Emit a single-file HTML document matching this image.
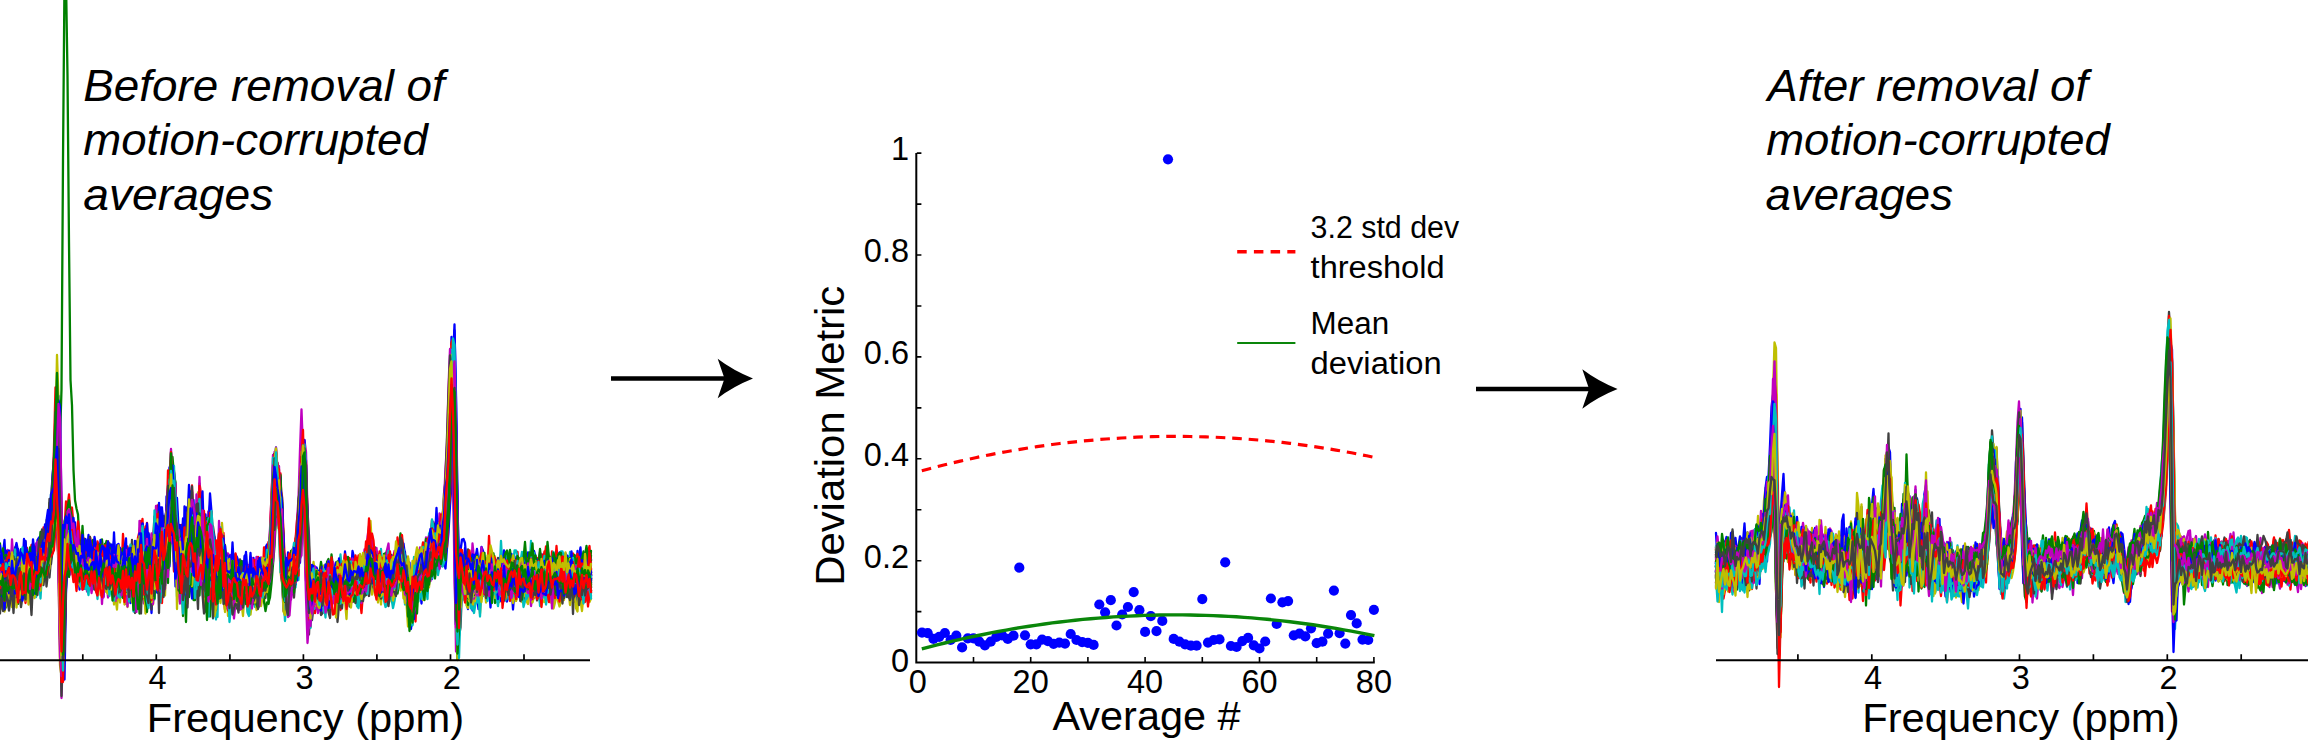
<!DOCTYPE html>
<html lang="en"><head><meta charset="utf-8"><title>Removal of motion-corrupted averages</title>
<style>html,body{margin:0;padding:0;background:#fff}body{width:2308px;height:752px;overflow:hidden}svg{display:block}text{font-family:"Liberation Sans", "DejaVu Sans", sans-serif;fill:#000}.it{font-style:italic;font-size:44px}.tk{font-size:32.5px}.lb{font-size:40px}.lg{font-size:31px}.sp path{fill:none;stroke-width:4.6;stroke-linejoin:round;stroke-linecap:round}</style></head><body>
<svg width="2308" height="752" viewBox="0 0 2308 752">
<rect width="2308" height="752" fill="#fff"/>
<g class="sp" transform="scale(.5)">
<path stroke="#0000ff" d="M0 1113l3 18 3 10 3 8 3-10 3 5 3-15 3 31 3-19 3-5 3 15 3 2 3-14 3-2 3 11 3-5 3 9 3-22 3 14 3 28 3-24 3-19 3 4 3 20 3-31 3 2 3-4 3-19 3 31 3-22 3 8 3-31 3-14 3-4 3-20 3 7 3-48 3 4 3-91 3-12 3 78 3 134 3 97 3 9 3-133 3-13 3-38 3 6 3-17 3 31 3-18 3 55 3-24 3 31 3-5 3 43 3 6 3-47 3 45 3-10 3 0 3 11 3-18 3 27 3-1 3-36 3 28 3-28 3 5 3-15 3 18 3 44 3-18 3-2 3-27 3 18 3 14 3-17 3 14 3-15 3 9 3-19 3 17 3-14 3 21 3-13 3 21 3-18 3 11 3 7 3 5 3-6 3-21 3 75 3-117 3 92 3-76 3 17 3-19 3 23 3 15 3-1 3-28 3-48 3 50 3 62 3-60 3-15 3-84 3 135 3-15 3-36 3-6 3 28 3-113 3 26 3-50 3-12 3 130 3-1 3-47 3 74 3 33 3-10 3-41 3 73 3-37 3 10 3-36 3-81 3 66 3 25 3-29 3 25 3-6 3-68 3 32 3 67 3-48 3-33 3 5 3-20 3 76 3-8 3 63 3-81 3 35 3-49 3 40 3-49 3 80 3-14 3-14 3 10 3 12 3 30 3-58 3 11 3-8 3 1 3 28 3-11 3-38 3 59 3-19 3 17 3-38 3 25 3 21 3-7 3 14 3 13 3 7 3-34 3 6 3-24 3 16 3-18 3-29 3 45 3-9 3-51 3-51 3-1 3-62 3-37 3 40 3-6 3 71 3 46 3 43 3 60 3 4 3-54 3-14 3 19 3-39 3 8 3 3 3-14 3-16 3-45 3-57 3-34 3 63 3 44 3 91 3 47 3-37 3 29 3-43 3 29 3 13 3-5 3-51 3 13 3 26 3-24 3-15 3 41 3-10 3-19 3 6 3 13 3-32 3 19 3-6 3-26 3 31 3-36 3 37 3 7 3-8 3-10 3 3 3 3 3 28 3-5 3-11 3-17 3-14 3 60 3-40 3 3 3-9 3-12 3 1 3-16 3-44 3 22 3 35 3 5 3 12 3 15 3-31 3 24 3 8 3-10 3-35 3 17 3 4 3 1 3-14 3 1 3 30 3-22 3-5 3-25 3 3 3 42 3-40 3 25 3 38 3-32 3 35 3 16 3-6 3-22 3-5 3 11 3-18 3-16 3-1 3-8 3 6 3 28 3-50 3 18 3 4 3-23 3 11 3-27 3 22 3-46 3 34 3 2 3-5 3 11 3-41 3-31 3-54 3-41 3-122 3-72 3 92 3 163 3 156 3 17 3-29 3-19 3 18 3 29 3 15 3-58 3 30 3 31 3-26 3-10 3 6 3 27 3-55 3 14 3 11 3-15 3 12 3 2 3-17 3 45 3-46 3 9 3-4 3-1 3-7 3-1 3 8 3 20 3-15 3 17 3 8 3-21 3 3 3-15 3 49 3-40 3 2 3 7 3-21 3 35 3-18 3 11 3-5 3 11 3-13 3-17 3 10 3-3 3 16 3-36 3 30 3-10 3-8 3 11 3-13 3 10 3-24 3 16 3 0 3 17 3-22 3-9 3 8 3 18 3-5 3-6 3 1 3 18 3-49 3 29 3-2 3 6 3-2 3-27 3 42 3-8 3 8 3-6 3-28 3 32 3-4 3 20 3-23 3-8 3 10 3 1 3-15"/>
<path stroke="#008000" d="M0 1132l3 27 3-13 3-10 3 8 3-6 3 10 3-11 3 39 3-51 3 15 3 27 3-62 3 25 3-31 3 51 3-25 3-5 3 5 3 28 3-34 3 14 3-7 3-23 3 14 3-10 3-4 3 5 3-4 3-3 3 32 3-1 3-64 3-21 3-3 3-2 3-39 3 13 3-34 3-69 3 85 3 70 3 111 3-17 3-83 3-12 3-24 3-1 3 7 3 5 3 13 3 17 3 5 3 13 3 36 3-10 3-24 3 29 3-2 3-2 3-43 3 18 3-24 3 55 3-34 3 8 3-21 3 42 3-51 3 32 3-17 3-12 3 21 3-16 3 32 3-18 3 37 3-1 3-32 3 17 3 16 3-39 3 16 3 21 3-8 3 35 3 5 3 3 3-17 3 10 3-28 3-1 3 12 3-13 3-3 3 48 3-76 3 83 3-91 3 36 3-8 3 36 3-40 3 6 3-31 3-3 3 8 3 58 3-75 3 16 3 14 3 10 3 6 3-55 3-30 3-27 3 31 3 40 3-27 3 32 3 15 3-22 3-8 3-12 3 44 3 28 3 9 3-61 3 37 3-50 3 37 3 41 3-40 3-7 3-83 3 148 3 1 3-28 3-11 3 21 3-34 3-5 3-34 3 56 3 37 3-15 3-19 3 2 3-1 3-15 3 48 3 44 3-56 3 17 3 0 3-62 3 66 3-33 3 5 3 6 3 32 3-44 3 8 3 3 3-1 3 30 3-55 3 30 3 17 3-28 3 32 3-12 3 0 3-18 3 9 3 17 3-15 3 0 3-11 3-2 3-43 3 25 3-47 3-26 3-43 3-23 3 46 3-1 3 21 3 83 3 17 3 43 3-38 3 3 3 17 3-29 3-33 3 1 3 11 3-31 3-47 3 25 3-127 3-9 3 55 3 58 3 88 3 18 3 10 3-10 3-11 3 5 3 28 3-39 3-23 3 18 3-3 3 18 3-33 3-6 3 42 3-51 3 26 3 11 3-21 3 35 3-5 3-16 3 2 3-18 3 14 3 12 3 18 3-8 3-23 3 4 3-10 3 34 3-22 3 54 3-55 3 0 3-14 3-10 3 32 3-58 3 24 3-41 3-3 3 52 3 11 3-31 3 9 3 1 3 0 3 19 3-24 3 17 3-24 3-2 3 43 3-32 3 22 3-7 3 5 3 9 3-27 3 23 3-21 3-6 3 2 3 33 3 5 3 14 3 17 3-10 3-3 3-7 3-31 3-5 3-5 3-3 3 30 3-21 3 3 3-44 3 35 3-30 3-32 3 31 3-7 3 22 3-40 3 34 3-13 3 8 3-32 3 13 3-16 3-36 3-70 3-53 3-62 3-24 3 129 3 134 3 183 3-54 3-34 3-39 3-10 3 51 3 3 3-3 3-18 3-11 3 14 3 3 3-15 3 19 3-31 3 32 3-29 3 8 3-4 3 29 3-32 3 9 3-7 3 16 3-20 3 14 3 20 3-22 3 22 3-2 3-29 3 26 3-4 3-8 3 6 3-3 3-30 3 31 3-23 3 2 3-15 3 34 3-16 3 15 3-4 3-7 3-30 3 35 3 0 3 8 3 4 3-25 3 3 3 34 3-2 3-7 3-14 3-19 3 37 3-14 3-9 3 30 3-24 3 1 3 3 3 11 3-50 3 27 3-9 3 32 3-21 3 11 3-4 3-24 3 4 3 21 3 4 3 15 3-37 3 40 3-27 3-12 3-2 3-11 3 9 3 18 3-16 3 30 3-11"/>
<path stroke="#ff0000" d="M0 1126l3 11 3-4 3 23 3-43 3 34 3-13 3 11 3-11 3 24 3-22 3-5 3 32 3-43 3 36 3-5 3-1 3-34 3 29 3-2 3-17 3 3 3-20 3 29 3 2 3-1 3-2 3-30 3 1 3 8 3-11 3 29 3-66 3-5 3 31 3-49 3-29 3-50 3-1 3-40 3-1 3 99 3 180 3 94 3-129 3-74 3-13 3 28 3-34 3 37 3-2 3-17 3 21 3 17 3 4 3-10 3-2 3 8 3 14 3-21 3-6 3 36 3-31 3 22 3-5 3-21 3 37 3-20 3-33 3 4 3 34 3 6 3-41 3 21 3 1 3 33 3-29 3 32 3-18 3-35 3 7 3-7 3 26 3-6 3 16 3-54 3 57 3 22 3-23 3-42 3 41 3-23 3 43 3-26 3 7 3-19 3-38 3-20 3-26 3 56 3 59 3 3 3 15 3-48 3 22 3-32 3 22 3-86 3 63 3-34 3 26 3-93 3 100 3-102 3-78 3 13 3-7 3 82 3 2 3 64 3-42 3 114 3-69 3 44 3-2 3-42 3 25 3-29 3-74 3 76 3 13 3-23 3 68 3-66 3 67 3-33 3 20 3 53 3-66 3 65 3-96 3-11 3 76 3-13 3 10 3 37 3-24 3-33 3-23 3-49 3 61 3 22 3-16 3 5 3 26 3-9 3 17 3-7 3 36 3-8 3-45 3 28 3 9 3-33 3-23 3 19 3 9 3 6 3-33 3 0 3 25 3 8 3-8 3-7 3 10 3 2 3 1 3 11 3-24 3-15 3 20 3-20 3-55 3-12 3-84 3-13 3 43 3-32 3 12 3 76 3 60 3 22 3 44 3-13 3-27 3-18 3 4 3-17 3-14 3 25 3-35 3-36 3-74 3-30 3-39 3 117 3 60 3 80 3 12 3-24 3 29 3-26 3 14 3 22 3-35 3 37 3-29 3 15 3 0 3-29 3 18 3 8 3-19 3 21 3-33 3 33 3-21 3 17 3-19 3 26 3-12 3-14 3 34 3-15 3-10 3 13 3 0 3-16 3-1 3 37 3-11 3 27 3-42 3-14 3 16 3 0 3-40 3 0 3-50 3 24 3 67 3-31 3 4 3 1 3 12 3 22 3-25 3 11 3-35 3 19 3-12 3 36 3-18 3 0 3 5 3-11 3 10 3-38 3 17 3-1 3 6 3 22 3 14 3-17 3 21 3 45 3-30 3 29 3-63 3-17 3 2 3 18 3-29 3-21 3 3 3 20 3-27 3-34 3-5 3-10 3 18 3-13 3 17 3 6 3 18 3-17 3-22 3 2 3 4 3-74 3-27 3-93 3-64 3-75 3 112 3 154 3 219 3-25 3-62 3 6 3-14 3 2 3-4 3 5 3 30 3-45 3 8 3 16 3-24 3 18 3 5 3 12 3 19 3-41 3-13 3 5 3 0 3-19 3 51 3-35 3-20 3 30 3-29 3 34 3 4 3 19 3-40 3-4 3 2 3 2 3-7 3 13 3 23 3-26 3-4 3-33 3 46 3-9 3 26 3 2 3-11 3-34 3 19 3 1 3 10 3-12 3-12 3 4 3 11 3-6 3-2 3-2 3 5 3 8 3 17 3-20 3 3 3 0 3 7 3 13 3-32 3 20 3-10 3 6 3 12 3-26 3 33 3-20 3 7 3-5 3 13 3-29 3-8 3 9 3 15 3 15 3-47 3 57 3-10 3-22 3-1 3 21 3-23 3 25 3-29"/>
<path stroke="#00bfbf" d="M0 1124l3 30 3-38 3 42 3-7 3-18 3 23 3 1 3-50 3 38 3-1 3-10 3-19 3 23 3 21 3-39 3 10 3 7 3-9 3-13 3 13 3-11 3-3 3 9 3-11 3 12 3-10 3-12 3 17 3 12 3-32 3 21 3-34 3-20 3 9 3-8 3-25 3-18 3-54 3 4 3 69 3 151 3 30 3-93 3-61 3-4 3-50 3 2 3 23 3 14 3 33 3 15 3-16 3 1 3 32 3-4 3-19 3 22 3-25 3 11 3 65 3-56 3 36 3-19 3 9 3-53 3 39 3 0 3 19 3-36 3 28 3 20 3-42 3 15 3 13 3 3 3 4 3-23 3 29 3-27 3-4 3 29 3-3 3-7 3 34 3-35 3-32 3 18 3 32 3 1 3-75 3 55 3-26 3-16 3-27 3 27 3-26 3 34 3-37 3 87 3-25 3-6 3 4 3-26 3 25 3-30 3 11 3 0 3 70 3-35 3 0 3-19 3-68 3 32 3-50 3-1 3 13 3 15 3 105 3-72 3-19 3 49 3-2 3 51 3-78 3 34 3-20 3-14 3-25 3 0 3 33 3 38 3-2 3-109 3-2 3 32 3 12 3-6 3 24 3 35 3-3 3 19 3-55 3 22 3-23 3 87 3-23 3-34 3 36 3-62 3 36 3 17 3 14 3 33 3-37 3 42 3 0 3-29 3 16 3-19 3 39 3-36 3 16 3-18 3 2 3-23 3 3 3 45 3 1 3-33 3 17 3-25 3 17 3-17 3 15 3 8 3-15 3 9 3-7 3 3 3-33 3-4 3-15 3-50 3-85 3-11 3 70 3-34 3 97 3 34 3 45 3 37 3-53 3-1 3-14 3-5 3 28 3-1 3-44 3-6 3-58 3-7 3-107 3 19 3 131 3 26 3 79 3 23 3-22 3 6 3-5 3-14 3-24 3 28 3-21 3 19 3-9 3-34 3 8 3 6 3 12 3 28 3-60 3 19 3 2 3 22 3-22 3-4 3-23 3 28 3 8 3-21 3 17 3-6 3-10 3 10 3 5 3 6 3-14 3-33 3 44 3-21 3-5 3-33 3 59 3-51 3 2 3-32 3 14 3 21 3-7 3 10 3 6 3 19 3-61 3 52 3 14 3-16 3 6 3-2 3-21 3 26 3-4 3-15 3 21 3-34 3 28 3-34 3 20 3-24 3 34 3 4 3 17 3 0 3-2 3 24 3-14 3-37 3 25 3-21 3 28 3-20 3-29 3-11 3 21 3-10 3-19 3 23 3-15 3-20 3 29 3-27 3 20 3-7 3-4 3-17 3 2 3-43 3-25 3-22 3-91 3-54 3-89 3 48 3 107 3 208 3 61 3 12 3-17 3 5 3-4 3 9 3-6 3 7 3 3 3-5 3-2 3 7 3-7 3-1 3-33 3 18 3-19 3 5 3 30 3-30 3 17 3 0 3 17 3-47 3 28 3-3 3-14 3-32 3 22 3 39 3 3 3 10 3-33 3 2 3-4 3 29 3-9 3-17 3 6 3 10 3 1 3-31 3 23 3 1 3 1 3-16 3 16 3-6 3-18 3 26 3 3 3-6 3 5 3-29 3 57 3-30 3-33 3 21 3 39 3-20 3-18 3 27 3-24 3 29 3-36 3 16 3 4 3-6 3 10 3-9 3-15 3 26 3-17 3 5 3-13 3 10 3-4 3-23 3 26 3 2 3 5 3-8 3 15 3-5 3-26 3 25 3 20 3-27 3 13"/>
<path stroke="#bf00bf" d="M0 1165l3-30 3 25 3 30 3-63 3 19 3 20 3-7 3-19 3 18 3-11 3-17 3 20 3-11 3 3 3 4 3 17 3-40 3 32 3-19 3 30 3-27 3-9 3 19 3-5 3-44 3 8 3 26 3-37 3 11 3-25 3 13 3-36 3-19 3-12 3-18 3-68 3 19 3-44 3 72 3 154 3 138 3-70 3-109 3-51 3 29 3-13 3-3 3 4 3-2 3 11 3 23 3 43 3-38 3 4 3 9 3-6 3 24 3-33 3 15 3 27 3-22 3-12 3 14 3 4 3-21 3 17 3 4 3-7 3 7 3 8 3-3 3-18 3 1 3 10 3 27 3-23 3-12 3-1 3 38 3-32 3 1 3 4 3-20 3 98 3-49 3 6 3-60 3 40 3-35 3 38 3-14 3 7 3-54 3 31 3-19 3-6 3 44 3 48 3-2 3-26 3-87 3 66 3-53 3-36 3 59 3-13 3 38 3-42 3-12 3 48 3-65 3-16 3-90 3-56 3 52 3 88 3 49 3-34 3 31 3 22 3 28 3 15 3-41 3-15 3-67 3 0 3 3 3-37 3 171 3-50 3-68 3 2 3 12 3 24 3-14 3 72 3-68 3 75 3-11 3 4 3 5 3 51 3-50 3-17 3 26 3 11 3-38 3-21 3 55 3-15 3-42 3 55 3 14 3 10 3-47 3 35 3-9 3-39 3 42 3-18 3 2 3 20 3 7 3-55 3 10 3 22 3-42 3 45 3-2 3 16 3-21 3-5 3 12 3 1 3 8 3-1 3-11 3-36 3 5 3-26 3-68 3-71 3-55 3 20 3 41 3-5 3 28 3 72 3 71 3 12 3 1 3-14 3-3 3 17 3-5 3-32 3 7 3-25 3-65 3-21 3-60 3-60 3 63 3 110 3 114 3 11 3-7 3 0 3 10 3-20 3 16 3 1 3-18 3 18 3-22 3-6 3 23 3-5 3 0 3 5 3-13 3 13 3-1 3 11 3-22 3-5 3-7 3 19 3 6 3 15 3-25 3-12 3 3 3 8 3-24 3 29 3 14 3-11 3-16 3 5 3-38 3 35 3-13 3 10 3-9 3-46 3 8 3 57 3-24 3 3 3-13 3 27 3 10 3-3 3-16 3 28 3-22 3 6 3 7 3 10 3-18 3-20 3 3 3-16 3 32 3-36 3 25 3-11 3 23 3-23 3 43 3 3 3 68 3-55 3 32 3-24 3-29 3-31 3 31 3-30 3 24 3-39 3 9 3-15 3-3 3 6 3-4 3-25 3-8 3-7 3 9 3 9 3-7 3 0 3-15 3-36 3-39 3-48 3-71 3-115 3-66 3 5 3 185 3 249 3 50 3-67 3-4 3 21 3 3 3 53 3-48 3-8 3 35 3 25 3-35 3-16 3 20 3-28 3 6 3 11 3-12 3-6 3 13 3 22 3 6 3 5 3-6 3-39 3 8 3 26 3-32 3 32 3-22 3 0 3 13 3-6 3 8 3-6 3-16 3 30 3-20 3 26 3-40 3 39 3 0 3-13 3-2 3 1 3-9 3 27 3-42 3 33 3-4 3 5 3-2 3-25 3 17 3-11 3-31 3 19 3 8 3 31 3-33 3-5 3 13 3 20 3-20 3 8 3-30 3 11 3 2 3 15 3-2 3-23 3 2 3-8 3 15 3 4 3-11 3 21 3-8 3 6 3-20 3 30 3-11 3-8 3-8 3 9 3-4 3 6 3 10 3-19 3-17 3 17"/>
<path stroke="#bfbf00" d="M0 1210l3-45 3 20 3-57 3 20 3 29 3-15 3-4 3 24 3-35 3 14 3 14 3-14 3-9 3-15 3-10 3 43 3-22 3 28 3-40 3 26 3-34 3-3 3 26 3-40 3 3 3-13 3 30 3 9 3-34 3-12 3 20 3-27 3 22 3-43 3-25 3-57 3-1 3-65 3 35 3 76 3 159 3 101 3-157 3 8 3 2 3-55 3 29 3 21 3-15 3-3 3 33 3-22 3 21 3-45 3 29 3-11 3 18 3-1 3 30 3-13 3-25 3-32 3 72 3-55 3-8 3 61 3-12 3 18 3-37 3 20 3 10 3-3 3-6 3 21 3-45 3 29 3-5 3-10 3 18 3-19 3 37 3-19 3-31 3 15 3-35 3 36 3 29 3-12 3-24 3 13 3 16 3-69 3 72 3-65 3 11 3-26 3 49 3 15 3-31 3 51 3-5 3-1 3-11 3-74 3-12 3 3 3 60 3 10 3-9 3-53 3-41 3 46 3-50 3-32 3-27 3 78 3 32 3 22 3-8 3-8 3 41 3 9 3 31 3-4 3-71 3-16 3-51 3 67 3-35 3 11 3 1 3 25 3-100 3 28 3 82 3 53 3-4 3-23 3-2 3-32 3 74 3 33 3-131 3 76 3 23 3 15 3-76 3 37 3 15 3 41 3-8 3-9 3 26 3-79 3 28 3 2 3-13 3 41 3-31 3-9 3 37 3 28 3-47 3 9 3 4 3-11 3 20 3-7 3-9 3 5 3-9 3-31 3 31 3 11 3-43 3 22 3 0 3-11 3-40 3 10 3-57 3-57 3-59 3-10 3 75 3-22 3-32 3 117 3 33 3 37 3 20 3-37 3 7 3-26 3 43 3-27 3-22 3 26 3-55 3-17 3-67 3-101 3 51 3 52 3 134 3 26 3 21 3-5 3-31 3 21 3 8 3-12 3-9 3 16 3-5 3-15 3 17 3 4 3-18 3-8 3 22 3 7 3-17 3 6 3-12 3 19 3-24 3-6 3-17 3 8 3 39 3-40 3 33 3-4 3-27 3 44 3-14 3-3 3-5 3 26 3-36 3-11 3 32 3-24 3-12 3-27 3 13 3 1 3 12 3 34 3 25 3-43 3-6 3 13 3-1 3 3 3 12 3-22 3-11 3 0 3 8 3 24 3-4 3 13 3-24 3-32 3 17 3 35 3-38 3 11 3 2 3 25 3 0 3 12 3 16 3 0 3-21 3 4 3-16 3-5 3-15 3 12 3-26 3 7 3 4 3-34 3-15 3 22 3-26 3-8 3-3 3 18 3 13 3 10 3-49 3 10 3-32 3-44 3-85 3-36 3-76 3-70 3 73 3 246 3 195 3-52 3-24 3-33 3-12 3 2 3 25 3 18 3-41 3 30 3 10 3-33 3 4 3 10 3-13 3 33 3-27 3 9 3 5 3 0 3 11 3-57 3 26 3 10 3-7 3 23 3-50 3 3 3 22 3 20 3-38 3 31 3-30 3-2 3-14 3 40 3-22 3-5 3 54 3 0 3-59 3 30 3 7 3-18 3 17 3-11 3 1 3-29 3 0 3 30 3-6 3 10 3-22 3 0 3 17 3-13 3 11 3-7 3-4 3 16 3-1 3-6 3-19 3-7 3 29 3-6 3 6 3-7 3 18 3-2 3-13 3-24 3 19 3 8 3 0 3 38 3-22 3-32 3 18 3 15 3 2 3-17 3 1 3-3 3 1 3 22 3-3 3-15 3 24 3-22"/>
<path stroke="#404040" d="M0 1159l3-6 3 2 3 15 3-9 3 3 3-27 3 1 3-40 3 45 3-6 3-29 3 38 3-2 3-33 3 30 3-3 3-16 3-3 3 19 3-12 3 40 3-8 3-27 3 24 3-8 3-32 3 20 3-33 3 18 3-42 3 30 3 22 3-13 3-50 3 0 3-40 3-11 3-47 3 6 3 3 3 62 3 189 3 54 3-131 3-31 3 5 3-8 3 18 3-17 3 4 3 42 3-31 3-11 3 36 3-59 3 36 3-21 3 39 3-10 3-15 3 4 3 12 3 21 3-53 3 25 3-26 3 14 3 13 3-9 3 2 3 27 3-44 3 13 3 5 3-9 3 23 3 7 3-9 3-21 3 50 3-47 3 9 3-5 3 15 3 33 3-47 3 6 3-58 3 73 3-35 3 36 3-24 3-33 3 9 3 13 3-53 3 54 3-20 3 44 3-30 3 38 3-10 3 34 3-21 3-35 3 1 3-17 3 6 3 31 3-51 3 62 3-12 3-58 3-37 3-36 3-4 3 93 3-61 3 19 3 66 3 29 3-12 3 8 3-34 3 18 3 21 3-32 3-11 3 23 3 1 3-5 3-4 3 16 3 29 3-49 3 66 3-38 3 25 3-6 3-64 3 57 3 14 3-39 3 50 3-9 3-11 3-15 3-29 3 35 3 46 3-44 3 1 3 48 3-20 3-18 3 13 3 17 3-3 3-62 3 62 3-11 3-16 3 12 3-39 3 34 3-26 3 37 3 15 3-35 3-6 3 10 3 7 3-25 3 12 3 18 3-30 3 18 3-1 3-44 3-18 3 12 3-19 3-69 3-96 3 41 3 34 3 16 3-32 3 87 3 73 3 7 3-3 3 12 3-26 3-11 3 24 3-29 3 5 3-33 3-5 3-47 3-79 3-22 3 11 3 63 3 49 3 95 3 1 3-8 3 13 3-4 3-7 3 9 3-36 3 47 3 12 3-30 3 30 3-37 3 15 3 27 3-33 3-22 3 36 3-7 3-2 3-20 3 28 3-3 3 10 3-9 3-10 3 14 3-32 3 0 3 2 3-12 3 16 3-22 3 24 3 4 3 13 3-36 3 28 3-22 3 6 3-17 3-47 3 34 3-11 3 37 3-10 3 34 3 3 3-41 3 14 3 21 3-1 3-8 3-22 3-22 3 30 3 13 3-15 3-23 3 21 3-6 3-9 3 4 3-24 3 53 3-9 3-8 3 20 3 4 3 52 3-25 3-42 3-1 3 12 3-43 3 22 3-10 3 4 3 8 3-34 3-29 3 27 3-17 3-11 3 24 3-13 3-15 3 32 3-19 3-37 3 18 3-22 3-48 3-67 3-77 3-58 3-77 3 169 3 247 3 124 3-79 3-18 3-12 3 5 3 20 3-15 3 23 3-22 3-3 3-16 3 36 3-23 3 11 3-33 3 20 3-4 3-9 3-3 3-20 3 25 3-29 3 19 3 1 3 9 3 10 3-35 3 27 3-35 3 31 3 12 3 20 3 8 3-12 3 1 3-31 3 31 3-29 3 61 3-52 3 9 3 16 3-15 3-7 3 16 3-1 3-26 3 15 3 6 3 11 3-6 3-19 3 13 3 0 3 0 3 16 3-31 3 29 3-11 3-15 3 31 3-31 3 12 3-6 3 28 3-8 3-40 3 19 3 33 3-27 3 10 3-19 3 13 3 8 3 4 3 0 3-11 3-10 3 4 3 27 3-33 3-5 3 36 3-8 3-11 3 24 3-32 3 9 3 16"/>
<path stroke="#0000ff" d="M0 1145l3 6 3 12 3-8 3-5 3 2 3 22 3 6 3-35 3 32 3-16 3 13 3-25 3-6 3 28 3-33 3 15 3 12 3-29 3-14 3 3 3 16 3-5 3-3 3-19 3 29 3-8 3-14 3-19 3 26 3-19 3-24 3 20 3 4 3-55 3-18 3-32 3 11 3-63 3-10 3 75 3 130 3 159 3-80 3-54 3-82 3 45 3-52 3 52 3-15 3-9 3 26 3-23 3 65 3-13 3-75 3 63 3-27 3 16 3 1 3 9 3 18 3-30 3-25 3 27 3 0 3-4 3 33 3-11 3 32 3-72 3 20 3 19 3-16 3-13 3 18 3-10 3 41 3-15 3-5 3 16 3 17 3-25 3-22 3 40 3-56 3 39 3 9 3 0 3-16 3-22 3-2 3 5 3-44 3 47 3-43 3 68 3-64 3 68 3-35 3 16 3 70 3-90 3 11 3 37 3-14 3-62 3 21 3-1 3 30 3-71 3-74 3 115 3-149 3 38 3-50 3 74 3 14 3 36 3 24 3-24 3 36 3 1 3 17 3-9 3-9 3-27 3-9 3-50 3 46 3 35 3-95 3 163 3-130 3 30 3 27 3 14 3-51 3 60 3-68 3 21 3-43 3 22 3 46 3-4 3 49 3-28 3 26 3-62 3 4 3 38 3 12 3-16 3 43 3-26 3-18 3 3 3 0 3 18 3-9 3 3 3 33 3-34 3-19 3 21 3 12 3-20 3 37 3-11 3-54 3 40 3 12 3-7 3-1 3 1 3-2 3 3 3 25 3-44 3 21 3-17 3-33 3-53 3-55 3-37 3 9 3 59 3-6 3 45 3 70 3 25 3 27 3-37 3-8 3-30 3 41 3-37 3-8 3 13 3-35 3-61 3-47 3-40 3-7 3 59 3 97 3 63 3 31 3-35 3 2 3 4 3 21 3-9 3-24 3 14 3-26 3 27 3-4 3-25 3 12 3 17 3-17 3-9 3 6 3 17 3 0 3-26 3 10 3 5 3-4 3-45 3 28 3 18 3 5 3-8 3-44 3 13 3 30 3-23 3 2 3 5 3 0 3-1 3 3 3-14 3 1 3 4 3-50 3 37 3-13 3 26 3-16 3 8 3 20 3-15 3 17 3-5 3 1 3-4 3 27 3-13 3-30 3 37 3-17 3 2 3-34 3 14 3-2 3 43 3-18 3-28 3 32 3 14 3-11 3 27 3 24 3-36 3-28 3 13 3-3 3-17 3 16 3-13 3-11 3-14 3 10 3-29 3-5 3-6 3-7 3 20 3-5 3 5 3-2 3 40 3-43 3-24 3-17 3-38 3-40 3-42 3-114 3-51 3 38 3 168 3 236 3-37 3-23 3-10 3 5 3-1 3 2 3 20 3 5 3 23 3-53 3 22 3-2 3-10 3 8 3-10 3-4 3 17 3 3 3-28 3 28 3-8 3-5 3 0 3 46 3-51 3 17 3-6 3-5 3 9 3-12 3 17 3-10 3 5 3-5 3 11 3-20 3-19 3 23 3-8 3-1 3 12 3-13 3-10 3 22 3 35 3-38 3-32 3 25 3-15 3 11 3-1 3-7 3 41 3-31 3-4 3 13 3-2 3-21 3 18 3-5 3 5 3-11 3-11 3 27 3-11 3 8 3-8 3-3 3-2 3-8 3 13 3-8 3-7 3 13 3-10 3 26 3-4 3-9 3 3 3 4 3-22 3-17 3 50 3-37 3 18 3-9 3-15 3 9 3 8"/>
<path stroke="#008000" d="M0 1139l3 10 3-4 3-2 3-7 3-12 3 7 3 25 3-24 3-4 3-9 3 10 3 36 3-27 3-13 3 2 3 25 3-11 3-38 3 40 3-9 3 11 3-22 3-1 3-18 3 19 3 0 3-3 3-28 3 9 3 26 3 1 3-52 3 4 3-21 3-26 3-44 3-16 3-2 3 5 3 60 3 114 3 141 3-122 3-68 3-42 3 3 3 0 3 8 3-21 3 33 3 8 3 64 3-45 3 15 3-28 3-3 3 6 3 20 3 15 3-17 3-34 3 41 3-3 3-22 3 19 3 29 3-53 3 27 3 10 3 13 3-37 3-16 3 21 3 22 3-15 3 19 3-1 3-11 3 13 3-29 3 40 3-26 3 34 3 12 3-65 3 41 3-13 3-9 3-9 3-4 3 25 3-26 3-28 3 56 3-72 3 4 3 29 3 26 3-57 3 31 3 15 3 2 3-26 3 40 3-11 3-18 3-12 3 32 3-30 3 37 3-101 3 14 3-32 3 53 3-148 3 37 3 13 3 138 3 26 3 5 3-54 3 75 3-14 3 26 3-112 3 54 3 1 3-23 3 31 3 62 3-73 3 19 3 9 3 20 3-14 3 4 3-30 3-77 3 35 3 5 3 20 3 11 3 18 3 25 3-48 3-29 3 81 3-89 3 30 3 7 3 80 3-35 3 7 3 4 3 9 3 15 3-23 3 20 3-11 3-26 3-10 3 28 3-3 3-8 3 35 3-14 3-7 3-3 3-15 3-5 3 31 3 5 3 32 3-41 3 7 3-8 3 20 3-24 3-32 3-3 3-2 3-48 3-37 3-121 3 52 3 28 3-8 3 13 3 94 3 55 3 6 3 2 3 14 3-29 3 10 3-6 3 3 3-41 3-3 3-38 3-40 3-116 3-4 3 42 3 125 3 60 3 63 3 11 3-24 3-8 3 20 3-27 3 7 3 17 3 15 3-32 3-10 3 20 3-25 3 7 3 2 3-2 3 0 3-4 3-27 3 19 3 3 3-25 3 35 3-7 3-17 3 6 3 37 3-31 3 9 3-19 3 0 3 4 3 34 3-17 3-21 3 9 3-29 3 0 3 14 3-21 3-20 3 3 3 20 3-33 3 60 3-15 3 17 3 9 3-31 3 22 3-51 3 42 3-29 3 33 3 0 3-7 3-26 3 34 3-12 3-17 3 2 3-6 3 17 3 19 3-5 3 23 3-11 3 47 3-2 3-20 3-48 3 15 3 3 3 11 3-43 3 47 3-45 3-1 3 13 3-16 3-21 3-3 3-17 3 36 3-8 3 3 3-1 3-11 3-45 3-10 3-13 3-30 3-61 3-111 3-104 3-48 3 36 3 192 3 218 3 70 3-64 3-2 3 21 3-21 3 24 3 14 3-9 3-8 3 25 3 4 3-16 3-1 3-25 3 25 3-20 3 20 3-12 3 10 3 0 3-25 3 25 3-10 3-5 3 8 3 11 3-19 3 21 3-10 3-17 3 18 3 38 3-25 3-9 3 3 3 3 3-40 3 16 3 19 3 9 3-21 3 32 3-19 3 1 3-15 3-7 3 13 3-23 3 12 3 21 3 0 3-26 3 23 3-10 3-11 3 5 3 22 3-32 3 5 3 15 3-20 3 12 3-29 3 50 3-18 3-23 3 4 3-10 3 16 3-7 3-14 3-5 3 10 3 9 3-18 3 24 3 0 3 0 3-1 3 6 3-1 3-13 3 14 3-12 3 6 3-13 3 33 3-16 3-30"/>
<path stroke="#ff0000" d="M0 1161l3-23 3 13 3 11 3 21 3-3 3-7 3-9 3 11 3-24 3 8 3 22 3-38 3 32 3-6 3-8 3 7 3 38 3-33 3-21 3-10 3 21 3-16 3-5 3 25 3-34 3-15 3 8 3 5 3 6 3 8 3-16 3-38 3-7 3-19 3-20 3-20 3-26 3-16 3-5 3 62 3 165 3 27 3-121 3-54 3-4 3 16 3-9 3-12 3 51 3 22 3-18 3 20 3 8 3 7 3 19 3-9 3-10 3 11 3-6 3 7 3 25 3-54 3 6 3 20 3 13 3-45 3 38 3 16 3-32 3-27 3 41 3-20 3 38 3-16 3 13 3-48 3 37 3-19 3 31 3-58 3 33 3 45 3-32 3-1 3 15 3-49 3 44 3-64 3 72 3-19 3-32 3 3 3 16 3 7 3-48 3 103 3-68 3 32 3-12 3-50 3 21 3 69 3-85 3 34 3 4 3-8 3 11 3 56 3-73 3 10 3-61 3 11 3-1 3-149 3 4 3 12 3 77 3 86 3-19 3 41 3 12 3-67 3 65 3-50 3 35 3-66 3-30 3-17 3 51 3 54 3-19 3 37 3-33 3-21 3 28 3 39 3-38 3 38 3-51 3 67 3-96 3 43 3 77 3-55 3 5 3 26 3-73 3 48 3-4 3 7 3 31 3 10 3-12 3 8 3-23 3 7 3-1 3-34 3 50 3-15 3 0 3-6 3 26 3-6 3-20 3 20 3-61 3 19 3 35 3-11 3 25 3-3 3-14 3-3 3 4 3 2 3-42 3 19 3-23 3 0 3-30 3-35 3-94 3-45 3 22 3-2 3 46 3 72 3 81 3 5 3 33 3-27 3 1 3 1 3-13 3-8 3-2 3-67 3 38 3-88 3-41 3-52 3 2 3 89 3 58 3 122 3 50 3-59 3 5 3 26 3-21 3 15 3-20 3-5 3 1 3 0 3 11 3 5 3-50 3 21 3 16 3 6 3-41 3 40 3-20 3-9 3 45 3-32 3-23 3 2 3-1 3-6 3 38 3-40 3 29 3 6 3-16 3 4 3-9 3-15 3 13 3-18 3 34 3-17 3-27 3-2 3-35 3-15 3 78 3-45 3 5 3 59 3-14 3 1 3-5 3 27 3-26 3 5 3-20 3-4 3-17 3 23 3-10 3 1 3-34 3-19 3 28 3-45 3 27 3 39 3 27 3 23 3 7 3-12 3 13 3 0 3-22 3-28 3 16 3-6 3-51 3 63 3-47 3 18 3-24 3-4 3-4 3-12 3-10 3-44 3 47 3 18 3-39 3-2 3 26 3-48 3-10 3-62 3-33 3-87 3-73 3-78 3 67 3 214 3 270 3-44 3-54 3 0 3-14 3 1 3 42 3-28 3 5 3 16 3-2 3-13 3-15 3 27 3 8 3-18 3-9 3 9 3-4 3 1 3-6 3-23 3 30 3-5 3 13 3-16 3-6 3 7 3 13 3 5 3-6 3 11 3 6 3 6 3-44 3 41 3-2 3-41 3 13 3 28 3-10 3-18 3 10 3-3 3 0 3 3 3-19 3 8 3 15 3-14 3 3 3-1 3-6 3 17 3-13 3 5 3 2 3-14 3-3 3 15 3-8 3 7 3 3 3-4 3 10 3 3 3-6 3 16 3-10 3-16 3 35 3-44 3-4 3 15 3 1 3 19 3-21 3 8 3-2 3-4 3-7 3 38 3-35 3 17 3-8 3 7 3-52 3 36 3-29 3 54"/>
<path stroke="#00bfbf" d="M0 1123l3 6 3 39 3-40 3 27 3 5 3 9 3-2 3 24 3-27 3 12 3-47 3 7 3 1 3 22 3 4 3-23 3 17 3 16 3-33 3-15 3 3 3-1 3 6 3 0 3-16 3 0 3 33 3-26 3 12 3 13 3-70 3 11 3-37 3-3 3-52 3-51 3 17 3-36 3 76 3 156 3 120 3-112 3-50 3-47 3-33 3 24 3 23 3-23 3 28 3 34 3-22 3 24 3-6 3 31 3-25 3-11 3 12 3 9 3 8 3 13 3-39 3 25 3-25 3 28 3 37 3-56 3 15 3 21 3 0 3 11 3-15 3 22 3-6 3 12 3-49 3 65 3-69 3 24 3-19 3 11 3-5 3 18 3 10 3-7 3 22 3-10 3-14 3 7 3-29 3 51 3-59 3 13 3 34 3-74 3 33 3-25 3 45 3-22 3 31 3-13 3 2 3 7 3-46 3 18 3 18 3-39 3 47 3-2 3-1 3-41 3-82 3 45 3-115 3 9 3 84 3-1 3 19 3 115 3-78 3-53 3 71 3 9 3 10 3-2 3-13 3-42 3-38 3 26 3-18 3 87 3-39 3-26 3-10 3 28 3 73 3-100 3 67 3 54 3-81 3 34 3-62 3-12 3 71 3 28 3-27 3-35 3 9 3-6 3 46 3-14 3 30 3-25 3 44 3-19 3-29 3-19 3 40 3-10 3 15 3-8 3 1 3 3 3 28 3-19 3-5 3 5 3 14 3 14 3-55 3 19 3-10 3-2 3 43 3-45 3-2 3 20 3-1 3-2 3-63 3-1 3-21 3-108 3-37 3 51 3 29 3-55 3 99 3 64 3 50 3 59 3-43 3-24 3-27 3 38 3-49 3 19 3 12 3-56 3-4 3-51 3-56 3-48 3 50 3 121 3 62 3 31 3 5 3-32 3-4 3-20 3 24 3 5 3-9 3-11 3-4 3 11 3-14 3 13 3-5 3 3 3-17 3-23 3 30 3-12 3 15 3-15 3 8 3-27 3 40 3-2 3-35 3 38 3-1 3-3 3-13 3 7 3-1 3 0 3-1 3-22 3 32 3-6 3-7 3-30 3-5 3-3 3-15 3 7 3 22 3 17 3 8 3 16 3-9 3-9 3-15 3 27 3-17 3 19 3 3 3-6 3 3 3-3 3-13 3-33 3 1 3-6 3 4 3-12 3 57 3-24 3 31 3-25 3 40 3-6 3 25 3-58 3 11 3 15 3-33 3 5 3 4 3 14 3-20 3-17 3 7 3-44 3 22 3-10 3 2 3 5 3 2 3-18 3 14 3-23 3-1 3-6 3-67 3-34 3-92 3-107 3-44 3 25 3 167 3 217 3 65 3-32 3-21 3 9 3 23 3-17 3-28 3 19 3 11 3 9 3-1 3-17 3-16 3 12 3 1 3-2 3 25 3 3 3-43 3 23 3 5 3-8 3-4 3 2 3 8 3-13 3-8 3-15 3 15 3 9 3-1 3-1 3 11 3 15 3-23 3 7 3 8 3-4 3 6 3-29 3 6 3 24 3-18 3 5 3-1 3-12 3-11 3 45 3-41 3 23 3 19 3-32 3 3 3 20 3-20 3-6 3-6 3 16 3 11 3 15 3-39 3 18 3-3 3-3 3 40 3-52 3 10 3 15 3-27 3 13 3-16 3 38 3-4 3-25 3 19 3-15 3 28 3-42 3 36 3-43 3-2 3 32 3-4 3-4 3-2 3-12 3-2 3 12 3-23 3 30"/>
<path stroke="#bf00bf" d="M0 1176l3-34 3 4 3 0 3 8 3-2 3 10 3-15 3-68 3 46 3 27 3-25 3 12 3-27 3 32 3 8 3 18 3-11 3-38 3 5 3 0 3-6 3 0 3 5 3-38 3 30 3 0 3 14 3-30 3-23 3 7 3-14 3-14 3 8 3-11 3-69 3-14 3-14 3-4 3 86 3 170 3 62 3-113 3-71 3-24 3-23 3 26 3 10 3-7 3 19 3 27 3-17 3 27 3 16 3 18 3-49 3 3 3-11 3 6 3 25 3 29 3-34 3-11 3 2 3 9 3 22 3-27 3-5 3 24 3 6 3 8 3-11 3-6 3-7 3 31 3-29 3 4 3 40 3-27 3-28 3 62 3-23 3 0 3 8 3-63 3 23 3-4 3 3 3 10 3 22 3 24 3-58 3-14 3-13 3 74 3-80 3 113 3-49 3-1 3-64 3 75 3-21 3-38 3-5 3-48 3 14 3 2 3 27 3 31 3-25 3-29 3-2 3-42 3-44 3-31 3 50 3-1 3 110 3-77 3 50 3 32 3-53 3 14 3 20 3 58 3-76 3-52 3-15 3 55 3 32 3-16 3-19 3-83 3 67 3 2 3 90 3-19 3-24 3 8 3 8 3-3 3 10 3-2 3-28 3 37 3 23 3-49 3 39 3-29 3-16 3 1 3 86 3-53 3 47 3 33 3-68 3-5 3-27 3 17 3 41 3-18 3 21 3-6 3 25 3-12 3-13 3-25 3 9 3-10 3 12 3-7 3 9 3 19 3 24 3-46 3-8 3 6 3 0 3 8 3-66 3 4 3-101 3-37 3-9 3 17 3-17 3 28 3 77 3 55 3 49 3 38 3-60 3-17 3 46 3-40 3-20 3 4 3-21 3-49 3-44 3-97 3-81 3 83 3 105 3 59 3 96 3-26 3 2 3 21 3 16 3-42 3 40 3-21 3 1 3-9 3 23 3 7 3-33 3-7 3-12 3 15 3 24 3 3 3-17 3 15 3-28 3 1 3 2 3-11 3 16 3 5 3-27 3 36 3-14 3-12 3-13 3 22 3 7 3 6 3-25 3-7 3 6 3 21 3-48 3 36 3-61 3-22 3 25 3 16 3 3 3 59 3-59 3 36 3-24 3 27 3-7 3 22 3-21 3-29 3-13 3 49 3-22 3 2 3-14 3 0 3-13 3 8 3-11 3 11 3 9 3 16 3 19 3 12 3-7 3 23 3-14 3-5 3-13 3-18 3-1 3 27 3-29 3 1 3-4 3-38 3 24 3-27 3 3 3-28 3-3 3 32 3-12 3 7 3-44 3 28 3-16 3-26 3-60 3-55 3-69 3-62 3-36 3 88 3 228 3 139 3-41 3-25 3 23 3-17 3 26 3-35 3 28 3-5 3-1 3 16 3-68 3 30 3-8 3 26 3 22 3-5 3 6 3-28 3-15 3 14 3 14 3-17 3 11 3 8 3-7 3-17 3 9 3-9 3 18 3-9 3 3 3 6 3-11 3 11 3 19 3-38 3 15 3-16 3 11 3 8 3 2 3-20 3 20 3-10 3 11 3-8 3-8 3 5 3 6 3 11 3-14 3-14 3-1 3 39 3-36 3 18 3-1 3 6 3 2 3-3 3-28 3 0 3 24 3 14 3-17 3-19 3 41 3-23 3 16 3 10 3-8 3-5 3-23 3 16 3 18 3-28 3-16 3 27 3 22 3-17 3-1 3 2 3-7 3 4 3-8 3 9 3 12 3-18 3 23 3-23"/>
<path stroke="#bfbf00" d="M0 1172l3-21 3 21 3 3 3-8 3 25 3-11 3 13 3 20 3-77 3 31 3-24 3 7 3 25 3 14 3-39 3 17 3-3 3-33 3 23 3 15 3 15 3-29 3 13 3-2 3-20 3 15 3-15 3-11 3 6 3 7 3-25 3-18 3-12 3-3 3-16 3-7 3-63 3-52 3-7 3 112 3 128 3 111 3-88 3-65 3-16 3-20 3 31 3-62 3 22 3 24 3 35 3 7 3 4 3 6 3-36 3 7 3 24 3-24 3 28 3-30 3-6 3 22 3-18 3-5 3 2 3 19 3-9 3 0 3 6 3 11 3 7 3-21 3 35 3-26 3 27 3-26 3 33 3 24 3-52 3 38 3-31 3 2 3 33 3-64 3 69 3-38 3-5 3 9 3-1 3 2 3-8 3-19 3 34 3-1 3 8 3-33 3-9 3 25 3-31 3 11 3 19 3 32 3-30 3-60 3-29 3 58 3 4 3-34 3 34 3 4 3-74 3-11 3-52 3-39 3 20 3 5 3 29 3 65 3 54 3-29 3-2 3 29 3 18 3-79 3 34 3-36 3-32 3-9 3 31 3-30 3 56 3-12 3-25 3 31 3 64 3-18 3-38 3-5 3 29 3-11 3 8 3 48 3-13 3 21 3-47 3-3 3 55 3-142 3 47 3 69 3-5 3 42 3-20 3-10 3-8 3-14 3 42 3-39 3 6 3 1 3 10 3 11 3-11 3-11 3 2 3 39 3-7 3-26 3 28 3-19 3 4 3-21 3-6 3 8 3-23 3 33 3-29 3-2 3 1 3 1 3-21 3-54 3-110 3 1 3 49 3 5 3-1 3 71 3 39 3 23 3 29 3-14 3-34 3 14 3 1 3-10 3 1 3-12 3-19 3-55 3 0 3-92 3-34 3 94 3 74 3 64 3 17 3 11 3-36 3 7 3 5 3 8 3 28 3-37 3 16 3 12 3 34 3-43 3 5 3-8 3 2 3 4 3 22 3-45 3 40 3-48 3-27 3 40 3 10 3-19 3 23 3-5 3 6 3-23 3-9 3 5 3 16 3-19 3 6 3 16 3 6 3-19 3 11 3-32 3 9 3-36 3 22 3 36 3-37 3 5 3 10 3 26 3-3 3 6 3-18 3 19 3-8 3 8 3 1 3-20 3 22 3-41 3 15 3-1 3-26 3-8 3-8 3 32 3-13 3 8 3 33 3 14 3-18 3 34 3-17 3 18 3-23 3-13 3-5 3 10 3 9 3-14 3-17 3 31 3-51 3 10 3-45 3 29 3-29 3 13 3-6 3 15 3-26 3 27 3-26 3 8 3-22 3-20 3-59 3-85 3-27 3-65 3 93 3 182 3 141 3 2 3-60 3 19 3 11 3-38 3 50 3 5 3-41 3 38 3 0 3-18 3-3 3 11 3-39 3 63 3-43 3 5 3-1 3-2 3-2 3-6 3-6 3 0 3 10 3-6 3 28 3-2 3-38 3 25 3-16 3 15 3-26 3 25 3 1 3-3 3-18 3 32 3-5 3 8 3-8 3-19 3 1 3 28 3-36 3 15 3-9 3 2 3 11 3-6 3-16 3-9 3 21 3 3 3-27 3 0 3-1 3 25 3 20 3 4 3-27 3-22 3 11 3-7 3 12 3 6 3-11 3 17 3 17 3-22 3-14 3 10 3 11 3-33 3 5 3 25 3-19 3 11 3-14 3 4 3 0 3-13 3 34 3-6 3-8 3 15 3-8 3-6 3-20 3-5"/>
<path stroke="#404040" d="M0 1173l3-30 3 35 3-39 3 24 3-2 3-11 3-14 3 18 3-12 3 0 3-20 3 25 3 5 3-1 3-17 3-14 3-13 3 27 3-9 3 28 3-35 3 27 3-26 3 30 3-12 3-2 3-27 3 16 3-25 3 9 3 4 3 7 3-15 3-17 3-66 3 7 3-14 3-10 3-37 3 50 3 104 3 183 3-53 3-134 3-19 3-11 3-46 3 7 3 30 3 37 3-45 3 24 3 24 3-15 3 42 3-15 3 27 3-19 3 28 3-2 3-42 3 19 3-1 3 16 3-10 3 19 3-19 3-3 3 8 3-1 3 11 3-11 3-37 3 22 3 25 3-3 3 12 3-41 3 55 3-19 3 3 3 0 3-15 3 29 3-21 3 4 3 18 3-32 3 13 3-13 3-14 3 10 3-9 3 51 3-36 3-33 3 55 3-34 3-9 3-23 3 111 3-85 3-28 3 15 3-20 3-7 3 88 3-109 3 54 3 21 3-30 3 2 3-52 3 12 3-107 3 100 3-27 3 67 3 50 3-12 3 39 3-37 3-5 3 5 3 7 3 24 3-71 3-39 3-10 3 52 3-37 3 61 3-8 3 3 3-24 3-1 3 28 3-42 3 39 3-26 3-59 3 125 3 2 3 16 3 2 3-36 3-13 3-11 3-63 3 112 3 1 3 5 3-26 3-26 3 41 3-41 3 34 3-4 3 51 3-32 3-35 3 50 3-24 3-11 3 21 3-5 3-20 3 11 3 31 3-39 3 13 3 26 3-52 3 7 3 8 3 17 3-21 3 1 3-26 3 26 3-29 3-57 3-35 3-79 3 6 3 35 3 6 3 63 3 48 3 28 3 60 3-16 3-7 3 2 3-15 3 20 3-41 3 4 3-51 3 7 3-39 3-58 3-76 3 37 3 105 3 94 3 35 3 28 3-26 3-11 3-14 3 11 3-4 3 24 3-1 3-34 3 40 3-21 3 20 3 12 3-38 3-7 3-21 3-19 3 34 3-11 3 15 3 28 3-35 3-13 3-8 3 12 3-8 3 41 3-34 3 11 3-14 3-1 3 9 3 16 3-23 3 13 3 7 3-21 3-9 3-27 3-9 3 12 3 19 3 10 3 8 3 9 3 6 3 8 3-39 3-13 3 36 3-5 3-31 3 28 3 0 3-7 3 20 3-7 3 2 3-16 3-20 3 8 3-23 3 49 3 5 3-16 3 35 3 16 3-13 3 14 3-12 3-31 3 6 3-30 3 6 3 6 3 8 3-8 3-35 3-6 3-1 3-18 3-18 3 11 3-12 3 38 3-19 3-2 3-2 3 10 3-56 3-39 3-27 3-80 3-95 3-44 3-73 3 162 3 210 3 177 3-83 3-20 3 40 3-46 3 21 3 12 3-4 3-5 3 15 3-16 3 10 3 16 3-11 3-20 3-10 3 25 3 8 3-7 3-10 3-15 3 26 3-23 3 19 3 6 3-20 3 14 3 7 3-21 3-2 3 11 3 14 3-8 3 2 3-15 3-11 3 33 3 2 3 3 3 4 3-11 3-14 3 4 3 0 3 37 3-30 3 22 3-14 3-1 3-22 3 39 3-29 3 34 3-9 3-16 3 9 3-8 3-5 3 17 3-10 3-8 3 25 3-13 3-12 3 21 3-28 3 15 3 4 3-19 3 35 3-32 3 1 3 26 3-55 3 35 3-6 3 4 3-5 3-17 3 34 3-1 3 14 3-37 3 3 3-10 3 18 3 28 3-26 3 8"/>
<path stroke="#0000ff" d="M0 1162l3-22 3 14 3 5 3-2 3-51 3 21 3 4 3 25 3-16 3-3 3-17 3 42 3-41 3-22 3 74 3-50 3 8 3-1 3 29 3-30 3 25 3-39 3 4 3 24 3-63 3-5 3 14 3 35 3-34 3-22 3 42 3-50 3-23 3-13 3-45 3-63 3-28 3-102 3 6 3 222 3 206 3-26 3-109 3-13 3-3 3 5 3 5 3-40 3 18 3 81 3-36 3 19 3-12 3-15 3 15 3 8 3 37 3-25 3 23 3-14 3-9 3 11 3-40 3 25 3 4 3 2 3-34 3 32 3 18 3-20 3 30 3-4 3-17 3-16 3 35 3-31 3 19 3-26 3-1 3 32 3 34 3-41 3-23 3-7 3 17 3 53 3 25 3-55 3-25 3-33 3 25 3-10 3-36 3 25 3 57 3-45 3-36 3 94 3-5 3-54 3-13 3 41 3-19 3-44 3 25 3 15 3 12 3-40 3-2 3 38 3-61 3-5 3-120 3 2 3-4 3 81 3 88 3-75 3 77 3 45 3 22 3-7 3-151 3 82 3-54 3-28 3-2 3 4 3 82 3-3 3-58 3 28 3-2 3 6 3 29 3-17 3 52 3-59 3-41 3 12 3 97 3-62 3 66 3-43 3 31 3-46 3 26 3 18 3 18 3 8 3-12 3 12 3-12 3-35 3 35 3 18 3-7 3 34 3-32 3-2 3-4 3-29 3 26 3 27 3-12 3 10 3-20 3 26 3-5 3-6 3 16 3-20 3 14 3 5 3-63 3 57 3-36 3 40 3-62 3-12 3 0 3-71 3-74 3-24 3 52 3 6 3 29 3 80 3 21 3 62 3-37 3 5 3 11 3 13 3-47 3-8 3 10 3-27 3 1 3-96 3-56 3-15 3 7 3 103 3 94 3 53 3-12 3 5 3-19 3 3 3 21 3-9 3 11 3-29 3 15 3 11 3-33 3 15 3 16 3 3 3-21 3 14 3-25 3 14 3-8 3-4 3 5 3-16 3 7 3-2 3 50 3-21 3-10 3-24 3 35 3-40 3 5 3-2 3 10 3-11 3-7 3 27 3-30 3 28 3-40 3-48 3 29 3 26 3 3 3 17 3 25 3-46 3 21 3-23 3 17 3 7 3 1 3 3 3-1 3 0 3 25 3-24 3-11 3 4 3-51 3 30 3 18 3-7 3 1 3 26 3-12 3 40 3 26 3 30 3-31 3-22 3-22 3-6 3-9 3 5 3 34 3-38 3-24 3-7 3-6 3 5 3 11 3-48 3-7 3 44 3-19 3-6 3-8 3-21 3 5 3-23 3-21 3-61 3-71 3-92 3-81 3 12 3 194 3 248 3 83 3-60 3-47 3-10 3 16 3-21 3 5 3 13 3-12 3 12 3-8 3-16 3 12 3-8 3-2 3-5 3 25 3-15 3 0 3-17 3-8 3 7 3 19 3-32 3 1 3 39 3-32 3 9 3 17 3 13 3-21 3-10 3-24 3 1 3-9 3 34 3-25 3 35 3-20 3-1 3-9 3 21 3 12 3-42 3 0 3 22 3 7 3 3 3-28 3 17 3 8 3-22 3 28 3-7 3 5 3-13 3-20 3-4 3 41 3-18 3-1 3 15 3-16 3 22 3-10 3 4 3 4 3-34 3 17 3-11 3-4 3 55 3-36 3-3 3 16 3 8 3-49 3 10 3 38 3-45 3 42 3-10 3 18 3-48 3 14 3 30 3-16 3 7 3-11 3 13"/>
<path stroke="#008000" d="M0 1148l3-9 3 8 3 22 3 0 3-13 3-21 3-1 3-13 3 2 3 11 3 12 3-18 3 28 3 3 3-46 3 41 3-39 3 35 3-24 3 35 3-3 3-24 3-7 3 25 3-31 3 5 3-14 3 11 3-23 3 43 3-39 3-20 3 10 3-32 3 19 3-79 3-11 3-8 3 77 3 121 3 115 3-107 3-104 3-9 3-11 3 7 3 32 3 5 3-9 3-17 3 49 3-34 3-4 3 16 3 17 3 29 3-30 3 2 3 35 3 4 3-24 3 29 3-44 3-27 3 7 3 26 3-15 3-10 3 1 3-22 3 42 3-12 3-12 3 30 3-21 3 26 3-31 3 18 3-24 3 34 3 17 3-24 3 2 3-12 3 19 3 33 3-9 3-20 3 47 3-80 3 36 3-9 3-18 3 69 3-83 3-13 3 52 3-40 3-36 3 72 3-13 3 25 3-45 3-7 3-70 3 86 3 37 3-3 3-54 3 5 3-57 3 38 3-17 3-36 3 26 3 68 3-16 3 21 3-16 3 5 3 21 3 93 3-86 3-27 3-27 3-2 3 43 3 6 3 11 3-91 3 65 3-14 3-52 3 86 3 31 3 12 3-1 3-33 3-35 3-16 3 4 3-15 3 46 3 13 3-3 3-53 3 27 3 17 3 23 3-49 3 25 3 6 3-16 3 71 3-55 3 52 3-14 3-22 3-13 3 47 3-25 3-10 3-3 3 5 3 51 3-25 3-9 3-30 3-18 3 39 3-9 3 15 3-13 3 4 3 9 3-10 3 6 3 11 3-50 3-4 3-64 3-27 3-37 3 2 3-34 3-2 3 82 3 95 3 33 3-5 3-48 3 38 3-10 3-14 3 1 3-14 3 30 3-28 3-32 3-61 3-86 3 21 3 21 3 139 3 56 3 52 3-53 3 18 3-43 3 38 3-31 3 28 3-14 3 12 3-30 3 22 3-17 3-23 3 22 3 15 3 17 3-28 3-22 3 30 3-7 3-9 3 8 3-1 3-15 3-10 3 22 3-2 3-6 3 10 3 3 3-16 3 7 3-8 3-7 3 9 3 2 3-31 3 27 3-11 3-14 3 16 3 1 3-27 3 34 3-5 3 46 3-26 3-10 3-6 3-13 3 25 3 3 3 1 3 8 3-14 3-4 3 6 3-11 3-34 3-10 3 29 3 21 3-7 3-12 3-11 3 57 3-12 3 44 3 0 3-29 3-32 3 9 3-11 3-8 3 4 3 16 3-6 3-6 3-37 3 18 3-13 3-33 3 44 3-20 3-3 3 9 3-6 3-22 3 4 3 5 3-44 3 3 3-65 3-34 3-62 3-31 3 41 3 133 3 198 3 82 3-119 3-7 3-26 3-16 3-8 3 22 3 8 3-20 3 3 3 7 3-2 3 5 3 9 3-1 3 1 3-11 3-6 3-15 3-8 3 3 3 54 3-45 3-19 3 22 3 55 3-39 3-6 3 17 3-19 3-11 3 24 3-3 3-43 3 34 3-21 3 7 3 38 3-27 3-6 3 3 3 22 3-21 3-24 3 25 3 20 3-26 3 8 3 13 3-35 3 19 3-12 3 43 3-32 3 15 3-5 3-8 3 7 3 1 3-25 3 6 3 18 3 13 3-14 3-9 3 11 3-2 3-8 3 22 3-32 3 3 3 31 3-16 3 8 3-7 3-6 3-25 3-7 3 6 3 23 3 16 3-16 3-4 3-7 3-2 3 14 3 2 3-5 3 0 3 7"/>
<path stroke="#ff0000" d="M0 1133l3 8 3 19 3-13 3 4 3 7 3-14 3-32 3 11 3 20 3-41 3 8 3-3 3 30 3-5 3 9 3 32 3 2 3-79 3 61 3-51 3 26 3 0 3-24 3 9 3-15 3 38 3-34 3-10 3 11 3 3 3-20 3 16 3-43 3-7 3-5 3-10 3-46 3-41 3 14 3 126 3 158 3 11 3-156 3-49 3-44 3 42 3-16 3 50 3-30 3 17 3 14 3 3 3-1 3 26 3-4 3 3 3 19 3-20 3 2 3 1 3 18 3 2 3 9 3-42 3 27 3-6 3 18 3-29 3 11 3-17 3-19 3 30 3 4 3-4 3 8 3-6 3 11 3-41 3 68 3-37 3-16 3 10 3 15 3 40 3-2 3 10 3-37 3-25 3 35 3-47 3-13 3 39 3-19 3 18 3-95 3 91 3-1 3 15 3-55 3 26 3-38 3 40 3 1 3-23 3-83 3 58 3-47 3 104 3 11 3-27 3-10 3-50 3-44 3-59 3 22 3-28 3 44 3 90 3 57 3-55 3-27 3 46 3 6 3 52 3-73 3 11 3-60 3 58 3 16 3-35 3 38 3 42 3-117 3 2 3 69 3-3 3 37 3-32 3-59 3 92 3-41 3 27 3 32 3-65 3 46 3-22 3-46 3 44 3-8 3 40 3 0 3 17 3-37 3 21 3-9 3-13 3 0 3 17 3 14 3 25 3-50 3 56 3-25 3 17 3 15 3-28 3-9 3 19 3-42 3-15 3 10 3 24 3-13 3-16 3 12 3 18 3-31 3 3 3-14 3 5 3-33 3-49 3-72 3-64 3 39 3 30 3-22 3 80 3 47 3 100 3 19 3-39 3-21 3-6 3 2 3-30 3 6 3-8 3-10 3-25 3-49 3-86 3 24 3 60 3 128 3 59 3-15 3-45 3 25 3 1 3 28 3 5 3-21 3 4 3-35 3 67 3-9 3-70 3 51 3-25 3-18 3 50 3-40 3 21 3-5 3-23 3 2 3 31 3-2 3-7 3-30 3 15 3-3 3-8 3 14 3 0 3-7 3 13 3-10 3-8 3 15 3-28 3-22 3 14 3 8 3-20 3-10 3-7 3 33 3-21 3 29 3-6 3 28 3 14 3-8 3-5 3 2 3-10 3 15 3-20 3-8 3 17 3-2 3-33 3 3 3-15 3 36 3-27 3 23 3 17 3-32 3-8 3 79 3 10 3 8 3 3 3-13 3-42 3-16 3-2 3 23 3-11 3-9 3-1 3 17 3-71 3 12 3 10 3 3 3-21 3 16 3-22 3 22 3-40 3-13 3 12 3-43 3-22 3-42 3-131 3-63 3-59 3 39 3 198 3 215 3 36 3-47 3-19 3 9 3-15 3-15 3 17 3 26 3-20 3 13 3-13 3 47 3-30 3 0 3-4 3 1 3-15 3 1 3 17 3-7 3-72 3 55 3 22 3-7 3-5 3-10 3 26 3 10 3-15 3-21 3 31 3-31 3-2 3 24 3-15 3-2 3-6 3 23 3-22 3 20 3-23 3-8 3 56 3-40 3 10 3 2 3-27 3 2 3-5 3 8 3 17 3 2 3-25 3 11 3-18 3 0 3 22 3-14 3-24 3 7 3 15 3 37 3-49 3 20 3 14 3-45 3 42 3-11 3 15 3-18 3 15 3 0 3-21 3 15 3-9 3 21 3-15 3 0 3 12 3-17 3 1 3 1 3-7 3 4 3-11 3 23 3 10 3-36 3 0"/>
<path stroke="#00bfbf" d="M0 1197l3-28 3 9 3-25 3 5 3 2 3-30 3 46 3-19 3 32 3-11 3-18 3-9 3 2 3-2 3 27 3 10 3-41 3 12 3-1 3-2 3 30 3-51 3 24 3 35 3-14 3-25 3 42 3-51 3-17 3 31 3-48 3-7 3-45 3-2 3-14 3-52 3-29 3-87 3 34 3 150 3 241 3-8 3-156 3-62 3-7 3-13 3 6 3 64 3-56 3 36 3 5 3 19 3 0 3-16 3 30 3-14 3 46 3-19 3-26 3 16 3-25 3 41 3-34 3 4 3 21 3 1 3-34 3 20 3-11 3 14 3-37 3 10 3 22 3 21 3-16 3 36 3-69 3 24 3-17 3-1 3 39 3 22 3-77 3 29 3 42 3-69 3-13 3 58 3-17 3 10 3-28 3-21 3 11 3-44 3 8 3 31 3 31 3-30 3-4 3 30 3 5 3-55 3 16 3-27 3 22 3 2 3 41 3-18 3-41 3-28 3 66 3-83 3-34 3-86 3 82 3 14 3 50 3 48 3 24 3-56 3 42 3 28 3-5 3 38 3-69 3-37 3-23 3-19 3 65 3 93 3-64 3-42 3-52 3 71 3 70 3-13 3 11 3-26 3-29 3 23 3 16 3 3 3 22 3-26 3 37 3-42 3-83 3 104 3 27 3 12 3-36 3 12 3 12 3-8 3 12 3 14 3-21 3 1 3-23 3 22 3-23 3 29 3-8 3 2 3-12 3 34 3-8 3 17 3-40 3 40 3-9 3-27 3-17 3 1 3 21 3 13 3-28 3-8 3 11 3-9 3-67 3-70 3-97 3-11 3 61 3 13 3 45 3 88 3 59 3 39 3-24 3-21 3-1 3-4 3-1 3-30 3 11 3-31 3 2 3-48 3-108 3-48 3 74 3 80 3 69 3 53 3 30 3-49 3 21 3 17 3 1 3-6 3-34 3 30 3-11 3 13 3 28 3-73 3 38 3-7 3-25 3 11 3 27 3-19 3 8 3-44 3 33 3 14 3-43 3 46 3-30 3-9 3 11 3-13 3 15 3 25 3-36 3 30 3-28 3-31 3 41 3-17 3-22 3 1 3 20 3-48 3 7 3 38 3 4 3-9 3 7 3 29 3-23 3 5 3 17 3-30 3 0 3 27 3-17 3 10 3 9 3 8 3-23 3-22 3-6 3 20 3-30 3 19 3 14 3 45 3-24 3-3 3 36 3 26 3-1 3-40 3-35 3 9 3 26 3-29 3-44 3 35 3-9 3-27 3 25 3-36 3 2 3-19 3-8 3 29 3-34 3 10 3-14 3 11 3-22 3 2 3-68 3-81 3-34 3-107 3-48 3-4 3 143 3 254 3 107 3-30 3-69 3 2 3-19 3 29 3-17 3 0 3 34 3 10 3-36 3-3 3-3 3 44 3-50 3 17 3-17 3 17 3-20 3 36 3-33 3 29 3-9 3 0 3-20 3 16 3 25 3-30 3-7 3-8 3 9 3 10 3 21 3-21 3-15 3 26 3-19 3 6 3-14 3 4 3-11 3 17 3-19 3 9 3 19 3 27 3-31 3-2 3 13 3-7 3-7 3 14 3-3 3-6 3 5 3 18 3-14 3 1 3 1 3-35 3 32 3-6 3 12 3-25 3 2 3 4 3 18 3 2 3-25 3 26 3-12 3-8 3 14 3 28 3-50 3 16 3 35 3-33 3-23 3 37 3-9 3-18 3 11 3 9 3 15 3-10 3 13 3-18 3 28 3-34"/>
<path stroke="#bf00bf" d="M0 1156l3 10 3-29 3 3 3 13 3 20 3-10 3-21 3-4 3 13 3-25 3-30 3 37 3 8 3 22 3-40 3-3 3 18 3 2 3-1 3 8 3-47 3 17 3 16 3-3 3-16 3 5 3-3 3 2 3 15 3-38 3 17 3-29 3-16 3 45 3-60 3 1 3-29 3-33 3 38 3 152 3 96 3-84 3-119 3 21 3-15 3-35 3 30 3-6 3 29 3-42 3 34 3 28 3-30 3 27 3 30 3 2 3 4 3-44 3 22 3 4 3-29 3 8 3 26 3-32 3 41 3 12 3-56 3 29 3-21 3 32 3-29 3-17 3 8 3 33 3-7 3-37 3 24 3 14 3-27 3 59 3-25 3-21 3 5 3 41 3-33 3 16 3 32 3-17 3-39 3 24 3-5 3-3 3-16 3 15 3-43 3 26 3-7 3 34 3 28 3-59 3 29 3-35 3 25 3-49 3-29 3 39 3 35 3-50 3 8 3 20 3-25 3 30 3-41 3-89 3 51 3 38 3-28 3 16 3 35 3 62 3-34 3-3 3 24 3-52 3-5 3-79 3 2 3-6 3 99 3-23 3-23 3-49 3 32 3 38 3 82 3-70 3-16 3-31 3 74 3-76 3 46 3 5 3 21 3 28 3 24 3 22 3-100 3 57 3 26 3-15 3-45 3-5 3 16 3 13 3 33 3-2 3-11 3 2 3-34 3-4 3 75 3-43 3 2 3 29 3-33 3 21 3-16 3 27 3-44 3 40 3-8 3 7 3-33 3 8 3-5 3-1 3 37 3-41 3-34 3-7 3-11 3-51 3-69 3-13 3 48 3 12 3 33 3 47 3 52 3 55 3-24 3-45 3 27 3-33 3 9 3-12 3-13 3-9 3 1 3-59 3-75 3-52 3 26 3 58 3 85 3 31 3 25 3 20 3-17 3 7 3 27 3-23 3 3 3-21 3 7 3-2 3-4 3 25 3-22 3 9 3 30 3-59 3 20 3-15 3 26 3 32 3-11 3-24 3-11 3 1 3-12 3 31 3 11 3-26 3 36 3-35 3 5 3 2 3-20 3 15 3-8 3 0 3 9 3-14 3-18 3-7 3-43 3 55 3 37 3-18 3-12 3 11 3-28 3 15 3 0 3 11 3-2 3-2 3 2 3-2 3 2 3 10 3-24 3 6 3-15 3-12 3 2 3 2 3 34 3-7 3 26 3 33 3-10 3 34 3 2 3-59 3-9 3-18 3 21 3-58 3 44 3-16 3 12 3-8 3-1 3-5 3-13 3-3 3 23 3-27 3 8 3-19 3 20 3-9 3-5 3-63 3-1 3-43 3-91 3-110 3-52 3 13 3 170 3 190 3 90 3-81 3 10 3-15 3 1 3 3 3 36 3 6 3-3 3-27 3 22 3 15 3-14 3 5 3 5 3-33 3 6 3-1 3-3 3 19 3-3 3-22 3 30 3-19 3 30 3-35 3 8 3 11 3 15 3 17 3-20 3 8 3-8 3 11 3-26 3 18 3-13 3 24 3-37 3 6 3-19 3 46 3-33 3-1 3 16 3-6 3-8 3 22 3-8 3-11 3 28 3-46 3 33 3-2 3 15 3-30 3 25 3-13 3 13 3 3 3 13 3-2 3 1 3-11 3-3 3 12 3-8 3 11 3 3 3-30 3 15 3-8 3-22 3 11 3 17 3-25 3 8 3-28 3 32 3 7 3 0 3-5 3 11 3-13 3 13 3-3 3-9 3 12 3-14 3 1"/>
<path stroke="#bfbf00" d="M0 1153l3 43 3-51 3 11 3-7 3 17 3-12 3-3 3 7 3 21 3-2 3-8 3 0 3-1 3-15 3 40 3-3 3-43 3-29 3 34 3 4 3 10 3-22 3 7 3-7 3 8 3 12 3 17 3-68 3-23 3-23 3 17 3-24 3 30 3-60 3-11 3-11 3-43 3 81 3 86 3 198 3 22 3-176 3-49 3-53 3 7 3 17 3-4 3 30 3-23 3 11 3 34 3 3 3 7 3-34 3 37 3-34 3 33 3 21 3-31 3 3 3-12 3 18 3-7 3-22 3 0 3 13 3 49 3-44 3 1 3 7 3-33 3 22 3 30 3-7 3-15 3 26 3-3 3-29 3 42 3-39 3 22 3-13 3-9 3 10 3-6 3 21 3-60 3 90 3-20 3-47 3 75 3-78 3-13 3 54 3-44 3 50 3 47 3-16 3-37 3 3 3-39 3 60 3-35 3-67 3 13 3 44 3-25 3-13 3 25 3-58 3 33 3-102 3 14 3 22 3-37 3 83 3 40 3 6 3-22 3 39 3 7 3 1 3-3 3 0 3-4 3-58 3 22 3-53 3 32 3-26 3 39 3-57 3 48 3 57 3-51 3 4 3 56 3-35 3-52 3-36 3 111 3 6 3-33 3 68 3-43 3-1 3 49 3-35 3-12 3 50 3-32 3 55 3-44 3 0 3-38 3 45 3 10 3-15 3 20 3 10 3-25 3 7 3 1 3-13 3 32 3 2 3-47 3 20 3 0 3-14 3 37 3-18 3-4 3-25 3-30 3 63 3-43 3-2 3 7 3-66 3-87 3-36 3 14 3 35 3-22 3 49 3 89 3 22 3 37 3-48 3 3 3-3 3 11 3 6 3-7 3-31 3-21 3-24 3-39 3-90 3-37 3 74 3 48 3 91 3 43 3-11 3 3 3 19 3 0 3-10 3-34 3 37 3 24 3-5 3-33 3 9 3-20 3 23 3-25 3 4 3 6 3 19 3-2 3 16 3-35 3 24 3 4 3-20 3 5 3 19 3-22 3-4 3 9 3-13 3 8 3-7 3 19 3-37 3 16 3 14 3-6 3 3 3-29 3-21 3-4 3 8 3 33 3 26 3-14 3 1 3-6 3 35 3-31 3 35 3-48 3 14 3-9 3 7 3 28 3-22 3 24 3-30 3 0 3-2 3 14 3-35 3 31 3-23 3 39 3-5 3 15 3 46 3-1 3-25 3-7 3-39 3 0 3 19 3-42 3 22 3-18 3 38 3-56 3 24 3-1 3 8 3-31 3-15 3 12 3-55 3 40 3-9 3 19 3-35 3-10 3-27 3-16 3-99 3-55 3-110 3-62 3 104 3 213 3 172 3-16 3-23 3 6 3-34 3 42 3-4 3-7 3 25 3-21 3 18 3-7 3-21 3 39 3-40 3 15 3-4 3-28 3 11 3 8 3 35 3-13 3-17 3-16 3 11 3 2 3-6 3 6 3-18 3 50 3-17 3-17 3-4 3 2 3-2 3 25 3-30 3 38 3-44 3 7 3-6 3 19 3-6 3-18 3 11 3-28 3 55 3-25 3-13 3 19 3-8 3 18 3-23 3-15 3-7 3 32 3 4 3-25 3 1 3 22 3-3 3-12 3-2 3 7 3 12 3-15 3 4 3 7 3 8 3 32 3-34 3-39 3 34 3-6 3-21 3 1 3 21 3-2 3 20 3-31 3 13 3-14 3 6 3-7 3-19 3 15 3 23 3-1 3-1 3 12 3 9"/>
<path stroke="#404040" d="M0 1127l3 59 3-28 3-15 3-8 3 20 3-29 3 33 3-34 3 19 3-49 3 71 3-11 3 7 3-17 3-37 3 47 3-72 3 37 3-3 3 49 3-28 3-32 3 9 3 28 3-11 3 7 3-30 3 17 3-7 3-36 3 4 3-15 3 7 3-51 3-44 3-14 3-64 3-80 3 135 3 214 3 100 3-114 3-33 3-52 3 55 3-48 3 23 3-4 3-3 3 43 3-33 3 39 3-14 3-44 3 39 3 45 3-50 3 35 3-9 3-24 3 30 3-9 3-7 3 17 3-14 3 8 3-12 3-4 3 27 3 2 3-35 3 3 3 26 3-7 3-1 3 6 3-10 3 17 3 7 3-14 3 15 3-12 3-5 3 26 3-11 3 12 3 17 3-28 3-62 3 31 3-18 3-14 3 64 3 2 3-90 3 38 3-49 3 58 3 15 3-11 3 66 3-86 3 42 3-48 3 19 3-31 3 52 3-63 3 37 3-8 3-103 3 32 3-41 3-35 3 70 3 36 3 2 3 43 3-5 3 30 3 2 3 43 3-7 3-65 3 38 3-78 3 0 3-5 3 32 3 22 3-30 3 14 3-16 3 39 3 12 3-19 3 86 3-52 3-14 3 11 3-6 3-40 3 70 3-48 3 2 3 5 3-13 3 0 3 70 3-87 3 67 3 12 3-11 3 22 3-1 3-12 3-6 3 37 3-71 3 5 3 23 3-12 3 14 3-17 3 30 3-12 3 3 3-27 3 55 3-39 3 12 3-30 3 59 3-55 3 29 3-57 3 69 3-67 3 11 3-1 3-52 3-95 3-44 3 7 3 57 3-5 3 19 3 108 3 36 3-1 3 6 3-9 3 1 3-10 3-41 3 41 3-42 3 9 3-126 3-18 3-59 3-14 3 76 3 112 3 87 3 87 3-75 3-32 3 13 3 1 3 21 3-17 3-16 3 16 3 20 3-9 3-10 3 27 3-42 3-11 3 23 3-7 3-3 3 8 3-30 3 42 3-19 3-3 3 2 3 15 3 2 3-27 3 3 3-1 3 21 3 2 3-39 3 32 3 21 3-31 3 29 3-40 3-36 3 26 3-27 3-30 3 36 3 29 3 16 3 8 3-15 3 25 3-45 3 22 3-23 3 39 3-6 3-13 3-14 3 6 3-5 3-10 3-4 3 0 3-16 3 7 3 17 3 20 3 10 3-31 3 20 3 28 3 4 3 26 3-40 3-2 3-3 3-2 3 13 3-7 3-24 3-2 3-11 3 12 3-1 3-17 3-18 3 13 3-16 3 13 3-17 3 4 3 18 3-12 3-30 3-7 3-49 3-56 3-71 3-72 3-112 3 31 3 233 3 246 3-37 3-46 3-16 3-6 3 65 3-37 3-2 3 22 3-34 3-3 3 2 3 23 3 1 3 1 3-16 3-2 3-13 3 8 3-6 3 26 3 14 3-7 3-39 3 22 3 22 3-21 3 18 3-19 3 16 3-15 3-6 3 5 3 1 3-1 3-7 3-37 3 40 3 30 3-4 3-7 3 4 3-33 3 12 3 15 3-36 3-3 3 34 3 2 3-5 3-5 3-19 3 18 3 9 3 1 3-11 3 10 3 10 3-30 3-13 3 31 3-23 3 0 3 48 3-22 3 18 3-24 3 12 3-4 3-24 3 34 3 2 3-13 3 3 3 19 3-16 3-6 3 27 3-17 3 30 3-54 3 17 3-16 3 6 3 29 3-43 3 24 3 14 3-5 3-6 3 6"/>
<path stroke="#0000ff" d="M0 1146l3 12 3-5 3-5 3 12 3-40 3 7 3 37 3-10 3-21 3 8 3-11 3 12 3-32 3 23 3-8 3 18 3 4 3-24 3-2 3-6 3 4 3-14 3 38 3 10 3 1 3-47 3 0 3 5 3 11 3-40 3 26 3-31 3-39 3 24 3-29 3-37 3-23 3-23 3 73 3 102 3 115 3-40 3-69 3-61 3-10 3 2 3-16 3 20 3 22 3-33 3 32 3-13 3 42 3-10 3-7 3-14 3 24 3 4 3 20 3-47 3 27 3-8 3 22 3-5 3 6 3 21 3-70 3 64 3-1 3 21 3-46 3-2 3 38 3-56 3 31 3-26 3 43 3-24 3 3 3-25 3 28 3-7 3 13 3 8 3 8 3-16 3 33 3-13 3-18 3-45 3 25 3 31 3-7 3-49 3-1 3 4 3-7 3 66 3-23 3 17 3-15 3-15 3-30 3 0 3 2 3 25 3 21 3-48 3-8 3-45 3-13 3-30 3-47 3 8 3 89 3-57 3 94 3-56 3 48 3 78 3-52 3 28 3-9 3-9 3 40 3-67 3 14 3 25 3-9 3 13 3-15 3-95 3 9 3 51 3 24 3 98 3-70 3-13 3 16 3-47 3 20 3 35 3-40 3 84 3-40 3 31 3-41 3 15 3-24 3 25 3 24 3-23 3 22 3 26 3-55 3 38 3-29 3-3 3 6 3 15 3-13 3 8 3 16 3-28 3-4 3-9 3 44 3-24 3 14 3-34 3 3 3 32 3 6 3-33 3 25 3-7 3-27 3-4 3-2 3-25 3-78 3-37 3-78 3 44 3 36 3-6 3 76 3 67 3 33 3 42 3-38 3 1 3-6 3-28 3 16 3-43 3 42 3-32 3-25 3-86 3-47 3-38 3 72 3 83 3 73 3 43 3-20 3-14 3 16 3-35 3 45 3 2 3-35 3 34 3-49 3 12 3 6 3 39 3-51 3-1 3 19 3 9 3-26 3-15 3 64 3-10 3-17 3-27 3 13 3 27 3 3 3-30 3 6 3-11 3 12 3-24 3 2 3 43 3-32 3-4 3-5 3 26 3-44 3-6 3-13 3 7 3-12 3 43 3 14 3-4 3-7 3 29 3-6 3-39 3-7 3 34 3 2 3-15 3 4 3 12 3-33 3 17 3-21 3-1 3 5 3-10 3-14 3 32 3 6 3-13 3 33 3 11 3 33 3-17 3-20 3 2 3 17 3-11 3-14 3-32 3 30 3-42 3 31 3-18 3-24 3 0 3-25 3-5 3 1 3 32 3-28 3 19 3-42 3-3 3 5 3-24 3-49 3-58 3-71 3-79 3-100 3 79 3 180 3 254 3 65 3-108 3-9 3-31 3 31 3-8 3-2 3 8 3 3 3 35 3-7 3-43 3 35 3-35 3 11 3 4 3 19 3-15 3-11 3 7 3-8 3 19 3 12 3-21 3 16 3-12 3 0 3 16 3-30 3 36 3-18 3-31 3 46 3 26 3-31 3 7 3-27 3 18 3 0 3 35 3-20 3-22 3 23 3-33 3 40 3 8 3-34 3-7 3 28 3-27 3 47 3-23 3-24 3 30 3-18 3-19 3 46 3-36 3 9 3 7 3 14 3-14 3 37 3-10 3-27 3 5 3 20 3-18 3 3 3 5 3 1 3-23 3 17 3-1 3 8 3-28 3 9 3 16 3 1 3-19 3 50 3-24 3-29 3 17 3-7 3 25 3-9 3-30 3 23 3-19"/>
<path stroke="#008000" d="M0 1174l3-30 3 68 3-51 3 35 3-49 3 10 3 13 3 7 3-12 3 3 3 3 3 0 3 22 3-11 3 8 3-8 3-26 3-12 3 11 3-3 3-9 3-34 3 15 3 7 3-7 3 19 3-7 3-34 3 5 3 33 3-17 3-23 3-39 3-25 3-60 3-12 3-84 3-91 3 24 3 64 3-98 3-458 3-361 3 0 3 191 3 335 3 274 3 51 3 129 3 60 3 17 3 12 3 54 3-4 3 3 3 37 3 30 3-34 3 11 3 7 3 6 3-5 3-48 3 44 3 22 3-9 3-1 3 16 3 1 3 9 3-42 3 8 3 2 3 3 3 4 3 8 3 25 3-7 3-20 3 14 3-7 3 27 3-36 3-11 3 44 3-23 3-11 3-39 3 62 3-1 3 21 3 16 3-39 3-42 3-13 3-9 3 56 3 12 3-46 3 40 3-4 3-18 3 1 3-5 3-64 3 79 3-25 3 11 3-27 3-19 3 14 3-102 3-41 3-30 3 91 3 11 3 79 3 18 3-12 3-41 3 6 3 45 3 27 3-53 3-56 3 28 3 24 3-26 3 64 3-32 3-3 3 9 3-102 3 38 3 41 3 57 3-29 3-1 3 25 3-20 3-40 3 71 3-3 3-3 3 43 3-13 3-33 3-2 3-51 3 52 3 30 3-12 3 27 3-56 3 38 3 7 3-21 3 8 3-2 3 18 3 7 3 2 3 7 3-2 3-9 3-28 3 42 3-11 3-7 3-21 3 14 3 7 3 8 3-3 3-30 3 7 3 0 3-36 3 81 3-90 3-49 3-85 3-76 3 27 3 34 3 43 3 78 3 67 3 52 3-12 3 6 3-20 3-25 3-6 3-29 3 8 3-18 3-2 3-56 3-53 3-82 3-5 3 72 3 91 3 80 3 48 3 11 3-36 3-4 3-14 3 14 3-5 3 9 3 21 3-17 3-6 3 14 3-20 3 20 3-33 3 27 3-16 3 29 3-26 3-6 3-15 3 40 3-17 3-9 3-10 3 34 3-27 3-3 3 12 3-43 3 28 3 0 3 7 3 12 3-2 3 4 3-32 3 18 3-30 3-9 3-26 3 2 3 16 3 33 3-2 3-3 3 1 3-15 3 17 3 5 3-24 3 13 3 29 3-14 3-7 3 21 3-13 3-29 3 21 3-41 3 44 3-28 3 24 3 1 3 9 3 9 3 64 3-9 3 1 3-7 3-48 3 8 3-25 3-7 3 36 3-13 3 13 3-46 3 19 3-35 3 24 3-32 3-32 3 23 3 1 3-12 3 39 3-20 3-29 3-5 3-28 3-47 3-32 3-74 3-121 3-21 3 87 3 222 3 142 3-42 3-24 3 28 3-29 3 44 3-18 3 12 3 34 3-49 3 26 3-18 3-6 3 20 3-22 3 20 3-27 3-20 3 21 3-5 3 4 3 23 3-30 3 14 3 6 3-6 3-18 3 12 3 17 3 5 3-23 3 25 3-13 3-25 3 13 3 13 3 7 3-13 3-18 3 37 3-26 3-16 3 3 3-12 3 9 3 29 3-5 3-46 3 27 3 3 3-11 3 2 3 14 3-9 3-4 3-15 3 31 3 13 3-19 3 21 3-5 3-32 3 24 3-5 3-2 3 0 3 12 3 5 3 2 3-25 3 10 3-35 3 31 3-2 3 28 3-7 3-11 3 15 3-5 3 11 3-36 3-1 3-28 3 36 3-20 3 28 3-16 3 23 3-20 3 6 3 21"/>
<path stroke="#ff0000" d="M0 1124l3 57 3-54 3 8 3-19 3 33 3-36 3 33 3 10 3-22 3 34 3-47 3 35 3 0 3-8 3-43 3 55 3-18 3 0 3 1 3-35 3-18 3 46 3-8 3-31 3-2 3 34 3-9 3 10 3-75 3 9 3-13 3 2 3-41 3 12 3-21 3-72 3-60 3-61 3 88 3 166 3 203 3-135 3-73 3-56 3 11 3-25 3 39 3-13 3 38 3 7 3 29 3-46 3 24 3 42 3 13 3-45 3 5 3 29 3 10 3-47 3 17 3 14 3 18 3-4 3-36 3 12 3 5 3 24 3-6 3-3 3 6 3-38 3 26 3-5 3 1 3 0 3-3 3 11 3 5 3 20 3 2 3-72 3 48 3 26 3-20 3-11 3 4 3 13 3 33 3-45 3-4 3-37 3-12 3-21 3 85 3-55 3-19 3 40 3 6 3 38 3-41 3 24 3 21 3-32 3-31 3 2 3-2 3 1 3-15 3-1 3-19 3-67 3 14 3-87 3 77 3 76 3 14 3 40 3 35 3-45 3 19 3-11 3-25 3 51 3-45 3-13 3-78 3-28 3 71 3-18 3 55 3 23 3-135 3 21 3 78 3 41 3 1 3 17 3-101 3 58 3 24 3 20 3-21 3 8 3 1 3-25 3-7 3 22 3 18 3 30 3-8 3 13 3 13 3 4 3-8 3-28 3 30 3 12 3-45 3 22 3 43 3-69 3 28 3 14 3-12 3-9 3 20 3 4 3-22 3 5 3 9 3-6 3 0 3-27 3 47 3-46 3 5 3-26 3-16 3-13 3-19 3-45 3-77 3 8 3 23 3-14 3 54 3 74 3 50 3 60 3-33 3-13 3-3 3 17 3-29 3-6 3-56 3 18 3-10 3-56 3-114 3-7 3 87 3 59 3 72 3 85 3-66 3 57 3-63 3 29 3-5 3-8 3 15 3-20 3 27 3 6 3-32 3 10 3 34 3-60 3 53 3-50 3 27 3-7 3 16 3-29 3 16 3 11 3-26 3 22 3-10 3-1 3 26 3 5 3-16 3-25 3 7 3 0 3-9 3 4 3-11 3 17 3 6 3-48 3 21 3-24 3 22 3-29 3 11 3-11 3 40 3-18 3-1 3 6 3 30 3-29 3 12 3-16 3 27 3 13 3-25 3-11 3-10 3 27 3-48 3-3 3 30 3 6 3 2 3 6 3 2 3 12 3 23 3-13 3 15 3-14 3-28 3-18 3 25 3-6 3-16 3 10 3-22 3-1 3-2 3-30 3-3 3-9 3 15 3-10 3-13 3-13 3 33 3-30 3-18 3-17 3-37 3-42 3-59 3-64 3-126 3-7 3 212 3 208 3 131 3-40 3-32 3-32 3-3 3 76 3-29 3-5 3 10 3 0 3-36 3 14 3 11 3 1 3-5 3-10 3 28 3-46 3 37 3-16 3 12 3-17 3 3 3 17 3 5 3 0 3 2 3-29 3 19 3-13 3 3 3 4 3 19 3-48 3 17 3 23 3 8 3-10 3-3 3-1 3 14 3-17 3 9 3-5 3-8 3-7 3 4 3 14 3-6 3-17 3 23 3-3 3 9 3 25 3-27 3-7 3 12 3-23 3-23 3 38 3-10 3 8 3-3 3 5 3-31 3 36 3 4 3-11 3 27 3-23 3 13 3-24 3 13 3-16 3 21 3-16 3 1 3-9 3 14 3-6 3-5 3-4 3 24 3-3 3 5 3-17 3 11 3-8 3 14 3 1"/>
<path stroke="#00bfbf" d="M0 1152l3-8 3-8 3 27 3-19 3-30 3-4 3 4 3 15 3 13 3 1 3-4 3 9 3 0 3 6 3-10 3-44 3 46 3-2 3-12 3 46 3-40 3-26 3 25 3 23 3-51 3-2 3 21 3-3 3-49 3 20 3-22 3-12 3-25 3-49 3-2 3-25 3-34 3-22 3 91 3 188 3 95 3-89 3-114 3-19 3-12 3-7 3 58 3-20 3 3 3 57 3-16 3 9 3-14 3-8 3 13 3 42 3-20 3-9 3-2 3-8 3 40 3-15 3-13 3 4 3 0 3-12 3 21 3 24 3 2 3-50 3 10 3 13 3 40 3-10 3-20 3-47 3 64 3-45 3 30 3-15 3-1 3 26 3-27 3 22 3 17 3-43 3 14 3 46 3-15 3-36 3 5 3-47 3 70 3-18 3-25 3 39 3-30 3-5 3-11 3 31 3-10 3 7 3 46 3-50 3 22 3-21 3-21 3 2 3 34 3-37 3 28 3-65 3-26 3-54 3 51 3 79 3-10 3-9 3 67 3-51 3-3 3 75 3-9 3-39 3-59 3-1 3-60 3 114 3-75 3 32 3 24 3-65 3-1 3-47 3 135 3-13 3 42 3-44 3-23 3 55 3-40 3 101 3-65 3 67 3-66 3 24 3-60 3 51 3 7 3-58 3 28 3 34 3 4 3 4 3-39 3 43 3-13 3 14 3-28 3-4 3 31 3 0 3-50 3 18 3 1 3-21 3 3 3 13 3 0 3-9 3 21 3-18 3-7 3 8 3-9 3-19 3 16 3-19 3-14 3-30 3-6 3-82 3-79 3 35 3 6 3 42 3 109 3 18 3 46 3 0 3-40 3 22 3-23 3 5 3 13 3-10 3-25 3-14 3-34 3-94 3-31 3-41 3 95 3 76 3 119 3 0 3-23 3 23 3 16 3-18 3-6 3 26 3-39 3 18 3-14 3-9 3 28 3-17 3-17 3 9 3 7 3-23 3 18 3 25 3-35 3 7 3-19 3 4 3 9 3 34 3-10 3-23 3 13 3-6 3-44 3 27 3 2 3-10 3 18 3-15 3 25 3-25 3 15 3-13 3-32 3 15 3 6 3 8 3 20 3 6 3 10 3-42 3 17 3 6 3 9 3-15 3-5 3 5 3 4 3 4 3 20 3-13 3-41 3-4 3-34 3 17 3 21 3 8 3 9 3 26 3 11 3-7 3 28 3 22 3-53 3-19 3-4 3-14 3 22 3-2 3 23 3-48 3-2 3-10 3 0 3-37 3 41 3 21 3-28 3 10 3-43 3 20 3-21 3 1 3-26 3-42 3-31 3-58 3-64 3-107 3-58 3 63 3 140 3 215 3 80 3-43 3-17 3 29 3-39 3 25 3 19 3-20 3-16 3 20 3-5 3-14 3 26 3 11 3-17 3-18 3 5 3 25 3-23 3-7 3-4 3 38 3-23 3-10 3 5 3 8 3-32 3 28 3 15 3-13 3-10 3 31 3-22 3-17 3-7 3 25 3 16 3-11 3-14 3 27 3-11 3-35 3 30 3 17 3-23 3-1 3 3 3 16 3-5 3 7 3-9 3-15 3 24 3-3 3 2 3 0 3-7 3 11 3 0 3 10 3-7 3-9 3-16 3 5 3 1 3 22 3-23 3 2 3-9 3 16 3-16 3 8 3 10 3-8 3-19 3 18 3 6 3-6 3 19 3-7 3-19 3 11 3-9 3-2 3 0 3 0 3 6 3 8 3-47 3 33"/>
<path stroke="#bf00bf" d="M0 1133l3 27 3-1 3-30 3 60 3-89 3 27 3 15 3-16 3-2 3 16 3 11 3-9 3-14 3 30 3-53 3 54 3-7 3 0 3-28 3-4 3-3 3 23 3-2 3 20 3-52 3 12 3-16 3 10 3-16 3-6 3 10 3-18 3 5 3-24 3-8 3-14 3-51 3 11 3-46 3 60 3 171 3 168 3-81 3-137 3-25 3-31 3 29 3-15 3 22 3-5 3 30 3 5 3-22 3-10 3 8 3 15 3-26 3 25 3-10 3 26 3 7 3 6 3-24 3 2 3 2 3-23 3 28 3 58 3-53 3-3 3-23 3 24 3-29 3 18 3 2 3 11 3 13 3-18 3 5 3 20 3-30 3 33 3-47 3 62 3-52 3 45 3-49 3 30 3-9 3-53 3 44 3 40 3 9 3-31 3-44 3 43 3-18 3-17 3 4 3 66 3-74 3 81 3-73 3-8 3-32 3-28 3 75 3-77 3 90 3-105 3 107 3-48 3-42 3-46 3-34 3 16 3-36 3 141 3 6 3-35 3 73 3-74 3 48 3-7 3 28 3 14 3-129 3 27 3 27 3 28 3-53 3-6 3 34 3-60 3 48 3 30 3-22 3-1 3-19 3 16 3-23 3 48 3 66 3-26 3 30 3-52 3-5 3 9 3-42 3 16 3 79 3 13 3-84 3 92 3-52 3 6 3-33 3 45 3 0 3-6 3 22 3 18 3-6 3-24 3 3 3-8 3 28 3-27 3 2 3 3 3-15 3-14 3 20 3-15 3 4 3 12 3-34 3-3 3-13 3 24 3-36 3-39 3-80 3-80 3 41 3 38 3-2 3 55 3 49 3 66 3 28 3 20 3-39 3 15 3-49 3 14 3-5 3-26 3-6 3-18 3-41 3-76 3-87 3 23 3 118 3 86 3 103 3 14 3-41 3-40 3 35 3 18 3 6 3-29 3 4 3-25 3 7 3 39 3 7 3-17 3 27 3-13 3-5 3-15 3 11 3-3 3 15 3-15 3-19 3 15 3-25 3 3 3 28 3-16 3 1 3 12 3-22 3 26 3-24 3 7 3-10 3-21 3 11 3 4 3-8 3-26 3-9 3-23 3 16 3 38 3-4 3 33 3-14 3-19 3 18 3-9 3 8 3-17 3-22 3 66 3-5 3-25 3 3 3-6 3-29 3 11 3-16 3 28 3-23 3 26 3 10 3-6 3 46 3-2 3 7 3 17 3-26 3-29 3-25 3-7 3 16 3-17 3 6 3-1 3-13 3 23 3 10 3-72 3 30 3-34 3-18 3 39 3-31 3 50 3-27 3-37 3-21 3 5 3-66 3-63 3-77 3-90 3-44 3 144 3 224 3 91 3-65 3 13 3 12 3 27 3 7 3 5 3-18 3 4 3 4 3-5 3-9 3 25 3-28 3 9 3 23 3-29 3 3 3 8 3-28 3 23 3-1 3 15 3-3 3-20 3 22 3 2 3-20 3-4 3-5 3 13 3 18 3-19 3 27 3-38 3 26 3-5 3 11 3-25 3 3 3-1 3-3 3 32 3 4 3 4 3-2 3 3 3-42 3 36 3-32 3 18 3-5 3-32 3 5 3-24 3 32 3 44 3-48 3 9 3-3 3 9 3-22 3 14 3 20 3 0 3 4 3-22 3 18 3-31 3 31 3 8 3-9 3-9 3-3 3-5 3 43 3-5 3-21 3-36 3 7 3 6 3-11 3 26 3 7 3 1 3-20 3-1 3-1 3-16"/>
<path stroke="#bfbf00" d="M0 1139l3 30 3-22 3 3 3 1 3-7 3 11 3 27 3-23 3 10 3-39 3 46 3-10 3 5 3 3 3-39 3 17 3-10 3 20 3-9 3 12 3-15 3-40 3 28 3-12 3 19 3-25 3 14 3 4 3-15 3 24 3-34 3-14 3 4 3-58 3-25 3 7 3-65 3-53 3 84 3 196 3 55 3-104 3-36 3-5 3-13 3 14 3-45 3 83 3-4 3-15 3-11 3 48 3-36 3-19 3 55 3-5 3-42 3 71 3-53 3 21 3-28 3 41 3-7 3-5 3 5 3-4 3 19 3-35 3 24 3-1 3-10 3-34 3 41 3 5 3 9 3-19 3 31 3-39 3 37 3-9 3 21 3-25 3-8 3 21 3-2 3 10 3-7 3-6 3 37 3-36 3 5 3-67 3-20 3 47 3 7 3 52 3-104 3 45 3 21 3 27 3-27 3-9 3-24 3-13 3-24 3-32 3 64 3-28 3 7 3-8 3-84 3 35 3-65 3-19 3 21 3 5 3 106 3 46 3-19 3 39 3-52 3 61 3-73 3 43 3-61 3-36 3-22 3-29 3 89 3 7 3 32 3-132 3 53 3 33 3 2 3 39 3 29 3-55 3 14 3-28 3 73 3-4 3 9 3 43 3-24 3-40 3 48 3-22 3 36 3-44 3 9 3 0 3 31 3-18 3-23 3 53 3-47 3 1 3 23 3-23 3 27 3-29 3-8 3-3 3-7 3 20 3 0 3-10 3-17 3 35 3-16 3 45 3-39 3 8 3-7 3-39 3-18 3 57 3-46 3-29 3-40 3-73 3-46 3 48 3 24 3 9 3 67 3 64 3 22 3 22 3-29 3-28 3 15 3-6 3 11 3-11 3-25 3-12 3-58 3-35 3-92 3 28 3 62 3 109 3 31 3 39 3-19 3 13 3-43 3 27 3 18 3-18 3 26 3-20 3 17 3-43 3 63 3-50 3 26 3-21 3-1 3-12 3 12 3-14 3 6 3-8 3 2 3-1 3 21 3-6 3 20 3-40 3 12 3 13 3-28 3 23 3 3 3-7 3-21 3 13 3-4 3 1 3-4 3-4 3-37 3-24 3-22 3 55 3 65 3-23 3-9 3-18 3 12 3-10 3 24 3-27 3 11 3 15 3-4 3 0 3 0 3-15 3 5 3-11 3 4 3-4 3 1 3 13 3 9 3 22 3-8 3 24 3 12 3 4 3-30 3 13 3-29 3-4 3-39 3 21 3-7 3-18 3 7 3 20 3-26 3 5 3-17 3-30 3 1 3 28 3 6 3-44 3 21 3-5 3 7 3-47 3-8 3-94 3-76 3-82 3-68 3 63 3 172 3 199 3 57 3-40 3-32 3 8 3 15 3-5 3 12 3 9 3-1 3-5 3-15 3-11 3 21 3 1 3-3 3 1 3-14 3 18 3-9 3-7 3 29 3-15 3 6 3-8 3-11 3-16 3 48 3-17 3-23 3 34 3-26 3-9 3 11 3 12 3-22 3-19 3 27 3 34 3-15 3-8 3 20 3-9 3 3 3-23 3 23 3-16 3-3 3 16 3 0 3-7 3 8 3 18 3-23 3-17 3 19 3 1 3-23 3-10 3 66 3-17 3-4 3-6 3 8 3-7 3-10 3-18 3 51 3-14 3 6 3-21 3 1 3 10 3 13 3-21 3-5 3 17 3-17 3 7 3 1 3-8 3 15 3 6 3-22 3-2 3 1 3-7 3 16 3-25 3 36 3-22"/>
<path stroke="#404040" d="M0 1140l3 7 3 0 3-6 3 8 3-28 3 22 3-10 3 10 3-13 3 20 3 21 3-55 3-10 3 23 3 21 3-16 3-22 3 8 3-5 3-2 3 23 3 9 3-24 3 6 3-9 3-1 3-12 3 50 3-23 3-33 3 10 3 32 3-48 3 35 3-26 3-59 3 22 3-52 3 11 3 16 3 75 3 149 3 2 3-102 3-51 3 14 3-35 3 17 3-26 3 17 3-1 3 41 3-27 3 15 3 7 3 0 3-4 3-7 3-6 3-30 3 71 3-36 3 5 3 0 3-33 3 54 3 28 3-89 3 39 3 2 3-8 3 15 3-4 3-3 3-14 3-9 3-7 3 58 3-44 3 2 3 28 3-29 3-13 3 50 3 18 3-60 3 12 3 2 3-3 3 29 3-28 3-5 3 27 3-50 3 37 3-55 3 32 3-13 3 108 3-35 3-48 3-41 3-45 3 58 3 1 3-20 3 57 3-23 3-30 3 25 3-48 3 16 3-3 3-57 3-74 3 104 3 43 3 8 3 48 3-34 3 27 3-13 3-35 3 27 3 59 3-79 3 70 3-71 3 7 3-10 3 50 3-25 3-69 3 8 3-15 3 98 3 49 3-34 3-56 3-62 3 77 3-54 3 21 3 115 3-2 3-41 3 47 3-49 3 14 3-35 3 51 3-26 3 11 3 7 3-10 3-35 3 48 3-31 3 7 3-26 3 33 3 25 3-16 3-23 3 3 3 22 3 6 3 8 3 17 3-26 3-17 3-22 3 30 3-9 3-29 3 35 3 8 3-64 3 54 3-48 3-3 3-22 3-49 3-69 3-12 3 35 3 33 3-19 3 110 3 34 3 5 3-11 3-2 3 5 3-42 3 28 3-15 3 25 3-28 3-29 3-5 3-54 3-64 3 86 3 87 3 38 3 50 3 0 3-48 3 8 3 24 3-33 3 4 3 2 3 6 3-3 3-21 3-8 3-11 3-2 3 48 3-19 3-4 3-18 3 8 3-8 3 18 3-12 3 0 3 13 3 7 3-34 3 23 3 14 3-4 3-2 3-15 3 3 3 4 3-11 3 2 3 14 3 15 3-20 3-19 3-5 3 9 3-18 3 27 3-47 3 53 3 14 3-26 3 12 3 12 3 8 3-30 3-19 3 21 3-28 3 19 3 9 3-2 3-31 3 35 3-57 3 17 3 11 3 12 3 24 3-20 3 35 3-26 3 30 3 22 3-13 3-14 3-34 3 11 3 9 3-38 3 13 3-12 3 41 3-45 3-22 3 14 3 2 3-23 3 23 3-14 3-21 3 15 3 17 3-15 3-28 3 18 3-46 3-44 3-66 3-37 3-86 3-5 3 69 3 234 3 135 3-48 3-22 3-25 3-5 3 12 3-13 3 18 3 0 3-19 3 20 3 2 3 2 3-8 3-28 3 48 3-6 3-1 3-16 3 13 3 0 3-19 3 6 3-4 3 4 3 2 3 5 3 35 3-45 3 11 3 1 3-7 3 5 3 5 3-15 3-13 3 29 3-8 3 1 3 2 3-1 3-16 3 19 3 19 3-22 3-17 3-7 3 32 3-6 3-11 3 18 3 4 3-17 3 10 3-13 3-8 3 35 3-50 3 28 3 12 3-25 3 35 3-1 3-4 3-5 3 20 3-19 3 10 3-15 3 16 3-9 3-18 3 10 3 29 3-17 3-22 3 77 3-67 3 7 3 3 3 6 3-4 3-8 3 13 3-1 3-37 3 39 3 0 3 6"/>
<path stroke="#0000ff" d="M0 1150l3-17 3-25 3-28 3 65 3-41 3-3 3 52 3-27 3 12 3-38 3-14 3 17 3 33 3-7 3-5 3-4 3-12 3 15 3 4 3-13 3 32 3-59 3 25 3 40 3-48 3 4 3-5 3 23 3 0 3 13 3-17 3-34 3 17 3-7 3 2 3-41 3-14 3-21 3-41 3 52 3 108 3 75 3-72 3-66 3-6 3-54 3 81 3-5 3-31 3 32 3-1 3 21 3 6 3 17 3-50 3-1 3-11 3 34 3 3 3-17 3 3 3 57 3-22 3-32 3 9 3 25 3-1 3-23 3-20 3 32 3-8 3-17 3 12 3-24 3 54 3-78 3 65 3 3 3-7 3-30 3 28 3 40 3-68 3-19 3 86 3-66 3 49 3-30 3 17 3-7 3-14 3 7 3-36 3 107 3-143 3 43 3 39 3-82 3 50 3 29 3-31 3 13 3-29 3 15 3-43 3-45 3 112 3-29 3 23 3-48 3 1 3-6 3-41 3-44 3-38 3 9 3 93 3 35 3 46 3 10 3-18 3 21 3 10 3-75 3 3 3 43 3-97 3 22 3-38 3 68 3 22 3-11 3 39 3-105 3 114 3-23 3-75 3 109 3-85 3-66 3 37 3 79 3 44 3 14 3-52 3 23 3-27 3-3 3 21 3 22 3-36 3 52 3-40 3 32 3-13 3-3 3 59 3-50 3 20 3 6 3-22 3-10 3 1 3 28 3-15 3 4 3 11 3-27 3 41 3-20 3-30 3 42 3-8 3-31 3 10 3-4 3-9 3 3 3-5 3-29 3-10 3-20 3-81 3-85 3 51 3 2 3-5 3 83 3 68 3 14 3 43 3-57 3 14 3-7 3-11 3 20 3-30 3 7 3 8 3-40 3-40 3-96 3-50 3 93 3 56 3 94 3 50 3-43 3 25 3-18 3-2 3 8 3-1 3 24 3-13 3 1 3-25 3 5 3 2 3-4 3 30 3-12 3 6 3-3 3 20 3-18 3 10 3 11 3-34 3-5 3-22 3 43 3 8 3 7 3-23 3-16 3 5 3 1 3 14 3-3 3 3 3-9 3-19 3 11 3-9 3-10 3-19 3-2 3 47 3-28 3 25 3 18 3-35 3 28 3 10 3 1 3-39 3 34 3 5 3-34 3 58 3-40 3-13 3 9 3-14 3 3 3-11 3 14 3-22 3 64 3-12 3-1 3 33 3-11 3 0 3 31 3-7 3-58 3 10 3-24 3 10 3 13 3-24 3-18 3 13 3-19 3-38 3-3 3 13 3-25 3 18 3 5 3 1 3 15 3-37 3 3 3-12 3-30 3-56 3-45 3-132 3-65 3-76 3 157 3 218 3 99 3-22 3-22 3-1 3 8 3 35 3-12 3-4 3 37 3-11 3-21 3 7 3-19 3 30 3-4 3-30 3 8 3 12 3 33 3 6 3-26 3-22 3 27 3 0 3-6 3-5 3 17 3-20 3 7 3 20 3-43 3 25 3-16 3 21 3 2 3-18 3 33 3-36 3 26 3-15 3 15 3-2 3-12 3-11 3-2 3 15 3 3 3-10 3-9 3 17 3-26 3 11 3 16 3 2 3-13 3 18 3-9 3 0 3-2 3-10 3 13 3-6 3 30 3-31 3 14 3 33 3-30 3 0 3-9 3 4 3 4 3-30 3 8 3-2 3 26 3-20 3 18 3-9 3 23 3-49 3 40 3-15 3 12 3 8 3-16 3 2 3 21 3-2 3-1"/>
<path stroke="#008000" d="M0 1195l3-37 3 21 3 25 3 11 3-11 3-19 3-12 3-11 3 10 3-5 3 29 3 12 3-36 3-6 3 15 3 4 3-18 3-17 3 26 3 0 3 1 3 1 3-25 3 21 3-30 3-8 3-10 3 10 3 27 3-43 3 18 3 3 3-12 3-44 3 11 3-49 3-20 3-10 3-18 3 48 3 93 3 92 3 27 3-112 3-32 3-11 3-30 3 51 3-7 3 1 3-1 3 18 3 3 3-13 3 45 3-13 3-41 3 46 3 11 3-8 3 13 3-33 3-3 3 20 3 15 3-32 3 4 3-10 3 15 3-9 3 38 3-35 3 16 3-4 3-12 3 11 3 34 3-65 3-13 3 44 3-3 3-34 3 61 3-1 3-15 3-21 3 1 3 32 3-11 3-28 3-20 3-4 3 110 3-82 3-55 3 27 3 14 3-24 3 25 3 25 3 18 3-20 3 16 3-12 3-34 3 62 3-80 3 58 3-39 3-10 3 12 3 13 3-16 3-63 3-30 3 91 3-12 3-37 3 47 3 28 3 45 3 5 3-19 3 64 3-91 3 41 3-21 3-43 3 70 3 0 3-25 3-10 3 26 3-70 3 19 3 33 3-2 3-4 3-35 3 101 3-74 3 61 3 3 3-24 3 1 3-14 3-28 3 34 3-51 3 36 3-5 3 25 3 6 3 18 3-66 3 58 3-20 3-2 3-1 3 8 3 9 3-13 3 6 3-1 3-3 3 0 3 2 3 12 3-6 3-11 3 16 3 7 3-6 3-33 3-5 3 30 3 20 3-17 3 1 3-11 3-28 3-38 3-37 3-57 3-16 3 39 3-30 3 89 3 17 3 47 3 36 3-30 3-17 3-1 3 17 3-40 3 5 3-3 3-7 3-46 3-23 3-15 3-41 3-28 3 82 3 69 3 24 3 10 3 16 3-1 3 27 3-18 3-13 3 9 3-22 3 30 3 8 3-23 3 34 3-34 3 8 3 8 3-16 3-29 3 47 3-20 3 10 3-14 3 6 3-21 3 16 3-6 3 32 3-41 3-19 3 43 3-22 3 6 3-2 3-7 3 16 3-8 3 20 3-29 3-13 3 5 3 4 3-12 3-8 3-5 3 34 3 17 3-13 3-12 3-13 3 13 3-7 3 14 3-4 3 14 3-14 3 43 3-53 3-1 3 34 3-23 3-8 3-5 3-5 3 27 3 6 3 8 3 25 3-41 3 51 3-8 3-38 3 22 3-42 3-18 3 42 3-26 3 19 3-7 3-46 3 2 3 12 3-3 3-54 3 27 3-26 3 38 3-31 3 41 3-24 3-36 3 12 3-52 3-40 3-67 3-104 3-51 3 8 3 124 3 171 3 150 3-63 3 11 3-4 3-21 3 38 3-12 3-9 3 20 3-6 3 19 3-15 3-13 3 15 3-15 3-10 3 6 3-6 3 18 3-11 3 11 3-20 3 15 3-21 3-1 3 13 3 31 3-33 3 16 3 11 3-16 3-7 3-1 3 2 3-15 3 8 3 31 3-15 3 14 3-4 3-10 3-8 3 10 3 3 3 0 3 8 3-13 3-11 3 17 3 21 3-29 3 8 3-17 3 14 3 2 3-2 3-14 3 10 3-9 3 27 3-25 3 31 3 9 3-33 3 6 3-27 3 37 3-20 3 9 3-3 3-17 3 13 3 14 3-9 3-17 3 5 3 6 3-16 3 46 3-22 3 1 3 4 3 3 3-7 3 2 3-14 3 18 3-35 3 1"/>
<path stroke="#ff0000" d="M0 1159l3-5 3 34 3-24 3 22 3-31 3 12 3 17 3-49 3 27 3-14 3-4 3-12 3 22 3 0 3 15 3-13 3 10 3-44 3 33 3 20 3-48 3-4 3 20 3-4 3-3 3-19 3 27 3-13 3-21 3 5 3-20 3 6 3-35 3-14 3-15 3-53 3-80 3-74 3 123 3 131 3 139 3-59 3-53 3-13 3-42 3 4 3 11 3 25 3 9 3 21 3 28 3-30 3 8 3-8 3 6 3-13 3 44 3-15 3-2 3-1 3-14 3-30 3 30 3 37 3-47 3 26 3 3 3-4 3 26 3-34 3 6 3 24 3-28 3 15 3 0 3-19 3 35 3 23 3-74 3 36 3 28 3-32 3 15 3 16 3-36 3-20 3 57 3-38 3-9 3 1 3-16 3 35 3-36 3-43 3 38 3 5 3 68 3 18 3-83 3-32 3 16 3 29 3 20 3-97 3 83 3-42 3 22 3 51 3-39 3-25 3-1 3-58 3-36 3-92 3 117 3 6 3 9 3 4 3 46 3 43 3-45 3-13 3 19 3 19 3-59 3-51 3 11 3 47 3 12 3 27 3-52 3 57 3-92 3 34 3 13 3 144 3-141 3 15 3 34 3-30 3 70 3-42 3-4 3 9 3 23 3-64 3 57 3 44 3-10 3 42 3-45 3 46 3-66 3 26 3-30 3 20 3 1 3 10 3-35 3 42 3-35 3 40 3-6 3-38 3 16 3-16 3 24 3-10 3 16 3-10 3 6 3-24 3-3 3 48 3-45 3 6 3 3 3-10 3-21 3-27 3 14 3-47 3-119 3 43 3 19 3 8 3 17 3 110 3 15 3 21 3 3 3-13 3-10 3-1 3 0 3-31 3 27 3-1 3-52 3-58 3-29 3-46 3 36 3 113 3 33 3 71 3 1 3-45 3 32 3-13 3 3 3-40 3 46 3-42 3-7 3 28 3-12 3-13 3 20 3 19 3-33 3 12 3-24 3 19 3 15 3-34 3 14 3 24 3-55 3 31 3 4 3-34 3 29 3-4 3-3 3-20 3 16 3 20 3-60 3 21 3 22 3-18 3-7 3 23 3-9 3 3 3-47 3 27 3 17 3-11 3 6 3-22 3 28 3 8 3 4 3-15 3-20 3 12 3 13 3-21 3 10 3 1 3 50 3-73 3-16 3-18 3-16 3 52 3 0 3 39 3-26 3 64 3-55 3 32 3 12 3-32 3-11 3-9 3 0 3 17 3-18 3-12 3-29 3 48 3-7 3-18 3-2 3-27 3 22 3 38 3-35 3-9 3-9 3 35 3-21 3-66 3-14 3-19 3-78 3-106 3-84 3 48 3 220 3 236 3 33 3-100 3-23 3-37 3-3 3 31 3-3 3-11 3 0 3 10 3 15 3 13 3-20 3-1 3-8 3 1 3 19 3 19 3-19 3-32 3 55 3-38 3-2 3 12 3 8 3-22 3 2 3-1 3 14 3 3 3-18 3-10 3 41 3-21 3 11 3-47 3 51 3-35 3 21 3-35 3 28 3 4 3-10 3 31 3-37 3 9 3 18 3-24 3-15 3 22 3 12 3 15 3-40 3 31 3 6 3-32 3 15 3-35 3-16 3 73 3-18 3-15 3-9 3 4 3 24 3-43 3 26 3-3 3 2 3 4 3 16 3-30 3-8 3 49 3-40 3 16 3 3 3 17 3-19 3-2 3 8 3-13 3 1 3 1 3 15 3-31 3-10 3 4 3 10 3 9"/>
<path stroke="#00bfbf" d="M0 1162l3-10 3-1 3 5 3-14 3 8 3 5 3-25 3 4 3 29 3-32 3 27 3-11 3-4 3 19 3-21 3-1 3-9 3-1 3 22 3 11 3 13 3-58 3-1 3 22 3 6 3-56 3 23 3 0 3-11 3-4 3-18 3 29 3-83 3 18 3-22 3-19 3 3 3-86 3 36 3 94 3 214 3 14 3-146 3-31 3 23 3-36 3 18 3-8 3 9 3-1 3 9 3-13 3 45 3-29 3 35 3-3 3-35 3-1 3 63 3-53 3 18 3-38 3 26 3 1 3-11 3 18 3-20 3 4 3 41 3-16 3-12 3-9 3-19 3 49 3-17 3-11 3 13 3 0 3 7 3-11 3-16 3 35 3 15 3-66 3 25 3-1 3-16 3 24 3 66 3-84 3 22 3-14 3-15 3 4 3 17 3 34 3-58 3 11 3-8 3 3 3 4 3 22 3-23 3 3 3-7 3-1 3 55 3-105 3 94 3-7 3-20 3-43 3-107 3-1 3 88 3-8 3 49 3-39 3 13 3 10 3 77 3-35 3-31 3 5 3-11 3-50 3-8 3 1 3 111 3-54 3 4 3-10 3-2 3 49 3-72 3 72 3 3 3-17 3-100 3 36 3 28 3 39 3 75 3-57 3 90 3-168 3 83 3-27 3-32 3 56 3-27 3 33 3 15 3 9 3-41 3 50 3-40 3 36 3-13 3 14 3 11 3-22 3-3 3 5 3-41 3 20 3 34 3-3 3-38 3 0 3 11 3 13 3-1 3-14 3-21 3-17 3 27 3 12 3-69 3 26 3-55 3-42 3-91 3-29 3 101 3-25 3 49 3 78 3 43 3 79 3-62 3-6 3-3 3-4 3-8 3 8 3-15 3-11 3-17 3-46 3-68 3-69 3 57 3 48 3 99 3 34 3 3 3-11 3 29 3 1 3-7 3-1 3-1 3 19 3-32 3-18 3 44 3-29 3 29 3-25 3-3 3-20 3 42 3-26 3 0 3-10 3-32 3 59 3-24 3 12 3 13 3-35 3 23 3-28 3 26 3-10 3 7 3 16 3-2 3-20 3 21 3-41 3 0 3 2 3 10 3-55 3 20 3 5 3 38 3 18 3-18 3 13 3 28 3-44 3 5 3 5 3-21 3 1 3-31 3 49 3-14 3 32 3-51 3 8 3-44 3 18 3 5 3-15 3 44 3-7 3-1 3 4 3 18 3-8 3 16 3-9 3-9 3 10 3-16 3-1 3 2 3-47 3 11 3 14 3-1 3-42 3-7 3-5 3 7 3 10 3-16 3 26 3-7 3 20 3-25 3-7 3-56 3-19 3-31 3-119 3-61 3-50 3 100 3 193 3 183 3-41 3-43 3 1 3 10 3 6 3-27 3 29 3 12 3 0 3-38 3 11 3-3 3 19 3-27 3 25 3-24 3 12 3-1 3 15 3 3 3-12 3-4 3-6 3 16 3-17 3 31 3-6 3 8 3-71 3 55 3 1 3-24 3-11 3 34 3-12 3 34 3-26 3-32 3 0 3 12 3 40 3-30 3-19 3 17 3 26 3-24 3 21 3 1 3-63 3 44 3-20 3 22 3-8 3 11 3 8 3-12 3 7 3-22 3 22 3-9 3-3 3 15 3-15 3-18 3 25 3 1 3 1 3-16 3-12 3 0 3 12 3 7 3 5 3 12 3-35 3 30 3-7 3 8 3-21 3 21 3-1 3 7 3-27 3 16 3-11 3 10 3 23 3-19 3-7"/>
<path stroke="#bf00bf" d="M0 1132l3 20 3 7 3 7 3-37 3-20 3 38 3 9 3-45 3-1 3 35 3-8 3 39 3-22 3-3 3-8 3 9 3 15 3-1 3-21 3-29 3 39 3 5 3-42 3 26 3 20 3-40 3 16 3-44 3 10 3 3 3-20 3 7 3-3 3-22 3-39 3-31 3-32 3 36 3 82 3 142 3 49 3-103 3-88 3 49 3-22 3-2 3-20 3 42 3 13 3-20 3 17 3-21 3 43 3-13 3 26 3-1 3-50 3 55 3-70 3 49 3-34 3 44 3-50 3 43 3 14 3-7 3-16 3 15 3-36 3 15 3 6 3 39 3-56 3-12 3 37 3 6 3 32 3-27 3-10 3-7 3-4 3 18 3-10 3-32 3 83 3-84 3 6 3 21 3-22 3-21 3 21 3 30 3-122 3 43 3 51 3-36 3 16 3-19 3 61 3-23 3 6 3-63 3 15 3-81 3 45 3 103 3 21 3-117 3 5 3 18 3-49 3-53 3-12 3 26 3-20 3 67 3 34 3-26 3 111 3-69 3 3 3 30 3 22 3-31 3 52 3-139 3 72 3-12 3 29 3-15 3-20 3-29 3 35 3-24 3 36 3-58 3 30 3 16 3-70 3 63 3-47 3 143 3-27 3-2 3 25 3-136 3 69 3 48 3 38 3-27 3-46 3-9 3 46 3 5 3-23 3-1 3 16 3 19 3-21 3 0 3 4 3 34 3-58 3 6 3 20 3-18 3 65 3-50 3-1 3-29 3 11 3 21 3-37 3 14 3 10 3-30 3 0 3 5 3-26 3-39 3-63 3-85 3 11 3 51 3 44 3-34 3 69 3 65 3 45 3 13 3-31 3-18 3-13 3 12 3 22 3-31 3-18 3 9 3-62 3-46 3-53 3 29 3 72 3 112 3 54 3 18 3-33 3-15 3 3 3 16 3-32 3 31 3-29 3 29 3-11 3-9 3-1 3-39 3 18 3 20 3-16 3 9 3-31 3 39 3 1 3-2 3-26 3 3 3 34 3-43 3 3 3 39 3-32 3 1 3 47 3-27 3-18 3 45 3-21 3 6 3 11 3-52 3-16 3 29 3 9 3-47 3-7 3 2 3 12 3 34 3-27 3-3 3 16 3 45 3-41 3-6 3 16 3-3 3 0 3-15 3 5 3 16 3-12 3-45 3 62 3-33 3-18 3 17 3 9 3-6 3 1 3 27 3 43 3-26 3 8 3-41 3 1 3 12 3-2 3-5 3-32 3 40 3-28 3-20 3 27 3-28 3-3 3-9 3-26 3-7 3 32 3 4 3-10 3 3 3-36 3-9 3-71 3-46 3-82 3-103 3-3 3 107 3 235 3 209 3-85 3-47 3-2 3-8 3 2 3 9 3 9 3 11 3-8 3 15 3-6 3 4 3-26 3 19 3 8 3-38 3-5 3 33 3-5 3-22 3 32 3-34 3 15 3 1 3 9 3-8 3-16 3 46 3-53 3 7 3 45 3-27 3-20 3 12 3 0 3-3 3 15 3-26 3 2 3 3 3 14 3 15 3-26 3 20 3-9 3 14 3-29 3 25 3-12 3 39 3-22 3-15 3-3 3 3 3 2 3-9 3 6 3-13 3 23 3-22 3 9 3 10 3-2 3 9 3-17 3 6 3-9 3-10 3 20 3 18 3-27 3 8 3-28 3 25 3-2 3-28 3 35 3-1 3-13 3 4 3 2 3-16 3 4 3 26 3-4 3-7 3-9 3 9 3 13 3-28"/>
<path stroke="#bfbf00" d="M0 1183l3 34 3-42 3-10 3 2 3 31 3-29 3-25 3 30 3-5 3 4 3 42 3-48 3-33 3 49 3-4 3-26 3-10 3 20 3 5 3-28 3 3 3-7 3-14 3 19 3-27 3 7 3 28 3 1 3-69 3-5 3-36 3 25 3-17 3-10 3-31 3-62 3-85 3-150 3 92 3 189 3 211 3-34 3-65 3-33 3-40 3 20 3 21 3 26 3-15 3 45 3-33 3 16 3 24 3 10 3-9 3-22 3 20 3 17 3-6 3-23 3 55 3-29 3 10 3-21 3-15 3 9 3 12 3 14 3 1 3-2 3 5 3-8 3 1 3 6 3-8 3 0 3 23 3-39 3 30 3-18 3 25 3-18 3 18 3-22 3-46 3 63 3-26 3 34 3-14 3 57 3-69 3-37 3 14 3 21 3-23 3-10 3 31 3-2 3 1 3 45 3-30 3-5 3-30 3-21 3 10 3 74 3 4 3-88 3 85 3-87 3 38 3-132 3 40 3-54 3 12 3-13 3 105 3 2 3 43 3-39 3-4 3 101 3-90 3 36 3-23 3-34 3 9 3 22 3 14 3 16 3-39 3-60 3-23 3 63 3 25 3 33 3-5 3 9 3-4 3 23 3-1 3-29 3 40 3 33 3-66 3-9 3 5 3-3 3 37 3 45 3-64 3 24 3-28 3 38 3 5 3-38 3 15 3 19 3 5 3-6 3 3 3-5 3 11 3-15 3 14 3 11 3 16 3-24 3-14 3-10 3 3 3-7 3-25 3 25 3-20 3 18 3-23 3 32 3-27 3-20 3-46 3-63 3-69 3-55 3 41 3 21 3 111 3 14 3 69 3 18 3-35 3 8 3 9 3-27 3 15 3-3 3 8 3-20 3-48 3-68 3-53 3-49 3 93 3 89 3 71 3 87 3-30 3 2 3-24 3-4 3-10 3-33 3 31 3 3 3-4 3 1 3-3 3-6 3-45 3 38 3 15 3-25 3 36 3 9 3-23 3 17 3-41 3-8 3 17 3-4 3 22 3-29 3 31 3-20 3-9 3 12 3-1 3-10 3 8 3 1 3 9 3-6 3-22 3-22 3 22 3-30 3 0 3 28 3 27 3-10 3-18 3 28 3 6 3-30 3 31 3-17 3-5 3 5 3-3 3 22 3-15 3 3 3 4 3-36 3 5 3-17 3-20 3 52 3-23 3 26 3 28 3-9 3 36 3 3 3-24 3-1 3-12 3-37 3 24 3-22 3 16 3-20 3 25 3-39 3-15 3 5 3-7 3-10 3-5 3-16 3 22 3-24 3 5 3 13 3-14 3-14 3-71 3-48 3-111 3-49 3-86 3 36 3 178 3 284 3 115 3-63 3-36 3-74 3 31 3-16 3 4 3-8 3 45 3-10 3 3 3-4 3-21 3 11 3 0 3 20 3-4 3-18 3-12 3 2 3 9 3 6 3-8 3 16 3-33 3 37 3-36 3 42 3-37 3 12 3-5 3-2 3-5 3 6 3 19 3-19 3 5 3 30 3-29 3 19 3-32 3 14 3 10 3 1 3 4 3-12 3 21 3 6 3-20 3 3 3 14 3-12 3-2 3-4 3-4 3 2 3 25 3-9 3 3 3-27 3 1 3 16 3 11 3-18 3 30 3-12 3-20 3 17 3 11 3-9 3-30 3 26 3-31 3 7 3 5 3 29 3-27 3 17 3-25 3 41 3 7 3-60 3 37 3 22 3-33 3 12 3-23 3-5 3 31 3-7"/>
<path stroke="#404040" d="M0 1165l3 7 3-13 3-14 3 26 3-18 3-8 3 2 3 2 3 18 3-40 3 67 3-73 3 38 3 11 3-12 3 4 3-30 3 18 3 9 3-10 3-6 3-13 3 28 3-54 3 4 3 26 3-15 3-8 3-1 3 18 3-12 3-12 3 35 3-96 3 44 3-30 3-27 3-24 3-27 3 18 3 76 3 176 3-16 3-92 3-90 3 33 3-11 3 35 3 16 3 7 3-5 3-15 3 45 3-29 3-5 3-2 3 12 3 18 3 6 3-10 3-27 3 28 3-24 3 13 3 24 3-47 3 7 3 24 3-2 3 31 3-5 3-16 3 8 3-3 3 0 3 5 3-31 3 51 3-25 3 13 3 5 3-70 3 62 3-29 3 7 3 18 3 22 3-7 3-15 3 63 3-143 3 128 3-115 3 16 3 51 3-83 3 110 3-36 3-26 3 11 3-29 3 26 3-34 3 4 3-49 3 61 3-51 3 66 3-101 3 87 3-68 3 41 3-56 3-91 3 9 3-7 3 69 3 9 3 62 3 117 3-43 3-62 3 69 3-82 3 7 3 36 3-8 3-54 3-35 3 92 3-62 3 30 3-18 3-81 3 174 3-64 3 28 3-27 3-33 3 55 3-40 3 66 3-40 3 108 3-89 3 1 3-57 3 43 3 5 3 41 3-16 3 0 3 55 3-73 3 5 3 42 3-8 3 14 3 15 3-45 3 10 3-17 3 5 3 5 3 4 3 8 3-7 3 10 3-15 3 11 3 27 3-6 3-40 3 49 3-1 3-27 3-17 3 7 3 4 3-15 3-5 3-60 3-73 3-44 3-40 3 40 3-5 3 90 3 42 3 51 3 75 3-3 3-32 3-49 3 11 3 14 3-36 3-10 3-13 3-14 3-27 3-115 3 16 3 8 3 81 3 104 3 27 3 26 3-45 3 25 3 15 3 5 3-9 3 32 3-4 3-22 3-5 3 13 3-23 3 8 3-8 3-2 3-18 3 19 3-5 3 9 3 22 3-46 3 21 3-7 3 20 3-19 3 30 3-13 3-9 3-13 3-21 3 21 3-32 3 33 3-16 3 23 3-12 3 16 3-6 3 8 3-25 3-27 3-11 3 50 3 2 3-42 3 38 3 20 3-21 3-4 3-10 3 9 3 20 3-15 3-28 3 11 3 13 3-7 3-26 3 25 3-27 3 12 3 18 3 7 3 1 3-2 3-16 3 48 3 43 3-60 3-7 3-5 3-37 3 21 3-14 3-3 3 18 3-16 3 0 3-45 3-29 3 15 3 13 3-22 3 5 3-14 3 26 3-10 3-11 3-15 3-36 3-8 3-35 3-86 3-86 3-56 3-5 3 135 3 247 3 144 3-17 3-76 3-34 3 24 3-26 3 38 3 2 3 0 3-13 3 20 3-25 3-13 3 23 3-31 3 37 3-10 3 14 3-22 3 5 3-8 3-37 3 28 3 26 3-22 3 17 3-5 3-3 3 6 3 5 3-2 3-9 3-24 3 16 3 17 3-3 3-10 3-4 3 23 3-12 3 22 3-14 3-10 3-13 3 30 3-23 3 9 3 10 3-17 3 27 3-11 3 8 3-21 3 4 3-26 3 41 3 0 3 0 3-3 3-5 3 5 3-15 3 1 3-12 3 18 3 2 3-13 3 10 3-11 3 20 3 4 3 1 3-11 3 9 3-6 3 0 3 11 3-15 3-8 3-13 3 58 3-16 3-4 3 3 3-26 3 17 3-41 3 18 3 13"/>
<path stroke="#0000ff" d="M0 1131l3 5 3-30 3 14 3-18 3 39 3 20 3-1 3-28 3 21 3-31 3 6 3 27 3-27 3-1 3-3 3 29 3-10 3-31 3-3 3-4 3 30 3-10 3 9 3-4 3 20 3-23 3-2 3-36 3 3 3-43 3 17 3-18 3-31 3-11 3-56 3-29 3-33 3 20 3 81 3 160 3 21 3-90 3-22 3-2 3 9 3 5 3-5 3 3 3 17 3-10 3 18 3 22 3-7 3-3 3-8 3 28 3-28 3 58 3-49 3 6 3 22 3-18 3-42 3 18 3 65 3-8 3-48 3 35 3-33 3 30 3-30 3 41 3-4 3-3 3-8 3-7 3-18 3 14 3 41 3-53 3 16 3-14 3 40 3-33 3-9 3 21 3-31 3 74 3-11 3-7 3-23 3 15 3-20 3-11 3-45 3 56 3-17 3-23 3 62 3-44 3 15 3-41 3-4 3-30 3 6 3 69 3-12 3-47 3 86 3-8 3-143 3 39 3 23 3 11 3-24 3 21 3 110 3-66 3 28 3 33 3-56 3 68 3-55 3 6 3 49 3-74 3 44 3 47 3-83 3-24 3-16 3 46 3 13 3-30 3-33 3 16 3 63 3 2 3-42 3 14 3 21 3-12 3 61 3 5 3-71 3 47 3-36 3-8 3 8 3 17 3 42 3 0 3-27 3 5 3 0 3-36 3 33 3-7 3-23 3 56 3-8 3-36 3 19 3-23 3 17 3-28 3 58 3-31 3-17 3 24 3-3 3 4 3 2 3 9 3-5 3-12 3 11 3-22 3-43 3-19 3-31 3-67 3 10 3 18 3 2 3-30 3 77 3 88 3 26 3-16 3-45 3 29 3-11 3 1 3-6 3 17 3-37 3-33 3-47 3-23 3-76 3 15 3 95 3 84 3 79 3-16 3-11 3-21 3 32 3-32 3-4 3 30 3-13 3-18 3 29 3 2 3-12 3 21 3-12 3-28 3 40 3-24 3 1 3-11 3 4 3-54 3 66 3-1 3 10 3-22 3-3 3 9 3-15 3 15 3-8 3-17 3 34 3-37 3 13 3-3 3 8 3-16 3-1 3-26 3-3 3 21 3-6 3 2 3 13 3 18 3-11 3-6 3-17 3 24 3 4 3 0 3 15 3-10 3-10 3-2 3 11 3-20 3-12 3-14 3-15 3 42 3-5 3-24 3 0 3 20 3 37 3-34 3 38 3-19 3 14 3-11 3-35 3-6 3 26 3 9 3 17 3-63 3 27 3-31 3 30 3-58 3 30 3-12 3 14 3 23 3-60 3 28 3-14 3-13 3-8 3-44 3-28 3-60 3-48 3-92 3 15 3 93 3 160 3 187 3-40 3-40 3-30 3-4 3 32 3 19 3-13 3 3 3-9 3-23 3-7 3 14 3-23 3 7 3 5 3 1 3 28 3-4 3-28 3 35 3-24 3 6 3 2 3 4 3-31 3 30 3-9 3-5 3 8 3 48 3-42 3-41 3 27 3-3 3-3 3 15 3-17 3 11 3 7 3-8 3 4 3-9 3 11 3 0 3-10 3 6 3 24 3-30 3 2 3 5 3 10 3-17 3-17 3 32 3-6 3-12 3 39 3-19 3-19 3 39 3-32 3 32 3-9 3 7 3-13 3-10 3 12 3-37 3 27 3-15 3 12 3-3 3-27 3 47 3-32 3 33 3-8 3 8 3-24 3-2 3 39 3-17 3 7 3 3 3-2 3 18 3-27 3 36 3-9 3-27"/>
<path stroke="#008000" d="M0 1087l3 44 3-34 3 42 3-29 3 22 3-23 3 36 3-33 3 16 3-10 3 21 3-18 3 6 3 14 3-28 3-15 3 30 3-25 3 3 3-3 3 6 3-21 3 11 3 25 3-28 3 6 3-38 3 0 3 9 3-7 3 32 3-10 3-82 3-2 3-2 3-31 3-36 3-21 3 45 3 73 3 165 3-18 3-137 3-9 3-17 3-15 3 21 3 15 3 20 3 32 3-3 3 15 3 9 3 1 3-59 3 51 3 10 3-8 3-4 3 26 3 15 3-34 3 8 3 10 3 1 3-19 3 31 3-13 3 32 3-29 3-7 3-6 3 62 3-33 3-23 3 2 3 6 3 44 3-25 3-28 3 4 3-4 3-4 3 18 3 15 3-10 3-29 3 20 3-11 3 21 3 7 3 24 3-60 3 20 3 13 3-28 3 6 3 44 3-12 3 1 3 2 3-30 3-5 3 37 3-61 3 87 3-88 3 9 3 39 3 7 3-56 3-71 3-14 3-32 3 76 3 14 3 0 3 8 3 19 3-20 3 8 3-36 3 47 3-19 3 36 3-106 3 17 3-40 3 130 3-11 3-62 3-22 3 4 3-20 3 53 3 40 3 65 3-125 3 61 3-9 3 15 3 29 3-19 3 21 3-27 3 8 3 27 3-18 3 11 3-28 3 25 3 50 3-36 3 38 3 12 3-32 3-21 3 40 3-17 3 21 3-4 3 16 3-34 3-16 3 27 3-15 3 11 3-44 3 31 3-16 3 9 3 12 3-38 3 25 3-26 3 2 3 28 3-51 3 26 3-54 3-20 3-100 3-24 3 30 3 22 3-16 3 65 3 65 3 50 3 31 3-9 3-41 3 34 3-16 3-37 3 31 3-48 3 25 3-79 3-18 3-92 3 25 3 11 3 91 3 84 3 38 3-7 3 3 3 3 3-3 3 13 3 10 3-37 3 18 3-12 3-6 3 29 3 4 3-14 3-6 3-19 3 35 3-32 3 18 3-40 3 14 3 21 3-7 3 12 3-31 3-2 3 21 3-4 3-4 3 20 3-32 3 21 3-9 3 31 3-3 3-6 3-45 3-1 3 7 3-16 3 32 3-22 3 25 3-16 3 26 3-19 3 42 3-6 3-34 3 43 3-37 3 39 3-25 3-10 3 23 3-25 3 30 3-37 3-4 3-12 3-35 3 57 3-20 3 13 3-4 3 6 3 65 3-33 3 23 3-7 3-13 3 10 3-42 3-21 3 54 3-22 3-4 3-3 3-16 3-34 3 41 3-15 3-10 3 4 3 28 3-28 3-13 3 19 3-19 3-23 3-6 3-50 3-45 3-34 3-86 3-111 3 58 3 103 3 208 3 39 3 24 3-20 3-3 3-5 3 10 3 9 3-5 3 18 3-15 3-12 3-18 3 4 3-14 3 18 3 22 3-24 3 8 3-24 3 42 3-16 3 8 3-12 3 9 3-7 3 14 3-17 3 19 3-40 3 5 3 5 3 41 3-32 3-7 3 12 3 30 3-9 3-36 3 19 3 4 3 4 3-8 3 7 3-24 3 0 3 14 3-8 3-6 3 10 3-21 3 38 3-37 3 31 3-38 3 9 3 32 3-26 3-23 3 20 3 9 3-6 3-5 3 4 3-6 3-11 3 26 3-8 3-5 3 8 3-12 3 6 3 1 3 1 3 10 3 0 3-13 3 3 3 4 3-10 3 8 3 12 3-27 3 9 3-19 3 39 3-24 3 11 3-16 3 8 3 12"/>
<path stroke="#ff0000" d="M0 1120l3 36 3-3 3-37 3 31 3-8 3 47 3-20 3-7 3 33 3-36 3-12 3 31 3-35 3 25 3-25 3 45 3-18 3 0 3-4 3-18 3 15 3 7 3-6 3-2 3 0 3-27 3 38 3-10 3-42 3 26 3 5 3-55 3 15 3-8 3-3 3-18 3-61 3-19 3 61 3 204 3 107 3-118 3-112 3-9 3-23 3-42 3 53 3-19 3 20 3 20 3-23 3 9 3 30 3-51 3 19 3-11 3 33 3-28 3 46 3-41 3 16 3-2 3-6 3 6 3 18 3-15 3-6 3-14 3-7 3-24 3 29 3 16 3 10 3-45 3 33 3-1 3 0 3-3 3-2 3 6 3-4 3 10 3 9 3-6 3-5 3 10 3 35 3-66 3-17 3 6 3 25 3-19 3-6 3-36 3 62 3-7 3 17 3-11 3 18 3 30 3-52 3-33 3 28 3 13 3-34 3 6 3-13 3 8 3-15 3 20 3-42 3-124 3 8 3 29 3 42 3 16 3 36 3 37 3 34 3-41 3 41 3-6 3-55 3 60 3-125 3 49 3-12 3 65 3 16 3-15 3-39 3-81 3 90 3-51 3 76 3-5 3 50 3-46 3 3 3-36 3 97 3-24 3-18 3-32 3 84 3-111 3 7 3 23 3 50 3-14 3 59 3-46 3-39 3 67 3-40 3-30 3 38 3-27 3 31 3-2 3-1 3 22 3-17 3 1 3-7 3-4 3 28 3-27 3 16 3 24 3-62 3 10 3 37 3-41 3 21 3-8 3-11 3-5 3-15 3 5 3-50 3-63 3-77 3 5 3 77 3-4 3 16 3 86 3 32 3 39 3-16 3-14 3-8 3-3 3-1 3 13 3-36 3-23 3-36 3-33 3-69 3-35 3 84 3 73 3 112 3 52 3-19 3-57 3 8 3-20 3 18 3-14 3 6 3 15 3-22 3 11 3-15 3 3 3 30 3-47 3 28 3 7 3-30 3 17 3-13 3 16 3-1 3-12 3 10 3-50 3 25 3-18 3-1 3 13 3 21 3-17 3-22 3 15 3-8 3 32 3-15 3-26 3 24 3-31 3-20 3-16 3 23 3 15 3 13 3 10 3-10 3 0 3 17 3-3 3 9 3-19 3 28 3-14 3 7 3-4 3-12 3 27 3-42 3 8 3 2 3-30 3 47 3 24 3-43 3-7 3 63 3-23 3 48 3-6 3-24 3-28 3 21 3-19 3-23 3 10 3-16 3 20 3-5 3-10 3-39 3 30 3-32 3-6 3 10 3-15 3 19 3 24 3-18 3 7 3-65 3 2 3-32 3-84 3-53 3-64 3-89 3 93 3 171 3 239 3 76 3-80 3-45 3-33 3 19 3 29 3-21 3 5 3-3 3 19 3-24 3-7 3-20 3 4 3 30 3-5 3-9 3-13 3 12 3 10 3 23 3-15 3-8 3-11 3-17 3 30 3 10 3-29 3-21 3 0 3 14 3 12 3-6 3-11 3-5 3 3 3 13 3-15 3 21 3 6 3-7 3-13 3-10 3 16 3 4 3 18 3-36 3-10 3 23 3 0 3 10 3 7 3-34 3 7 3-6 3 25 3-26 3 27 3-17 3-16 3 18 3 28 3-7 3-19 3-5 3 3 3 11 3-12 3 11 3 2 3-29 3 23 3-8 3 6 3-18 3 16 3-25 3-6 3 17 3 2 3-18 3 39 3-33 3 22 3 7 3-2 3-12 3-25 3-12 3 47"/>
<path stroke="#00bfbf" d="M0 1169l3 12 3-12 3-11 3-12 3 18 3-13 3-1 3-2 3 8 3-1 3 16 3-7 3-47 3 50 3-40 3 13 3 21 3-28 3 30 3-21 3-23 3 37 3-3 3-23 3 25 3 4 3-63 3 38 3-46 3 45 3-44 3 1 3 18 3-28 3-34 3-55 3 0 3-54 3 7 3 39 3 97 3 153 3 21 3-115 3-71 3-4 3 29 3-1 3 38 3-28 3-2 3 7 3 5 3 55 3-16 3-7 3 3 3 3 3 8 3-10 3 32 3-16 3 9 3 8 3-6 3-2 3-52 3 51 3-17 3 0 3 10 3 9 3-9 3 16 3-5 3 6 3 9 3-30 3 25 3-27 3-1 3 30 3 0 3-6 3-1 3-22 3 28 3 6 3-30 3 15 3-6 3 25 3 9 3-81 3 34 3-8 3 10 3 7 3 6 3 7 3 10 3-50 3 20 3-59 3 34 3-57 3 42 3 65 3-74 3 5 3 6 3-44 3-6 3-36 3-33 3-72 3 99 3 28 3 96 3 0 3 30 3-49 3 13 3-33 3 2 3 15 3-24 3-73 3 2 3 74 3-21 3 21 3-29 3-50 3 62 3 5 3 36 3 32 3 65 3-123 3-14 3 25 3 34 3-35 3 44 3-1 3 8 3-62 3 20 3-3 3 13 3 20 3-2 3-1 3 23 3 1 3-35 3 31 3 13 3-25 3-6 3 19 3 7 3 12 3-23 3-10 3-22 3 44 3-20 3 8 3 10 3-12 3 3 3-24 3 26 3-32 3 27 3-5 3-25 3-28 3 17 3-45 3-91 3-38 3 19 3 8 3 16 3 37 3 78 3 64 3 28 3-27 3-38 3-2 3 2 3 6 3-20 3 6 3 27 3-90 3-39 3-87 3-55 3 49 3 135 3 115 3 68 3-47 3 9 3-2 3-2 3-21 3 14 3-25 3 22 3 21 3-42 3 13 3-33 3 22 3 10 3-25 3 23 3 9 3-6 3-2 3-14 3 7 3-9 3-9 3 29 3 5 3-2 3-23 3-16 3-23 3 46 3 27 3 4 3-30 3-3 3 12 3-27 3 14 3 6 3-52 3-8 3-8 3 16 3 12 3 41 3-12 3-1 3 10 3-3 3 18 3 13 3-4 3-38 3 26 3-2 3 20 3-14 3-18 3-6 3-28 3 7 3 12 3-14 3 32 3-19 3 23 3 14 3 38 3 8 3-36 3-31 3 2 3 4 3-12 3 20 3-32 3 5 3 5 3 22 3-73 3 14 3-10 3 4 3-12 3 0 3 29 3-17 3-17 3 17 3-8 3-14 3-75 3-42 3-73 3-83 3-77 3 38 3 153 3 275 3 89 3-93 3-34 3 4 3 10 3-14 3 2 3-4 3 30 3-4 3 13 3-19 3-2 3-18 3 46 3-62 3 5 3-6 3 21 3 11 3-31 3 1 3 3 3 14 3-20 3 25 3 18 3-27 3 7 3-5 3 9 3-7 3-27 3 36 3-13 3 10 3-18 3 16 3-5 3-9 3-19 3 20 3-1 3 35 3-12 3-10 3 1 3-14 3 4 3-19 3 25 3-21 3 4 3-10 3 44 3-19 3-10 3 9 3 18 3-41 3 25 3-11 3-17 3 15 3 11 3-35 3 35 3-14 3-11 3 21 3-2 3-3 3-15 3 3 3 2 3-13 3 15 3 5 3 18 3-30 3 2 3 13 3 8 3-43 3 16 3 1 3-7 3 21 3 24"/>
<path stroke="#bf00bf" d="M0 1176l3 2 3-19 3-40 3 30 3 6 3-11 3-2 3 6 3 19 3-27 3 21 3 3 3-28 3 3 3-18 3 25 3-16 3-16 3 38 3-12 3 0 3-1 3 19 3-32 3 34 3-40 3-17 3-4 3-8 3 35 3-19 3-42 3-5 3-15 3-28 3-29 3-22 3-12 3 12 3 67 3 224 3 67 3-151 3-55 3-44 3 25 3-25 3 10 3-5 3 16 3-18 3 23 3-6 3 35 3 11 3 6 3-9 3-32 3-6 3 71 3 5 3-60 3-10 3 35 3-23 3 15 3 10 3-15 3 20 3 2 3-28 3 18 3 44 3-42 3 27 3-30 3 16 3-48 3 31 3-27 3 35 3-14 3 11 3 22 3-11 3 24 3-62 3 18 3 7 3-5 3 34 3 4 3-18 3-11 3-25 3-9 3-17 3-1 3 37 3 47 3-40 3 20 3-60 3 70 3-57 3 9 3 28 3-23 3-19 3 54 3-117 3 7 3-71 3-35 3 28 3 48 3 16 3 120 3 26 3 27 3-39 3-66 3 28 3 40 3-7 3-97 3-23 3 61 3-22 3 8 3 40 3-42 3-28 3 50 3 5 3 9 3 2 3-83 3 61 3-8 3 12 3 86 3-37 3 32 3-26 3 16 3-55 3-55 3 48 3 13 3 60 3 27 3-34 3-10 3 17 3 47 3-32 3-45 3 38 3-17 3 37 3-65 3 27 3-8 3 20 3-45 3 45 3-6 3 15 3-16 3 6 3-31 3 11 3 5 3-33 3 36 3-11 3-10 3-12 3-1 3-40 3-34 3-68 3-40 3-1 3 45 3-2 3 36 3 41 3 86 3 38 3-26 3 7 3-46 3 6 3-29 3 9 3 0 3-30 3-26 3-52 3-32 3-63 3 32 3 111 3 124 3 61 3-43 3-33 3 29 3 12 3-24 3-23 3 20 3 31 3-42 3 12 3-19 3 10 3 13 3-13 3-9 3-24 3 28 3 15 3-48 3 37 3-1 3 2 3-27 3 5 3-4 3-22 3 15 3-7 3 46 3-42 3 23 3-7 3 3 3-19 3 7 3-27 3 4 3-1 3-12 3-15 3-21 3 35 3 6 3 21 3 9 3-27 3 19 3-7 3-7 3 0 3 17 3-16 3 15 3-20 3-9 3 33 3-3 3-48 3-14 3-3 3 19 3-4 3 48 3-9 3 12 3 31 3 38 3-37 3-21 3-6 3 17 3-35 3 10 3 13 3-22 3 13 3-24 3 3 3-11 3-41 3 26 3-18 3 4 3 11 3 14 3-25 3-10 3-4 3-25 3-6 3-37 3-52 3-68 3-113 3-65 3 20 3 188 3 261 3-9 3-38 3 26 3-1 3-26 3 7 3 6 3 33 3-12 3-5 3-13 3 18 3-16 3 5 3 20 3-77 3 55 3-4 3-1 3 31 3-25 3 11 3-15 3 29 3-4 3-37 3 35 3-35 3 12 3 9 3 11 3-8 3-16 3 26 3-25 3 8 3-25 3 19 3 8 3 22 3-2 3-29 3 5 3 12 3 11 3-18 3-15 3 28 3-20 3 7 3-23 3 14 3-2 3 22 3-29 3-3 3 55 3-31 3-9 3 19 3-29 3 53 3-39 3-4 3 15 3-3 3 11 3-4 3-12 3-2 3-13 3 15 3-7 3 40 3-31 3 0 3 5 3-9 3-1 3 4 3 4 3-15 3-4 3 19 3-4 3-9 3-1 3 4 3 2"/>
<path stroke="#bfbf00" d="M0 1148l3 11 3 9 3-11 3 23 3-26 3 7 3-9 3 11 3 30 3-33 3-30 3 11 3 22 3-40 3 46 3-26 3 20 3 1 3-22 3 2 3 0 3 23 3-40 3 15 3-28 3 17 3 29 3-5 3-15 3-28 3-17 3 13 3-82 3 43 3-25 3-23 3-50 3-13 3 29 3 176 3 176 3-74 3-117 3-48 3 26 3-44 3 26 3 9 3 31 3-45 3 8 3-5 3 35 3 9 3-1 3-11 3-17 3 39 3-25 3-2 3-2 3 6 3 2 3-4 3 53 3-44 3-8 3 22 3-38 3 24 3 39 3-32 3-8 3 3 3 5 3 9 3 15 3 0 3-16 3-10 3 16 3 6 3 14 3 3 3-65 3 40 3-23 3 64 3-18 3-12 3-54 3-24 3 25 3-32 3 72 3-50 3 43 3 5 3-47 3 29 3 26 3-68 3-20 3 45 3 15 3-11 3-20 3 23 3 26 3-64 3-9 3 29 3-110 3 8 3-7 3 99 3-33 3 84 3-3 3 33 3-54 3 33 3-53 3-16 3 113 3-119 3-42 3 41 3-27 3 75 3-96 3 7 3-23 3 65 3 33 3 26 3 64 3-93 3 22 3 43 3-51 3 47 3 53 3-16 3-58 3-20 3 1 3 53 3-54 3 18 3 17 3 18 3-37 3-14 3 87 3-65 3 35 3 13 3-24 3 12 3-2 3-36 3 42 3-13 3-21 3 24 3 16 3-21 3 1 3 17 3-15 3 16 3-15 3 21 3-18 3-5 3-8 3-35 3-7 3-3 3-38 3-61 3-72 3-1 3 49 3 12 3 66 3 68 3 24 3 44 3-44 3 26 3-40 3 17 3-5 3-49 3-19 3 26 3-36 3-33 3-124 3-27 3 61 3 96 3 98 3 1 3 8 3 19 3-45 3 52 3 4 3-69 3 10 3 49 3-36 3 34 3-25 3-5 3 19 3-14 3-3 3 15 3-20 3 0 3 6 3 1 3 2 3-17 3-31 3 51 3-34 3 0 3 44 3-11 3-35 3 17 3-32 3 57 3-35 3 4 3 7 3-26 3 9 3-26 3-3 3-19 3 9 3 31 3 22 3 19 3-3 3-5 3-2 3 17 3-18 3 12 3-41 3 24 3 27 3-35 3 6 3 2 3 32 3-35 3-8 3 14 3-10 3 9 3-6 3 48 3-27 3-11 3 16 3 34 3-32 3-6 3-9 3 42 3-79 3 33 3-11 3 22 3-31 3-1 3-12 3-7 3-15 3-16 3 7 3 6 3 2 3-18 3 13 3-20 3-16 3-11 3-28 3-51 3-73 3-76 3-47 3 45 3 173 3 175 3 120 3-97 3 15 3-45 3 7 3-3 3 9 3 14 3 6 3-11 3-38 3 33 3-10 3-6 3-4 3-16 3 6 3 27 3-24 3 21 3 2 3-7 3-21 3 6 3-2 3 23 3 3 3-57 3 24 3 14 3-17 3 6 3 42 3-40 3 3 3 12 3-6 3-3 3-4 3 10 3-11 3-4 3 0 3-11 3-2 3 36 3-46 3 28 3-14 3 3 3 34 3-24 3-4 3-1 3 7 3-26 3 40 3-28 3-6 3 7 3-19 3 12 3-6 3-8 3 27 3 26 3-14 3-37 3 47 3-22 3-3 3 4 3-2 3 24 3-32 3-18 3 49 3-25 3-1 3 4 3-9 3-6 3 26 3 3 3-5 3 11 3-14 3-5 3-4 3 19"/>
<path stroke="#404040" d="M0 1118l3-4 3 57 3-26 3-17 3 4 3 2 3 4 3 13 3-35 3 8 3 7 3 13 3-34 3 28 3-15 3 21 3-27 3-6 3 12 3 9 3 20 3-64 3 43 3-32 3 48 3-27 3-3 3-22 3 7 3-43 3 2 3-19 3 5 3-30 3-35 3-10 3-15 3 41 3 110 3 171 3-73 3-80 3-60 3 1 3 6 3 7 3 31 3-62 3 21 3 41 3-15 3 45 3-22 3-9 3 16 3 8 3-19 3 22 3-8 3-12 3 4 3 9 3-19 3 37 3-25 3-33 3 21 3 43 3-22 3 15 3-28 3 6 3 22 3-16 3 2 3 22 3-7 3 4 3-12 3-2 3 25 3-26 3 3 3 44 3-41 3 46 3-23 3-41 3 60 3-71 3 43 3-44 3-13 3 45 3-28 3 5 3 42 3-10 3-28 3 29 3-58 3 26 3-20 3 24 3-77 3-26 3 87 3 7 3-81 3 46 3-21 3-47 3-9 3 41 3 40 3-39 3 76 3-14 3 6 3 7 3-6 3 39 3-62 3 3 3 17 3-11 3 3 3-54 3 82 3 18 3-91 3 3 3-36 3 84 3-40 3 107 3-13 3-77 3 20 3 19 3-18 3 16 3-37 3 63 3-27 3-25 3 59 3-22 3 31 3-78 3 36 3 58 3-25 3-2 3 16 3-48 3 32 3 22 3 29 3 8 3-49 3-10 3 12 3 4 3-11 3 20 3-38 3 36 3 22 3-8 3-14 3 15 3-17 3-17 3 22 3 1 3-24 3-8 3 1 3-28 3-82 3-39 3-96 3 53 3-7 3 82 3 63 3 57 3 31 3 4 3-49 3 21 3-35 3-12 3-5 3 17 3-38 3-4 3-38 3-55 3-79 3 45 3 24 3 128 3 55 3 59 3-39 3 10 3-7 3 10 3-19 3 30 3-20 3-18 3 30 3-33 3-3 3 22 3 1 3-10 3-16 3 18 3-19 3 15 3 67 3-35 3-42 3 13 3 9 3-42 3 30 3 1 3 4 3 6 3 1 3 1 3 7 3-13 3-32 3 32 3-30 3 2 3 22 3-46 3 15 3-42 3 38 3-10 3 42 3-37 3-27 3 57 3-9 3-6 3 8 3 7 3 5 3-6 3-1 3-5 3-31 3 39 3-16 3-31 3 9 3-42 3 43 3 0 3 40 3-1 3-17 3 48 3 9 3-46 3-3 3-9 3-15 3 4 3 16 3-37 3 28 3-20 3-4 3-8 3-5 3 9 3-10 3-21 3 15 3 10 3-21 3 19 3-39 3 23 3-58 3-52 3-25 3-32 3-86 3-87 3-49 3 117 3 192 3 171 3-56 3-18 3 0 3 14 3-5 3-8 3 5 3-21 3 41 3 14 3-20 3 13 3 25 3-26 3-9 3-6 3 7 3 20 3-12 3-17 3 0 3 35 3-30 3 17 3 2 3-9 3 0 3 7 3-11 3 12 3 6 3 4 3 2 3 0 3-12 3 0 3 30 3-50 3 30 3-6 3-19 3 16 3-32 3 45 3-15 3 5 3-7 3 9 3-10 3-2 3 25 3 12 3 1 3-40 3 5 3 1 3-2 3-5 3 25 3-25 3 7 3 14 3-9 3 3 3 13 3-19 3-17 3 22 3 1 3-10 3 7 3-17 3-2 3 10 3 47 3-45 3-25 3 22 3-10 3 15 3 9 3-9 3-8 3 32 3-35 3 29 3-37 3 20 3-8 3 3"/>
<path stroke="#0000ff" d="M0 1091l3 30 3 20 3-26 3 29 3-22 3 5 3-18 3 49 3-5 3-33 3 13 3-12 3-7 3 36 3-50 3 26 3-6 3-20 3 30 3-10 3 20 3-61 3 27 3-9 3 45 3-15 3 5 3-14 3-31 3 3 3-5 3-10 3 33 3-50 3-17 3-26 3 19 3-71 3 48 3 172 3 34 3-19 3-86 3-45 3 24 3 24 3-37 3 8 3 28 3 26 3-22 3-37 3 43 3 9 3-24 3 32 3-15 3-18 3-38 3 31 3-6 3 47 3-61 3 39 3 17 3 4 3-21 3-18 3 14 3 2 3 23 3-56 3 28 3 19 3-4 3 3 3-20 3 11 3-19 3 40 3-8 3 44 3-26 3-9 3-40 3 64 3-69 3 24 3 34 3 55 3-100 3-6 3 1 3-2 3 30 3-18 3-29 3-20 3 14 3 61 3-7 3 6 3 26 3-95 3 35 3-16 3-47 3 41 3-18 3 4 3 1 3-49 3-66 3-2 3 79 3 62 3-67 3 40 3 42 3-12 3-5 3-58 3 91 3-113 3 23 3-68 3 84 3 13 3-26 3 34 3 12 3-73 3 36 3-26 3 80 3-36 3 30 3-23 3-34 3-30 3 54 3 0 3 10 3 49 3 14 3-23 3-9 3 33 3-43 3 90 3-40 3 7 3-41 3 45 3-9 3 3 3-42 3 5 3 9 3 45 3-6 3-24 3-4 3-30 3 56 3 6 3-30 3-1 3 7 3-12 3 6 3-18 3 32 3 4 3-31 3 23 3-51 3-6 3 33 3-35 3-17 3-88 3-47 3 30 3 24 3 13 3 24 3 74 3 60 3-10 3 4 3-13 3-23 3-9 3 3 3 13 3-2 3-33 3-37 3 3 3-91 3 4 3 11 3 93 3 101 3-11 3-14 3 3 3-20 3 41 3-26 3 3 3 9 3 2 3-16 3 25 3-25 3 10 3-32 3 19 3 14 3 3 3 0 3-10 3-17 3 20 3 7 3 7 3 1 3-27 3-7 3 50 3-58 3 42 3-13 3 11 3-25 3 13 3-19 3-14 3 22 3 19 3-23 3 5 3-34 3-18 3 4 3 4 3 0 3 12 3 21 3 3 3 26 3-10 3-20 3-12 3-4 3 50 3-39 3 25 3-10 3-2 3-10 3 28 3-40 3-13 3 3 3 2 3-15 3 18 3 16 3 9 3-12 3 48 3-4 3-20 3-17 3 1 3-20 3 26 3-23 3 11 3 8 3-20 3 23 3-52 3 39 3-29 3 20 3-39 3 41 3-26 3 5 3-10 3-23 3-5 3-59 3-40 3-93 3-58 3-54 3 61 3 156 3 179 3 38 3-38 3-36 3 41 3 7 3-26 3 37 3-27 3-5 3 23 3-41 3 15 3-14 3-21 3 49 3-10 3-19 3-1 3 26 3-1 3-9 3 2 3-27 3 26 3-4 3-8 3 41 3-45 3 37 3-2 3-15 3-6 3-12 3 16 3-32 3 44 3-6 3-13 3 8 3 16 3-31 3-4 3 16 3-5 3-7 3 13 3-4 3 4 3 4 3-3 3 40 3-52 3 9 3-20 3 6 3 12 3-1 3 14 3-28 3-1 3 11 3-4 3 2 3-13 3 13 3 25 3-30 3-3 3-17 3 16 3 2 3 13 3-4 3-2 3-11 3 24 3-40 3 38 3 8 3-21 3-3 3 5 3-18 3 21 3-8 3-5 3 33 3-24 3 2 3 1"/>
<path stroke="#008000" d="M0 1114l3-7 3 5 3 14 3-4 3 7 3-8 3 9 3 5 3-17 3 49 3-59 3 23 3 4 3-24 3 32 3-12 3 8 3-17 3 16 3-43 3 27 3 4 3-18 3 33 3-42 3 18 3-18 3 1 3-2 3-22 3 47 3-25 3-19 3-22 3-30 3 27 3-76 3-24 3 19 3 96 3 116 3 162 3-136 3-80 3-39 3 49 3-33 3 0 3 20 3-19 3-6 3 37 3-59 3 52 3 30 3-35 3-4 3 15 3 1 3-31 3 33 3-20 3-7 3 55 3-46 3 12 3-45 3 55 3-22 3-11 3-4 3 51 3-64 3 21 3-5 3 24 3 3 3-37 3 33 3-16 3 25 3-47 3 49 3-31 3 8 3 20 3 31 3-43 3 32 3-11 3-1 3-41 3 16 3-42 3-4 3 58 3 35 3-51 3-20 3 59 3-85 3-6 3 127 3-79 3-43 3 28 3-30 3 44 3-33 3 19 3 18 3-64 3-68 3-36 3 22 3 20 3 81 3 11 3 25 3 4 3 23 3-62 3 33 3-36 3 81 3-75 3-19 3-16 3 7 3-5 3 50 3 28 3-101 3 29 3 46 3 48 3-32 3 13 3 14 3-55 3 24 3 26 3 17 3 25 3-42 3-8 3 45 3 8 3 8 3-27 3-20 3 22 3 0 3-15 3-12 3 12 3 25 3-12 3-7 3-10 3 23 3 2 3-18 3 11 3 6 3-12 3-6 3 8 3 10 3-17 3 7 3-6 3 11 3-30 3 52 3-36 3-24 3 26 3-15 3-18 3-31 3-17 3-107 3-31 3 17 3 5 3-6 3 95 3 75 3 5 3 12 3 13 3-18 3-30 3 39 3-10 3-11 3-21 3-24 3-20 3-45 3-56 3-57 3 102 3 71 3 50 3 33 3 3 3-3 3 16 3-11 3-3 3 6 3 22 3-8 3-22 3 21 3-16 3 8 3-25 3 24 3-8 3 3 3-3 3-34 3 39 3-1 3-33 3 21 3 10 3 4 3-49 3 50 3-1 3-5 3 33 3-35 3 24 3-47 3 22 3 32 3-20 3-13 3-31 3 23 3-18 3 2 3-11 3 11 3 23 3 5 3-2 3-19 3 18 3 11 3 1 3-8 3-23 3 24 3 1 3-8 3-15 3 3 3 26 3-44 3-38 3 41 3 25 3-16 3 49 3-54 3 19 3 46 3 10 3-4 3-38 3-11 3 23 3-17 3-17 3 13 3 11 3-17 3 4 3-38 3 10 3 29 3-23 3-8 3-28 3 31 3-26 3 4 3 1 3-22 3-4 3-47 3-37 3-72 3-37 3-132 3 38 3 100 3 185 3 231 3-46 3-82 3-18 3 10 3-7 3 1 3 32 3-11 3-9 3-18 3 18 3-6 3 4 3-8 3 3 3 7 3 7 3-40 3 44 3 2 3-49 3 24 3-15 3 25 3-41 3 35 3-23 3 24 3-10 3-5 3-6 3 7 3 11 3 7 3-17 3-11 3-15 3-8 3 28 3 25 3-30 3-1 3-6 3 27 3-18 3-4 3 16 3 15 3-46 3 26 3-3 3 22 3-39 3 1 3 27 3-6 3 6 3-16 3-12 3 17 3-4 3-6 3-2 3-4 3 25 3-5 3-27 3 15 3-6 3-5 3 10 3-4 3 6 3-25 3-4 3 36 3-10 3-32 3 23 3 8 3-17 3 9 3 2 3-20 3-3 3-20 3 25 3 5 3-1"/>
<path stroke="#ff0000" d="M0 1157l3 8 3 12 3-6 3 9 3-65 3 54 3 23 3-37 3 42 3-21 3-13 3-6 3-1 3-15 3 57 3-29 3-58 3 17 3 45 3-13 3-12 3-4 3 3 3-6 3 10 3-22 3 10 3-5 3-10 3-35 3 13 3-36 3-32 3 2 3-30 3-113 3-118 3 20 3 205 3 142 3 96 3-147 3-5 3-35 3 34 3-28 3 30 3 2 3 1 3 31 3-19 3 3 3 23 3 23 3-9 3 1 3-5 3-9 3 24 3-44 3 51 3-38 3-26 3 53 3-24 3 15 3-30 3 30 3 20 3-18 3 11 3-30 3-15 3 30 3 15 3-24 3 3 3 22 3-20 3 23 3-7 3-3 3 11 3-8 3-44 3 88 3-72 3 14 3 22 3-56 3 37 3-39 3 22 3 1 3 75 3-32 3-47 3-37 3 34 3 51 3-46 3 6 3-57 3 46 3-88 3 71 3 66 3-74 3 60 3-57 3-32 3-69 3 14 3 29 3-26 3 133 3-26 3 29 3-66 3 71 3-11 3-43 3 33 3-19 3-29 3-19 3-16 3 44 3 57 3-86 3 11 3-34 3 43 3 49 3 2 3-12 3 73 3-70 3 1 3 73 3-48 3-13 3 29 3 4 3-4 3-85 3 45 3 7 3 45 3-57 3 74 3-37 3 23 3 5 3 10 3-51 3-36 3 42 3-9 3 43 3 3 3-34 3 15 3 4 3-16 3 30 3-17 3 8 3-40 3 19 3-13 3-6 3 34 3-5 3 1 3-73 3 72 3-36 3-20 3-40 3-82 3-55 3 5 3 73 3-28 3 44 3 86 3 46 3 26 3 10 3-70 3 15 3-32 3 16 3-2 3-30 3-14 3-37 3-23 3-44 3-31 3 59 3 46 3 112 3 30 3-1 3-19 3 52 3-47 3 13 3-23 3 30 3-12 3-23 3 31 3-12 3-19 3 21 3-2 3-10 3 4 3-1 3-15 3-10 3 18 3 8 3 4 3-29 3 18 3-19 3 40 3-7 3-15 3-6 3 17 3-9 3 8 3-12 3-23 3 28 3-18 3 4 3 12 3-29 3 15 3-32 3 42 3-7 3-4 3 2 3 27 3-15 3 24 3-9 3 1 3-35 3 16 3 29 3-44 3-1 3 10 3-2 3-17 3 9 3 11 3-11 3-7 3 35 3-23 3 24 3 2 3 9 3 33 3-55 3 13 3-6 3 5 3 7 3-18 3-1 3-37 3 30 3-8 3-23 3 9 3-11 3-39 3-18 3 26 3 29 3 1 3-46 3 31 3 4 3-21 3-15 3-92 3-32 3-143 3-35 3 10 3 128 3 196 3 107 3-23 3-50 3 19 3 14 3-5 3 34 3-18 3-7 3-10 3 10 3-7 3 0 3-14 3 5 3 1 3 8 3-6 3-19 3 16 3 16 3-14 3-6 3 5 3 0 3-6 3 17 3 5 3-17 3-3 3 19 3-12 3-24 3 7 3 16 3-1 3 36 3-28 3 5 3-11 3 30 3-24 3-9 3 11 3-23 3 2 3 26 3-20 3 1 3 20 3-2 3 18 3-30 3-13 3 43 3-5 3-21 3 42 3-63 3 20 3 12 3 3 3 18 3-33 3-2 3 9 3 18 3-30 3 19 3 18 3-26 3 4 3 7 3-18 3-2 3 14 3-23 3 4 3 30 3 0 3-14 3-2 3 6 3 11 3 5 3-22 3 27 3-29 3 38 3-29 3-23"/>
<path stroke="#00bfbf" d="M0 1144l3 10 3-4 3 4 3-3 3-11 3-13 3 26 3-27 3 30 3-9 3 5 3-15 3 16 3-1 3-24 3 5 3 19 3-2 3 14 3-16 3-9 3 1 3 46 3-18 3-48 3 41 3-46 3 6 3 34 3-52 3-28 3 1 3-46 3 19 3-81 3-20 3-78 3-79 3 49 3 162 3 229 3 27 3-148 3-37 3-5 3 14 3-17 3 37 3 11 3 24 3 3 3 3 3 9 3 10 3-14 3-6 3 3 3-24 3 22 3 4 3 7 3 24 3-2 3-20 3 42 3-68 3 36 3-2 3-14 3 5 3 5 3 5 3-24 3 33 3-24 3-29 3 66 3-13 3-32 3 23 3 21 3-10 3-28 3 15 3-15 3 41 3-37 3 13 3-47 3 54 3 11 3-23 3-53 3-18 3 68 3-53 3 11 3 43 3 16 3-12 3-14 3 3 3 29 3-69 3 33 3-30 3 91 3-101 3 27 3-38 3 28 3-59 3-110 3 4 3 19 3 71 3 16 3 17 3 6 3 79 3-21 3-40 3 13 3 30 3-10 3-101 3-4 3 6 3 77 3 42 3-78 3 27 3-36 3-14 3 67 3 22 3 48 3-21 3-17 3-29 3 49 3-11 3-10 3-9 3 22 3 9 3-40 3 23 3-6 3 36 3-36 3 15 3 77 3-32 3-46 3 19 3-16 3 20 3-8 3-3 3 0 3 31 3-30 3-1 3 47 3 7 3-33 3-48 3 27 3 2 3 13 3-34 3 26 3-39 3 13 3 7 3-19 3 21 3-18 3-20 3-45 3-75 3-69 3 18 3 17 3 47 3-13 3 89 3 28 3 61 3 23 3-58 3 3 3-5 3-18 3-10 3 11 3-50 3 11 3-63 3-53 3-46 3 4 3 70 3 114 3 61 3-9 3 10 3-1 3 8 3 10 3-14 3 32 3-25 3-29 3 0 3-4 3 40 3 1 3-7 3 0 3-19 3 5 3-12 3-2 3 5 3-24 3 22 3-21 3 10 3 18 3-35 3 6 3 25 3-21 3 27 3 2 3-17 3 22 3-29 3-8 3-6 3 13 3-21 3 7 3-27 3-11 3 47 3 20 3-24 3 7 3 6 3 26 3-35 3 0 3 14 3-6 3-9 3 0 3 16 3-38 3 33 3-2 3-30 3 18 3-28 3-10 3 6 3 52 3 7 3 17 3-5 3-5 3 9 3-3 3-47 3-16 3 35 3 16 3-21 3-7 3-14 3-25 3 28 3 2 3 21 3-26 3-13 3-19 3 9 3-10 3-12 3 0 3 12 3 19 3-29 3-46 3-45 3-44 3-76 3-62 3-37 3 73 3 190 3 176 3-44 3-43 3 2 3 48 3-24 3-25 3 20 3 13 3 24 3-47 3 6 3 13 3 17 3 5 3-41 3-9 3 13 3 0 3 30 3 6 3-14 3 0 3 0 3 2 3-10 3-3 3 11 3 15 3-41 3 42 3-53 3 21 3-12 3 17 3-7 3 36 3-19 3 6 3-25 3 16 3-17 3 20 3 21 3-17 3-5 3 32 3-59 3 49 3-16 3-1 3-6 3 8 3 3 3-7 3-23 3 7 3 42 3-32 3-9 3 32 3-8 3-23 3 15 3 0 3-16 3-14 3 41 3-44 3 8 3 8 3 13 3-9 3-6 3 2 3 3 3 3 3-8 3-2 3-5 3-1 3 39 3-29 3-9 3 7 3 15 3 12 3-11 3-2 3-21"/>
<path stroke="#bf00bf" d="M0 1120l3 15 3 8 3-21 3 1 3 18 3 7 3 1 3-1 3-13 3-15 3 41 3-27 3 8 3 13 3-11 3-11 3-20 3 33 3-34 3 11 3 2 3 30 3-26 3 24 3-69 3 33 3-25 3 25 3-19 3-22 3 69 3-52 3-26 3-14 3 7 3-1 3-52 3 3 3 7 3 166 3 213 3-93 3-152 3-25 3-16 3-7 3 29 3-31 3 50 3-13 3-23 3 7 3-20 3 51 3-22 3 8 3-6 3 41 3-49 3 35 3-28 3-16 3-19 3 53 3 17 3-22 3-9 3 2 3 28 3 3 3-42 3 19 3-46 3 19 3 5 3 3 3 19 3-9 3-20 3-13 3 54 3-26 3 2 3-34 3 13 3 35 3-33 3 52 3-39 3-20 3 56 3-6 3-61 3-23 3 10 3 48 3 8 3-22 3-39 3 62 3-74 3 54 3-18 3-33 3 13 3-29 3 88 3-72 3-21 3 110 3-115 3-4 3-35 3-71 3 25 3 150 3-25 3 50 3-75 3 34 3 52 3-37 3-19 3-26 3 23 3-10 3-52 3-43 3 102 3-13 3-21 3 22 3-117 3 104 3 46 3 41 3-58 3-20 3-24 3 36 3 30 3 29 3-22 3-11 3 4 3 40 3-3 3-29 3 16 3 52 3-57 3 13 3 4 3-14 3 20 3-10 3 34 3-4 3 18 3-38 3 18 3-21 3 2 3 2 3-14 3-8 3 11 3 2 3 27 3-12 3-20 3 22 3-10 3-35 3 30 3-1 3 17 3-16 3-32 3-27 3-39 3-44 3-74 3-34 3 42 3-5 3 93 3 80 3 39 3 17 3-26 3 28 3-29 3-20 3 40 3-19 3-14 3-40 3-48 3-28 3-69 3-29 3 28 3 98 3 128 3 71 3-36 3 8 3-24 3-45 3 19 3 42 3-23 3 7 3 1 3 5 3-40 3 16 3 7 3-21 3 28 3 6 3-39 3 24 3 21 3-31 3 23 3-16 3 5 3-36 3 44 3 11 3-33 3 21 3-10 3-4 3-7 3-31 3 32 3-15 3 11 3 14 3-16 3-20 3-24 3-8 3 5 3 7 3 13 3 34 3-4 3-10 3 24 3-7 3-11 3 0 3-11 3-4 3 38 3-40 3 17 3 0 3-8 3 3 3-14 3-20 3 27 3-1 3 14 3 5 3 9 3 16 3 26 3 16 3-12 3-17 3-11 3-40 3 22 3-2 3-10 3-47 3 12 3 23 3 18 3-31 3-1 3-31 3-9 3 25 3 3 3-28 3 28 3-29 3-25 3 5 3-49 3-42 3-77 3-64 3-106 3 0 3 148 3 238 3 165 3-77 3-94 3 46 3 12 3 20 3-34 3 15 3 11 3-22 3-15 3 25 3-17 3-1 3 19 3-39 3 20 3 9 3 33 3-49 3 18 3-12 3-27 3 30 3 26 3-46 3 46 3-32 3 7 3 4 3-20 3 21 3 10 3 1 3-27 3 23 3 4 3-13 3-3 3 6 3-14 3 6 3 5 3-1 3 13 3-7 3 2 3 0 3-8 3-35 3 43 3-4 3 13 3-23 3 7 3-6 3 3 3 0 3 29 3-26 3 15 3-3 3-18 3-2 3 15 3-10 3-16 3 4 3 10 3 15 3-12 3-3 3 6 3-21 3 16 3-4 3 20 3-19 3-15 3 6 3 12 3-22 3 29 3-13 3 19 3-2 3-5 3-17 3 25 3-3"/>
<path stroke="#bfbf00" d="M0 1160l3 2 3-7 3 30 3-29 3 5 3-6 3 40 3-7 3-27 3 32 3-54 3 14 3 3 3 12 3-29 3 14 3-30 3 1 3 18 3-10 3-18 3 4 3 78 3-17 3-62 3 28 3-19 3-15 3-6 3-17 3 15 3-21 3-45 3-7 3-9 3-34 3-38 3 17 3 27 3 139 3 175 3-131 3-77 3-60 3 43 3-63 3 41 3 17 3 3 3 1 3 31 3 4 3 13 3-14 3 27 3-33 3 28 3-7 3 5 3-18 3-3 3 42 3-27 3 30 3-44 3 3 3 19 3-35 3 23 3 27 3-29 3 26 3-26 3 14 3-15 3 5 3 5 3 13 3 0 3 24 3-23 3-24 3 46 3-34 3 49 3-39 3 38 3-10 3-25 3-48 3 19 3 9 3-35 3 36 3-16 3-17 3 68 3-37 3 2 3 16 3 60 3-22 3-75 3-31 3-37 3 86 3 39 3-25 3-4 3 56 3-92 3-105 3-8 3 3 3 36 3-5 3 90 3 38 3-27 3-40 3 20 3-1 3 40 3-50 3-49 3 22 3-39 3 91 3 13 3-40 3 41 3-52 3-14 3 78 3 4 3-31 3 24 3 17 3-32 3-65 3 48 3 82 3-73 3 62 3-18 3 16 3-53 3-20 3 72 3-53 3 53 3 8 3-12 3-12 3 36 3-62 3 25 3 23 3-15 3-15 3 13 3 14 3-31 3 18 3 42 3-14 3-6 3-14 3 3 3 5 3-25 3 5 3 0 3 6 3 1 3-28 3 24 3-21 3-6 3-15 3-58 3-69 3-79 3 32 3 37 3 18 3 43 3 67 3 73 3 8 3-24 3-4 3-13 3-17 3 7 3 7 3-41 3 6 3-41 3-48 3-52 3-25 3 30 3 78 3 101 3 48 3-48 3 13 3 12 3 9 3-6 3 5 3 14 3-27 3 34 3-35 3 0 3 4 3 3 3 1 3-31 3 31 3-1 3-38 3 19 3 4 3 24 3 11 3-2 3-26 3-24 3-2 3 36 3 14 3 2 3-22 3 0 3-12 3-11 3 28 3 10 3-24 3-9 3-41 3 19 3-31 3 30 3 8 3 15 3-18 3 9 3 13 3 1 3 27 3-10 3-32 3-11 3 32 3-2 3 9 3-20 3 42 3-25 3-6 3-44 3 14 3-14 3 23 3-4 3-2 3 59 3-29 3 48 3 4 3-22 3-37 3 32 3-58 3 14 3-21 3 0 3 11 3 6 3-5 3-34 3 16 3-33 3 22 3-18 3 37 3-22 3 1 3-20 3-16 3-18 3-16 3-18 3-52 3-79 3-70 3-133 3 41 3 176 3 169 3 104 3-54 3-9 3 24 3-7 3 12 3-2 3-6 3 10 3 0 3 18 3-25 3-11 3 31 3-11 3 12 3-12 3-6 3-2 3 14 3-19 3 28 3-32 3-9 3-2 3 13 3 14 3 17 3-12 3 8 3-15 3 21 3-28 3 22 3-29 3 17 3-5 3-21 3 33 3 10 3-7 3-6 3 1 3 10 3-19 3 16 3-4 3 16 3-20 3 12 3 4 3 5 3-19 3 20 3-6 3-57 3 53 3-34 3 32 3-2 3-16 3 30 3-30 3-6 3 21 3-24 3 47 3-18 3-16 3 6 3-2 3-9 3 9 3-15 3-13 3 17 3-3 3-6 3 23 3-3 3-12 3 1 3 0 3 7 3-2 3 5 3-5 3-7 3 6 3 0"/>
<path stroke="#404040" d="M0 1149l3-4 3 22 3-22 3 39 3 3 3-22 3 16 3-26 3-18 3 21 3-16 3 38 3-9 3-41 3 49 3 7 3-43 3 13 3 23 3-52 3-17 3 57 3-14 3 16 3-3 3-32 3-35 3 55 3 16 3-31 3-10 3-30 3 56 3-38 3-13 3-33 3-47 3 31 3 67 3 117 3 153 3-111 3-121 3-37 3-41 3-24 3 24 3 13 3-4 3 65 3-32 3 34 3-17 3-20 3 30 3 26 3-36 3 9 3-11 3 5 3 32 3-37 3-6 3 12 3-9 3-2 3 19 3 9 3 7 3-27 3 26 3-25 3 38 3-18 3-19 3 14 3-27 3 21 3 12 3-9 3 26 3-2 3-24 3 5 3-10 3 27 3-2 3 5 3-66 3 57 3 24 3-2 3-28 3-18 3 32 3 2 3-41 3 7 3 64 3-75 3 44 3 12 3-16 3-24 3-45 3 119 3-157 3 11 3 35 3 9 3-42 3 46 3-117 3-45 3 67 3 38 3 43 3 26 3 28 3-39 3 22 3-2 3 32 3-53 3 11 3-76 3-39 3 70 3 26 3 40 3 5 3 53 3-105 3-52 3 127 3 39 3-5 3-99 3 27 3-30 3 14 3 102 3-88 3 51 3-18 3-32 3-19 3-4 3 1 3 45 3 38 3-33 3-12 3 30 3-6 3 1 3-8 3 6 3-13 3-4 3 14 3-21 3-30 3 50 3-23 3 14 3-34 3 27 3-5 3-17 3 12 3 15 3 5 3-4 3-34 3 31 3-36 3-7 3 3 3-10 3-49 3-61 3-49 3 12 3 38 3-25 3 77 3 63 3 36 3 31 3-14 3-7 3-18 3-3 3 4 3-14 3 11 3-33 3-31 3-40 3-15 3-117 3 47 3 87 3 87 3 48 3 10 3-32 3 24 3 20 3-31 3 10 3 12 3-26 3 6 3 7 3-12 3 16 3-12 3-29 3 23 3-25 3 34 3 24 3-66 3 49 3-26 3-1 3 39 3-9 3-24 3-6 3 30 3-8 3-7 3-26 3 29 3-10 3-7 3 0 3-8 3 17 3-15 3-23 3 5 3-12 3-6 3 34 3 2 3-20 3 29 3-3 3 3 3 10 3-31 3-1 3 6 3 32 3 22 3-34 3-10 3 14 3-2 3-23 3 1 3-39 3 21 3 7 3 34 3-31 3 16 3 17 3 26 3 31 3-37 3 0 3-1 3 8 3-29 3-46 3 42 3-42 3 16 3-6 3-37 3 26 3 1 3-34 3 8 3-29 3 40 3 20 3-51 3 19 3-10 3-48 3-9 3-57 3-103 3-83 3-85 3 13 3 146 3 185 3 193 3-49 3-52 3-18 3 1 3 7 3 24 3 1 3 9 3-45 3-4 3 42 3-2 3 3 3-22 3 7 3-2 3 17 3-37 3 44 3-11 3-20 3 12 3 13 3-14 3 21 3 2 3-20 3 28 3-11 3 11 3-11 3-4 3-31 3 15 3-9 3 6 3 3 3 34 3-29 3 22 3 13 3-21 3 4 3 1 3-11 3 4 3-4 3 9 3-24 3 31 3 14 3 2 3-5 3-20 3 5 3 24 3-5 3-32 3 9 3-29 3 29 3 8 3-8 3 22 3-30 3 17 3-18 3 21 3-5 3-7 3 30 3-27 3-15 3 41 3-18 3 2 3-12 3-19 3 34 3-35 3 26 3 5 3 16 3-31 3-5 3 7 3 14 3-8 3 10"/>
<path stroke="#0000ff" d="M0 1155l3-8 3 9 3-11 3 6 3 6 3-40 3 53 3 6 3-23 3-3 3-7 3-5 3 23 3-1 3 15 3-29 3 18 3-19 3 6 3-13 3-22 3 48 3-12 3-27 3-16 3 14 3-28 3 31 3-3 3-48 3-3 3 31 3-1 3-63 3 15 3-5 3-64 3-21 3 25 3 52 3 166 3 126 3-122 3-61 3-58 3 8 3-54 3 34 3 17 3-20 3 17 3 6 3 27 3-41 3 15 3-5 3 24 3-1 3 4 3-12 3 6 3 28 3-17 3 0 3-9 3-4 3 35 3-24 3-26 3 13 3 5 3-35 3 24 3 10 3-9 3-25 3 68 3-61 3-2 3 16 3 10 3 2 3-4 3 13 3 10 3-2 3-9 3 5 3 3 3 9 3-26 3 1 3-49 3 42 3-61 3 66 3-55 3 38 3-26 3 85 3 1 3-21 3-23 3 12 3-48 3-9 3 71 3-118 3 63 3 19 3-57 3-65 3 12 3 5 3-21 3 101 3-26 3 8 3 51 3 58 3-23 3-6 3-56 3-44 3 96 3-58 3-95 3 29 3 49 3 62 3-50 3 71 3-90 3 94 3-46 3 33 3-7 3 5 3-35 3 28 3-54 3 56 3-30 3 64 3 8 3-49 3 27 3-5 3-38 3 32 3 67 3-43 3 1 3 33 3-14 3-17 3-10 3-8 3 31 3-27 3 14 3 16 3-19 3 26 3-35 3-10 3 44 3-6 3-33 3-12 3 13 3 26 3-19 3-15 3 19 3 1 3-24 3 10 3-27 3-13 3-14 3-31 3-100 3-21 3 25 3-11 3 35 3 133 3 9 3 35 3 26 3-20 3 14 3-51 3 27 3-16 3 23 3-28 3-47 3 1 3-73 3-76 3-32 3 16 3 129 3 91 3 30 3-1 3-8 3 1 3-4 3 7 3 23 3-8 3-21 3 4 3-4 3 16 3-37 3 27 3-24 3 41 3-27 3 2 3-15 3 5 3 19 3-4 3-28 3 21 3 16 3-15 3-1 3 1 3 19 3-28 3 6 3 10 3-17 3-12 3 17 3-39 3 13 3 37 3-21 3-42 3-10 3 16 3 15 3 23 3-12 3 7 3 0 3-19 3 28 3-26 3 39 3-16 3 8 3 4 3-13 3-5 3 2 3-2 3-18 3-9 3-14 3-1 3 15 3 48 3-25 3 12 3 17 3 15 3 11 3-9 3-38 3-13 3 13 3 11 3-32 3-18 3 5 3 12 3-5 3-22 3-5 3-24 3 17 3-8 3 4 3 2 3-6 3-23 3 8 3 1 3-27 3-33 3-70 3-62 3-69 3-85 3 6 3 135 3 251 3 75 3-66 3 1 3 10 3-39 3 32 3 33 3-43 3 8 3-17 3 22 3 32 3-31 3-6 3-5 3 13 3-4 3 20 3-9 3-21 3 3 3 4 3 2 3 25 3-20 3 13 3-21 3-3 3 12 3 9 3-43 3 29 3 5 3 2 3-12 3-17 3 30 3-1 3-19 3 27 3-4 3-17 3 13 3-13 3 10 3 5 3-16 3 22 3-2 3-14 3-11 3 15 3-10 3 4 3 2 3 11 3 9 3 1 3 5 3-51 3 22 3 12 3 5 3-14 3 1 3-13 3 6 3 33 3-32 3 21 3 6 3 3 3-16 3-5 3-10 3 12 3 11 3 17 3-24 3 21 3-1 3-13 3-16 3 39 3-13 3-16 3-8 3 27 3-8"/>
<path stroke="#008000" d="M0 1172l3-19 3-6 3 5 3 23 3-42 3 7 3 9 3-8 3 7 3 10 3 7 3-32 3-24 3 43 3-3 3-37 3 13 3 10 3-1 3-4 3 23 3-44 3 22 3-17 3 62 3-57 3 9 3 15 3-20 3-40 3 16 3-32 3 35 3-51 3-4 3-22 3-78 3-56 3 73 3 92 3 222 3-50 3-86 3-56 3-30 3-15 3 2 3 30 3 5 3 11 3 49 3-9 3-12 3-23 3 9 3 1 3 9 3-5 3 36 3-17 3 22 3-37 3-12 3 47 3-29 3-2 3-25 3 41 3-11 3 16 3-3 3 32 3-69 3 27 3-2 3 13 3 18 3-18 3-15 3 21 3-10 3 17 3 10 3-42 3 52 3 12 3-46 3-9 3-23 3 51 3 7 3-45 3 53 3-10 3-49 3 13 3-22 3 8 3 91 3-38 3-30 3 11 3-29 3-34 3 30 3 34 3-52 3-7 3 28 3-14 3 32 3-7 3-77 3-63 3 34 3 34 3 41 3 9 3 29 3 12 3-85 3 104 3-4 3-21 3-1 3-19 3 43 3 15 3-14 3-42 3-7 3-50 3 49 3-21 3 47 3-46 3 40 3-35 3 52 3 8 3-63 3 74 3-24 3-39 3 43 3-12 3-3 3-30 3 23 3 83 3-87 3 62 3-49 3 63 3-46 3 7 3-31 3 32 3-21 3-7 3-8 3 41 3-9 3 8 3 3 3-9 3-8 3-9 3 59 3-44 3 27 3-20 3-18 3-17 3 47 3-39 3 17 3 10 3-19 3-36 3-14 3-7 3-122 3 5 3 62 3-47 3 59 3 37 3 77 3 23 3-12 3-15 3 1 3 12 3-1 3-59 3-6 3-6 3-21 3-30 3-66 3-54 3 63 3 81 3 117 3 1 3 39 3-32 3-4 3-11 3 8 3-2 3 22 3-2 3-5 3 7 3-15 3-6 3-43 3 42 3-12 3 5 3 10 3-3 3 10 3-44 3 18 3-7 3 15 3-3 3 18 3-15 3-3 3-5 3-9 3-7 3 9 3 7 3 9 3-23 3-11 3 13 3 17 3-23 3 12 3-60 3 10 3 19 3 19 3-11 3 18 3-19 3 48 3-30 3-5 3 12 3-15 3 1 3 1 3-27 3 2 3 10 3-8 3 13 3-10 3-29 3-32 3 67 3-5 3 12 3 39 3-4 3 1 3 46 3-50 3-17 3-31 3 7 3-6 3 23 3-40 3-2 3-3 3-26 3 32 3 1 3-33 3-10 3 28 3-48 3 38 3-20 3 2 3-7 3 8 3-30 3-1 3-39 3-60 3-80 3-66 3-57 3 140 3 213 3 150 3-73 3-39 3 37 3-24 3 5 3 14 3-9 3-3 3-31 3 16 3 9 3-13 3-16 3 25 3 20 3-26 3 11 3-36 3 68 3-23 3-15 3 26 3-31 3-24 3 32 3-3 3 2 3 0 3 13 3-10 3-25 3-10 3-5 3 26 3-27 3 43 3-17 3 2 3-3 3-13 3 5 3 29 3-14 3-15 3-33 3 41 3 11 3-31 3 6 3-24 3 51 3-27 3 25 3-7 3-31 3 32 3-5 3 33 3-26 3-48 3 33 3-2 3 26 3-35 3 10 3 25 3-31 3-4 3 0 3 41 3-24 3 8 3-15 3 9 3-2 3 21 3-22 3 5 3 3 3-13 3-1 3 17 3-15 3-15 3 9 3 24 3-20 3 9 3-23"/>
<path stroke="#ff0000" d="M0 1129l3-13 3 57 3-44 3-8 3 45 3-28 3 1 3-2 3 11 3-7 3 5 3 6 3-28 3 12 3-3 3-19 3 46 3-15 3-19 3 21 3-23 3-2 3-12 3-3 3 19 3-25 3-19 3-1 3 21 3 12 3-27 3-5 3-10 3-42 3 2 3-46 3-30 3 8 3 75 3 181 3 144 3-137 3-129 3-7 3-8 3-17 3 54 3-33 3 7 3 43 3-62 3-22 3 62 3 0 3 21 3-6 3-26 3 8 3-10 3 27 3-21 3-11 3 36 3-27 3-15 3 67 3-55 3 29 3-1 3 34 3 2 3-53 3 7 3-19 3 28 3 13 3-2 3 12 3-49 3 54 3-33 3 19 3-15 3 9 3-4 3 11 3-33 3 42 3 44 3-38 3-25 3 9 3-22 3-9 3-15 3 11 3 19 3 34 3-49 3 50 3-43 3 4 3-18 3-29 3 44 3-8 3-22 3 23 3 44 3-35 3-5 3-129 3-40 3 43 3-17 3 68 3 57 3 35 3-14 3 40 3-29 3 10 3-10 3-18 3-23 3-39 3-42 3 61 3 37 3-36 3 38 3-99 3 53 3 30 3 61 3-35 3-9 3-66 3 9 3-7 3 38 3 12 3 7 3-23 3 100 3-114 3-3 3 9 3 41 3 21 3 27 3-23 3 0 3 43 3-28 3 20 3-11 3 35 3-31 3 0 3 22 3-32 3 2 3-9 3 20 3 14 3 2 3 9 3-16 3-26 3 11 3-19 3-12 3 19 3-23 3 23 3 15 3-15 3-20 3-42 3-33 3-73 3-75 3-2 3 27 3 5 3 80 3 76 3 0 3 76 3-9 3-43 3 41 3-9 3-44 3-15 3 24 3-27 3-24 3-77 3-74 3-54 3 126 3 101 3 44 3 50 3-36 3 38 3-16 3-17 3 13 3 13 3-15 3-14 3 28 3-16 3-3 3-12 3 14 3-15 3 8 3-12 3 3 3-3 3 17 3-27 3 16 3 29 3-51 3 20 3 8 3-22 3 1 3 21 3-25 3 6 3-8 3-6 3 15 3 13 3-5 3-15 3-2 3-41 3 8 3-54 3 49 3 35 3 12 3-3 3 16 3-4 3-39 3 22 3 1 3 31 3-4 3-13 3-30 3 14 3-8 3 13 3-2 3-6 3 5 3-9 3 10 3-22 3 19 3 16 3 3 3-11 3 33 3 4 3-17 3-12 3-21 3-6 3-5 3 28 3-26 3-25 3 28 3-19 3-14 3-7 3 8 3-41 3 30 3 4 3 21 3-37 3 4 3-33 3 6 3 4 3-61 3-28 3-101 3-90 3-71 3 32 3 138 3 272 3 38 3-55 3-5 3 41 3-14 3 2 3-16 3 16 3-36 3 52 3-3 3 34 3-34 3 28 3-59 3-1 3-11 3 39 3-18 3-5 3 14 3 3 3-33 3 31 3-25 3 4 3 41 3-17 3 25 3-2 3-8 3 12 3 16 3-51 3 31 3-3 3-19 3-4 3 49 3-50 3 5 3-15 3 49 3-34 3 5 3 15 3 8 3-8 3 18 3-5 3-5 3-29 3 25 3 13 3-40 3 11 3 26 3-19 3 18 3-3 3-33 3 27 3-17 3 15 3 16 3-47 3 19 3 0 3-4 3-3 3 14 3-11 3 11 3-9 3 2 3-13 3 15 3 16 3-16 3 0 3 6 3 10 3 2 3-23 3-27 3 19 3 26 3-9 3 2 3-4"/>
<path stroke="#00bfbf" d="M0 1150l3-9 3-15 3 37 3-23 3 9 3-9 3-23 3 10 3 10 3-38 3 37 3-8 3-4 3-1 3 13 3 41 3-32 3 38 3-59 3 21 3-8 3-26 3 11 3-16 3 30 3-20 3 17 3-14 3-32 3 6 3-1 3-28 3-2 3-51 3-3 3-10 3-61 3 49 3 109 3 133 3-45 3-61 3-11 3 22 3-39 3 36 3 2 3-32 3 47 3-25 3 37 3-7 3-22 3-10 3 15 3-2 3 45 3-55 3 19 3-20 3 11 3-2 3 27 3-29 3 8 3 6 3-10 3 34 3 8 3-47 3 13 3 21 3-25 3 41 3-57 3 13 3-5 3 11 3 26 3-26 3-7 3 36 3-24 3 36 3-41 3 63 3-49 3-10 3 79 3-88 3 13 3-14 3-23 3-16 3 50 3-38 3 29 3-3 3 20 3-51 3-3 3 61 3-139 3 44 3 37 3 10 3 32 3-18 3 28 3-28 3-26 3-3 3-114 3-13 3 91 3 34 3-12 3 70 3-4 3-21 3-32 3 14 3 23 3-23 3-25 3-76 3 77 3 32 3 11 3 67 3-65 3-24 3-6 3 0 3 3 3 18 3-35 3 68 3-28 3 23 3-23 3 4 3 6 3 57 3-55 3-58 3 39 3 15 3-5 3 12 3 1 3-10 3 14 3 43 3-36 3 8 3 21 3-17 3-14 3 7 3-20 3-3 3-2 3 29 3-3 3-5 3-17 3 18 3 4 3 13 3-24 3 3 3-4 3-7 3 28 3 0 3-17 3-16 3-4 3-21 3-74 3-76 3 17 3 51 3-35 3 24 3 63 3 70 3 35 3-15 3-34 3 28 3-42 3 12 3-24 3-25 3 22 3-39 3-29 3-53 3-29 3 82 3 33 3 68 3 78 3-38 3 20 3-34 3 42 3-7 3 4 3-29 3-6 3 16 3-19 3 12 3-11 3 9 3 18 3-32 3 4 3-22 3 16 3-26 3 4 3 27 3 0 3 13 3-13 3-27 3 7 3 19 3-15 3-4 3 11 3-17 3 26 3-28 3 4 3 12 3-22 3-2 3-6 3-21 3 31 3-19 3 11 3-6 3 43 3-7 3-13 3 30 3 1 3-21 3 24 3-23 3-8 3-7 3 25 3-15 3 32 3-36 3 13 3-28 3-8 3 3 3-6 3 32 3 11 3 5 3-21 3 57 3-2 3 3 3-23 3-1 3-22 3-3 3-2 3 5 3 8 3-37 3 24 3-13 3-45 3 42 3-25 3 7 3 1 3-17 3 24 3-32 3 17 3-47 3-17 3-31 3-17 3-69 3-60 3-105 3-36 3 109 3 195 3 149 3-2 3-28 3-12 3 4 3-26 3 31 3-5 3 19 3 3 3-30 3-4 3 32 3-14 3-22 3 22 3-2 3 0 3 3 3-8 3 19 3-15 3-10 3 15 3 9 3 7 3-11 3-13 3-17 3 29 3-30 3 42 3-19 3 10 3-23 3 10 3 5 3-5 3 36 3-10 3-33 3 10 3 20 3-28 3 3 3 8 3 16 3-21 3-11 3 4 3 5 3-6 3-3 3 6 3 14 3-17 3 17 3-6 3-12 3 2 3 4 3 13 3 8 3-5 3-6 3-9 3-3 3-13 3 17 3-18 3 16 3 10 3-11 3-36 3 37 3 4 3-22 3 5 3-17 3 33 3-18 3 7 3 20 3 5 3-29 3 0 3 14 3-9 3-6 3 6 3 12"/>
<path stroke="#bf00bf" d="M0 1174l3 38 3-69 3 54 3 5 3-21 3-9 3-1 3-18 3 49 3-44 3-6 3 15 3 34 3-48 3 32 3-27 3 3 3 8 3-2 3 20 3-36 3 30 3-41 3 41 3-32 3 30 3-28 3 1 3-11 3-16 3-22 3 10 3 0 3-29 3-65 3 22 3-56 3 35 3 109 3 159 3 64 3-148 3-35 3-46 3 11 3-27 3 42 3-42 3 3 3 38 3 22 3-26 3 4 3-21 3 30 3 4 3-38 3 6 3 34 3-14 3 37 3-18 3 3 3-3 3-13 3 5 3-5 3-36 3 76 3-54 3 27 3-5 3-2 3 19 3-19 3-15 3 3 3 47 3-40 3 5 3-27 3 18 3 10 3-12 3 29 3-24 3-13 3-5 3 43 3-31 3 27 3-51 3 67 3-31 3 17 3-2 3 9 3-4 3 2 3-67 3 45 3-22 3-8 3 39 3-1 3-24 3 21 3-31 3-34 3 20 3-19 3-90 3 57 3-15 3 27 3 27 3-69 3 119 3-10 3-18 3 5 3-66 3 80 3-12 3-63 3-11 3-8 3-3 3 90 3-49 3 18 3-5 3-8 3-1 3 26 3-1 3-9 3-55 3-16 3 74 3-30 3 72 3 30 3-60 3-28 3 21 3-56 3 97 3-2 3 17 3 18 3-30 3-46 3 69 3-7 3-26 3 17 3-3 3-19 3-1 3 14 3-11 3 19 3-16 3 29 3-15 3 11 3 13 3-45 3 25 3-12 3 27 3 2 3-38 3 17 3-12 3 15 3-21 3-10 3-40 3-17 3-77 3 19 3 24 3-12 3 0 3 56 3 65 3 63 3-20 3-17 3 31 3-65 3 48 3-19 3-65 3 24 3-30 3-46 3-32 3-26 3 25 3 53 3 112 3 91 3-41 3-13 3-51 3 17 3 10 3-2 3 20 3-9 3-44 3 32 3-42 3 24 3 15 3-4 3 14 3-34 3 19 3-15 3 25 3-8 3-6 3-5 3-3 3 10 3-22 3 33 3-10 3-12 3-10 3 3 3-1 3-16 3 18 3-5 3 12 3 21 3-50 3 8 3 19 3-42 3-20 3 8 3 13 3 12 3 12 3-15 3 14 3-1 3 10 3-1 3-20 3-13 3 12 3 5 3-5 3 9 3-18 3 15 3-31 3-20 3 20 3 16 3 22 3-41 3 33 3 4 3 2 3 12 3-4 3 5 3 8 3-13 3-5 3-5 3-2 3-29 3-2 3 18 3-20 3 34 3-71 3 5 3-3 3-9 3 44 3-25 3 0 3 9 3-21 3-18 3 1 3-20 3-68 3-46 3-41 3-89 3 62 3 166 3 187 3-12 3-14 3-23 3-20 3 35 3-23 3 5 3-1 3-7 3 14 3-31 3-1 3 12 3 18 3-13 3-6 3 15 3 7 3-30 3 23 3-21 3 3 3 8 3 7 3-18 3 28 3-17 3 30 3-49 3 6 3 11 3 5 3 1 3-22 3 10 3 26 3 17 3-28 3-31 3 45 3 11 3-14 3-13 3-3 3 9 3 2 3-3 3 2 3 2 3-24 3 21 3 0 3-20 3 29 3-24 3 21 3 19 3-36 3 9 3 6 3-7 3 0 3-4 3 1 3 3 3 6 3-2 3-19 3 16 3-2 3-30 3 32 3-22 3 23 3 13 3-42 3 34 3 1 3-16 3-6 3 17 3 7 3-20 3 30 3-38 3 41 3-15 3 3 3-21 3-4"/>
<path stroke="#bfbf00" d="M0 1188l3-10 3 8 3 37 3-15 3-30 3-20 3-3 3-6 3-7 3 24 3 1 3-35 3 10 3-13 3 16 3 28 3 28 3-44 3 52 3-23 3-17 3 8 3-54 3 54 3-28 3 21 3-12 3-22 3 15 3-12 3-11 3 19 3-11 3-43 3 10 3-19 3-67 3-1 3 71 3 111 3 118 3-118 3-53 3-54 3-13 3-13 3-3 3-5 3 81 3 21 3-39 3 23 3-7 3 29 3-6 3-35 3 5 3-7 3 1 3 3 3 7 3-1 3-26 3 29 3 23 3-3 3-41 3 16 3 26 3-35 3 62 3 5 3-19 3-29 3 13 3 56 3-78 3 35 3-35 3 16 3 3 3 1 3-7 3-17 3 36 3-45 3 14 3 11 3 22 3-45 3 6 3 21 3-74 3 42 3 52 3 27 3-36 3-5 3 24 3-66 3-8 3-7 3 82 3-3 3-60 3 49 3-41 3 58 3-47 3-13 3-47 3-44 3-52 3-45 3 48 3 139 3-65 3 163 3-135 3 63 3-7 3-15 3 26 3 21 3-83 3 57 3-9 3 36 3-38 3-20 3-22 3-19 3 61 3-8 3 8 3-14 3-39 3 76 3-10 3-42 3 35 3 1 3 27 3-52 3 46 3-41 3 3 3-1 3-21 3 50 3-7 3 58 3-85 3 64 3-27 3 17 3-2 3-38 3 16 3 9 3 7 3-1 3-31 3 33 3 6 3-1 3-22 3 36 3-12 3-6 3 15 3-17 3 9 3-20 3 1 3 31 3-26 3-10 3-2 3-53 3-26 3-67 3-82 3-22 3 50 3 26 3 69 3 63 3 57 3 45 3-53 3-15 3 37 3-45 3 16 3-27 3-26 3 2 3-25 3-15 3-86 3-26 3 56 3 49 3 107 3 34 3-21 3 23 3 18 3-24 3-46 3 52 3-26 3-1 3 38 3-8 3-52 3 22 3 30 3-13 3-33 3 33 3 8 3-15 3-50 3 48 3-11 3 16 3-13 3-2 3 16 3-17 3 19 3-23 3 15 3 12 3-41 3 29 3-1 3 0 3 10 3-27 3 19 3-38 3-16 3 11 3 15 3 7 3-5 3 42 3-60 3 15 3 19 3 3 3 23 3-23 3-1 3 15 3-23 3 14 3-14 3-10 3 14 3-12 3-16 3-16 3 39 3-14 3 30 3-18 3-5 3 44 3 19 3 32 3-26 3-47 3 4 3-9 3 6 3 11 3-61 3 43 3-9 3-20 3-5 3 10 3-32 3 19 3-33 3 25 3-32 3-12 3 32 3-4 3-36 3-1 3-48 3-34 3-55 3-121 3-84 3 46 3 140 3 184 3 129 3-51 3-13 3-21 3-5 3-1 3 43 3 0 3-27 3 13 3 8 3-16 3-15 3 19 3 9 3 9 3-15 3-1 3-24 3 23 3-8 3 32 3-40 3 12 3-9 3 8 3-3 3-2 3 21 3-27 3 24 3 10 3-32 3-21 3 17 3 20 3-16 3 20 3-14 3 1 3 9 3-9 3 43 3-18 3-24 3 13 3 19 3-54 3 40 3-5 3 7 3-2 3-17 3 5 3 6 3-10 3-26 3 4 3 37 3-13 3-21 3 20 3-1 3 2 3-22 3 15 3 5 3 6 3-3 3-10 3 5 3-20 3 40 3-2 3-32 3-22 3 28 3-3 3-3 3 19 3 7 3-41 3 45 3-12 3 3 3 9 3-20 3 23 3-43 3 20"/>
<path stroke="#404040" d="M0 1227l3-48 3 43 3-2 3-33 3 12 3 22 3-25 3-16 3 46 3-55 3 9 3 6 3 2 3 26 3-21 3-5 3 11 3-59 3-6 3 49 3 47 3-69 3 5 3 6 3 18 3-62 3 30 3-9 3-3 3-24 3 51 3-28 3-26 3-31 3-20 3-22 3-6 3-53 3 34 3 168 3 133 3-111 3-71 3-65 3 28 3-60 3 54 3-6 3 12 3 9 3 14 3 25 3-15 3-33 3 24 3 4 3 8 3 21 3-15 3-28 3 30 3 13 3 19 3-19 3 2 3-21 3 4 3-32 3 41 3-22 3 11 3 9 3 8 3 12 3-7 3 2 3-40 3 39 3 20 3 5 3-17 3-20 3-3 3-12 3-23 3 53 3 10 3-16 3 3 3 4 3 24 3-51 3-26 3 8 3 16 3-26 3-2 3-22 3 10 3 41 3 49 3-26 3-41 3 7 3-18 3-1 3 59 3-32 3-11 3 17 3-44 3-116 3 67 3-34 3-21 3 23 3 62 3 48 3 51 3-104 3 43 3 22 3-20 3-13 3-5 3-42 3-58 3 119 3-26 3 22 3-32 3 18 3-109 3 64 3 85 3-26 3 43 3-63 3-9 3-7 3 7 3 58 3-15 3 14 3 26 3-32 3-16 3 17 3 66 3-60 3 13 3 30 3 25 3-36 3 18 3-26 3-25 3 24 3 25 3-31 3 33 3-28 3 29 3-15 3-21 3 29 3-7 3 5 3-1 3-12 3 4 3-25 3 1 3-11 3 31 3-17 3 21 3-55 3 9 3 5 3-62 3-59 3-47 3-25 3 53 3-1 3 49 3 60 3 49 3 40 3-10 3-39 3 52 3-46 3-21 3-4 3 20 3-42 3 18 3-48 3-57 3-57 3 18 3 48 3 82 3 84 3-7 3 11 3-34 3 12 3-29 3 60 3-4 3-15 3 0 3-28 3 37 3-12 3-21 3 4 3 6 3-1 3 13 3-10 3 17 3-7 3-29 3 22 3 1 3 15 3-41 3 47 3-19 3-1 3-14 3 17 3 21 3-33 3-3 3 33 3-3 3 2 3-24 3-18 3-32 3 11 3-30 3 23 3 14 3 26 3 1 3 15 3 4 3-14 3 5 3 1 3-26 3 32 3 22 3-27 3-5 3 3 3 1 3 8 3-57 3 13 3-7 3 18 3 19 3-18 3 9 3-13 3 64 3 0 3-7 3-33 3-15 3 27 3-38 3 1 3-6 3 26 3-23 3 7 3-22 3 0 3-16 3-40 3 32 3 27 3-11 3-13 3-8 3 6 3-18 3-17 3-22 3-48 3-66 3-73 3-134 3 19 3 119 3 193 3 97 3-27 3-4 3-7 3 25 3-27 3 47 3 13 3-10 3 1 3-16 3-36 3 23 3-4 3 28 3 6 3-32 3 3 3-12 3 1 3 15 3 4 3-20 3 3 3 29 3-15 3-5 3 26 3 2 3-20 3-20 3 20 3 17 3-25 3 19 3 11 3-22 3-17 3 13 3 35 3-45 3 6 3-15 3-3 3 36 3-22 3 18 3-10 3 2 3-35 3 75 3-21 3-3 3-12 3 17 3-43 3-5 3 27 3-4 3 17 3-24 3-21 3 32 3-6 3 29 3-40 3 5 3-14 3 22 3 21 3-6 3-31 3 17 3 3 3 19 3-31 3 19 3 6 3-18 3 7 3 13 3-27 3 22 3 8 3-11 3-1 3-15 3 30 3-12 3-14"/>
<path stroke="#0000ff" d="M0 1131l3 61 3-25 3 51 3-58 3 9 3 17 3-15 3 20 3-54 3 50 3-9 3-18 3 17 3 4 3 20 3-21 3-11 3-6 3-36 3 22 3 25 3-25 3 38 3-31 3-5 3-11 3 16 3-30 3 29 3-51 3 21 3-60 3 47 3-35 3-25 3-14 3 9 3-14 3-62 3 11 3 169 3 177 3 31 3-172 3-66 3-1 3-52 3 65 3-46 3 9 3 18 3 24 3-35 3 47 3-61 3 40 3-10 3-5 3-13 3 19 3 1 3-26 3 65 3 8 3-7 3-53 3 4 3 22 3-4 3 27 3-23 3-8 3 13 3-16 3-3 3-28 3 28 3 9 3 24 3-38 3 3 3 43 3-53 3 36 3-27 3-19 3 16 3-1 3-1 3 44 3 4 3-59 3-5 3-16 3 62 3-62 3 75 3 7 3-96 3 29 3 42 3-7 3 27 3-8 3-76 3 38 3-13 3-22 3 79 3 17 3-72 3-21 3 5 3-107 3-46 3 65 3 60 3 76 3-24 3-22 3 63 3-91 3 68 3 63 3-71 3-3 3-3 3-110 3 24 3 56 3 53 3-16 3-81 3 3 3-58 3 87 3 37 3 70 3-32 3 15 3-29 3-4 3 30 3 24 3 17 3-15 3 13 3-45 3 4 3-13 3 26 3 1 3-6 3-2 3 11 3 7 3-20 3 16 3 12 3 0 3-44 3 52 3-33 3 20 3 7 3-20 3 10 3-23 3 2 3-7 3 41 3-13 3 5 3-26 3-6 3 8 3 0 3-13 3-13 3 7 3-8 3-42 3-43 3-85 3-5 3 21 3 4 3 26 3 77 3 75 3 28 3-20 3-12 3 0 3-2 3 6 3-5 3 5 3-33 3-3 3-70 3-42 3-82 3 27 3 95 3 117 3 17 3 32 3-41 3 9 3-13 3 6 3 29 3 12 3-39 3 2 3-2 3 9 3 8 3-19 3 8 3 9 3-40 3 37 3-29 3 24 3-23 3 8 3 3 3 0 3 2 3-17 3 14 3-18 3 16 3 11 3-16 3-19 3 8 3 4 3 24 3-1 3-13 3-10 3-1 3-37 3 15 3-15 3 10 3 17 3 13 3 17 3 5 3-1 3-13 3-23 3 34 3 15 3-23 3 10 3-11 3 3 3-5 3-18 3-6 3-27 3 19 3 14 3-15 3 5 3 26 3 10 3 11 3 17 3-12 3 42 3-42 3-1 3-14 3-4 3-37 3 10 3-24 3-1 3 11 3 19 3-33 3 10 3-39 3 26 3-19 3 13 3-7 3-8 3 2 3-64 3 7 3-16 3-46 3-88 3-77 3-119 3-36 3 130 3 212 3 156 3-28 3-13 3 20 3-3 3-9 3 51 3-36 3 18 3-1 3-21 3 31 3 14 3-5 3-40 3 26 3-3 3-11 3 4 3-8 3-2 3 34 3 0 3-18 3-6 3 8 3 37 3-28 3-13 3 7 3 24 3-48 3 20 3 5 3 13 3-7 3 3 3-4 3 1 3-11 3 4 3 4 3 17 3-23 3-3 3-5 3 7 3 6 3-12 3 0 3 4 3-9 3-1 3 16 3-28 3 18 3 7 3 20 3-18 3-13 3 2 3-2 3 18 3 3 3-34 3 0 3 8 3 10 3 11 3-25 3 24 3-6 3 10 3-2 3 11 3-47 3 10 3 14 3-18 3-5 3 14 3-24 3-3 3 18 3 21 3-38 3 20 3-4 3 6"/>
<path stroke="#008000" d="M0 1151l3-4 3 9 3 30 3-31 3 23 3-45 3-1 3 25 3 9 3-28 3 45 3-24 3-19 3 30 3-36 3 0 3 24 3 5 3-2 3-63 3 72 3 20 3-39 3-20 3 6 3 3 3 6 3 0 3-31 3 1 3-12 3-13 3 7 3-26 3-31 3-26 3-46 3-51 3-77 3 92 3 110 3 124 3 15 3-96 3 4 3 6 3-44 3 13 3 2 3 25 3 34 3 8 3 13 3-43 3 34 3-39 3 43 3-8 3 18 3-32 3 25 3 2 3-19 3 24 3-8 3-6 3 8 3-6 3-14 3 50 3-28 3-35 3 34 3-18 3 29 3 8 3 19 3-52 3 10 3 16 3 0 3 37 3-50 3-9 3 0 3 12 3 10 3 22 3-48 3 59 3-65 3 32 3-25 3 74 3-27 3-52 3 12 3 83 3-71 3 51 3-83 3 45 3-47 3-11 3 64 3-33 3-83 3 48 3 28 3 19 3-87 3 102 3-144 3-16 3-35 3 37 3 76 3 65 3-67 3 44 3-25 3 86 3-82 3 44 3-31 3 13 3 39 3-85 3-22 3 56 3 56 3-109 3 47 3-46 3 40 3 56 3 8 3 69 3-101 3 18 3-92 3 72 3 46 3-16 3-18 3 43 3-36 3-21 3-17 3-17 3 41 3 2 3-9 3 10 3 18 3 10 3 4 3-27 3-13 3 5 3 32 3-17 3 3 3-15 3 12 3 26 3-35 3 35 3-8 3-11 3-1 3-11 3 30 3-11 3 7 3-29 3 13 3 9 3-6 3-20 3-21 3-37 3-42 3-42 3-10 3 24 3 15 3 42 3 40 3 75 3-15 3-6 3-27 3 35 3-14 3-34 3-5 3 12 3-49 3-17 3-22 3-94 3-21 3 51 3 85 3 75 3 65 3-50 3 44 3-21 3 12 3-39 3 35 3 18 3-30 3 12 3-28 3-1 3 0 3 3 3 24 3-33 3 0 3 3 3-3 3 20 3-28 3 13 3-23 3 48 3-17 3 12 3 18 3-50 3 36 3 20 3-41 3 34 3-72 3 58 3-17 3-19 3 4 3-8 3 8 3-2 3-46 3 43 3 14 3 0 3-24 3 26 3-9 3 12 3-34 3 28 3 4 3-1 3-7 3 18 3-1 3-2 3-42 3 13 3-18 3 1 3 18 3 13 3 5 3-1 3 33 3 3 3 3 3 1 3 40 3-20 3-14 3-18 3-2 3-22 3 9 3-15 3-16 3 21 3 11 3-3 3-19 3-51 3 35 3-26 3 2 3 9 3-20 3 7 3-10 3-5 3 29 3-54 3-27 3-94 3-39 3-98 3 17 3 95 3 187 3 101 3-46 3-22 3 14 3 1 3 2 3-8 3 22 3 1 3-8 3-4 3 7 3 1 3-9 3 24 3 14 3-47 3 5 3 17 3-29 3 3 3 17 3 43 3-54 3-14 3 0 3 12 3-4 3 16 3-20 3 10 3 31 3-29 3-3 3 10 3 2 3 9 3-22 3-24 3 33 3 0 3-10 3 2 3 6 3 0 3-6 3 31 3-48 3 34 3-15 3 2 3-9 3 2 3-1 3 2 3-11 3 19 3 4 3-4 3-26 3 45 3-57 3 4 3 18 3 2 3 10 3 4 3-11 3 1 3 15 3-3 3 22 3-5 3-3 3-19 3-17 3 35 3-5 3-2 3-26 3 19 3-1 3-3 3 5 3-12 3 0 3 16 3-13 3 10"/>
<path stroke="#ff0000" d="M0 1129l3 29 3-3 3-19 3 33 3-24 3-40 3 26 3-13 3 15 3 18 3 20 3-47 3 19 3-7 3-34 3 33 3 28 3-7 3-30 3-7 3 8 3-11 3-23 3 23 3 29 3-19 3-25 3 14 3-30 3 14 3-8 3-38 3-8 3-10 3-6 3-48 3-92 3-49 3 27 3 174 3 208 3-61 3-138 3 26 3-31 3-19 3 28 3 9 3-5 3 19 3 45 3-11 3 8 3 12 3-23 3-12 3 42 3-20 3 16 3-28 3 10 3 23 3-36 3 44 3-45 3 23 3-12 3-11 3 19 3 2 3 2 3 23 3-27 3-1 3 23 3-13 3-12 3 38 3-26 3 25 3-29 3 5 3 8 3 23 3-33 3 10 3 6 3-8 3 53 3-49 3-2 3 25 3-12 3-57 3 9 3-39 3 72 3-28 3 83 3-73 3 63 3-54 3-35 3 52 3 0 3-6 3 33 3-55 3-15 3 27 3-47 3-12 3-24 3-19 3-57 3-1 3 109 3 61 3-59 3 20 3 16 3-14 3-47 3 55 3-82 3 50 3-55 3 10 3-9 3 66 3-24 3 2 3-96 3 89 3 38 3-77 3 97 3-36 3 0 3-57 3-2 3 49 3 68 3 43 3-69 3 36 3 9 3-30 3 13 3-21 3 6 3 35 3-27 3 19 3-2 3-19 3-27 3 39 3 31 3-34 3-3 3 15 3-24 3 21 3 28 3-46 3 1 3 42 3-57 3 30 3-13 3-23 3 13 3 9 3-12 3 2 3-10 3 11 3-43 3 0 3-13 3-63 3-51 3 10 3-1 3 11 3 46 3 28 3 51 3 50 3-15 3-18 3-12 3 30 3 1 3 25 3-31 3-34 3 19 3-35 3-67 3-65 3-5 3 68 3 54 3 125 3-21 3-21 3 17 3-5 3 23 3 28 3-67 3 14 3 15 3-17 3 0 3-11 3-19 3 64 3-47 3 12 3-14 3 5 3 8 3-19 3 39 3-20 3-7 3-40 3 15 3 16 3 8 3-13 3 29 3-14 3-21 3 0 3-18 3 38 3-35 3 37 3-32 3 6 3-37 3-22 3 56 3-25 3 37 3 16 3-11 3-27 3 44 3-20 3 3 3 27 3-43 3 0 3 0 3-3 3 34 3-36 3-11 3 52 3-84 3 29 3 3 3 4 3 18 3 14 3 4 3 6 3 17 3 21 3 2 3-36 3-17 3 13 3-21 3-15 3 34 3-24 3-23 3 23 3-30 3-1 3-15 3-24 3 0 3 24 3-3 3 27 3-16 3-24 3 17 3-11 3-71 3-19 3-49 3-91 3-89 3 12 3 59 3 162 3 170 3-18 3-38 3 1 3 34 3-5 3-7 3-1 3 23 3-8 3 18 3-10 3-5 3 13 3 1 3-24 3 10 3 3 3-2 3 17 3-26 3-18 3 49 3-51 3 33 3 1 3-21 3 2 3-3 3 3 3 11 3-18 3 14 3-12 3 37 3-12 3-27 3 29 3-9 3-18 3 7 3 6 3 6 3-7 3-3 3 6 3 14 3-19 3 15 3-27 3 12 3 13 3-5 3 17 3-34 3 19 3-20 3 40 3-20 3 16 3-6 3 22 3-18 3-20 3 13 3 1 3 0 3-26 3 20 3-26 3-4 3 31 3 30 3-45 3 25 3-23 3 23 3-30 3 14 3 29 3-35 3-1 3 11 3-13 3 13 3 9 3-20 3 16 3-6 3 8"/>
<path stroke="#00bfbf" d="M0 1135l3 16 3-31 3 15 3 33 3-30 3 41 3-50 3-12 3 22 3 7 3-7 3 12 3-3 3-16 3 50 3-5 3-31 3 11 3-13 3-11 3 18 3-19 3 5 3-14 3-12 3 6 3-3 3 0 3 39 3-42 3-4 3-21 3-5 3-11 3-32 3-58 3-54 3 31 3 124 3 168 3 49 3-145 3-62 3-5 3 16 3-17 3 22 3 22 3 10 3 0 3-6 3 10 3 5 3 25 3-21 3-18 3 3 3 38 3 15 3-37 3 10 3-14 3 17 3-10 3 3 3 1 3 8 3 3 3 8 3-15 3-32 3 21 3 39 3-41 3 32 3 18 3-43 3 29 3 6 3 2 3-34 3-6 3 20 3-29 3 9 3-3 3-4 3-6 3 8 3-8 3 19 3-7 3 5 3 14 3-13 3 30 3-40 3-15 3-22 3 13 3 69 3-75 3-17 3-43 3 44 3 5 3 16 3 20 3 3 3-34 3-57 3 12 3-110 3 37 3-36 3 117 3 9 3 13 3-7 3 24 3 60 3-76 3 86 3-60 3 5 3 37 3-52 3 28 3-56 3 43 3 47 3-155 3-25 3 84 3 80 3-9 3-79 3-4 3-33 3 58 3-7 3-23 3 60 3 46 3-51 3-9 3-2 3-20 3 4 3 38 3-15 3 33 3 26 3-21 3 15 3-10 3 7 3 9 3 22 3-26 3-30 3 73 3-21 3-27 3 18 3-17 3 13 3-2 3-21 3 24 3 3 3-13 3 27 3-51 3 4 3-13 3 2 3-40 3 5 3-34 3-49 3-106 3 9 3 71 3 4 3 62 3 83 3-2 3 73 3 15 3-33 3-38 3 42 3-50 3-15 3 24 3 7 3-66 3-30 3-32 3-89 3-60 3 122 3 121 3-4 3 63 3-30 3-18 3 61 3-32 3 21 3 0 3-17 3 13 3 9 3 24 3-13 3-17 3-6 3 1 3 7 3-9 3 7 3-29 3 29 3-19 3 24 3-2 3-21 3 25 3-14 3 4 3-9 3-59 3 46 3 15 3-7 3-5 3 40 3-20 3-27 3 5 3-16 3-2 3-44 3 8 3-10 3 56 3-17 3 25 3-36 3 39 3-10 3-14 3 0 3 15 3-5 3-22 3 0 3-19 3 17 3-1 3-18 3 1 3 2 3-2 3 15 3 13 3 9 3-13 3 33 3 36 3-14 3 12 3-47 3-47 3 35 3-3 3-37 3 53 3-1 3-67 3 38 3-46 3 31 3-37 3-3 3-38 3 17 3 20 3-2 3-3 3 13 3 6 3-33 3-52 3-31 3-55 3-61 3-100 3-58 3 67 3 215 3 263 3 44 3-86 3-29 3 1 3-24 3 37 3-17 3-17 3 7 3 6 3 27 3-36 3-6 3-6 3-7 3 47 3-29 3 7 3-17 3-16 3 20 3 15 3 4 3-11 3-31 3 17 3 10 3 16 3-35 3 5 3 30 3-1 3-9 3-4 3-2 3 14 3-21 3-17 3 43 3-18 3-34 3 25 3 21 3 14 3-10 3-23 3 20 3 2 3-15 3 31 3-17 3 2 3-17 3-14 3 18 3 8 3-15 3 1 3 18 3-31 3 26 3 8 3-22 3-22 3 45 3-28 3 33 3-13 3 10 3-18 3-1 3 5 3 3 3 2 3-17 3 15 3 28 3 2 3-37 3-3 3-2 3 0 3 18 3 2 3 33 3-52 3 20 3 1 3-2 3 20"/>
<path stroke="#bf00bf" d="M0 1108l3 7 3 37 3-26 3 6 3-1 3 14 3-2 3 19 3-15 3-7 3 0 3 42 3-6 3-20 3-32 3 25 3-10 3-3 3-15 3-4 3-8 3 42 3 14 3-49 3-4 3-8 3 24 3-26 3-9 3 8 3-16 3-54 3 46 3-24 3 13 3-68 3-44 3 56 3 144 3 161 3-28 3-145 3-45 3-24 3 19 3 10 3 0 3-27 3 28 3 39 3-41 3 4 3 41 3-24 3-2 3 6 3 6 3-18 3 3 3-1 3 20 3-18 3 30 3-1 3-42 3 38 3 3 3 1 3-5 3-17 3 7 3-20 3 38 3 15 3-31 3 46 3-24 3 19 3-54 3-14 3 84 3-46 3-7 3 12 3 11 3 15 3 17 3-39 3-19 3 21 3-16 3 7 3 0 3-27 3 23 3 5 3-39 3 35 3-5 3-12 3 24 3-18 3 7 3-56 3 17 3 36 3 46 3-76 3-13 3-20 3-46 3-53 3-7 3 105 3 13 3-56 3 67 3 24 3 55 3-99 3 57 3 36 3-41 3-39 3-65 3 96 3-12 3 35 3-64 3 24 3-115 3 115 3-39 3 105 3-30 3 4 3-57 3-19 3 2 3 29 3 30 3 15 3-14 3-1 3-12 3-20 3 5 3 8 3-33 3 79 3 6 3-15 3 38 3-29 3-4 3 59 3-32 3-29 3 6 3-5 3 10 3 24 3-17 3 19 3 7 3-35 3-2 3-41 3 27 3 17 3-46 3 59 3-21 3-11 3-6 3 23 3-28 3 15 3 0 3-61 3-41 3-112 3 30 3 23 3 13 3 6 3 94 3 41 3 33 3 14 3-18 3-11 3 33 3-20 3-63 3 24 3 13 3-53 3-55 3-53 3-55 3 9 3 63 3 121 3 70 3 19 3-37 3 16 3 23 3-36 3 0 3 26 3 8 3-10 3-39 3 18 3 18 3-2 3-58 3 21 3 1 3 19 3-17 3-21 3-1 3 30 3 1 3-17 3-2 3-14 3 34 3 5 3-6 3-7 3 9 3-13 3 21 3-26 3 1 3-24 3 50 3-42 3-2 3-19 3 32 3-13 3-24 3 3 3 35 3 6 3 3 3-16 3 12 3-14 3-6 3 10 3-8 3 26 3-5 3-12 3 6 3 23 3-22 3 1 3-11 3-31 3 40 3 7 3-5 3 13 3 19 3 24 3 21 3-23 3-28 3-27 3 1 3-7 3-19 3 29 3-16 3-19 3 20 3-31 3-16 3-17 3 13 3-25 3 26 3 11 3-2 3-25 3-14 3-16 3-8 3-37 3-63 3-52 3-112 3-76 3 57 3 163 3 247 3 90 3-65 3-34 3 8 3 19 3-51 3 12 3 32 3 9 3-13 3 6 3-11 3 10 3 8 3-18 3 24 3-17 3-19 3-10 3 25 3 16 3-34 3 40 3-47 3 29 3 7 3-14 3 13 3-22 3 32 3-56 3 48 3 20 3-22 3-18 3 23 3-15 3 23 3-23 3 11 3-7 3-2 3 6 3 20 3-41 3 10 3 6 3 8 3 5 3-5 3 19 3-42 3 17 3-16 3 26 3-43 3 10 3 28 3-9 3 19 3-27 3-1 3 7 3-9 3 57 3-51 3 5 3-1 3 9 3-10 3-4 3 18 3-24 3-8 3 20 3 8 3-22 3 11 3-21 3 32 3-19 3-8 3-1 3 36 3-6 3-14 3 11 3-11 3 4 3-12 3-9"/>
<path stroke="#bfbf00" d="M0 1162l3 14 3 2 3 4 3-22 3 1 3-9 3 22 3-5 3 3 3 2 3 3 3-2 3 21 3-38 3 18 3-15 3-41 3 34 3 15 3-17 3 15 3 0 3-15 3 32 3-23 3-9 3-23 3 40 3-39 3 17 3-16 3-27 3 21 3-66 3-8 3-32 3-26 3-39 3 59 3 143 3 165 3-92 3-85 3-40 3 30 3-39 3 23 3-18 3 21 3-14 3 47 3 2 3-67 3 21 3 2 3 35 3-15 3 14 3-19 3-1 3 27 3-24 3 12 3 5 3-40 3 21 3 24 3-35 3 13 3-2 3-14 3 23 3-35 3 21 3 18 3 11 3-34 3 10 3-36 3 28 3 19 3 13 3-10 3 34 3-36 3 27 3 1 3-63 3 13 3 24 3 12 3-37 3-22 3 2 3-40 3 70 3 2 3-27 3-3 3 70 3-25 3-61 3 15 3 18 3-41 3 28 3-15 3-6 3-14 3 40 3-82 3-10 3-24 3-21 3 0 3 81 3 25 3 35 3 27 3 15 3-8 3 4 3-36 3-33 3-24 3 4 3 38 3-22 3 11 3 13 3 3 3-41 3 0 3 41 3 43 3 18 3-67 3-7 3-2 3-1 3 31 3 31 3 31 3-49 3 22 3-5 3-29 3 54 3 2 3-45 3 20 3 21 3 6 3-13 3 18 3 1 3 6 3 10 3-32 3 6 3 19 3 5 3-27 3 4 3 7 3-2 3-20 3 16 3 11 3-14 3-16 3 42 3-21 3-1 3-2 3-57 3 29 3-1 3-7 3-6 3-98 3-69 3-45 3 61 3 4 3 8 3 61 3 72 3 97 3 7 3-15 3-42 3-17 3 19 3-30 3 25 3-31 3-2 3-36 3-78 3-69 3-62 3 52 3 101 3 124 3 28 3 40 3-56 3 10 3 14 3-12 3 19 3 4 3-24 3-14 3 12 3 15 3-17 3-16 3 16 3 3 3 12 3-11 3 43 3-66 3 30 3-39 3 45 3 0 3-4 3 37 3-66 3 17 3 26 3-38 3-4 3 14 3-12 3-8 3 19 3 12 3-27 3-6 3-18 3 14 3-17 3-26 3 26 3 16 3 15 3-17 3 22 3-19 3 2 3-19 3-31 3 26 3 40 3-28 3 10 3-1 3-1 3 2 3-20 3-9 3-39 3 44 3 18 3 7 3 21 3 0 3-13 3 74 3-8 3-28 3-14 3-16 3-10 3-17 3 4 3-19 3 10 3-9 3-12 3-1 3 1 3-25 3 11 3-39 3 28 3-28 3 20 3-13 3 13 3-43 3 8 3-28 3-105 3-39 3-77 3-98 3 27 3 200 3 203 3 32 3-30 3 2 3-7 3 25 3 25 3-29 3 35 3 4 3-12 3 8 3-19 3-2 3 13 3-33 3 32 3 20 3-42 3-8 3 7 3 5 3 3 3-12 3 3 3-29 3 21 3 8 3-5 3-5 3-1 3-6 3 11 3 10 3-14 3-3 3 22 3-22 3-2 3 16 3 16 3-36 3 17 3-11 3-1 3 3 3-14 3 17 3 1 3-24 3 39 3-16 3-10 3-20 3 36 3 9 3-29 3 6 3 18 3-12 3 19 3-9 3 8 3-15 3-1 3 13 3-29 3 23 3-31 3-15 3 43 3 5 3 4 3 2 3 18 3-30 3 12 3 6 3-32 3 26 3-4 3-15 3 4 3 30 3-38 3 33 3 1 3-6 3-6 3-5 3 7"/>
<path stroke="#404040" d="M0 1161l3-9 3-32 3 19 3 9 3-18 3 17 3 41 3-69 3-6 3 27 3 2 3-19 3 56 3-39 3 28 3-47 3 25 3-37 3 35 3-28 3 12 3 22 3-28 3 0 3 4 3-46 3 11 3-32 3 37 3-20 3-28 3 12 3-62 3 2 3-41 3-47 3-88 3-3 3 164 3 186 3 118 3-125 3-69 3-10 3-27 3-12 3 28 3-22 3 33 3 26 3 16 3-5 3-9 3-31 3 8 3 34 3-6 3-9 3 15 3-50 3 50 3 32 3-19 3 42 3-58 3 41 3-30 3 5 3-15 3-9 3 24 3-25 3 16 3 27 3-6 3 13 3-33 3 20 3 9 3-14 3-8 3-25 3 14 3 20 3 14 3-11 3-14 3-38 3 17 3 5 3 31 3-27 3-7 3-9 3 26 3-28 3 57 3-26 3-23 3-20 3 59 3-72 3 25 3-34 3 82 3-68 3-8 3-9 3 7 3 25 3-31 3-96 3 27 3-19 3 44 3-34 3 106 3 17 3-3 3 3 3 5 3 58 3-55 3-19 3-75 3-21 3 19 3-52 3 116 3 65 3-145 3-2 3 90 3 29 3-22 3 69 3-48 3 33 3-56 3 24 3 17 3 15 3 4 3-44 3 53 3-34 3-3 3 29 3-23 3 17 3 4 3 30 3-14 3-14 3-30 3 58 3-38 3-2 3 19 3-22 3-15 3 15 3 7 3 10 3 10 3-17 3-18 3 9 3 23 3-29 3 16 3-11 3 7 3 1 3-7 3 18 3-26 3-7 3 6 3-38 3-40 3-36 3-109 3 48 3 8 3 1 3 74 3 65 3 60 3 15 3-68 3 39 3-12 3-17 3 9 3-24 3-2 3-44 3-61 3-39 3-32 3 6 3 67 3 117 3 49 3 50 3-28 3 11 3-3 3-25 3-1 3 8 3 4 3-8 3-8 3-7 3 6 3 6 3 28 3-28 3-18 3 2 3 15 3 20 3 5 3-56 3 37 3 7 3-19 3-2 3 2 3-1 3 17 3-10 3 4 3-3 3-4 3 5 3 4 3-3 3-6 3-22 3-4 3-2 3-10 3-30 3 18 3 40 3-28 3 6 3 25 3-40 3 31 3-1 3-18 3-2 3 18 3-21 3 2 3-22 3 10 3 10 3-10 3-7 3 11 3 17 3-1 3-5 3 9 3-8 3 29 3 7 3 35 3-17 3-39 3 7 3 3 3-33 3 27 3-45 3-5 3-3 3 12 3-6 3 13 3 1 3-41 3-31 3 21 3 21 3 2 3-29 3 22 3-8 3-31 3-43 3-55 3-83 3-86 3-77 3 13 3 127 3 187 3 201 3 11 3-66 3-34 3-14 3 29 3-22 3 20 3 11 3-8 3-7 3-28 3 38 3-26 3 35 3-1 3-25 3-25 3 48 3 4 3-8 3-47 3 26 3 6 3 2 3-2 3 15 3-8 3 8 3-16 3-1 3-14 3 39 3-18 3 2 3-13 3 5 3-9 3 17 3-9 3-2 3 15 3-34 3 40 3-26 3 26 3 7 3-28 3 16 3-8 3-8 3 12 3-8 3 21 3-9 3-1 3-14 3 12 3-20 3 37 3-17 3-1 3-13 3 15 3 0 3-36 3 49 3-35 3 27 3-20 3-1 3 24 3-25 3 32 3-25 3 18 3-36 3 16 3 0 3 3 3 9 3-18 3 24 3-14 3 23 3-38 3 7 3 23 3-32 3 13 3 3"/>
<path stroke="#0000ff" d="M0 1126l3-20 3 32 3 8 3-21 3 10 3-15 3 50 3-31 3 0 3-15 3 26 3-52 3 24 3 27 3-15 3-56 3 37 3-2 3-1 3-6 3 1 3 36 3-50 3 69 3-45 3-6 3-2 3-18 3-10 3 5 3-22 3-2 3 10 3-12 3-37 3-49 3 5 3-75 3-103 3 13 3 209 3 188 3-2 3-105 3-72 3 11 3 4 3 11 3-22 3 36 3 15 3-11 3 18 3 39 3-63 3 35 3-13 3-11 3 38 3-39 3 19 3 47 3-18 3 19 3-22 3-8 3-11 3-14 3 2 3 8 3 12 3-12 3-3 3 50 3-59 3 21 3 7 3 11 3-10 3 15 3-29 3 41 3-15 3 6 3-10 3 8 3 14 3 3 3 7 3-77 3 44 3 27 3-11 3-12 3-36 3-30 3 70 3 19 3-30 3 5 3 7 3-53 3 12 3-47 3 8 3 9 3-49 3 0 3 65 3 19 3 29 3-45 3-48 3 35 3-104 3-3 3 80 3-47 3 60 3-6 3 12 3 35 3 24 3-37 3 30 3 0 3-86 3-14 3 3 3 57 3-47 3 74 3-18 3 40 3-6 3 15 3 1 3-20 3 40 3-8 3-68 3-4 3 36 3 11 3 29 3-39 3 66 3-93 3-6 3 51 3 6 3-8 3 37 3-15 3-63 3 53 3 38 3-19 3-23 3 17 3-2 3 11 3-48 3-3 3 64 3-19 3-48 3 55 3-24 3 40 3-14 3-41 3 21 3 17 3-36 3 2 3-7 3 7 3 14 3-4 3-22 3-50 3-13 3-102 3 7 3 30 3 0 3 29 3 77 3 54 3 23 3 9 3-28 3 30 3-54 3 38 3-51 3 22 3-16 3-51 3-57 3-42 3-11 3 22 3 95 3 89 3 53 3-8 3-19 3-5 3 3 3-27 3 5 3 7 3-17 3 18 3 2 3 2 3 38 3-34 3-16 3 28 3-37 3 12 3 0 3 11 3-19 3-24 3 38 3-15 3 1 3-7 3 34 3-43 3 21 3-2 3-13 3 2 3 6 3 10 3-2 3-20 3-18 3 23 3 12 3-51 3-13 3 6 3 6 3 6 3 3 3 26 3-20 3 5 3 4 3-10 3-9 3 13 3 12 3 13 3-14 3 6 3-25 3 26 3-25 3 16 3-38 3-3 3-11 3 24 3 15 3 25 3 1 3 4 3 43 3-18 3-11 3-9 3-24 3-17 3 39 3-28 3 3 3-7 3 4 3-32 3-30 3 7 3 2 3-1 3-61 3 61 3-25 3 0 3 39 3-25 3-12 3-46 3-7 3-47 3-67 3-86 3-20 3 118 3 262 3 81 3-93 3 0 3 1 3 13 3 1 3 14 3-5 3 24 3-14 3-13 3-2 3-7 3-14 3-8 3 28 3-10 3-5 3-8 3 17 3-32 3 49 3-61 3 49 3-36 3 24 3-12 3 15 3-42 3 13 3 25 3 3 3-1 3 6 3 18 3-9 3-22 3 17 3-34 3 28 3-9 3 2 3 19 3-38 3 26 3 17 3-28 3 21 3-49 3 29 3-2 3 5 3-18 3-5 3 22 3 6 3-4 3 9 3-27 3 0 3 30 3-2 3-46 3 42 3-17 3 12 3 27 3-46 3 8 3 18 3-19 3-7 3 25 3 4 3-39 3-6 3 21 3 0 3 1 3 10 3-13 3-3 3 18 3-12 3 23 3-4 3-5 3 2 3-12"/>
<path stroke="#008000" d="M0 1191l3-22 3 24 3-40 3 10 3-7 3 8 3 7 3 4 3-7 3 3 3-21 3-21 3-2 3 28 3-9 3 44 3-25 3 3 3 17 3-37 3 24 3-12 3 0 3 2 3 0 3-46 3 15 3-3 3 0 3-30 3 7 3-10 3-48 3-30 3-33 3-58 3-90 3-90 3 114 3 216 3 100 3-58 3-51 3-16 3-2 3 40 3-36 3 22 3 16 3-15 3 41 3 0 3 13 3 7 3 4 3-13 3 7 3 21 3-18 3 1 3-14 3-2 3-2 3 8 3 32 3-22 3 5 3-11 3-7 3 5 3 14 3 18 3-7 3-7 3 52 3-57 3-6 3 10 3-2 3-24 3 6 3 44 3-10 3 5 3-3 3-15 3 1 3-20 3 35 3 25 3-32 3-28 3 36 3-36 3-2 3 44 3 29 3 12 3-29 3-23 3 25 3-30 3 4 3-54 3 27 3-4 3 48 3-81 3 58 3-31 3-64 3-33 3-36 3-83 3 88 3 82 3-23 3 28 3 48 3 34 3-7 3-37 3-12 3 18 3-53 3 17 3-2 3 7 3-22 3 50 3-26 3-22 3-48 3 98 3-10 3-12 3 35 3-87 3-4 3-10 3 107 3 5 3-2 3-23 3 37 3-17 3-25 3 46 3-3 3 15 3-45 3 50 3-17 3 22 3-53 3 33 3 7 3 4 3-12 3 30 3-27 3-9 3 3 3 45 3-24 3 6 3 8 3-4 3-27 3-6 3 4 3 6 3-17 3 4 3-7 3 21 3-38 3 16 3-40 3-21 3-54 3-76 3-28 3 71 3 11 3 8 3 23 3 99 3 52 3 9 3-18 3-15 3-4 3 15 3-22 3 25 3-47 3 3 3-42 3-36 3-56 3-42 3 42 3 63 3 107 3 16 3-11 3 4 3 14 3-15 3-43 3 52 3-13 3-2 3-4 3 12 3-23 3 25 3 7 3 4 3-43 3 8 3-4 3-3 3 10 3-16 3 2 3 9 3-9 3 16 3-13 3 8 3 10 3 2 3-13 3-8 3 14 3-9 3-23 3 23 3 9 3-32 3 34 3-28 3-3 3-35 3 29 3-9 3 40 3-2 3-13 3-15 3 55 3-21 3-15 3 18 3-20 3-22 3 37 3 7 3 11 3-20 3-14 3-31 3 24 3-31 3 17 3 24 3 4 3-12 3-13 3 71 3 57 3-47 3-16 3-28 3-15 3 8 3 18 3-22 3-25 3 31 3-36 3 26 3-25 3 22 3-32 3-15 3 24 3-31 3-8 3 36 3-5 3-24 3-22 3-2 3-19 3-26 3-75 3-34 3-110 3 12 3 126 3 227 3 88 3-71 3-50 3-5 3 11 3 15 3-20 3-1 3-3 3 58 3-49 3-15 3 40 3-13 3-20 3 22 3-13 3 10 3 1 3-18 3 13 3 4 3 17 3-28 3 23 3-12 3-21 3-4 3 16 3 20 3 5 3 25 3-26 3-12 3 6 3 8 3-16 3-5 3 28 3-2 3-18 3-10 3 22 3 24 3-25 3-1 3-29 3 23 3-8 3 3 3 14 3-59 3 33 3 35 3-33 3 0 3 23 3-25 3 4 3 9 3 2 3 2 3 1 3-26 3 18 3 7 3 23 3-13 3-13 3-9 3 38 3-19 3-32 3 22 3 21 3-24 3-6 3 30 3-26 3-4 3-1 3 16 3-14 3 15 3-14 3 22 3-1 3-18 3 0 3 5"/>
<path stroke="#ff0000" d="M0 1183l3-28 3-3 3 50 3-36 3-5 3 14 3-33 3 37 3-36 3 28 3-18 3 2 3-25 3 33 3-12 3 10 3-11 3 3 3-5 3 26 3-12 3 0 3-13 3-9 3 6 3-4 3 30 3-39 3-10 3 17 3 10 3-21 3-24 3 8 3-6 3-7 3-45 3 4 3-15 3 59 3 116 3 145 3-95 3-118 3-23 3-49 3-12 3-9 3 43 3-1 3 29 3-45 3 41 3-6 3-2 3 40 3-12 3-15 3 13 3 7 3-15 3-11 3-9 3 0 3 18 3 22 3-19 3 29 3-42 3-6 3-5 3 53 3-54 3 8 3 23 3-6 3 19 3 14 3 1 3-22 3-15 3 16 3 3 3 19 3-17 3-11 3 37 3-17 3 18 3-66 3 82 3-22 3-59 3-14 3 45 3 42 3-97 3 75 3-19 3-25 3 77 3-64 3-5 3 34 3 15 3-82 3 16 3-8 3 19 3 36 3-52 3 0 3-58 3-71 3-4 3-2 3 94 3 6 3 73 3-39 3 33 3 21 3 7 3-42 3-12 3-30 3-43 3 55 3-17 3 47 3 6 3-8 3-46 3-35 3 73 3 2 3 5 3-11 3-36 3-15 3 5 3 63 3 25 3 54 3-115 3-25 3 63 3 23 3-47 3 38 3 29 3-2 3-13 3 21 3 18 3-32 3-14 3 25 3 0 3 8 3-31 3 44 3-15 3-8 3 5 3-8 3-14 3 12 3 1 3-38 3 42 3-21 3 45 3-15 3-30 3-31 3 41 3-17 3-29 3 29 3-30 3-59 3-24 3-76 3 48 3 51 3-37 3 78 3-1 3 84 3 17 3-29 3-25 3-17 3-1 3 7 3 31 3-54 3 40 3-86 3-17 3-40 3-76 3 12 3 108 3 68 3 49 3 8 3-11 3 37 3-44 3 9 3-15 3-12 3 38 3-17 3-16 3 8 3-1 3 17 3-55 3 37 3 2 3-10 3-10 3 14 3 4 3-24 3 34 3-21 3 0 3-6 3 17 3-10 3 28 3-41 3 13 3-20 3 32 3-15 3 12 3-23 3 25 3-9 3-16 3-29 3-21 3-11 3 14 3 39 3 13 3-6 3 3 3 8 3-21 3 34 3-5 3-12 3-9 3-22 3 40 3 1 3-12 3-12 3-13 3 1 3-24 3-14 3 40 3 5 3 17 3 35 3-9 3 24 3 42 3-43 3-12 3-31 3 8 3-4 3-6 3 0 3-36 3 35 3-31 3 25 3-9 3-62 3 4 3 9 3-3 3 19 3-16 3-10 3 1 3 23 3-30 3-49 3-25 3-36 3-86 3-106 3-5 3 184 3 216 3 108 3-107 3 0 3 2 3 9 3 18 3-32 3 25 3-19 3 7 3-17 3 33 3-10 3 12 3-32 3 19 3-19 3 43 3-45 3 31 3-20 3-13 3 38 3 1 3-14 3 2 3 1 3-29 3 26 3-21 3 15 3-2 3-18 3 26 3-1 3 2 3-9 3 9 3-29 3 25 3-8 3 4 3 14 3-3 3 5 3-33 3 33 3-14 3 5 3 11 3 5 3 1 3 6 3-28 3 4 3-10 3-14 3 6 3 19 3-29 3 22 3-15 3-4 3 6 3 9 3 3 3 3 3-5 3-14 3 3 3-31 3 13 3 43 3-15 3-3 3 3 3-21 3-2 3 28 3-13 3-33 3 23 3-10 3 2 3 11 3-9 3 10 3-35 3 32"/>
<path stroke="#00bfbf" d="M0 1130l3 3 3 14 3-2 3-18 3 17 3-18 3 8 3 13 3 31 3-43 3 11 3-19 3 33 3-11 3-54 3 37 3 43 3-54 3 0 3 23 3-3 3 9 3-12 3 5 3 10 3 2 3 10 3-44 3 8 3 11 3-20 3 10 3-46 3-16 3 11 3-47 3 11 3-68 3 21 3 9 3 232 3 104 3-184 3-18 3-51 3-26 3 1 3 23 3 15 3 11 3-11 3 33 3 21 3-13 3-16 3 30 3 13 3 2 3-8 3-45 3 4 3 41 3-10 3 23 3-1 3-30 3 14 3 7 3-28 3 31 3-8 3-20 3 24 3 8 3-18 3-4 3 9 3 22 3-15 3-16 3-3 3-11 3 37 3-25 3 20 3-15 3 6 3-18 3 2 3-5 3 17 3 12 3-31 3-1 3-84 3 70 3 6 3 73 3 15 3-61 3-22 3-23 3 42 3-19 3 6 3 15 3-38 3 66 3-125 3 104 3-14 3-51 3-32 3-122 3 30 3-10 3 30 3 53 3 49 3 2 3 42 3 89 3-51 3-23 3 2 3-38 3 1 3-87 3 59 3 18 3 6 3 56 3-24 3-7 3-18 3 27 3-1 3-33 3-18 3 55 3-129 3 43 3 39 3 21 3 5 3 1 3-39 3-14 3 17 3 24 3 61 3-3 3 7 3-26 3-2 3 28 3-12 3-21 3 40 3-13 3-24 3-8 3 16 3 10 3 16 3-11 3-18 3 2 3-6 3 12 3-4 3 4 3-4 3 21 3 11 3-36 3 2 3-1 3-2 3-33 3 2 3-101 3-55 3-66 3 49 3 32 3 9 3 91 3 33 3 83 3-7 3-34 3-7 3 14 3-17 3-11 3-7 3-9 3 13 3-81 3-56 3-39 3-54 3 55 3 111 3 68 3 45 3-28 3-21 3 51 3 9 3-4 3 17 3-42 3 12 3 8 3-27 3 30 3-35 3-6 3 46 3-18 3-13 3 1 3-11 3 38 3 14 3-25 3-23 3 8 3-29 3 35 3-8 3-18 3 46 3-19 3-19 3 2 3 25 3-39 3 14 3-27 3 1 3 14 3 21 3-42 3-9 3 13 3 20 3-17 3 39 3-8 3-17 3 27 3-17 3-32 3 54 3-56 3 44 3-18 3-27 3 0 3 57 3-41 3-11 3-21 3 6 3 19 3-30 3 16 3 8 3 21 3 5 3 34 3-6 3-10 3-15 3 5 3-8 3 11 3-14 3-1 3-12 3-1 3 8 3-11 3-20 3 3 3-24 3-21 3 21 3 17 3-4 3-20 3-6 3 3 3-17 3-45 3-32 3-80 3-88 3-139 3 13 3 179 3 252 3 32 3-17 3 11 3-7 3 19 3-8 3 1 3 1 3 20 3-30 3 2 3 6 3 7 3-10 3 30 3-29 3-13 3 11 3 31 3-25 3 7 3-18 3 12 3-16 3 12 3 35 3-28 3-5 3 27 3-35 3 15 3-13 3 8 3 29 3-28 3-3 3 19 3 0 3-22 3 13 3-1 3-21 3-5 3 20 3 28 3-23 3 8 3-12 3-13 3 12 3-13 3 1 3 31 3-50 3 21 3 29 3-7 3-20 3-10 3 21 3-33 3 21 3 12 3-11 3-13 3 3 3 25 3-23 3 16 3 7 3 1 3-8 3-17 3 17 3-6 3-11 3 27 3-9 3 26 3-22 3-22 3 26 3-9 3-22 3 8 3 8 3-5 3 25 3-16"/>
<path stroke="#bf00bf" d="M0 1143l3 9 3 31 3-25 3 8 3 2 3-13 3-10 3 25 3-10 3 5 3-9 3-13 3-17 3 0 3 1 3 21 3 10 3-39 3 16 3 43 3-34 3-29 3 20 3 4 3 9 3-5 3-20 3-4 3 6 3 2 3-14 3-20 3-15 3-19 3 8 3-37 3-42 3-76 3-104 3 29 3 163 3 237 3-55 3-90 3-69 3-4 3 13 3 24 3-9 3 29 3 21 3-35 3 70 3-25 3 23 3 2 3-11 3 22 3-27 3 13 3-9 3 6 3 6 3 6 3-18 3-6 3 9 3 8 3-3 3 2 3-9 3 19 3-13 3-7 3 25 3-35 3 24 3-22 3 35 3 2 3-19 3 18 3-11 3 27 3-11 3-30 3 48 3-20 3 8 3 16 3 49 3-53 3 19 3-79 3 38 3-21 3 44 3-94 3 87 3-46 3 56 3-64 3-15 3-16 3 5 3 20 3 43 3-91 3 115 3 6 3-79 3 55 3-139 3 1 3 2 3 8 3 51 3-30 3 95 3-27 3 7 3 20 3-10 3 21 3-35 3 14 3-112 3-20 3 12 3 20 3 79 3 51 3-97 3 17 3-61 3 92 3 27 3-53 3 116 3-155 3 4 3 36 3 62 3-4 3 26 3-43 3-25 3 67 3 1 3-22 3 44 3-6 3-61 3 30 3 32 3 5 3-33 3 29 3 8 3 21 3-29 3-8 3 10 3-30 3 11 3-1 3-6 3 51 3-31 3-22 3 1 3 23 3 23 3-51 3-12 3 5 3 16 3-21 3 20 3-8 3-26 3-11 3-45 3-71 3-25 3-1 3 55 3-17 3 126 3 28 3 25 3 36 3-3 3-42 3-24 3 3 3-6 3-20 3-10 3-17 3-4 3-109 3-40 3 50 3 75 3 57 3 67 3 16 3-17 3-15 3-17 3 15 3-30 3 41 3-8 3-15 3 44 3-15 3-56 3 44 3 4 3 4 3-23 3 2 3-1 3-36 3 50 3-3 3-7 3-25 3 26 3-4 3-1 3-2 3-7 3-1 3-3 3-7 3 25 3-17 3 15 3-4 3-5 3 3 3-37 3-12 3-14 3 39 3-8 3-17 3 10 3 18 3 9 3-30 3 41 3-10 3 22 3-29 3-2 3 25 3 5 3-35 3 18 3-10 3-44 3 19 3-11 3 13 3 7 3 41 3-27 3 22 3-6 3 31 3-5 3 19 3-8 3-42 3 11 3-31 3-5 3 2 3 0 3-5 3-17 3-28 3 12 3 8 3-14 3-2 3 2 3-18 3 50 3-50 3 3 3-11 3-26 3-22 3-44 3-52 3-81 3-105 3-27 3 126 3 206 3 120 3-21 3-5 3-23 3 39 3 5 3-7 3 14 3 5 3-31 3 22 3-14 3-3 3 16 3 12 3-10 3-41 3 52 3-38 3 5 3 24 3-16 3-31 3 19 3 2 3-1 3 9 3-14 3-3 3-5 3-11 3 21 3-7 3 25 3-3 3-8 3-14 3-3 3 16 3 0 3-25 3 14 3-15 3 19 3-15 3 13 3-16 3 20 3 19 3-11 3-12 3 27 3-18 3 8 3-13 3 25 3-28 3 11 3 7 3 0 3-40 3 36 3 20 3-29 3-5 3 5 3 7 3 3 3 4 3 9 3-28 3 8 3 20 3-5 3-21 3 33 3 10 3-48 3-7 3 19 3 4 3 6 3-7 3 6 3-10 3 0 3-10 3 16 3 5"/>
<path stroke="#bfbf00" d="M0 1169l3-21 3 0 3 10 3-7 3 12 3-2 3-33 3-23 3 28 3-10 3 22 3-30 3 42 3 5 3-43 3 34 3-28 3 16 3 5 3-30 3 13 3 1 3 8 3-9 3 12 3-3 3 12 3-52 3 25 3-43 3 6 3 7 3-7 3-19 3 25 3-48 3 2 3-27 3 70 3 159 3 62 3-127 3-104 3 46 3-50 3-8 3 14 3 26 3-2 3 36 3-44 3 31 3-36 3 70 3-9 3-13 3 13 3-28 3 31 3-36 3 18 3-8 3 26 3-11 3 17 3-1 3-24 3 42 3-41 3-5 3-10 3-3 3 19 3 40 3-27 3 1 3 7 3 1 3-47 3 50 3-24 3-27 3 15 3-4 3 9 3 3 3-22 3 8 3-30 3 28 3 18 3-59 3 66 3-15 3-26 3 4 3 12 3 3 3-17 3 46 3 44 3-101 3-25 3 39 3-47 3 57 3 18 3-23 3-27 3 33 3-17 3-77 3-18 3-59 3 84 3-1 3 90 3 0 3 2 3-40 3 68 3-49 3 17 3-45 3-2 3-74 3 60 3 16 3 35 3-18 3-39 3-21 3 2 3 103 3-8 3-5 3-36 3-14 3 36 3-23 3 53 3 6 3-24 3 46 3-4 3-37 3-7 3-7 3 27 3 20 3-18 3-21 3 31 3-4 3-26 3 55 3-20 3-9 3 31 3-15 3-13 3-3 3 11 3-13 3 18 3 0 3-14 3 0 3 21 3-21 3 7 3 1 3-20 3 2 3-24 3 11 3 4 3-12 3 7 3-35 3-39 3-63 3-40 3 32 3-4 3-16 3 83 3 86 3 23 3 7 3 5 3-4 3-16 3 26 3-70 3 18 3-13 3 0 3-48 3-68 3-58 3-17 3 70 3 133 3 44 3 16 3-20 3-11 3 33 3 5 3-20 3-13 3 31 3 14 3-41 3 2 3 51 3-45 3 13 3-8 3 6 3-2 3-21 3 0 3-12 3 5 3-11 3 19 3-32 3 40 3-38 3 14 3 13 3-20 3 10 3 36 3-52 3 15 3-4 3-27 3 33 3-35 3 23 3-8 3 21 3-36 3 4 3 24 3-7 3 8 3-11 3 18 3-32 3 11 3 12 3-18 3 26 3-6 3-8 3 15 3-19 3-9 3 10 3-41 3 22 3-2 3 9 3 12 3 11 3 9 3-3 3-28 3 24 3 38 3-53 3 5 3-15 3-17 3 43 3-28 3-15 3 28 3-6 3-30 3 3 3 4 3-33 3 0 3 11 3 21 3-12 3-30 3 14 3 1 3-18 3-51 3-16 3-64 3-86 3-93 3-15 3 114 3 179 3 157 3 9 3-39 3 23 3-8 3-15 3 21 3-10 3-12 3 8 3-24 3 33 3-10 3-13 3-22 3 13 3 14 3-12 3-23 3 44 3 7 3-46 3 12 3-32 3 12 3 15 3 25 3-6 3-16 3 19 3-28 3 12 3-5 3 8 3 4 3 3 3-5 3 2 3-20 3 14 3 29 3-14 3-9 3-13 3-2 3 25 3-11 3 8 3 4 3-5 3-18 3 14 3-2 3-4 3 16 3-2 3 10 3-33 3 16 3 0 3 2 3-13 3 27 3-34 3 34 3-24 3 4 3 23 3-32 3 15 3 0 3-10 3 14 3-35 3 39 3-17 3 24 3-13 3-8 3 21 3-9 3 22 3-18 3 19 3-20 3 28 3-65 3 35 3-9 3 12 3-18"/>
<path stroke="#404040" d="M0 1180l3 7 3-17 3 26 3-53 3 22 3 5 3-28 3 49 3-35 3 16 3-54 3 41 3-23 3 33 3 21 3-43 3 4 3 21 3-22 3-12 3 21 3-1 3-12 3-32 3 62 3-22 3-20 3 5 3 6 3-25 3-4 3 5 3-44 3 28 3-78 3 15 3-7 3-70 3-67 3 103 3 110 3 207 3-17 3-133 3-65 3-1 3 25 3-10 3-17 3 47 3-8 3-7 3 13 3-1 3 5 3 10 3-36 3 22 3 7 3 0 3-14 3 21 3-13 3-21 3 29 3 20 3-30 3 15 3 16 3-3 3 6 3-43 3 43 3-9 3-32 3 56 3-38 3-8 3 6 3 31 3-7 3-2 3-32 3-2 3 19 3 34 3-79 3 65 3-38 3 32 3-8 3-59 3 40 3 80 3-96 3 0 3 56 3 5 3 14 3-60 3 32 3-53 3 25 3 10 3-4 3-37 3 18 3 13 3 44 3-27 3-52 3-18 3-21 3-46 3 33 3-87 3 56 3 23 3 43 3 24 3-6 3 84 3-19 3-45 3 79 3-96 3 14 3-2 3-79 3 97 3-29 3-50 3 41 3-19 3 9 3 45 3 37 3-13 3-86 3-5 3 19 3 86 3-9 3-21 3 2 3 41 3-7 3-69 3 9 3 37 3-17 3 45 3 5 3-4 3 33 3-13 3-8 3 1 3 16 3-56 3 15 3 31 3-25 3 3 3-11 3 5 3 20 3-34 3 23 3-1 3-22 3 45 3-58 3-7 3 29 3-1 3-19 3 5 3-1 3-10 3-10 3-87 3 1 3-79 3 1 3 24 3 31 3 70 3 28 3 32 3 52 3 11 3-66 3-9 3-20 3 41 3-30 3-9 3-5 3-27 3-39 3-64 3-85 3 13 3 109 3 91 3 54 3 3 3-14 3 5 3 7 3 12 3-12 3-38 3 64 3-25 3 8 3-27 3 20 3-34 3 12 3 4 3 1 3-20 3 33 3-31 3 6 3-1 3 12 3-6 3-4 3 22 3-55 3 34 3-11 3 21 3-16 3 4 3-15 3 17 3-12 3 3 3 7 3 10 3-28 3-48 3 32 3-6 3 16 3 4 3 17 3-1 3-15 3 23 3-18 3-9 3-6 3 16 3 8 3 5 3-16 3 26 3-45 3-7 3 33 3-31 3-43 3 7 3 31 3 29 3-11 3 43 3 4 3-6 3 11 3-20 3 5 3-10 3-7 3-4 3-17 3 18 3-1 3-43 3 37 3-15 3-21 3 10 3-19 3 16 3-10 3-2 3-12 3 13 3-2 3-25 3 31 3-68 3-38 3-35 3-95 3-73 3-20 3 94 3 208 3 104 3-26 3-30 3-15 3 38 3 18 3 21 3-41 3 58 3-34 3 7 3-38 3 44 3-45 3 16 3 3 3 4 3-10 3 44 3-18 3-21 3-3 3 1 3 8 3-1 3-11 3 11 3-3 3 7 3 14 3-6 3-6 3 3 3 19 3-33 3 17 3 5 3-57 3 46 3-9 3 7 3 36 3-25 3-16 3 21 3-32 3 1 3 21 3-7 3-5 3 9 3 20 3-8 3-32 3 34 3-26 3 23 3-17 3-3 3 16 3-16 3 29 3-19 3-4 3-13 3 26 3-2 3-22 3 21 3 31 3-42 3 11 3-12 3 14 3 22 3-34 3 34 3-13 3-17 3 22 3-16 3 10 3 4 3-35 3 36 3-13 3-2 3-6 3-9"/>
<path stroke="#0000ff" d="M0 1139l3-1 3 8 3 11 3-14 3 3 3-12 3 29 3-41 3 31 3-4 3-15 3-4 3-12 3-13 3 6 3 16 3-45 3 35 3-2 3-8 3 37 3-53 3 31 3 31 3-20 3-23 3-10 3 14 3-28 3 20 3-65 3-21 3 50 3-81 3-7 3-7 3-43 3-38 3 108 3 164 3-6 3-110 3 7 3-24 3 13 3-17 3 49 3 25 3-13 3 7 3 11 3-2 3 29 3-23 3 3 3-15 3 48 3-19 3 11 3-3 3-10 3-3 3 32 3-54 3 25 3 22 3-37 3 21 3 21 3-57 3 20 3-25 3 51 3-6 3-27 3 16 3-14 3 11 3 2 3 41 3-21 3-21 3-26 3 74 3-14 3 0 3-20 3-30 3 36 3-31 3 29 3-43 3 4 3-36 3 65 3-4 3-27 3-8 3 42 3 3 3 3 3-47 3 3 3 0 3-41 3 56 3 0 3-10 3 36 3-78 3 13 3-44 3-43 3-10 3 70 3 69 3 42 3-16 3-46 3 40 3-27 3 13 3 7 3-18 3 10 3-10 3-93 3 63 3 71 3 0 3-60 3-46 3 13 3 37 3-3 3 30 3 42 3-70 3 41 3-30 3 41 3-36 3 16 3 27 3 1 3 36 3-69 3 59 3-64 3-24 3 49 3 2 3 2 3-5 3 31 3 17 3-42 3 17 3-6 3 3 3 9 3-6 3-13 3-6 3-6 3 2 3 56 3-29 3-29 3 7 3 23 3-26 3-26 3 19 3 10 3 5 3 3 3-17 3 6 3-19 3-66 3-65 3-58 3 18 3 25 3 21 3 49 3 99 3-23 3 32 3-39 3 15 3-10 3 0 3-5 3-20 3 14 3-11 3-51 3-33 3-82 3 6 3 87 3 40 3 99 3-14 3 9 3 27 3-28 3 25 3 8 3-3 3-2 3 1 3-5 3-5 3-20 3 27 3-21 3 3 3 5 3 5 3-42 3 17 3 11 3-4 3 14 3-8 3-10 3-26 3 18 3 14 3 1 3-20 3 8 3-8 3 1 3 3 3-13 3 19 3-16 3 18 3-9 3 7 3-43 3 6 3 9 3 22 3 20 3-40 3 1 3 28 3 2 3 6 3-7 3 6 3-35 3 27 3-25 3 29 3-16 3 4 3-20 3-11 3-8 3-11 3 26 3 9 3-5 3 16 3 24 3 19 3-6 3 27 3-21 3-32 3-1 3-12 3-16 3-13 3-4 3 23 3 15 3-16 3-25 3-21 3-25 3 26 3-4 3 2 3 17 3 5 3-9 3 2 3-44 3-20 3-60 3-17 3-57 3-69 3-60 3 93 3 174 3 169 3-37 3-43 3-19 3 4 3 19 3 18 3-20 3-11 3 7 3 14 3-13 3 47 3-4 3-48 3 41 3-10 3-16 3-13 3 23 3 9 3-3 3 28 3-12 3-22 3 28 3-26 3 32 3-40 3 13 3 17 3-2 3-35 3 36 3-9 3 17 3-15 3 12 3-35 3 27 3 8 3-12 3 33 3-16 3 1 3 5 3-8 3-20 3-22 3 23 3 9 3 11 3-23 3 11 3 1 3 26 3-12 3-11 3 18 3 1 3 2 3-22 3-19 3 16 3 5 3-8 3 7 3-25 3 52 3-14 3 0 3-2 3 11 3-7 3-21 3 2 3-24 3 25 3-5 3 27 3-4 3-29 3 24 3-19 3 7 3-9 3-2 3 10 3-21 3 26 3-13"/>
<path stroke="#008000" d="M0 1162l3 8 3-18 3 49 3-36 3 17 3-5 3-17 3 15 3 2 3-6 3 10 3 1 3-32 3-1 3 6 3 24 3-30 3 32 3-18 3-25 3 26 3-14 3-9 3 47 3-16 3-40 3 21 3-16 3 8 3 10 3-16 3-14 3-13 3-20 3 1 3-24 3-30 3-27 3 15 3 30 3 149 3 103 3-135 3-33 3 4 3 9 3-64 3 29 3 1 3 13 3 37 3-44 3 37 3-32 3 24 3-7 3-7 3 1 3 26 3-7 3-27 3 30 3-12 3-12 3 22 3 4 3-12 3-12 3-15 3 20 3 3 3 23 3-21 3 7 3-21 3 40 3-32 3 28 3-43 3 47 3-44 3 15 3-17 3 9 3 8 3-32 3 14 3 49 3 40 3-88 3 51 3 35 3-20 3-70 3 25 3 14 3-63 3 32 3-40 3 31 3 37 3-9 3-25 3 30 3-31 3 24 3-7 3 21 3-74 3 17 3 16 3 10 3-67 3-22 3-76 3 49 3 56 3-3 3 64 3 49 3-74 3 35 3 1 3-44 3-18 3 28 3-50 3-29 3 45 3 44 3-48 3 18 3-40 3 10 3 18 3 44 3 6 3 59 3-1 3-74 3 16 3 12 3-5 3 35 3 33 3-75 3 63 3-83 3-11 3 70 3-19 3-3 3 6 3 3 3-36 3 76 3-30 3 34 3-36 3-3 3 3 3 31 3-14 3-19 3 19 3-9 3 27 3-44 3 11 3 3 3 12 3 8 3-25 3 7 3 4 3-12 3 11 3-3 3-25 3-17 3-6 3-76 3-47 3-24 3 27 3 15 3 20 3 45 3 44 3 64 3-6 3-34 3 4 3 14 3-21 3 12 3-1 3-14 3-58 3-18 3-30 3-128 3-8 3 97 3 85 3 108 3-9 3 15 3-14 3-21 3-5 3-6 3 21 3-6 3 3 3-20 3 32 3-2 3-17 3 4 3-6 3 4 3 20 3-25 3 14 3 29 3-45 3 33 3 2 3-31 3-2 3 7 3 0 3 1 3-11 3 11 3-2 3 3 3 7 3 8 3-19 3-12 3 10 3-32 3 7 3-15 3-10 3 5 3 29 3 8 3-7 3 23 3-23 3-8 3-1 3 31 3-2 3 3 3 19 3-24 3-9 3 7 3-5 3-7 3-21 3-2 3 10 3-6 3 44 3-6 3 13 3-31 3 61 3 17 3 11 3-29 3-30 3 41 3-57 3 10 3-3 3 4 3 19 3-45 3 27 3-36 3-14 3 20 3-6 3-17 3 2 3-12 3-7 3 16 3-16 3-17 3-12 3-30 3-34 3-103 3-81 3-56 3 5 3 137 3 193 3 105 3-50 3-30 3 1 3-6 3 36 3-4 3-6 3 2 3 16 3-6 3 1 3-21 3-20 3 11 3 9 3 7 3 0 3-22 3 30 3 3 3-20 3 31 3-19 3-29 3 30 3-13 3 8 3-3 3 16 3-14 3 13 3-11 3-17 3 21 3-38 3 1 3 21 3-5 3-11 3 44 3-39 3-4 3 23 3-16 3 19 3 9 3-11 3-4 3-16 3 41 3 2 3-34 3-6 3 6 3-11 3 31 3-22 3 33 3-30 3 13 3 5 3-8 3-4 3-6 3 7 3 10 3-1 3 4 3-4 3 25 3-21 3 20 3-11 3-17 3 1 3-1 3-10 3 16 3-27 3 18 3 12 3-30 3 12 3-9 3 23 3-22 3 8 3 25"/>
<path stroke="#ff0000" d="M0 1136l3 4 3-12 3 25 3-1 3-9 3-7 3 34 3-19 3 0 3 6 3 19 3 29 3-53 3-8 3 44 3-4 3 2 3-78 3 11 3 12 3-7 3 52 3-22 3-10 3 3 3-5 3-44 3 21 3-5 3 7 3-38 3-15 3 14 3-39 3 4 3-28 3-100 3 74 3 69 3 124 3 117 3-100 3-50 3-15 3-50 3 34 3 17 3 0 3 25 3-15 3 33 3-34 3 3 3-14 3 42 3-7 3-20 3-1 3 12 3 9 3-29 3 24 3-24 3 40 3 8 3-35 3 22 3 16 3-17 3-38 3-3 3 35 3-37 3 33 3-16 3 17 3 21 3-22 3-9 3 3 3 16 3-35 3 62 3-65 3 36 3-22 3 24 3-21 3 37 3-50 3 18 3-33 3 38 3-76 3 32 3 6 3 25 3 26 3-26 3-21 3 55 3-53 3-33 3 14 3 45 3-15 3-37 3-44 3 56 3-13 3-49 3-8 3 32 3-34 3 11 3 9 3 32 3-15 3 54 3 15 3 32 3-77 3 11 3 27 3 6 3-58 3-9 3 7 3 30 3-16 3 53 3 0 3-20 3-10 3 28 3-31 3-24 3-39 3 51 3-16 3 7 3 97 3-51 3-40 3 29 3-16 3-67 3 50 3 65 3-47 3 85 3-9 3-34 3 15 3-22 3-5 3 8 3 2 3 27 3 3 3 12 3-50 3 12 3-10 3 53 3-8 3-31 3 19 3-6 3-9 3-26 3 8 3 27 3 5 3-32 3 1 3-20 3 19 3 8 3-56 3 3 3-82 3-74 3 41 3 5 3 37 3 69 3 40 3 12 3 7 3 5 3-6 3-10 3 10 3-3 3-56 3 38 3-10 3-59 3-13 3-56 3-30 3 36 3 80 3 71 3 32 3-21 3 9 3-25 3 41 3-35 3-4 3 37 3 0 3-19 3-35 3 55 3 8 3-47 3 18 3 23 3 25 3-2 3-39 3 16 3-24 3-28 3 32 3 18 3-30 3 46 3-23 3 9 3-12 3-2 3-15 3-13 3 28 3-8 3-12 3 3 3 3 3-9 3-20 3 20 3-1 3-29 3 15 3 4 3 28 3 15 3-58 3 45 3-8 3-34 3 8 3 52 3-5 3-40 3 5 3 9 3-3 3-9 3-3 3-29 3 29 3 2 3 3 3-22 3 16 3 26 3-19 3 46 3 7 3-63 3 21 3-22 3 30 3-17 3-3 3 16 3-24 3-12 3-4 3 14 3-2 3-26 3 12 3-52 3 27 3 4 3-21 3-1 3 23 3-28 3-9 3-76 3-41 3-40 3-91 3-75 3 68 3 131 3 149 3 32 3 19 3-41 3 21 3 29 3 4 3-37 3 40 3 11 3-26 3 3 3-1 3-14 3 34 3-18 3 29 3-13 3-21 3-11 3-2 3 19 3-11 3 5 3 12 3 3 3-26 3 11 3-14 3 25 3-30 3 79 3-29 3-19 3 12 3-16 3-15 3-6 3 11 3-13 3 16 3 34 3-53 3 31 3-10 3-2 3 13 3 4 3-5 3-3 3 29 3-26 3-16 3 5 3-8 3 35 3-26 3-20 3 44 3-5 3-8 3-37 3-10 3 32 3 20 3-15 3-2 3 0 3-2 3 6 3-24 3 25 3-19 3 41 3-17 3-19 3 26 3-14 3 12 3-26 3 3 3 17 3 25 3-19 3-23 3 26 3-14 3-12 3 24 3-16 3 26"/>
</g>
<g stroke="#000" fill="none">
<path stroke-width="2" d="M0.0 660.3H590.0"/>
<path stroke-width="1.7" d="M82.8 660V654.3M156.3 660V654.3M229.9 660V654.3M303.4 660V654.3M376.9 660V654.3M450.5 660V654.3M524.0 660V654.3"/>
</g>
<text class="tk" x="157.5" y="689.4" text-anchor="middle">4</text>
<text class="tk" x="304.6" y="689.4" text-anchor="middle">3</text>
<text class="tk" x="451.7" y="689.4" text-anchor="middle">2</text>
<text class="lb" x="146.7" y="731.7" textLength="317.4" lengthAdjust="spacingAndGlyphs">Frequency (ppm)</text>
<text class="it" x="83.3" y="100.7" textLength="361.5" lengthAdjust="spacingAndGlyphs">Before removal of</text>
<text class="it" x="83.3" y="155.2" textLength="344.5" lengthAdjust="spacingAndGlyphs">motion-corrupted</text>
<text class="it" x="83.3" y="209.7" textLength="190.0" lengthAdjust="spacingAndGlyphs">averages</text>
<g class="sp" transform="scale(.5)">
<path stroke="#0000ff" d="M3432 1143l3-14 3 41 3-26 3 48 3-66 3 6 3 27 3-1 3-8 3 13 3-18 3-12 3 32 3-20 3 16 3-40 3 54 3-20 3-16 3 3 3 13 3-19 3 12 3-19 3 31 3-17 3-29 3-11 3-5 3 36 3-75 3 36 3-50 3 11 3 11 3-62 3-36 3-55 3 70 3 105 3 169 3 3 3-151 3-32 3-21 3 10 3-19 3 23 3 39 3-5 3-14 3 9 3 2 3 16 3-8 3 5 3-13 3 14 3-25 3 33 3-16 3-15 3 50 3-15 3-29 3 26 3 0 3-36 3 5 3 22 3 16 3-22 3 23 3-40 3 47 3 4 3 9 3-27 3-24 3 25 3-23 3 14 3 0 3 0 3 8 3 12 3-29 3-1 3-10 3 19 3-21 3 22 3-48 3 42 3 23 3-53 3 40 3-11 3 6 3-7 3 69 3-61 3-30 3 11 3-17 3 33 3-12 3-12 3 16 3 32 3-90 3-27 3-16 3 2 3 66 3-15 3 22 3 2 3 33 3 55 3-8 3-35 3-68 3 57 3-57 3-10 3-9 3 34 3 50 3-33 3-53 3 49 3-32 3 19 3 24 3-2 3 38 3-109 3 19 3 14 3 16 3 64 3-28 3 38 3-10 3-27 3-16 3 35 3 19 3-1 3-35 3 31 3 48 3-67 3 5 3 36 3 7 3-15 3-22 3 22 3 20 3-46 3-16 3 44 3-13 3 9 3 0 3 12 3-11 3-14 3 10 3 39 3-13 3-15 3-19 3-8 3-17 3-1 3 37 3-43 3-63 3-59 3-6 3 10 3 8 3 16 3 59 3 24 3 75 3-4 3-45 3 16 3 17 3-31 3 14 3-14 3-8 3-27 3-29 3-3 3-56 3-68 3-23 3 85 3 121 3 43 3-7 3-26 3-8 3-1 3-5 3-26 3 48 3 7 3-26 3 17 3-20 3 31 3 1 3-7 3 5 3-7 3-21 3 31 3-4 3-23 3 15 3-6 3-10 3-3 3 10 3 6 3 19 3-27 3-11 3 3 3 33 3-31 3-6 3 4 3 17 3-14 3 4 3-45 3-22 3 16 3 27 3 0 3-13 3 18 3-12 3 35 3-27 3 16 3-10 3-10 3 10 3-25 3 26 3-2 3 22 3-28 3 23 3-38 3 7 3-14 3 16 3 14 3 12 3-1 3-21 3 35 3 8 3-4 3-15 3 7 3 9 3 2 3-46 3 26 3-27 3-10 3 5 3-28 3 6 3 14 3-14 3-8 3 19 3-35 3 12 3-5 3 14 3-7 3-9 3-34 3-14 3-68 3-75 3-68 3-52 3 13 3 167 3 234 3 79 3-57 3-21 3-2 3-27 3 21 3 0 3 21 3-9 3 10 3-32 3 21 3-32 3 24 3-19 3 10 3 8 3-18 3 6 3 7 3-16 3 1 3 21 3-36 3 18 3 29 3-39 3 12 3 13 3-2 3-19 3-4 3 31 3-14 3 11 3-30 3 32 3-4 3-17 3-15 3 12 3-6 3 11 3 6 3-9 3 6 3-9 3 15 3-19 3-1 3-2 3 8 3 20 3-16 3 6 3-8 3-1 3 4 3-17 3 0 3 18 3-5 3 30 3-33 3 12 3-25 3-12 3 40 3-7 3 8 3-1 3-23 3 17 3 2 3-6 3-12 3 4 3 37 3-29 3 8 3-20 3 14 3-4 3 11 3-16 3 31 3-27 3 19 3-2 3-17 3 25"/>
<path stroke="#008000" d="M3432 1143l3 43 3-56 3 8 3 30 3-17 3-7 3-37 3 39 3 15 3-2 3-10 3 1 3-13 3-30 3 32 3 3 3 3 3-30 3 17 3 11 3-54 3 28 3-8 3 20 3-10 3 3 3 10 3-46 3 30 3-16 3-17 3-13 3-4 3-17 3-15 3-35 3-34 3-45 3-137 3 101 3 255 3 112 3-132 3-33 3-26 3 13 3 12 3-14 3 1 3 1 3 27 3-24 3 5 3 4 3-4 3 17 3 15 3 1 3-10 3-17 3 20 3 2 3 19 3 14 3-14 3-7 3-56 3 34 3 48 3-55 3 33 3 6 3-11 3 4 3-11 3-14 3 8 3 43 3-35 3 3 3 17 3-26 3 56 3-12 3-31 3 40 3-41 3 44 3-75 3 79 3-73 3 24 3 38 3-30 3-11 3-23 3 43 3 15 3-72 3 67 3-69 3 84 3-35 3-49 3 10 3 56 3-36 3 40 3-48 3 15 3-16 3-21 3-77 3-18 3 49 3 48 3 41 3-27 3 10 3 18 3 32 3-80 3 33 3 18 3-42 3-2 3 19 3-2 3 19 3-1 3-7 3-43 3 18 3 26 3 34 3-2 3-79 3 2 3 47 3-13 3 26 3-2 3 37 3-62 3 14 3 53 3-34 3-20 3 2 3 26 3-10 3-12 3-2 3 16 3-19 3 14 3 12 3-37 3 16 3 36 3-20 3 3 3-27 3 57 3-26 3-31 3 11 3-26 3 23 3 22 3-29 3-11 3 18 3-20 3 10 3 27 3-40 3 44 3-29 3-18 3-3 3-93 3-52 3-49 3 27 3-11 3 32 3 112 3 40 3-9 3 10 3 14 3-9 3 21 3-3 3-27 3 0 3-18 3-12 3-37 3-1 3-128 3-23 3 36 3 59 3 69 3 20 3 41 3-20 3 28 3 5 3 21 3-37 3-2 3 26 3-13 3-6 3 25 3-17 3-31 3 25 3 34 3-10 3-17 3-18 3 32 3-27 3-16 3 27 3 5 3-2 3-27 3-10 3 1 3 24 3 7 3-14 3-7 3 9 3-5 3 32 3-10 3-10 3-3 3 0 3-26 3-13 3-5 3 35 3-13 3 42 3 7 3-53 3 22 3-6 3 43 3-32 3 6 3 24 3-33 3 10 3 9 3-6 3-19 3-26 3 21 3 6 3-11 3 36 3-6 3 13 3 1 3 30 3 5 3-4 3-6 3-25 3-6 3 4 3-4 3 8 3-15 3-35 3 4 3 7 3 12 3-25 3-21 3 7 3-8 3 18 3-7 3 23 3-8 3-6 3 3 3-29 3-62 3-38 3-82 3-17 3-107 3 39 3 143 3 155 3 68 3-6 3-17 3 0 3-23 3 27 3-8 3 6 3-22 3 14 3 6 3 5 3-8 3-5 3-8 3 8 3-1 3 19 3-1 3-12 3 6 3 20 3-79 3 40 3 8 3-10 3 15 3-28 3 29 3-15 3-17 3 10 3-10 3 31 3-36 3 12 3-2 3 14 3 10 3-2 3-11 3-2 3 7 3 9 3-12 3 3 3 0 3 8 3-1 3-21 3 15 3-20 3 11 3 5 3 13 3-9 3 8 3-27 3 31 3-11 3-1 3 5 3-15 3 4 3-5 3 23 3-10 3 8 3-7 3 5 3 2 3-17 3-6 3 13 3 4 3 20 3-10 3-19 3 2 3 1 3-4 3-11 3 36 3-25 3 8 3 4 3-5 3-8 3-7 3 22"/>
<path stroke="#ff0000" d="M3432 1123l3-1 3 67 3-7 3-23 3-13 3 1 3 8 3-17 3 21 3-8 3-14 3-8 3 3 3 3 3 24 3-4 3-23 3 9 3 33 3-51 3-16 3 8 3 21 3-34 3 41 3-41 3 19 3 4 3 2 3-49 3 26 3-36 3 7 3-7 3-42 3 0 3-52 3-39 3 34 3 107 3 139 3 47 3-105 3-76 3-28 3-16 3 20 3-1 3 14 3 14 3 6 3 21 3-11 3-4 3-30 3 49 3-42 3 22 3-14 3 29 3-3 3-14 3 34 3-34 3 7 3 5 3 22 3-39 3 12 3 32 3-33 3-1 3 28 3-23 3 30 3-29 3-2 3 8 3-6 3 50 3-27 3 21 3-19 3 7 3 8 3-30 3-10 3 6 3 28 3-60 3-3 3 8 3 69 3-74 3 8 3 14 3 2 3 80 3-22 3-89 3 82 3-65 3 31 3 17 3-78 3 60 3 16 3-20 3 25 3-81 3 20 3-65 3-35 3-36 3 61 3 20 3 16 3 75 3-56 3 114 3-133 3 60 3 86 3-116 3-70 3 50 3-87 3 127 3-42 3 23 3 25 3 23 3 7 3-50 3 18 3 31 3-74 3 25 3 14 3-37 3 34 3 57 3-70 3 5 3 51 3 55 3-72 3-20 3 22 3 47 3-4 3-16 3 12 3 50 3-42 3 16 3-53 3 35 3-37 3 20 3-5 3 14 3-6 3-25 3 41 3-25 3 7 3-12 3 27 3-17 3-10 3-19 3 54 3-42 3 18 3 0 3-16 3 5 3-33 3-8 3-68 3-7 3-107 3 15 3 96 3-53 3 59 3 43 3 34 3 43 3-4 3-2 3-36 3 45 3-37 3-30 3 3 3-3 3-25 3-63 3-69 3-32 3 4 3 119 3 82 3 68 3-34 3-12 3 11 3-3 3 20 3 14 3-37 3-22 3 35 3 9 3-38 3 4 3 3 3 23 3-29 3 0 3 0 3 10 3 16 3-26 3 26 3-11 3 2 3 5 3 1 3-34 3 32 3-13 3 12 3-9 3-16 3 10 3 11 3 7 3-2 3 1 3-10 3 26 3-26 3-47 3 19 3 16 3 2 3 3 3 39 3-21 3-6 3 9 3-14 3 2 3 17 3-22 3 0 3 27 3-20 3-10 3-31 3 29 3 2 3-38 3 26 3 4 3 22 3-5 3 6 3 12 3 51 3-6 3-33 3-15 3-16 3-8 3-2 3 18 3 10 3-13 3 20 3-47 3 40 3-28 3-5 3-15 3 17 3-23 3 36 3-22 3-24 3 5 3 9 3-42 3-7 3-48 3-74 3-67 3-90 3-40 3 117 3 206 3 215 3-42 3-40 3-47 3 25 3 2 3-13 3 25 3-18 3-6 3 22 3-7 3-1 3-10 3 19 3 5 3-33 3 17 3-18 3 6 3 0 3 0 3 5 3-41 3 30 3 3 3-15 3 7 3-8 3 2 3 8 3-24 3 33 3-4 3 19 3-7 3-34 3 21 3-26 3 18 3 27 3-39 3 25 3-6 3 18 3-11 3 6 3-21 3-9 3 2 3-8 3 3 3-10 3 3 3-2 3 16 3-4 3 22 3-16 3 4 3-26 3 8 3 5 3 22 3-42 3 3 3 10 3-4 3-17 3 25 3 2 3-5 3 1 3 9 3-11 3-35 3 60 3-14 3-5 3 0 3-3 3-8 3 20 3-11 3-3 3 13 3-17 3 4 3-16 3 27 3-1"/>
<path stroke="#00bfbf" d="M3432 1132l3-13 3-8 3 32 3 16 3-15 3-10 3-11 3 21 3-19 3 15 3-29 3 22 3 17 3-14 3-15 3 17 3-15 3 40 3-14 3-35 3 10 3-25 3 75 3-49 3-39 3 31 3 13 3-40 3 6 3-17 3 11 3-20 3-3 3-54 3 28 3-41 3-21 3-39 3-45 3 68 3 72 3 214 3-19 3-122 3-48 3-18 3 30 3-7 3 19 3-7 3 1 3 4 3 41 3-22 3-8 3 9 3-12 3 31 3-22 3 35 3 11 3-43 3 4 3 1 3 8 3 10 3-18 3 2 3 27 3 12 3-33 3 2 3 31 3-38 3 25 3 8 3 1 3-35 3 39 3 4 3-20 3 25 3-28 3 40 3-83 3 35 3 30 3-27 3 1 3 41 3-41 3 16 3-31 3 16 3-5 3 35 3-57 3 59 3-30 3 11 3 8 3-41 3-24 3-8 3 29 3-42 3 88 3-62 3 43 3-66 3-42 3 3 3-40 3-20 3 50 3 11 3 52 3 30 3 47 3-24 3 50 3-73 3 38 3-39 3 59 3-69 3 4 3 4 3 11 3-35 3 48 3 8 3-50 3-53 3 40 3 38 3-17 3 24 3 10 3-52 3 50 3-39 3 100 3-81 3 6 3 73 3-27 3-37 3-40 3 39 3 39 3-12 3-11 3 1 3 22 3 6 3-40 3 40 3 8 3-20 3 18 3 13 3-32 3 14 3-34 3 38 3-9 3 27 3-42 3-7 3 27 3-26 3-9 3 26 3-4 3-1 3-2 3-8 3-27 3-7 3-13 3-17 3-83 3-93 3-4 3 55 3 25 3 49 3 40 3 32 3 42 3-21 3 4 3 10 3-35 3 1 3 7 3-14 3-12 3-67 3 34 3-103 3-90 3 99 3 81 3 73 3 54 3 10 3-33 3 22 3 13 3-42 3 13 3-1 3-28 3 39 3 7 3-28 3 35 3-4 3-50 3 40 3-22 3 3 3-23 3 12 3 12 3-9 3 35 3-38 3 19 3-11 3-12 3 52 3-32 3-41 3 37 3 9 3-30 3 14 3 16 3-12 3-5 3-4 3-1 3-21 3-11 3 21 3 13 3 5 3-1 3 7 3 3 3-24 3 10 3 20 3 0 3-15 3-6 3 17 3-1 3-20 3 9 3-9 3-20 3-42 3-7 3 43 3 21 3 10 3 8 3-1 3-2 3 25 3 2 3-11 3 2 3-7 3-27 3 9 3-14 3 0 3-3 3 6 3 6 3-29 3 11 3-26 3 30 3-17 3-11 3 19 3 12 3-9 3-31 3 12 3-41 3-15 3-49 3-43 3-91 3-97 3 23 3 136 3 209 3 134 3-112 3-9 3-15 3 12 3 2 3 1 3 3 3-7 3-14 3 8 3 12 3-8 3-6 3 10 3 2 3-6 3 32 3-43 3-10 3 36 3-32 3 9 3-16 3 53 3-32 3-6 3 14 3-16 3 29 3-46 3 50 3-3 3-17 3 2 3 6 3 5 3-7 3 18 3-8 3 4 3-12 3-7 3-6 3 3 3-1 3 22 3-31 3 35 3 3 3-49 3 31 3-7 3 0 3 4 3 7 3-17 3-19 3 23 3 21 3-15 3-10 3 0 3 20 3-10 3 13 3 5 3 2 3-33 3 16 3 12 3-28 3 13 3 12 3-24 3 30 3-31 3 14 3 1 3-3 3-8 3 12 3-7 3-1 3 23 3-17 3-6 3-3 3-7 3 13"/>
<path stroke="#bf00bf" d="M3432 1119l3 0 3-14 3-18 3 40 3-38 3-5 3 9 3 4 3 15 3 19 3-27 3 19 3 20 3-12 3-11 3 19 3-63 3 7 3 34 3 20 3 13 3-33 3-23 3-8 3 27 3-12 3-38 3 20 3-12 3 13 3-30 3-31 3 7 3-5 3-40 3-33 3-34 3-17 3 106 3 124 3 104 3-49 3-72 3-48 3-52 3 32 3 18 3-3 3 36 3-6 3 9 3-11 3 10 3 3 3-9 3 19 3 2 3-60 3 4 3 38 3 8 3 0 3 10 3-27 3 22 3-10 3-21 3 43 3-41 3 5 3 34 3-14 3 34 3-29 3 13 3-11 3 20 3-12 3-23 3 22 3-23 3 32 3-34 3 8 3 58 3-34 3 13 3-13 3-3 3-40 3 12 3 37 3-31 3-30 3 49 3-26 3-16 3 15 3 40 3-27 3-40 3 26 3-22 3 2 3-23 3 21 3-46 3 81 3-18 3-18 3-10 3-57 3 21 3-59 3 127 3 7 3-23 3 49 3-29 3-54 3 56 3-51 3 17 3 54 3-54 3-65 3 15 3 45 3 6 3 6 3-13 3-2 3-12 3-2 3 68 3 28 3-13 3-49 3-86 3 2 3 92 3 47 3-26 3-27 3 21 3-20 3 23 3-46 3 43 3 13 3 34 3 6 3-30 3-6 3 31 3 7 3-8 3-23 3 3 3-11 3 4 3-6 3 32 3-4 3 15 3-16 3 9 3-9 3-25 3 24 3-23 3 8 3-1 3 5 3-8 3-26 3 47 3-54 3 25 3-21 3-57 3-25 3-74 3 20 3 16 3-2 3 40 3 88 3 15 3 31 3-24 3 1 3-4 3 10 3-24 3 28 3-34 3-11 3-43 3-30 3-66 3-46 3 21 3 85 3 58 3 73 3 2 3-1 3-29 3 29 3-45 3 48 3 1 3-25 3-6 3 14 3 2 3-8 3 17 3-17 3-17 3 45 3-34 3-5 3-12 3 17 3 6 3-8 3-1 3 13 3 4 3-5 3-13 3-10 3 23 3-5 3 17 3-30 3 32 3-12 3-26 3-18 3 19 3-12 3-14 3-20 3 30 3-25 3 28 3 51 3-26 3 4 3 8 3-17 3 17 3-16 3-14 3 16 3 34 3-49 3 2 3-2 3-7 3 9 3-3 3-17 3-1 3 20 3 3 3 10 3 11 3 7 3 36 3-1 3-35 3-14 3 17 3-29 3 13 3-16 3 20 3 7 3-15 3-22 3-22 3 8 3-15 3 19 3-11 3-22 3 1 3 13 3 11 3 4 3-16 3-17 3-33 3-38 3-46 3-54 3-66 3-15 3 73 3 193 3 108 3-38 3-28 3-1 3 0 3-21 3 3 3-3 3 23 3-22 3-12 3 11 3 36 3-31 3 3 3-9 3 31 3 22 3-30 3 17 3-12 3-12 3 13 3 11 3-6 3-14 3 2 3 9 3 10 3-6 3-16 3 12 3 12 3 0 3-14 3 10 3-8 3 11 3 27 3-41 3 18 3 4 3-11 3-12 3 2 3-7 3 1 3 13 3 2 3-9 3 27 3-5 3-16 3 20 3 5 3-22 3 3 3 0 3-37 3 38 3-16 3 13 3-24 3 24 3-8 3-8 3 18 3-3 3-4 3-12 3-2 3 23 3-5 3-5 3-16 3 20 3 3 3 4 3 9 3-28 3 32 3-17 3-34 3 7 3 31 3 6 3-27 3 17 3-8 3-12 3 4"/>
<path stroke="#bfbf00" d="M3432 1114l3 7 3 2 3-1 3-6 3 33 3-22 3 20 3-29 3 7 3-30 3 29 3 6 3-17 3 6 3-20 3 3 3-22 3 28 3 6 3 14 3-14 3 11 3-47 3 13 3-24 3 36 3-16 3-55 3 41 3-25 3 17 3-64 3-25 3 15 3-38 3 6 3-26 3-39 3 129 3 161 3 22 3-155 3-32 3-18 3-20 3 16 3 31 3-13 3 62 3-34 3 26 3-1 3 8 3 2 3-15 3 17 3 7 3 1 3-3 3-27 3 21 3-9 3 27 3-41 3 49 3-27 3-7 3 24 3-33 3 52 3-13 3-1 3-22 3-2 3 25 3-13 3 15 3-16 3 28 3-4 3-11 3-31 3 23 3-29 3 31 3-16 3 19 3-18 3 27 3-63 3 44 3 6 3 31 3-73 3 21 3 26 3-36 3 38 3 9 3-70 3 9 3-20 3-10 3 23 3 29 3 30 3 6 3 3 3-47 3-14 3-45 3 26 3 23 3-65 3-17 3 69 3 35 3 35 3-28 3-20 3 37 3-14 3-35 3 31 3 26 3-87 3-42 3 129 3 16 3 13 3-19 3 17 3-68 3-32 3 51 3 9 3-20 3-6 3-53 3 56 3 25 3 67 3-43 3-53 3 31 3 24 3-56 3 77 3-21 3 5 3 11 3 14 3-14 3 44 3-54 3 18 3-51 3 40 3 8 3 1 3 24 3-36 3 49 3-54 3-10 3 24 3-5 3-7 3-3 3 14 3-17 3-31 3 20 3-17 3-5 3 10 3 1 3 4 3-25 3-19 3-18 3-104 3-52 3 26 3 32 3-22 3 109 3 46 3 41 3-1 3-40 3 19 3-6 3-27 3 49 3-40 3 1 3 3 3-44 3-59 3-67 3-67 3 67 3 126 3 59 3 67 3-29 3-9 3 26 3-14 3-6 3-11 3 15 3-6 3-2 3 16 3 3 3-4 3-6 3-18 3 10 3 3 3 27 3-45 3 0 3 14 3 20 3-18 3-11 3 1 3 13 3-23 3 29 3-17 3-17 3-8 3 12 3 31 3-21 3 2 3 25 3-11 3-12 3-22 3-9 3-5 3 17 3 10 3-2 3-27 3 40 3-6 3 1 3 1 3 4 3 28 3-14 3-17 3-19 3-1 3 22 3 16 3-23 3-13 3-10 3-3 3-13 3 44 3-8 3-1 3 28 3 3 3 29 3 20 3-76 3 16 3-20 3 3 3-1 3-1 3-13 3 25 3-11 3-5 3-34 3 27 3-41 3 8 3-23 3 58 3-39 3 25 3 16 3-24 3-14 3-46 3-1 3-41 3-45 3-81 3-67 3 26 3 149 3 234 3-19 3-78 3 29 3-41 3 3 3 28 3 4 3 19 3-19 3-7 3 3 3 6 3-5 3-16 3 3 3 10 3-9 3 11 3 22 3-29 3 20 3-24 3 8 3-6 3 19 3-12 3 16 3 8 3-23 3 6 3-11 3 33 3-14 3 3 3 11 3-2 3 1 3-19 3 25 3-33 3 24 3 5 3 3 3-2 3 17 3-21 3-12 3 15 3-2 3-8 3 18 3-18 3 18 3-25 3 18 3 8 3-13 3-7 3 26 3 11 3-27 3 28 3 1 3-37 3 25 3-10 3-10 3 8 3 11 3-21 3 4 3-11 3 20 3-1 3 13 3-19 3-2 3 2 3 7 3 3 3-7 3-17 3 6 3-8 3 36 3-11 3-40 3 18 3 29 3-11 3 0"/>
<path stroke="#404040" d="M3432 1154l3-28 3-6 3 3 3 36 3-24 3-24 3 55 3 9 3-39 3 9 3 23 3 7 3-37 3 23 3-11 3-21 3 49 3-63 3 31 3 4 3-40 3 71 3-95 3 78 3-29 3-18 3 60 3-68 3 24 3-36 3-33 3 4 3-3 3-45 3-37 3 32 3-60 3-17 3 19 3 62 3 159 3 139 3-108 3-72 3-42 3 21 3-58 3 41 3 10 3 9 3-44 3 33 3 32 3-11 3-20 3 35 3-15 3 10 3-29 3 35 3 8 3 8 3-41 3 33 3-7 3-9 3-4 3-7 3 2 3-8 3 26 3-31 3-18 3 40 3 15 3-4 3 0 3-11 3 10 3-18 3 20 3-3 3-33 3 8 3 45 3-31 3 32 3-55 3-16 3 16 3-18 3 61 3-27 3-31 3-20 3 59 3-21 3 7 3-31 3 43 3-18 3-27 3-57 3 25 3 28 3-41 3 57 3 4 3-69 3 28 3 46 3-70 3-50 3-38 3 13 3 68 3 31 3 9 3 37 3-52 3 15 3-23 3 80 3-44 3 21 3-16 3-82 3 61 3-18 3 60 3-74 3 36 3-84 3 37 3 123 3-19 3-42 3 11 3 6 3-112 3 26 3 32 3-5 3 64 3 49 3 4 3-87 3 6 3 37 3 63 3-69 3-3 3 28 3-18 3 48 3-26 3 23 3 8 3-40 3 9 3-19 3 31 3-9 3 12 3-21 3 14 3 18 3-12 3 3 3-19 3 2 3 3 3 4 3-24 3 21 3-25 3-7 3-7 3 18 3-35 3 28 3-97 3-71 3 18 3 9 3 71 3-78 3 67 3 59 3 50 3-36 3 4 3 26 3-7 3-15 3 8 3-27 3-1 3-31 3-13 3-95 3-45 3-80 3 70 3 104 3 101 3 25 3-8 3 3 3 5 3-28 3 15 3 25 3-22 3 26 3 15 3-23 3-7 3-14 3 29 3 9 3-26 3 2 3 1 3 23 3-29 3 8 3 8 3-16 3 18 3-26 3-9 3-2 3 6 3-1 3 13 3-2 3-2 3 5 3-7 3-21 3 6 3 50 3-51 3-27 3 18 3-27 3 5 3 11 3 34 3-21 3 15 3-14 3 20 3-2 3 29 3-22 3 3 3-21 3 20 3-4 3 5 3-24 3 37 3-26 3 8 3-44 3 25 3 26 3 11 3 7 3-6 3 13 3 30 3-76 3 25 3-3 3-13 3 3 3 1 3 18 3-49 3-14 3 22 3 19 3-48 3-17 3 9 3-12 3 7 3 13 3-30 3 30 3-27 3 12 3-29 3-49 3 21 3-54 3-60 3-100 3-28 3-10 3 147 3 216 3 64 3-55 3-35 3 39 3 2 3-2 3-2 3-12 3 10 3 7 3-27 3 32 3 8 3-32 3 27 3 7 3-12 3-3 3 9 3-8 3-6 3 18 3-33 3 10 3-18 3 20 3 5 3-4 3 4 3-23 3 44 3-11 3-2 3-6 3 6 3 19 3-19 3-9 3 13 3 3 3-4 3-6 3-6 3 8 3 8 3-20 3 34 3-40 3 22 3-7 3 9 3-10 3 32 3-34 3-24 3 26 3 15 3-27 3 3 3-14 3 36 3-15 3 15 3-7 3 0 3-11 3 17 3-2 3 7 3-3 3-28 3 1 3 12 3 6 3-11 3 33 3-29 3-13 3 11 3-12 3 2 3 16 3 0 3-29 3 21 3-26 3 21 3 9 3 3 3 18"/>
<path stroke="#0000ff" d="M3432 1127l3-4 3 5 3 2 3-9 3 22 3-7 3-4 3 10 3-24 3-2 3-1 3 40 3-58 3 34 3-34 3 48 3-38 3 49 3 0 3-40 3 6 3 3 3-8 3 27 3-32 3 14 3-16 3-5 3-11 3 28 3-2 3-30 3-12 3-28 3 25 3-67 3-1 3-35 3-25 3-3 3 86 3 195 3 40 3-156 3-35 3-30 3-48 3 26 3 28 3 28 3-15 3 30 3-19 3-24 3 43 3-13 3 16 3-5 3-3 3-4 3-13 3 1 3 18 3 26 3-51 3-9 3 45 3 17 3-5 3-20 3 3 3-13 3-17 3 25 3-25 3 50 3-21 3 5 3 8 3 7 3-4 3 15 3-6 3-78 3-13 3 89 3-18 3-3 3-17 3 74 3-8 3-38 3-15 3 2 3-13 3-13 3 10 3 16 3-18 3 30 3-22 3 25 3-22 3 40 3-11 3-57 3 44 3-43 3 45 3 10 3-37 3-31 3-27 3-71 3-55 3 9 3 108 3 58 3-22 3 26 3-24 3-1 3 47 3-88 3 87 3-24 3-94 3 9 3 7 3 94 3 2 3-13 3 38 3-79 3 49 3 13 3 32 3 27 3-99 3 61 3 0 3 61 3-99 3 71 3-45 3 21 3-41 3-38 3 63 3 12 3 16 3 28 3-34 3 46 3-80 3 32 3 13 3 12 3-8 3-45 3 75 3-28 3-32 3 35 3-21 3 22 3-5 3-1 3-3 3-8 3 7 3 1 3-28 3-29 3 56 3-29 3 24 3-31 3 1 3-11 3-11 3-52 3-29 3-88 3 14 3 46 3-3 3 15 3 75 3 32 3 41 3 9 3-1 3-4 3-8 3-12 3 11 3-54 3-10 3-7 3-77 3-55 3-34 3-8 3 87 3 112 3 38 3 61 3-15 3-34 3 19 3-3 3 0 3 23 3-42 3 1 3 21 3 5 3-19 3-11 3 5 3 20 3 4 3-44 3 28 3-6 3-12 3-2 3 12 3-23 3 12 3 5 3-3 3-11 3 24 3-28 3 22 3 0 3-4 3-11 3 23 3-19 3 9 3-9 3-9 3-15 3-10 3 5 3 36 3 8 3-24 3 26 3-21 3 30 3-11 3 18 3 2 3-11 3 2 3-22 3 18 3-14 3 3 3 13 3 19 3-35 3-11 3 4 3-4 3 3 3 19 3-3 3 27 3-8 3 50 3-23 3-9 3-22 3-14 3 1 3-13 3 0 3 5 3-8 3-25 3 12 3-45 3 45 3-28 3-1 3-10 3 26 3-47 3 52 3-22 3-18 3-4 3-44 3-19 3-65 3-64 3-79 3-58 3 35 3 150 3 230 3 49 3-39 3-21 3-8 3 25 3 2 3-11 3-3 3 21 3-24 3 8 3 27 3-52 3 23 3-17 3 11 3-15 3 27 3-4 3-18 3 31 3-25 3 22 3-14 3 20 3-10 3-23 3 11 3-32 3 31 3-1 3-4 3 13 3-15 3-2 3 23 3-16 3 8 3-9 3-4 3 18 3-7 3 17 3-26 3 17 3-2 3-7 3-13 3 20 3 6 3 5 3-3 3-42 3 27 3-20 3 26 3-18 3 34 3-15 3-11 3 12 3-22 3 35 3-10 3-20 3 30 3-31 3 5 3 19 3-9 3-11 3 3 3 14 3 0 3-23 3 11 3 10 3-20 3-9 3 28 3 2 3-9 3 21 3-12 3 0 3-7 3 28 3-18 3 11"/>
<path stroke="#008000" d="M3432 1131l3 33 3-18 3-22 3 34 3 18 3-17 3 14 3-25 3-13 3 42 3-35 3 5 3-5 3-11 3 12 3-40 3 65 3-46 3 28 3-19 3 42 3-13 3-22 3 22 3-54 3-13 3 20 3-26 3-10 3 44 3-20 3-17 3-23 3-39 3-6 3-5 3-73 3-14 3-67 3-2 3 201 3 171 3 33 3-119 3-37 3-70 3 46 3-45 3 54 3-2 3-12 3 13 3 19 3 13 3 1 3-1 3 1 3 5 3 17 3-40 3 54 3-39 3-24 3 28 3-9 3 22 3-36 3 44 3-20 3 1 3-19 3 15 3 26 3-22 3 1 3 2 3 3 3 6 3 15 3 3 3-24 3-7 3 32 3-41 3-7 3 1 3-20 3 37 3 30 3 14 3-55 3 16 3-26 3-2 3 2 3 7 3-7 3 6 3 6 3 95 3-88 3-37 3-15 3 13 3-32 3 58 3-13 3 21 3-38 3 24 3-12 3-8 3 4 3-71 3-1 3-27 3 34 3-7 3 66 3 26 3-3 3-5 3-20 3-27 3 77 3 23 3-48 3-76 3 52 3 55 3-12 3-17 3-30 3 67 3 13 3-99 3 119 3-79 3 4 3 30 3-21 3 19 3-17 3-9 3-10 3 16 3 7 3-10 3-30 3 13 3 49 3 20 3-5 3-3 3 6 3-31 3 33 3-16 3-12 3 25 3 4 3 7 3-17 3-42 3 66 3-33 3 18 3 4 3 7 3 3 3-5 3-66 3 65 3-37 3 11 3 4 3 12 3-19 3-11 3-2 3-22 3-30 3-61 3-59 3-11 3 24 3 1 3 7 3 64 3 64 3 30 3 1 3-3 3-36 3 39 3-19 3 5 3-11 3-27 3-40 3-15 3-84 3-38 3-21 3 90 3 75 3 108 3 18 3-20 3-28 3 4 3 10 3 32 3-42 3 14 3 12 3 3 3-11 3-36 3-5 3 8 3 22 3-14 3 7 3-3 3 3 3-27 3 32 3-11 3 22 3-9 3 8 3-16 3 10 3 4 3 16 3-28 3 9 3-13 3 9 3-27 3 18 3 8 3-15 3-7 3-13 3-20 3-13 3 3 3 59 3-6 3 10 3-36 3 11 3 33 3-3 3-4 3-14 3 34 3-35 3-20 3 16 3 3 3-12 3-36 3 2 3 8 3-19 3 44 3-4 3 53 3-14 3 13 3 48 3-6 3-23 3-19 3-12 3-11 3-1 3-35 3 22 3-35 3-15 3 30 3-16 3 24 3-37 3 14 3-33 3 11 3 10 3 14 3-8 3-10 3-8 3-28 3 0 3-31 3-51 3-82 3-94 3-55 3 8 3 151 3 163 3 126 3-58 3 3 3-19 3 3 3 3 3 1 3 4 3 22 3-3 3 6 3-33 3 33 3 3 3 1 3-7 3 6 3 41 3-35 3-10 3 23 3-10 3-10 3-6 3 19 3 7 3-24 3 4 3-10 3 10 3 24 3-24 3-16 3 19 3 4 3-15 3-6 3-8 3 3 3 24 3 3 3-3 3 2 3 2 3-16 3 16 3-1 3-4 3-10 3 5 3-6 3 0 3 9 3 16 3 1 3-24 3 8 3 7 3-5 3-7 3 7 3-13 3 6 3-15 3 18 3-2 3-5 3 12 3-12 3 1 3 16 3-38 3 15 3 2 3-12 3 14 3-6 3-4 3 5 3 2 3 16 3-17 3 12 3-4 3-11 3 15 3-11 3 16 3-16"/>
<path stroke="#ff0000" d="M3432 1109l3-9 3 45 3 12 3-42 3 26 3-9 3-26 3 68 3-52 3 31 3 17 3-12 3-27 3 22 3 5 3-12 3 12 3-39 3 32 3-6 3-1 3 14 3-30 3 50 3-56 3 13 3-8 3 0 3 5 3-7 3-36 3-5 3 0 3 1 3-38 3-23 3-2 3-91 3 7 3 59 3 120 3 95 3 3 3-127 3-40 3-6 3 7 3-15 3 41 3 11 3 9 3 26 3 29 3-46 3-21 3 60 3-35 3-5 3 35 3 7 3-15 3 11 3 24 3-50 3 14 3 15 3 19 3-17 3-23 3 29 3-27 3 27 3-1 3 16 3-26 3-17 3 46 3-35 3 40 3-12 3-62 3 42 3 36 3-27 3 22 3-8 3-36 3 23 3 47 3-44 3 41 3-46 3-53 3-24 3 21 3 3 3 59 3 45 3-74 3 50 3-27 3-22 3-10 3-2 3 0 3 44 3-48 3 12 3 14 3-52 3 11 3-34 3 1 3-33 3-17 3-8 3 96 3 33 3 37 3-73 3-19 3 52 3 78 3-49 3-131 3 32 3-14 3-51 3 16 3 68 3 17 3-52 3-10 3-27 3 57 3 73 3-7 3 17 3-87 3-36 3 60 3 43 3-36 3 34 3-10 3 37 3-71 3-24 3 59 3 20 3 10 3-47 3 49 3 2 3-29 3 15 3-17 3 22 3-19 3 30 3-23 3 21 3-17 3 6 3-1 3 9 3 1 3-34 3 30 3 24 3-38 3 8 3-12 3 7 3 10 3-21 3 41 3-21 3-35 3-21 3-18 3-24 3-71 3-22 3 19 3 40 3-17 3 74 3 13 3 80 3-2 3-37 3 18 3-31 3-2 3 33 3-19 3-10 3-30 3-39 3-67 3-32 3-70 3 89 3 89 3 78 3 29 3 6 3 15 3-38 3-15 3 37 3 7 3-2 3-21 3 10 3 11 3-35 3 44 3-45 3 12 3 8 3 8 3-23 3 13 3 14 3-25 3-12 3 21 3-6 3-12 3 23 3 2 3-7 3-5 3 8 3-25 3 17 3 8 3-31 3 23 3 2 3-9 3-6 3-6 3-18 3 17 3-37 3 59 3-16 3 36 3-19 3 13 3-37 3 12 3-4 3-13 3 22 3 0 3-5 3 4 3-19 3 26 3-41 3 21 3-14 3-8 3-3 3 18 3 25 3-24 3 3 3 37 3 4 3 0 3-20 3-7 3 5 3-17 3-4 3-4 3-7 3-7 3-20 3 23 3-20 3-20 3 10 3-21 3 26 3 1 3 8 3-6 3-11 3 10 3-9 3-54 3 8 3-73 3-64 3-68 3-45 3-16 3 141 3 158 3 131 3-11 3-64 3-25 3 33 3 12 3-31 3 9 3 12 3 3 3 14 3 8 3-38 3-21 3 34 3-15 3 26 3 1 3-14 3 31 3-24 3-5 3-36 3 33 3-8 3 24 3 9 3 1 3-19 3 13 3-9 3 7 3 14 3-24 3 0 3 23 3-26 3 12 3-8 3 2 3 14 3-9 3 14 3-32 3 25 3 1 3-5 3-30 3 27 3-6 3 12 3 8 3-6 3-13 3 8 3-14 3 16 3-12 3 10 3 4 3 0 3-8 3 14 3-13 3-13 3 19 3 10 3-11 3 13 3-10 3 3 3 12 3-11 3-16 3-10 3-7 3 34 3 25 3-36 3-10 3 22 3-14 3-4 3 9 3-1 3 11 3-16 3 1 3-1 3 6"/>
<path stroke="#00bfbf" d="M3432 1095l3 14 3 23 3-25 3 0 3 63 3-45 3 8 3-11 3 15 3-6 3 16 3 8 3-26 3-11 3-10 3 4 3-30 3 29 3-13 3 13 3 1 3 24 3-39 3-2 3 11 3 8 3-35 3 47 3-30 3-20 3-10 3 10 3-37 3 2 3-51 3-33 3-57 3-57 3 81 3 84 3 126 3 62 3-122 3-19 3-19 3-42 3 16 3 55 3-50 3 50 3 3 3-47 3 60 3-40 3 24 3 14 3 1 3-15 3 34 3-17 3 20 3-18 3-7 3 19 3-7 3 20 3-10 3-32 3 45 3-51 3 35 3-24 3 4 3 5 3 7 3-6 3 15 3-16 3 22 3 6 3-8 3-9 3 4 3 16 3-22 3 16 3 0 3-31 3 24 3 42 3-56 3 46 3-82 3 62 3 74 3-123 3-18 3 53 3 19 3-16 3 26 3-49 3-39 3 7 3 10 3 53 3-57 3 62 3-2 3-61 3 6 3-58 3 12 3 5 3-57 3 82 3-22 3 43 3 50 3-8 3-65 3 23 3-18 3 90 3-82 3-53 3 11 3 3 3 40 3-13 3 65 3-35 3-62 3 1 3 74 3 9 3-28 3 20 3-38 3 55 3-20 3 16 3 17 3-13 3 7 3-36 3-30 3 42 3-26 3 86 3-59 3 39 3-18 3 0 3-3 3 17 3-34 3 46 3-5 3-22 3 20 3 8 3-1 3-2 3 11 3-20 3-18 3 16 3 4 3-4 3-1 3-13 3 22 3 1 3-28 3 1 3 3 3-31 3 13 3 10 3-71 3-22 3-46 3-19 3 44 3-44 3 55 3 71 3 35 3 38 3-5 3 23 3-40 3-19 3-14 3 7 3-22 3-4 3-53 3-34 3-73 3-80 3 1 3 143 3 67 3 71 3 41 3 3 3-47 3 37 3-11 3 32 3-10 3 0 3 13 3-29 3 28 3-5 3-24 3-14 3 22 3-3 3-5 3-18 3 9 3 3 3-6 3 30 3-25 3 20 3-35 3 20 3 20 3-15 3-21 3 28 3 8 3-14 3 20 3-26 3-11 3 16 3-15 3-20 3 13 3-20 3-12 3 15 3 17 3 16 3-13 3 30 3-33 3 33 3-17 3-1 3 25 3-21 3 29 3-27 3-7 3 27 3-23 3-15 3 13 3-15 3-16 3 18 3 24 3-21 3 40 3 3 3 4 3 16 3-6 3-48 3 22 3-26 3 7 3-1 3 7 3-4 3-17 3-2 3-22 3 36 3-38 3-11 3 23 3-7 3-9 3-9 3 26 3-8 3-15 3-17 3-27 3-30 3-55 3-47 3-106 3-32 3 41 3 178 3 163 3 0 3-23 3 9 3-20 3 35 3-8 3 0 3 13 3-24 3 26 3-34 3 30 3 22 3-17 3-21 3 39 3-25 3-9 3 7 3-4 3-15 3 10 3-24 3 38 3-19 3 6 3 10 3-23 3-1 3 30 3-13 3 4 3 11 3-19 3-7 3 5 3 24 3-11 3 15 3-13 3-10 3 25 3-42 3 31 3-12 3 17 3 6 3-29 3 0 3-6 3 10 3 18 3-23 3 13 3-18 3 17 3 6 3-4 3-26 3 13 3 9 3-35 3 27 3 12 3 0 3-7 3 16 3-25 3 32 3-10 3-2 3-14 3 1 3 20 3-6 3-1 3 16 3-26 3 7 3 6 3 12 3-28 3 7 3 1 3-11 3 15 3 12 3-2 3 7 3-34"/>
<path stroke="#bf00bf" d="M3432 1145l3-27 3 18 3-9 3-22 3 31 3-18 3-26 3 32 3 17 3-30 3 24 3-3 3-11 3 14 3-20 3 6 3 18 3-39 3 15 3-23 3-4 3 21 3-46 3 17 3-19 3 31 3 28 3 0 3-16 3 3 3-64 3 57 3-47 3-26 3-40 3-19 3-38 3-91 3-27 3 93 3 173 3 28 3-64 3-15 3-16 3-26 3 26 3-20 3 65 3 17 3-31 3 43 3 2 3-19 3-5 3 26 3-20 3-23 3 21 3 11 3-9 3 11 3 37 3-21 3-26 3-1 3-16 3 50 3-24 3-38 3 40 3-12 3-1 3 28 3-16 3-23 3 5 3 26 3 34 3-53 3 8 3-4 3 36 3-6 3 0 3-30 3 11 3-11 3-17 3 50 3 7 3-27 3 40 3 15 3-41 3 31 3-71 3 20 3 9 3 6 3 17 3-52 3 41 3 40 3-56 3 4 3 55 3-42 3-88 3 14 3 27 3-48 3-64 3 26 3 40 3-38 3 51 3 19 3 73 3-34 3 29 3 2 3-38 3-28 3-3 3 18 3-56 3 4 3 65 3-12 3-13 3 2 3 6 3-10 3 4 3 69 3-36 3-33 3 49 3-57 3 71 3-2 3 49 3-7 3-26 3-6 3-34 3 78 3-47 3-19 3 18 3-7 3 46 3 14 3-15 3-33 3 33 3-9 3-22 3 6 3-13 3 16 3 14 3-5 3 8 3 2 3-25 3-4 3 24 3-12 3 2 3 16 3-32 3 38 3-49 3-19 3 29 3 1 3 29 3-74 3 4 3-71 3-48 3-1 3 29 3 42 3 0 3 64 3 42 3 25 3 5 3-60 3 52 3-30 3-4 3-7 3 11 3-25 3-44 3-38 3-42 3-48 3-4 3 67 3 70 3 21 3 48 3-28 3 8 3 49 3-40 3 0 3 15 3-12 3 10 3 0 3-14 3 3 3 7 3-12 3 6 3-5 3 0 3 13 3 13 3-17 3-28 3 40 3-21 3 7 3-11 3 11 3-24 3 18 3 22 3 2 3-13 3-17 3 6 3 3 3 7 3-46 3 9 3 17 3-23 3-8 3-9 3 58 3-3 3-19 3 25 3-24 3 20 3-2 3-13 3 42 3-30 3 7 3 19 3-27 3 14 3-13 3-24 3 30 3-26 3-5 3-30 3 12 3 10 3 8 3 7 3 32 3-15 3 24 3-17 3-7 3-9 3-9 3 0 3-11 3-11 3-4 3 38 3-43 3 1 3-11 3-13 3-2 3 30 3-29 3-4 3 42 3-11 3-4 3-16 3-14 3-13 3-61 3-25 3-79 3-74 3-37 3 76 3 158 3 189 3-8 3-48 3-11 3 4 3-15 3-25 3 20 3 37 3-18 3-14 3-40 3 44 3 11 3-9 3-15 3 16 3-7 3-11 3 11 3-17 3-15 3 11 3 18 3-11 3-1 3 18 3 12 3-18 3-15 3-4 3 11 3-7 3 6 3-7 3 12 3-12 3 5 3-19 3 23 3 11 3 1 3-1 3-17 3-7 3 34 3-4 3 8 3-14 3-10 3 18 3-21 3 12 3-14 3 15 3-11 3-10 3 38 3-29 3 26 3-12 3 20 3-29 3 33 3-28 3 5 3-7 3 25 3 9 3-19 3 14 3-9 3 0 3-2 3-24 3 29 3 13 3-7 3-9 3-21 3 46 3-23 3-12 3 18 3 13 3-23 3 5 3-6 3-4 3 10 3 0"/>
<path stroke="#bfbf00" d="M3432 1154l3-4 3 54 3-89 3 4 3 33 3-45 3 32 3 10 3-13 3 13 3 15 3-24 3 18 3-4 3-51 3 38 3 21 3-13 3-12 3 7 3 50 3-54 3-3 3 7 3 0 3 4 3-45 3 26 3 4 3-52 3 25 3-23 3-19 3 17 3-29 3-41 3-35 3-49 3-143 3 2 3 190 3 215 3 18 3-85 3-26 3-53 3 8 3 25 3 11 3-6 3 15 3 2 3 20 3 4 3-16 3 19 3-24 3 24 3-4 3-1 3-9 3 13 3-2 3 32 3-11 3-17 3-2 3 3 3 9 3-2 3-28 3 25 3 5 3-5 3-13 3 1 3 20 3 18 3-29 3 12 3-20 3 32 3 16 3-21 3 3 3-3 3-12 3 25 3-18 3 17 3-48 3 0 3 61 3-90 3 48 3 40 3-48 3 41 3-55 3-26 3 51 3 23 3-36 3-39 3 56 3-17 3-13 3 0 3-5 3-35 3-5 3 41 3-71 3-79 3 59 3 0 3 85 3 5 3-50 3 24 3 3 3 26 3 31 3 5 3-75 3 0 3-58 3-22 3 62 3-11 3 62 3 31 3-69 3 40 3 13 3-24 3-39 3-9 3 24 3-39 3 20 3 28 3 1 3 0 3 26 3-19 3 39 3-46 3-13 3 5 3 35 3 68 3-25 3-14 3-24 3 24 3-11 3 29 3-36 3 34 3-30 3 43 3-32 3-30 3 14 3 15 3 17 3-11 3-16 3 23 3 0 3-19 3 11 3-19 3-2 3 22 3-15 3 32 3-31 3-2 3-23 3-26 3-43 3-77 3-19 3 52 3 12 3 35 3 41 3 25 3 24 3-19 3 28 3-4 3-22 3 9 3-65 3 39 3 8 3-41 3-23 3-81 3-11 3 6 3 70 3 85 3 72 3-9 3 4 3-20 3-26 3 37 3 13 3-34 3 36 3-29 3 17 3-11 3-21 3 4 3-6 3 15 3-9 3 22 3-38 3 31 3-21 3-11 3 26 3-4 3-22 3 11 3-5 3-10 3 4 3 50 3-41 3-2 3 5 3 3 3-6 3-29 3 24 3-1 3 13 3-19 3-35 3-4 3 25 3 17 3 11 3-39 3 54 3-19 3-2 3-19 3 39 3-17 3-16 3-3 3 16 3-9 3 11 3-7 3-15 3 1 3 2 3 3 3-11 3 14 3 7 3-6 3 7 3 24 3 22 3-4 3-45 3-14 3 11 3 3 3 10 3-4 3-11 3-18 3 9 3-34 3 0 3 15 3-14 3-30 3 17 3-8 3 20 3 1 3-9 3-12 3 8 3-48 3-18 3-72 3-39 3-78 3-70 3 81 3 126 3 189 3 22 3-40 3-12 3 3 3 6 3 21 3 7 3-11 3-7 3 0 3 12 3 12 3-15 3-18 3 22 3-36 3 32 3 10 3-8 3-4 3-7 3 18 3-26 3 3 3 7 3 4 3 1 3 7 3-16 3 36 3-29 3-7 3 13 3-13 3 15 3 22 3-4 3 11 3-10 3-3 3 2 3-6 3-21 3 7 3-8 3 0 3 22 3-5 3-24 3 26 3-18 3 1 3 2 3 5 3-10 3 15 3-15 3 20 3-13 3-11 3 24 3-15 3 14 3 3 3-11 3 12 3 4 3-15 3 7 3-36 3 10 3 22 3 21 3-9 3-1 3-48 3 32 3 7 3-26 3 5 3 13 3-20 3 39 3-33 3 2 3 26 3-5 3-10 3-2"/>
<path stroke="#404040" d="M3432 1099l3 16 3 5 3 6 3-20 3 1 3-12 3 32 3-39 3 44 3 15 3-41 3 1 3 15 3-23 3 8 3-15 3-15 3 22 3 45 3-55 3-5 3 17 3-8 3 39 3-37 3-22 3-22 3 40 3-5 3-42 3 32 3 1 3-29 3 15 3-79 3-6 3-6 3-19 3-19 3 54 3 108 3 149 3-53 3-86 3-31 3-1 3-7 3-37 3 32 3 47 3-22 3 35 3-8 3 3 3-14 3 20 3-8 3-6 3 26 3-12 3 2 3-9 3-9 3 2 3 23 3-35 3 43 3-26 3 28 3 3 3 23 3-13 3-16 3 23 3-1 3-20 3 12 3-23 3-13 3 33 3-15 3 13 3-18 3 29 3-19 3 48 3-49 3 32 3 3 3-6 3-29 3-9 3 59 3-77 3 58 3-73 3-14 3 100 3-14 3-16 3-6 3-37 3 47 3-98 3-1 3 35 3 36 3 8 3-27 3-56 3 11 3-17 3 3 3-98 3-86 3 147 3 37 3-22 3 31 3 31 3 57 3-68 3 1 3 62 3-60 3-36 3 25 3-19 3 38 3-20 3 49 3-53 3-29 3 24 3 22 3-13 3 51 3-27 3-59 3 6 3 23 3-44 3 34 3-30 3 90 3-16 3 23 3-41 3 16 3 21 3 6 3-27 3 59 3-56 3-7 3 26 3 26 3-35 3 27 3-13 3-11 3 17 3 4 3 0 3 7 3-10 3 1 3-19 3 4 3 0 3 19 3-3 3-3 3 45 3-39 3-20 3 29 3-10 3 10 3-45 3-13 3-24 3-97 3-105 3 40 3 29 3-34 3 74 3 57 3 52 3 25 3 9 3-6 3-17 3-1 3-42 3 47 3-26 3 6 3-54 3-12 3-89 3-84 3 9 3 73 3 117 3 91 3-2 3-3 3 2 3-6 3 8 3-22 3-6 3 50 3-19 3 5 3-23 3-7 3-2 3-12 3 6 3 0 3 19 3-10 3 10 3-10 3-1 3 12 3 18 3-38 3 14 3 5 3-15 3 6 3-11 3 28 3-8 3-13 3-8 3-3 3 31 3-30 3-15 3 30 3-45 3 9 3-27 3 33 3 35 3 10 3-17 3 10 3-12 3-3 3 8 3-7 3 16 3-19 3-3 3 28 3 7 3-43 3 14 3-18 3-33 3 14 3 17 3-9 3 5 3 51 3 6 3 10 3 13 3-6 3 3 3-40 3 8 3 8 3-20 3 6 3 7 3-29 3-22 3 11 3-34 3-15 3 26 3-25 3 22 3-16 3-3 3 27 3-26 3-25 3 30 3-18 3-25 3-59 3-31 3-58 3-114 3-41 3 25 3 223 3 184 3 29 3-65 3-1 3 2 3-4 3 21 3 9 3-16 3-4 3 12 3 10 3-28 3 9 3 3 3-6 3 9 3-8 3-6 3 5 3-6 3 2 3-8 3 17 3-6 3-10 3-7 3 26 3 8 3-36 3 46 3-16 3-21 3-13 3 10 3 3 3 15 3 1 3 0 3 8 3-7 3 9 3-21 3 3 3-4 3 14 3 3 3-4 3-5 3 19 3-39 3 28 3 17 3-6 3-8 3-12 3-2 3 11 3 5 3 8 3-6 3-6 3 8 3-9 3 0 3 21 3-9 3-4 3 10 3 13 3-18 3-4 3-14 3 21 3-9 3-2 3-1 3 6 3-7 3 30 3-33 3 30 3-18 3 11 3-10 3 1 3 20 3 1 3 17 3-28"/>
<path stroke="#0000ff" d="M3432 1143l3-36 3 34 3-23 3-6 3 20 3 34 3-44 3-2 3 21 3-46 3 9 3 24 3 3 3 18 3-8 3 7 3-46 3-9 3 49 3-51 3 26 3-19 3 35 3 7 3-30 3-12 3 6 3 25 3-48 3 45 3-21 3 3 3-61 3 58 3-26 3-58 3 5 3-36 3-44 3 29 3 81 3 180 3-77 3-77 3-39 3-26 3 11 3 11 3 57 3-40 3 28 3 7 3 19 3-31 3 15 3 20 3 3 3-1 3-4 3 2 3 27 3-35 3 17 3 21 3-27 3 18 3-29 3 10 3 12 3-1 3-22 3 15 3 2 3 2 3-4 3 5 3-16 3-5 3 32 3-41 3 6 3 31 3-17 3 1 3 22 3-42 3 9 3 40 3-66 3 29 3 16 3-5 3 59 3-54 3-67 3 55 3-32 3 86 3-46 3-19 3-12 3 3 3 19 3-46 3 13 3-2 3-2 3-31 3 16 3-5 3 5 3 20 3-104 3-28 3 8 3 5 3 74 3 7 3 41 3 28 3 33 3-64 3 81 3-23 3 14 3-72 3-46 3-1 3-1 3 25 3-3 3-21 3-16 3-19 3 20 3 112 3-23 3-40 3 22 3 50 3-97 3 22 3 37 3 53 3-11 3-53 3 48 3-54 3 42 3-17 3-12 3 49 3-54 3 32 3 36 3-41 3 14 3 43 3-53 3-5 3 31 3-15 3 2 3 36 3-50 3-1 3 10 3-11 3 31 3-41 3 27 3 20 3-33 3 20 3-8 3-17 3 5 3-9 3-9 3-11 3-25 3-68 3-34 3-73 3 7 3 58 3-1 3-5 3 107 3 57 3 46 3-48 3-15 3 21 3-19 3 27 3-26 3-14 3-21 3-39 3-13 3-69 3-63 3-49 3 103 3 82 3 86 3-4 3-2 3 17 3 10 3 18 3-16 3 47 3-46 3 13 3-13 3 3 3 4 3 1 3 15 3-23 3 13 3 17 3-34 3 6 3-8 3-7 3 5 3 8 3 14 3 16 3-53 3 38 3-32 3 20 3 8 3-27 3-1 3 1 3 52 3-40 3-4 3-8 3-21 3 21 3-14 3-20 3 47 3-14 3-8 3 25 3 13 3-31 3 9 3-12 3 39 3-22 3 14 3-23 3-4 3 24 3 1 3-8 3-17 3-21 3 13 3 2 3 2 3 13 3-13 3 13 3 11 3 14 3-4 3-10 3-9 3 4 3-14 3 2 3-4 3-21 3 13 3-12 3-15 3-7 3 17 3-55 3 33 3 1 3 10 3-3 3-27 3 24 3-26 3-3 3-25 3-19 3-51 3-36 3-84 3-88 3-53 3 14 3 177 3 237 3 13 3-38 3-6 3 26 3-19 3 25 3 18 3-15 3 18 3-40 3 29 3 3 3-30 3 19 3 8 3 12 3-25 3 9 3 5 3-15 3-3 3 10 3 13 3-6 3-13 3 4 3 12 3-22 3 12 3 26 3-6 3-7 3-16 3 20 3-9 3 1 3-7 3 15 3 6 3-16 3 8 3-19 3 12 3 28 3-23 3 4 3 17 3-28 3-25 3 26 3 21 3-1 3-15 3 7 3-7 3-9 3-20 3 19 3-3 3 15 3-4 3 18 3-6 3 22 3-23 3-12 3 18 3-12 3 3 3 3 3 2 3-7 3-6 3 26 3-26 3 0 3-19 3 17 3 16 3 28 3-30 3 16 3 0 3-17 3 1 3-1 3-3 3 13 3 3"/>
<path stroke="#008000" d="M3432 1131l3 25 3-5 3-1 3-34 3 11 3 18 3-17 3 12 3 16 3-8 3 3 3-20 3-32 3 32 3 7 3 23 3-63 3 34 3-39 3 23 3 11 3-2 3-3 3 4 3 36 3-46 3 24 3-28 3 17 3-4 3-3 3-45 3 19 3-4 3-14 3-24 3-59 3 10 3-116 3-4 3 182 3 180 3-16 3-106 3-2 3-64 3 30 3-11 3-7 3-6 3 22 3 15 3 6 3 33 3-54 3 11 3 17 3 1 3 5 3-21 3 11 3-15 3 31 3-23 3 24 3-44 3 18 3-17 3 53 3-53 3 21 3 17 3 8 3-24 3 17 3-22 3 20 3 27 3-8 3-36 3 29 3-31 3 15 3-12 3 26 3-49 3 15 3 6 3 30 3-49 3 47 3-3 3-60 3 64 3-64 3-14 3 26 3 31 3-20 3 23 3-16 3-1 3-55 3 83 3-131 3 63 3 24 3-50 3 54 3 8 3-80 3 22 3-5 3-69 3-1 3 38 3 60 3 41 3 22 3 4 3 43 3-20 3-60 3 7 3-39 3 28 3-82 3 36 3 46 3 30 3 5 3 34 3-106 3 55 3 36 3-43 3-12 3 35 3 55 3-46 3-29 3 63 3-54 3 52 3-1 3-43 3-14 3 19 3-70 3 67 3 37 3-3 3-22 3 36 3-7 3 21 3-43 3 17 3 18 3-17 3-6 3-21 3-6 3 34 3 9 3-5 3-1 3-41 3 29 3 2 3-5 3-7 3 30 3-45 3 13 3-4 3-8 3 18 3-10 3 1 3-36 3-13 3-66 3-55 3-45 3 48 3-6 3 73 3 44 3 62 3 20 3 7 3-27 3-20 3 12 3 5 3-38 3-14 3-16 3-20 3-26 3-64 3-86 3 23 3 84 3 64 3 75 3-11 3-21 3 23 3 5 3-4 3-18 3 30 3-1 3-6 3 8 3 0 3-37 3 32 3 21 3-16 3-43 3 25 3-16 3 12 3-8 3 38 3-6 3-11 3-8 3 25 3-16 3-5 3-29 3 35 3 1 3-11 3 9 3-21 3 17 3-10 3-12 3 17 3-49 3 36 3-18 3-7 3 25 3-12 3 24 3 2 3 12 3-5 3-39 3 28 3-25 3 26 3-16 3 32 3-33 3 17 3-3 3 0 3-31 3 14 3 7 3 8 3-17 3 29 3-10 3 17 3 25 3 4 3-18 3 6 3-19 3-11 3 21 3-17 3-2 3-8 3-1 3-29 3 19 3-21 3 10 3-5 3-17 3 34 3-15 3-12 3 13 3-22 3 21 3-49 3 13 3-42 3-26 3-37 3-73 3-70 3-32 3 71 3 146 3 140 3-22 3-12 3 6 3 33 3-12 3 19 3 17 3-25 3 20 3-10 3-34 3 38 3-13 3 2 3-12 3 8 3-13 3 44 3-18 3-20 3 5 3-4 3 12 3-19 3 37 3-6 3-2 3-18 3 10 3-3 3 12 3 7 3-46 3 10 3 3 3 25 3-10 3 13 3 10 3-25 3-6 3 41 3-12 3-14 3 14 3-35 3 22 3-34 3 49 3-3 3-1 3 1 3-27 3 5 3 6 3 22 3-6 3-15 3 2 3-5 3-13 3 5 3 12 3-12 3 14 3-15 3 18 3-4 3-2 3 5 3-7 3-8 3 26 3-14 3-14 3 2 3 2 3 10 3-11 3-3 3 2 3 7 3-16 3 6 3 17 3-34 3 10 3 18 3 6"/>
<path stroke="#ff0000" d="M3432 1176l3-23 3 19 3-5 3-7 3 37 3-17 3-41 3 13 3 11 3-13 3 35 3-37 3-33 3 27 3 5 3-22 3 13 3-18 3 22 3 13 3-10 3-16 3-25 3 29 3-39 3 31 3 5 3-28 3 3 3 20 3-56 3-3 3-42 3 1 3-20 3-70 3-27 3-97 3-39 3 153 3 217 3 107 3-107 3-78 3-2 3-11 3-27 3 13 3 30 3 18 3-10 3-1 3-13 3 54 3-14 3 7 3 17 3-3 3-32 3 18 3-15 3 32 3-22 3-3 3 4 3 21 3-23 3 11 3-33 3 52 3-25 3-11 3 34 3-21 3-21 3 23 3 5 3-18 3-3 3 27 3-16 3 29 3-9 3-43 3 17 3-4 3 47 3-5 3-3 3-15 3-38 3 20 3-1 3-9 3 19 3-15 3-30 3 83 3-72 3 46 3-6 3-72 3 23 3-50 3 98 3-106 3 95 3-35 3-33 3 27 3-5 3-102 3-14 3-40 3 103 3-26 3 66 3 24 3-34 3 61 3-40 3 22 3 15 3 4 3-40 3-25 3 27 3-70 3 81 3 26 3 85 3-117 3-16 3-11 3 27 3 34 3-21 3-14 3 24 3-41 3 32 3 27 3-31 3 17 3-33 3 41 3-41 3 35 3 52 3-9 3-5 3 9 3-24 3 26 3 13 3-7 3-18 3 5 3 3 3-6 3-1 3 6 3-14 3-5 3-3 3 0 3 13 3-6 3 7 3 1 3-9 3 17 3-30 3 3 3 20 3-29 3 60 3-40 3-19 3-32 3-7 3-49 3-55 3-6 3 48 3 2 3 34 3 33 3 95 3-8 3-21 3 1 3-20 3 38 3-49 3-9 3 8 3-33 3 9 3-72 3-75 3-34 3-14 3 76 3 76 3 87 3 12 3-23 3 4 3 21 3-17 3-18 3 45 3-20 3 22 3-28 3 10 3-29 3 63 3-49 3 9 3-21 3 25 3 20 3-38 3-50 3 45 3-4 3-4 3 27 3-16 3 22 3-30 3 23 3 3 3-25 3 23 3-11 3 3 3-35 3 30 3-32 3 32 3-14 3-8 3-9 3-29 3 46 3 26 3 5 3-5 3-35 3 25 3-19 3 12 3-3 3 20 3-26 3 1 3 8 3-19 3-19 3 42 3-50 3 11 3-17 3 4 3 18 3 15 3 25 3 12 3-6 3 38 3-2 3 10 3-54 3 0 3 10 3-24 3-13 3 7 3-15 3-1 3 2 3-9 3-26 3 12 3-27 3 30 3-32 3 4 3 25 3-13 3 6 3-9 3-50 3 4 3-35 3-69 3-70 3-91 3-50 3 79 3 162 3 222 3 23 3-48 3 10 3-51 3 33 3 1 3 10 3-21 3 12 3 0 3 25 3-29 3 6 3-11 3 25 3-9 3-15 3-3 3 15 3-18 3-11 3 22 3-19 3 22 3-5 3 7 3-1 3-1 3-2 3-8 3 44 3-59 3 33 3-7 3-22 3 13 3 10 3-7 3 0 3-13 3 26 3-34 3 29 3-2 3-5 3 8 3 8 3-2 3-18 3 16 3-2 3-7 3 0 3-7 3 0 3-9 3 2 3-4 3 4 3 1 3 4 3-6 3 4 3 2 3 14 3-25 3-21 3 26 3-15 3 29 3 19 3-38 3 37 3 7 3-4 3-24 3-1 3 8 3-4 3 9 3 10 3-36 3 5 3-3 3 7 3 7 3 0 3-14 3 7 3-12"/>
<path stroke="#00bfbf" d="M3432 1141l3-6 3-16 3 42 3-2 3-56 3 22 3 6 3-2 3 0 3-13 3 7 3 16 3-27 3 14 3 4 3-10 3 9 3-14 3-7 3 23 3-18 3 33 3-55 3 25 3 4 3 3 3 4 3-41 3 13 3 4 3-16 3 26 3-42 3 9 3 12 3-21 3-35 3-33 3-24 3 68 3 140 3 125 3-96 3-113 3-11 3 24 3-51 3 34 3 7 3-15 3 38 3-39 3-18 3 55 3-24 3 22 3 48 3-30 3-41 3 37 3-18 3-20 3 41 3-65 3 25 3 33 3 12 3-26 3 44 3-35 3-13 3 10 3 16 3-21 3-6 3 16 3 0 3-13 3-5 3 7 3 25 3-25 3 30 3-51 3 32 3-24 3 15 3 43 3-26 3-17 3 33 3-20 3-3 3-45 3 13 3-3 3 8 3 32 3 10 3 9 3-61 3 101 3-59 3-73 3 1 3 50 3-2 3 3 3-31 3-3 3-33 3 5 3-78 3-28 3 79 3-36 3 100 3-36 3 71 3-20 3-28 3 103 3-64 3 47 3-78 3-6 3 45 3-130 3 179 3-35 3-59 3 30 3 18 3 10 3-13 3-19 3 39 3 8 3-31 3-25 3-1 3 13 3 16 3 37 3-59 3-6 3 32 3-40 3 28 3 33 3 29 3-14 3 2 3 8 3-4 3-9 3 3 3 14 3-50 3 43 3-9 3 29 3-27 3-25 3 14 3-19 3 12 3 21 3-18 3 2 3 10 3 15 3-30 3 26 3-20 3-43 3 33 3-6 3-19 3-32 3-34 3 0 3-90 3 32 3 29 3-16 3 35 3 57 3 34 3 43 3-2 3-51 3 0 3 29 3-6 3-28 3 21 3-3 3-52 3-16 3-58 3-68 3 14 3 36 3 73 3 79 3 40 3-31 3 0 3 0 3 30 3-12 3-33 3 6 3-7 3 27 3-15 3-15 3 6 3 18 3 14 3-42 3 16 3-26 3-14 3 47 3-19 3-3 3 6 3-26 3 29 3 2 3-20 3 5 3 8 3-3 3-9 3 12 3-7 3-4 3 31 3 0 3-49 3 6 3-13 3-1 3 14 3 6 3 9 3 4 3-8 3 8 3-15 3 29 3 27 3-47 3-13 3 0 3 10 3 11 3 1 3-7 3 9 3-8 3 2 3-11 3-8 3 12 3-4 3 2 3-10 3 30 3 22 3 15 3-6 3-1 3-34 3-14 3 17 3 1 3-40 3 27 3-13 3 17 3-24 3-31 3 30 3-27 3-13 3 2 3 14 3-1 3-5 3-15 3 36 3-37 3-23 3-30 3-41 3-51 3-47 3-102 3 38 3 96 3 236 3 120 3-77 3-30 3-44 3 20 3-25 3 11 3 20 3-4 3 5 3 9 3-21 3 7 3 10 3-1 3-33 3 45 3-26 3 13 3 4 3 21 3-19 3 2 3 15 3-20 3 7 3 1 3 4 3-1 3 9 3-18 3 1 3-24 3 17 3-9 3 24 3 19 3-23 3 13 3 6 3-15 3-1 3 2 3 24 3-28 3 8 3-11 3-4 3 31 3-25 3 0 3-6 3 3 3 14 3-1 3 0 3-9 3 11 3-21 3-2 3 17 3-10 3-3 3-12 3 28 3-26 3 7 3 16 3-5 3-17 3 11 3-5 3 19 3-29 3 25 3-10 3 2 3 18 3-27 3 28 3-14 3-5 3-5 3-19 3 24 3-12 3 35 3-31 3-9 3 22"/>
<path stroke="#bf00bf" d="M3432 1114l3 49 3-12 3-45 3 22 3 23 3-37 3 16 3-35 3 39 3-7 3 3 3 12 3-29 3 21 3 24 3-74 3 75 3-51 3 39 3-38 3 11 3 28 3-26 3 1 3 25 3-42 3 18 3 16 3-22 3-1 3-12 3-29 3 11 3-68 3 28 3-66 3 50 3-64 3 14 3 118 3 126 3-94 3-95 3-3 3 13 3 10 3-25 3 21 3-5 3 24 3 15 3 28 3-44 3 15 3 5 3 23 3-3 3 2 3 10 3-15 3-5 3 9 3-6 3 39 3-49 3 13 3-15 3 12 3-12 3 29 3-30 3-17 3 10 3 19 3-19 3 9 3 30 3 8 3-41 3 5 3 26 3-18 3 28 3-14 3 16 3-62 3 18 3 33 3-27 3-4 3 36 3-63 3 30 3-47 3 0 3 11 3 31 3 42 3 14 3-53 3 20 3-55 3 8 3-19 3-41 3 71 3 5 3-32 3 9 3 114 3-100 3-98 3-29 3 34 3-8 3 80 3-30 3 26 3 76 3 20 3-44 3 28 3-25 3 30 3-95 3 15 3 25 3 48 3-81 3 45 3 35 3-95 3-13 3 72 3 4 3-19 3 26 3-71 3 32 3-4 3 63 3-2 3-29 3 15 3-4 3 31 3-28 3 5 3 8 3-31 3-2 3 65 3-36 3-28 3 48 3-56 3 45 3 5 3 11 3-23 3 23 3-32 3 16 3 6 3-23 3 27 3-31 3 13 3 21 3-34 3 5 3 37 3-18 3-15 3 6 3-15 3-4 3 16 3-2 3-34 3-7 3-81 3-38 3 32 3 0 3 24 3 23 3 83 3 9 3 41 3-24 3-28 3-2 3-28 3 57 3-60 3 10 3 1 3-48 3-22 3-46 3-41 3 7 3 107 3 92 3 57 3-20 3 0 3-45 3-4 3 17 3 9 3 10 3-29 3 43 3-31 3-18 3-6 3-4 3 25 3 11 3-4 3-30 3 20 3-29 3 26 3-19 3-27 3 20 3 14 3 18 3-43 3 22 3 5 3-1 3-4 3-10 3-6 3-3 3 28 3-17 3 16 3 12 3-20 3-21 3-8 3 8 3 14 3-3 3 24 3-20 3 2 3-17 3 25 3-20 3 4 3 5 3 8 3 25 3-33 3 10 3-14 3-24 3 10 3 14 3 13 3 12 3-37 3 12 3 16 3-10 3 4 3 12 3-9 3-27 3 23 3-37 3 23 3-4 3 13 3-17 3 26 3-44 3 15 3-2 3-17 3-2 3-1 3-6 3-20 3 26 3-31 3 26 3-9 3-20 3-20 3-5 3-49 3-82 3-63 3-37 3-32 3 157 3 184 3 105 3-63 3-48 3 16 3 9 3 1 3 2 3 19 3-30 3 16 3-15 3 4 3-5 3 1 3-15 3 8 3 22 3-21 3 8 3-4 3-18 3 19 3 1 3 11 3-16 3-2 3 18 3 0 3-20 3 22 3 9 3-28 3 0 3-2 3-5 3 37 3-15 3-2 3-15 3 39 3-68 3 43 3 12 3-9 3 12 3-3 3 8 3-13 3-18 3 1 3 23 3-7 3-23 3 21 3 6 3 5 3 9 3-1 3-27 3 9 3 18 3 18 3-31 3 12 3-13 3-18 3 27 3-17 3 7 3 4 3-14 3 13 3-5 3 10 3-5 3 3 3-25 3 12 3-11 3 25 3-19 3 15 3-17 3 6 3 18 3-12 3 7 3 11 3-14 3-10 3-9"/>
<path stroke="#bfbf00" d="M3432 1099l3 36 3 7 3-41 3 25 3-26 3-14 3 34 3-12 3 8 3 13 3-2 3-17 3 0 3 9 3 3 3-12 3-2 3 7 3-9 3 14 3-42 3 80 3-56 3-18 3 24 3-33 3 32 3-14 3-1 3-20 3-6 3-12 3-45 3 20 3-9 3-45 3-93 3-97 3-100 3 11 3 222 3 184 3 96 3-123 3-27 3-47 3 12 3 42 3 7 3-24 3-11 3 30 3 25 3-19 3 14 3 9 3-5 3 34 3-25 3-7 3 13 3 0 3-12 3-10 3 19 3-3 3 12 3-13 3 13 3 8 3-17 3 26 3-46 3 64 3-25 3 4 3 9 3-5 3-25 3 13 3 27 3-27 3 1 3-13 3 6 3 12 3 5 3-2 3 3 3 22 3-29 3-9 3-55 3 39 3-39 3 29 3 68 3 6 3-71 3-6 3-4 3 16 3 32 3-22 3-40 3-52 3 57 3 9 3 43 3-74 3 29 3 1 3-63 3-77 3 53 3-56 3 110 3 17 3 44 3-32 3 33 3 22 3-26 3 18 3-70 3 12 3-62 3-10 3 23 3-8 3 78 3 3 3-86 3 37 3 42 3-44 3 76 3-88 3 62 3-53 3-42 3 83 3 18 3 61 3-25 3-51 3-6 3 27 3-31 3 61 3-28 3 8 3 34 3-15 3 19 3-30 3 22 3-9 3-12 3 9 3 14 3-24 3-10 3 21 3 8 3-40 3 51 3-12 3-12 3-19 3 25 3-7 3-1 3-3 3-4 3-2 3-5 3-14 3-19 3 42 3-38 3-32 3-39 3-102 3-8 3 29 3-23 3 103 3 81 3 45 3 45 3-10 3-57 3 6 3-24 3 10 3-2 3 14 3-39 3-29 3-9 3-116 3-71 3 73 3 48 3 88 3 73 3 15 3 1 3-6 3-6 3-4 3-7 3 12 3 8 3 12 3-2 3-18 3-6 3 6 3-21 3 22 3-23 3 4 3-8 3 24 3 6 3-22 3 15 3-6 3-3 3-5 3-4 3-24 3 20 3-9 3 17 3-17 3 14 3 4 3 1 3 0 3-25 3 19 3 10 3-17 3-20 3-22 3 35 3-4 3 5 3-2 3 29 3-18 3 24 3-19 3 22 3-25 3-3 3 9 3-18 3 2 3 33 3-24 3 5 3-19 3 6 3-7 3 13 3 1 3 25 3-6 3 18 3 47 3 3 3-39 3-2 3-45 3-6 3 12 3-15 3 29 3-31 3 7 3-3 3-16 3-4 3-11 3-16 3-15 3 33 3-16 3 6 3 12 3 6 3-13 3-19 3-31 3-50 3-30 3-56 3-98 3-78 3 68 3 145 3 156 3 36 3-36 3 19 3-9 3 35 3 15 3-3 3 4 3-13 3-11 3-8 3 13 3-13 3 18 3 9 3-36 3 29 3 2 3-18 3 31 3-22 3 9 3 20 3-22 3-25 3 26 3 9 3-26 3 36 3-8 3-24 3 1 3-10 3 33 3-1 3 3 3-31 3 5 3 1 3 3 3-1 3 6 3 9 3 29 3-31 3-5 3 3 3-15 3 19 3-20 3 23 3 4 3 3 3-1 3-4 3-11 3-5 3 14 3-16 3 30 3-17 3 20 3-19 3 14 3-11 3-10 3 33 3-14 3 1 3 7 3-12 3 8 3 5 3-23 3 3 3 10 3-22 3 29 3-12 3-5 3 12 3-16 3 24 3 24 3-23 3-22 3-14 3 13 3 11"/>
<path stroke="#404040" d="M3432 1152l3 19 3-28 3-6 3 23 3-9 3 12 3-1 3-17 3 2 3 17 3-17 3 22 3-18 3 18 3-13 3-23 3 34 3-25 3-6 3 23 3-31 3 5 3 12 3-28 3-28 3 76 3-71 3 18 3 42 3-54 3 3 3-11 3 2 3-33 3-45 3 5 3-4 3-74 3 2 3 93 3 147 3 105 3-108 3-91 3-36 3-11 3-27 3 35 3 12 3 9 3 10 3 32 3 5 3-10 3-14 3-3 3 10 3 0 3 8 3 16 3 7 3-32 3 21 3-1 3 21 3-4 3-62 3 11 3 41 3-1 3-17 3 17 3-3 3-19 3 30 3 18 3-13 3-9 3-37 3 57 3-28 3-37 3 83 3-14 3-17 3 6 3 5 3 34 3-55 3-21 3-11 3 33 3 26 3-88 3 0 3 77 3-9 3-1 3-17 3 24 3 7 3-41 3-11 3-14 3 81 3-65 3 59 3-52 3-35 3 51 3-21 3-50 3 11 3-73 3 75 3-9 3 66 3-12 3-1 3-9 3 15 3 54 3-30 3 9 3-36 3-45 3-28 3 29 3-43 3 144 3-41 3-7 3-31 3-3 3 30 3 0 3 10 3 22 3-75 3-29 3 36 3 27 3 32 3 22 3-48 3 34 3-13 3-37 3 29 3 3 3 22 3 9 3-44 3 26 3 24 3-17 3 4 3 10 3 11 3 14 3-15 3-4 3-23 3 29 3 10 3-20 3-11 3 41 3-58 3 10 3 8 3-6 3-5 3-10 3 33 3-54 3 35 3-40 3 47 3-52 3-35 3-36 3-66 3-22 3 45 3 17 3 20 3 27 3 62 3 55 3-7 3 24 3-24 3-16 3-16 3-22 3-12 3 1 3-25 3-73 3-52 3-71 3-26 3 50 3 127 3 71 3 36 3-19 3 28 3-9 3 11 3-12 3-4 3 6 3 16 3-14 3-21 3 27 3 3 3 4 3-13 3-14 3-30 3 42 3-11 3 8 3 17 3-39 3 8 3 6 3 9 3 3 3-10 3 5 3 10 3 5 3 6 3-5 3-24 3 12 3 10 3-31 3 17 3-25 3 1 3-15 3-10 3 16 3 36 3 19 3-26 3 6 3-1 3-16 3 19 3 41 3-18 3-40 3 19 3 20 3-26 3-7 3-7 3 4 3-13 3-8 3 27 3-33 3 33 3 5 3 1 3 5 3 47 3 15 3-10 3-15 3-32 3-6 3-19 3 16 3-11 3-31 3 26 3-22 3 7 3-15 3-14 3-9 3-1 3-12 3 14 3-15 3 18 3-21 3 14 3-53 3 6 3-54 3-84 3-72 3-117 3-65 3 46 3 187 3 276 3 87 3-79 3-32 3 10 3-7 3 14 3 4 3 16 3-11 3-28 3 15 3 13 3 5 3-20 3-21 3 6 3 15 3-3 3-11 3-2 3 7 3-11 3 47 3-17 3-21 3-16 3 30 3-13 3 11 3-27 3 36 3 0 3 3 3-40 3-11 3 31 3 29 3-17 3-25 3 13 3 23 3 1 3-1 3-18 3 10 3 9 3-12 3 5 3-12 3 33 3-23 3 16 3-22 3 20 3-12 3-11 3 17 3 1 3-4 3-3 3-8 3-5 3 32 3-15 3-16 3 28 3-14 3-7 3 16 3-10 3 22 3-30 3 11 3-11 3 5 3-9 3 15 3 5 3-5 3-12 3 25 3-6 3 4 3-21 3 5 3-21 3 28 3 4 3-25 3 7"/>
<path stroke="#0000ff" d="M3432 1145l3-10 3-9 3-8 3 31 3-16 3 6 3 19 3-59 3 27 3 0 3 11 3-1 3-24 3 34 3-29 3 33 3 7 3-27 3-17 3 1 3 15 3-8 3-13 3 21 3-21 3 55 3-58 3-11 3 74 3-66 3-14 3-3 3-4 3 42 3-58 3 3 3-36 3-18 3-6 3 84 3 176 3-48 3-53 3-61 3-26 3-43 3 60 3 1 3-25 3 28 3 7 3-21 3-9 3 8 3-20 3 53 3-28 3-22 3 24 3-13 3 30 3 15 3-11 3-16 3-18 3 7 3 8 3 17 3-28 3 35 3-47 3 35 3-6 3-2 3 25 3 14 3-22 3 0 3 1 3-6 3-10 3 8 3 0 3 31 3-13 3 15 3-14 3 6 3 0 3-64 3 31 3 9 3-66 3 53 3-62 3 52 3 47 3-22 3-17 3 52 3-59 3 50 3-81 3-22 3 48 3-27 3 57 3-40 3-45 3 55 3 0 3-57 3-46 3-13 3 41 3 63 3-56 3 77 3 47 3-82 3 28 3 44 3 25 3-40 3-14 3-62 3 26 3-32 3 58 3 33 3-93 3 6 3-55 3 69 3 21 3 9 3-5 3 5 3-93 3-17 3 104 3 1 3 21 3 8 3 28 3-46 3 30 3-10 3-68 3 116 3-6 3-44 3 13 3 29 3-1 3 2 3-22 3 1 3 25 3-28 3 32 3-46 3 43 3 2 3-20 3-3 3-2 3 33 3-32 3-3 3 21 3-3 3-60 3 41 3 13 3-26 3-13 3 38 3-42 3-17 3-36 3-58 3-37 3 5 3 41 3 9 3 62 3 13 3 44 3 6 3-6 3-12 3 15 3-18 3-13 3 15 3-18 3-37 3 32 3-77 3-55 3-67 3-2 3 76 3 84 3 56 3 4 3-1 3-22 3 27 3-4 3 5 3-4 3 0 3 23 3-11 3-1 3 4 3-24 3-3 3 4 3-19 3 31 3-2 3-13 3-10 3 21 3 6 3 0 3-4 3-7 3 5 3-29 3 24 3-1 3 8 3-17 3 34 3-51 3 11 3-18 3 8 3-14 3-20 3 14 3-24 3 18 3 26 3-5 3-13 3 19 3-6 3 18 3 1 3-18 3 14 3-6 3 12 3-8 3 14 3-9 3-33 3 36 3 1 3-27 3-11 3 15 3 13 3 2 3-19 3 3 3 27 3 29 3 8 3-23 3 7 3-11 3-21 3 14 3 16 3-30 3 30 3-32 3-3 3-15 3 6 3-31 3 16 3-11 3 13 3 11 3 11 3-11 3-5 3-27 3-14 3 28 3-64 3-49 3-35 3-94 3-43 3 25 3 156 3 161 3 0 3 3 3-14 3-2 3 31 3 2 3 9 3 4 3-26 3 38 3 6 3-21 3 6 3-22 3 23 3-6 3-22 3 21 3 2 3-12 3-16 3 13 3 12 3-7 3-24 3 35 3-34 3 55 3-20 3 16 3-34 3 8 3-18 3-1 3-4 3 12 3-2 3 13 3 2 3-3 3-15 3 27 3-31 3 13 3-11 3-3 3 18 3-17 3 9 3 0 3 15 3-33 3 20 3-1 3-10 3 23 3-35 3 12 3-7 3 31 3-34 3 26 3 2 3-14 3-14 3 5 3-6 3-8 3 32 3 1 3-10 3 3 3-15 3 6 3 5 3-10 3 5 3-21 3 13 3 11 3 7 3-7 3-14 3 2 3-4 3 10 3 3 3 8 3 18 3-5"/>
<path stroke="#008000" d="M3432 1094l3 28 3 30 3-33 3-8 3-24 3 32 3-1 3-1 3 35 3-45 3-7 3 1 3 29 3-37 3 13 3 20 3 7 3-44 3 45 3 5 3-11 3-8 3-4 3-20 3 11 3 31 3-43 3 35 3-18 3-26 3-17 3 12 3-18 3-25 3-29 3-37 3-18 3-15 3 88 3 134 3 98 3-79 3-38 3-70 3 13 3-43 3 10 3 22 3 18 3-19 3-7 3 46 3-32 3 32 3-20 3 22 3-26 3 21 3-28 3 23 3-27 3 43 3-14 3-8 3 48 3-32 3-26 3 6 3 11 3 6 3 7 3 13 3-49 3 77 3-54 3 11 3-24 3 45 3-19 3-15 3 10 3 23 3-31 3 40 3-55 3 42 3-53 3 68 3-26 3-74 3 51 3 36 3-35 3 3 3 16 3-1 3-32 3 50 3-10 3-41 3 21 3-18 3-45 3 10 3 23 3 61 3-43 3-5 3-6 3-65 3 48 3-36 3-22 3 41 3 51 3-16 3 27 3-42 3 12 3-11 3 71 3-36 3 1 3-46 3-32 3-31 3-28 3 144 3-10 3-28 3 25 3-69 3 47 3-61 3 79 3-22 3 47 3-12 3-85 3-36 3 98 3-10 3 82 3-74 3 18 3 22 3-21 3-3 3 5 3 5 3 29 3 4 3 10 3-2 3-35 3-28 3 33 3 13 3 0 3-5 3 18 3-28 3 29 3-11 3-18 3 9 3 12 3-7 3 14 3 8 3-6 3-23 3 6 3 21 3-37 3-2 3 18 3-27 3-20 3 40 3-118 3-78 3 8 3 36 3-36 3 20 3 62 3 62 3 49 3-7 3-26 3 36 3 1 3-15 3-1 3-35 3-39 3-10 3-5 3-73 3-70 3-9 3 54 3 114 3 79 3-2 3-4 3 16 3-3 3 11 3 7 3-1 3-7 3-18 3 12 3-27 3-11 3-25 3 39 3 4 3 2 3-16 3-11 3-14 3 36 3-5 3 2 3-6 3 10 3-22 3 22 3-16 3 19 3-1 3-12 3-9 3 19 3-25 3 7 3 4 3-15 3 12 3-4 3-9 3-23 3-1 3 0 3 32 3-3 3 0 3 16 3-41 3 28 3 34 3-28 3 9 3 0 3 11 3-23 3 19 3-4 3-7 3-25 3 25 3-16 3-7 3 3 3 11 3 23 3-41 3 44 3 19 3 15 3-11 3 5 3-35 3-26 3-3 3-24 3 51 3-48 3 27 3-11 3-31 3-5 3-9 3 10 3-10 3 8 3-7 3 12 3-1 3 3 3-9 3-18 3-8 3-25 3-66 3-67 3-70 3-67 3 27 3 184 3 197 3 67 3-67 3-12 3-19 3 11 3 23 3-34 3 9 3 4 3 23 3 10 3-27 3-28 3 19 3 2 3-8 3 21 3-13 3-11 3 31 3-27 3 17 3-6 3 23 3-8 3 5 3-17 3-6 3 23 3 12 3-38 3 20 3 7 3 8 3-35 3 2 3 17 3-16 3 18 3-22 3 39 3-28 3 28 3-32 3-15 3 28 3-14 3 13 3-11 3 2 3 30 3-34 3 20 3-15 3-3 3 33 3-11 3-15 3 1 3 5 3-5 3-3 3 15 3-17 3-1 3 16 3-8 3-13 3-3 3 21 3 11 3-10 3-17 3 21 3-16 3 0 3 2 3-7 3 9 3-11 3 0 3 11 3-22 3 21 3 9 3-5 3-1 3-1 3-15 3-8 3 34"/>
<path stroke="#ff0000" d="M3432 1165l3 5 3-37 3 17 3 2 3 4 3-32 3 43 3-22 3 28 3-40 3 26 3-42 3 32 3-8 3-17 3 29 3-25 3 37 3-28 3 3 3-4 3-6 3 23 3-27 3-22 3 38 3-29 3-7 3-33 3 27 3-18 3-25 3-12 3 19 3-53 3-39 3-52 3 16 3 106 3 114 3 140 3-126 3-62 3-53 3-2 3-8 3-11 3 55 3-15 3 6 3 7 3-1 3 32 3-26 3 4 3 27 3-2 3 6 3-30 3 27 3-26 3 22 3-21 3 8 3 21 3-2 3-31 3 46 3 11 3-33 3-8 3 32 3-21 3 21 3-1 3-10 3-12 3 24 3-9 3-2 3-23 3 31 3 18 3-17 3-19 3 10 3 27 3-56 3 36 3-26 3-34 3 47 3-4 3-63 3 23 3 68 3 17 3-31 3-7 3 44 3-84 3 16 3-24 3 8 3 31 3-29 3 23 3 33 3-120 3 2 3 18 3-27 3 23 3-3 3 57 3 5 3-8 3 3 3 49 3-86 3 98 3-65 3 83 3-86 3-57 3-52 3 44 3 14 3 20 3-10 3 41 3-63 3 33 3 35 3 17 3-46 3 79 3-16 3-23 3 63 3-81 3 63 3 16 3-69 3 52 3 15 3-17 3-11 3 27 3 27 3-41 3 20 3-50 3 9 3 1 3 36 3-39 3 5 3 32 3-21 3 12 3-29 3 48 3-37 3 23 3 17 3-19 3 7 3-23 3-9 3 12 3 9 3-9 3 16 3-5 3-31 3-19 3 2 3-22 3-3 3-59 3-65 3-20 3 58 3-20 3 36 3 64 3 29 3 38 3 18 3-54 3 57 3-53 3 30 3-23 3-15 3-5 3-19 3-20 3-54 3-64 3-19 3 72 3 77 3 94 3-10 3 7 3-18 3-12 3-8 3 11 3 3 3-10 3-2 3-7 3 1 3-7 3 8 3 9 3-2 3 9 3 4 3-8 3-17 3 1 3 12 3 1 3-36 3 31 3 11 3-8 3-21 3 23 3-31 3 11 3 9 3 0 3-13 3 37 3-35 3 4 3-1 3-6 3 16 3-39 3-17 3 63 3-24 3 5 3 5 3 7 3-7 3 33 3-11 3-13 3 34 3-18 3 10 3-24 3 5 3-9 3 6 3-8 3-12 3-12 3 7 3 25 3-17 3 12 3 9 3 12 3 6 3 11 3 21 3-45 3 9 3-16 3-15 3 31 3-15 3-12 3 12 3-25 3-10 3-11 3 31 3-22 3 2 3-1 3 4 3-19 3-16 3 24 3-14 3-13 3 2 3-29 3-58 3-24 3-85 3-68 3 1 3 166 3 256 3-25 3-50 3-16 3-7 3-20 3 24 3 24 3-7 3-35 3 47 3-14 3-14 3 16 3-3 3-38 3 28 3 17 3-19 3-15 3 28 3-6 3-5 3 16 3-22 3-9 3 10 3-4 3-7 3 8 3-25 3 38 3-21 3 10 3 22 3-10 3-13 3 3 3 22 3-37 3 13 3 16 3-9 3-15 3 12 3-13 3 19 3 3 3-18 3 36 3-42 3 22 3-14 3-2 3 13 3-3 3 11 3 23 3-11 3-12 3-1 3-2 3-5 3-4 3 8 3-5 3 3 3-4 3 41 3-30 3-12 3 14 3-11 3 19 3-6 3 14 3-10 3 11 3 3 3-11 3 9 3-4 3 8 3-20 3 2 3-7 3 7 3 1 3 7 3-10 3 9 3 6"/>
<path stroke="#00bfbf" d="M3432 1115l3 10 3 21 3-46 3 32 3 11 3 18 3-36 3 9 3 2 3-2 3-9 3-8 3-13 3 16 3 10 3-51 3 27 3 18 3 14 3-52 3 36 3-16 3 0 3-9 3-15 3 25 3-20 3-17 3 33 3-19 3-8 3-3 3-31 3-26 3 4 3-47 3-50 3-20 3 69 3 41 3 179 3-38 3-54 3-65 3-31 3 40 3-3 3 14 3 48 3-10 3-28 3 55 3-20 3 21 3-29 3 0 3-10 3 25 3 20 3-23 3 20 3-29 3 16 3-4 3-14 3 33 3 9 3-60 3 53 3-22 3-6 3 28 3 10 3-19 3 0 3-15 3-15 3 46 3-30 3 1 3 13 3-26 3 4 3 58 3-34 3-28 3 23 3 5 3 49 3-100 3 35 3-33 3-28 3 49 3-31 3 5 3 12 3 56 3-1 3-45 3-35 3 33 3 5 3-54 3 22 3 15 3 19 3-9 3-3 3-18 3-22 3-82 3-7 3 13 3-10 3 90 3 8 3 3 3 52 3-2 3-18 3-31 3 43 3-60 3 6 3-24 3 26 3 23 3 34 3 9 3-79 3 39 3-73 3 134 3 26 3-118 3 46 3-10 3-47 3 27 3-6 3 32 3 57 3-79 3 66 3-36 3 23 3-38 3 35 3-30 3 4 3 41 3-41 3 38 3-8 3 5 3-28 3 23 3 21 3-26 3-22 3 27 3-15 3 22 3-10 3-12 3-7 3 19 3 0 3 21 3-5 3-9 3 18 3-26 3-9 3-13 3 22 3-35 3 7 3-40 3-39 3-85 3-29 3-20 3 61 3-33 3 107 3 56 3 28 3 85 3-71 3 9 3 11 3-28 3-2 3-8 3-3 3-22 3-24 3-59 3-53 3-65 3 11 3 101 3 65 3 85 3 8 3-33 3 31 3 3 3-28 3 34 3-22 3 15 3-2 3-8 3-40 3 30 3 1 3-5 3 19 3 30 3-65 3 28 3-14 3-8 3 44 3-30 3-3 3 5 3-12 3-11 3 36 3-26 3 25 3-25 3 6 3 26 3-43 3 21 3 7 3-16 3-1 3-5 3 15 3-82 3 53 3 7 3 19 3-4 3 24 3-34 3 9 3-14 3 28 3-14 3 30 3 0 3-22 3 14 3-30 3 25 3-17 3-3 3-3 3-28 3 7 3 38 3 10 3-10 3 20 3-7 3 77 3-51 3-7 3-31 3-2 3 5 3-44 3 36 3-8 3-15 3-4 3 9 3-42 3-10 3-3 3-19 3 17 3-3 3 40 3-2 3-44 3 19 3-19 3-23 3-42 3-48 3-21 3-77 3-106 3-28 3 73 3 160 3 123 3 10 3 0 3 5 3 21 3 21 3-14 3 25 3 4 3-20 3 23 3-10 3 4 3-11 3 28 3-31 3 20 3 6 3 11 3-40 3 36 3-14 3 4 3-22 3 35 3-53 3 62 3-29 3-3 3-4 3-13 3 20 3 14 3-26 3 12 3 13 3-22 3-3 3 6 3-7 3 23 3-25 3 30 3-3 3 0 3 2 3-22 3 17 3-11 3-8 3 21 3 6 3-12 3-3 3 3 3 3 3-14 3 44 3-5 3-33 3 24 3-16 3-14 3-4 3 23 3-10 3-3 3 7 3-6 3 16 3-30 3-13 3 23 3 13 3 2 3 7 3-31 3 5 3 15 3-10 3 7 3 15 3-19 3-6 3 35 3-8 3 2 3-25 3-3 3 30 3-22"/>
<path stroke="#bf00bf" d="M3432 1096l3 37 3-24 3 14 3-37 3 33 3 18 3-1 3-27 3-8 3 13 3 22 3 0 3-10 3 19 3-13 3 19 3-7 3-28 3-5 3 30 3 15 3-45 3 15 3-3 3 35 3-60 3 2 3-16 3 14 3-10 3 5 3 0 3-53 3 46 3-51 3-5 3-70 3 33 3-80 3 61 3 104 3 176 3-44 3-82 3-47 3-47 3-28 3 18 3 2 3 38 3 23 3-3 3-9 3 30 3-7 3 30 3-14 3-23 3 1 3 7 3 28 3-15 3 6 3-48 3 41 3-19 3 4 3-7 3 44 3-46 3 20 3 1 3-3 3 3 3 10 3 9 3 13 3-23 3 12 3 21 3-5 3-10 3 23 3-59 3 28 3-5 3 10 3 40 3-20 3 2 3-35 3-14 3-7 3 36 3-6 3-14 3 3 3-41 3 98 3-51 3 23 3-7 3-63 3 83 3-66 3 42 3-57 3 0 3 55 3-5 3-125 3 54 3-26 3-48 3-23 3 100 3 26 3 9 3-8 3 44 3-35 3 53 3-40 3 64 3-101 3 7 3-135 3 78 3 33 3 38 3 51 3-85 3 5 3 33 3-25 3 20 3 16 3-3 3-42 3 60 3 32 3 37 3-86 3-9 3 68 3-52 3 16 3-23 3 3 3-14 3 55 3 4 3-64 3 74 3-19 3-7 3-5 3-6 3 19 3-9 3 21 3 1 3-19 3 11 3-14 3 3 3-8 3 4 3-2 3-8 3 11 3 24 3-44 3 30 3-7 3-30 3-3 3 18 3 11 3-29 3-15 3-50 3-44 3-30 3-20 3 23 3 0 3 43 3 61 3 47 3 16 3-6 3-18 3-15 3 1 3-22 3 15 3-6 3-34 3-26 3-27 3-69 3-87 3 66 3 72 3 110 3 46 3 43 3-67 3-7 3 4 3-11 3 14 3 25 3-25 3 15 3 15 3-39 3 19 3-17 3 33 3-24 3-2 3 11 3-16 3 9 3-25 3 24 3-10 3 16 3-7 3-8 3 9 3 20 3-2 3-34 3 58 3-41 3 14 3 3 3 4 3-28 3 32 3-17 3-44 3 6 3-4 3-9 3 20 3 9 3 23 3 2 3-24 3 32 3-16 3-4 3 13 3-5 3-24 3-8 3 26 3 5 3-17 3 22 3-36 3 4 3-43 3 25 3 6 3 41 3 2 3 5 3-7 3 33 3-6 3-11 3-38 3 21 3 5 3-27 3 10 3 8 3-15 3-1 3-12 3-14 3 7 3-27 3 6 3-10 3 15 3 22 3-29 3 22 3-34 3 26 3-46 3-16 3-8 3-63 3-75 3-85 3 35 3 121 3 212 3 60 3-63 3-21 3-20 3 0 3 9 3 0 3 10 3 0 3 5 3-14 3 21 3 9 3-10 3-4 3-1 3 7 3-25 3 32 3-4 3 0 3-5 3-15 3 11 3-8 3-4 3 29 3-4 3-5 3-16 3 29 3-20 3 5 3-13 3 26 3-8 3-12 3 5 3 8 3-32 3 30 3-2 3-7 3 3 3-16 3 7 3 9 3-3 3 36 3-22 3-22 3 22 3 12 3-20 3 10 3 19 3-34 3 25 3 25 3-28 3-14 3 21 3-9 3 18 3-31 3 31 3-5 3-15 3-6 3 14 3 15 3-23 3 4 3-1 3-5 3 17 3-13 3-9 3-1 3-11 3 9 3 18 3 22 3-52 3 46 3-25 3-13 3 31 3-33 3 20"/>
<path stroke="#bfbf00" d="M3432 1158l3-30 3-31 3 39 3-10 3-7 3 21 3 3 3 20 3-4 3 6 3-36 3 18 3-10 3-21 3 19 3-23 3 19 3-6 3 40 3-27 3-1 3-4 3-1 3-12 3-13 3 52 3-39 3 11 3-3 3 0 3-24 3-28 3 23 3-56 3-11 3-35 3-28 3-21 3 32 3 138 3 106 3-78 3-55 3-16 3-4 3-16 3-6 3 55 3-25 3 27 3-32 3 53 3-49 3 27 3-22 3 26 3 11 3 2 3-26 3-3 3 32 3-39 3 52 3-22 3 13 3-7 3-13 3 16 3-85 3 48 3 53 3-28 3-59 3 70 3-11 3 38 3-44 3-5 3 28 3-38 3 29 3-30 3 25 3-24 3 40 3-31 3-7 3 10 3 23 3-45 3 39 3-38 3 4 3-101 3 27 3 49 3 38 3 16 3-22 3 14 3-37 3 13 3-62 3 30 3 42 3 53 3-51 3 6 3-26 3-20 3-3 3-114 3 48 3-17 3 48 3 63 3 74 3-88 3 69 3 12 3-44 3-16 3 58 3-76 3 37 3-78 3 27 3 15 3 13 3 66 3-72 3-18 3 35 3 4 3 1 3 20 3-1 3-54 3 22 3 47 3 34 3-59 3 31 3 6 3 46 3-83 3 6 3 16 3 17 3-47 3 46 3 26 3-53 3 21 3 40 3-49 3 33 3 2 3 16 3 12 3-25 3 16 3-2 3 20 3-65 3 26 3-31 3 38 3 7 3-20 3 12 3-36 3 27 3 6 3 12 3-26 3-12 3 16 3 1 3-20 3-29 3-71 3-81 3-12 3 44 3-26 3 115 3 40 3 44 3 17 3-35 3-18 3-2 3 3 3 16 3-36 3 9 3-16 3-8 3-71 3-60 3-26 3 16 3 63 3 81 3 36 3 12 3-22 3 6 3 17 3-13 3-12 3 38 3-34 3 21 3-27 3 19 3 16 3-42 3 3 3 27 3-35 3 10 3-13 3-11 3 8 3-11 3 35 3-13 3 14 3-27 3 12 3-6 3-10 3 5 3 1 3 0 3 7 3 23 3-31 3-8 3-10 3 8 3-6 3-20 3-25 3 2 3 37 3 49 3-46 3-19 3 6 3 8 3 5 3 30 3-34 3 20 3-8 3-3 3 25 3-50 3 50 3-7 3-44 3 15 3-20 3-6 3 41 3 13 3-14 3 23 3-3 3 52 3 11 3-16 3-30 3-16 3 19 3-13 3-3 3-12 3-6 3-5 3 8 3-7 3 22 3-42 3 13 3-1 3-27 3 49 3-3 3-18 3-9 3-16 3 11 3-58 3-34 3-22 3-80 3-64 3-49 3 63 3 154 3 141 3-13 3-11 3 14 3 7 3 37 3-26 3 0 3 18 3 0 3 9 3-36 3 25 3-18 3 7 3 18 3-42 3 15 3 13 3-9 3-31 3 24 3 19 3-18 3-3 3 1 3 15 3-14 3-15 3 26 3 6 3 6 3-35 3 17 3 20 3-28 3 15 3-6 3 7 3-17 3 19 3-14 3 2 3 31 3-6 3-39 3 24 3-26 3 1 3 22 3 2 3-33 3 11 3 18 3 8 3-18 3 10 3-12 3 4 3 9 3-11 3 14 3-11 3 3 3 12 3-29 3 18 3-32 3 24 3 11 3 11 3 4 3-29 3 21 3-11 3-8 3-3 3 38 3-32 3-1 3 5 3-6 3 23 3 6 3-29 3 22 3 9 3-7 3-4 3 2 3-4"/>
<path stroke="#404040" d="M3432 1118l3-1 3 10 3-8 3-34 3 23 3-25 3 47 3 9 3-11 3-4 3-32 3 21 3 23 3-26 3 4 3 27 3-7 3-9 3-25 3 35 3-33 3 29 3-27 3-34 3 33 3 42 3-46 3 23 3-45 3 21 3-34 3-13 3-1 3 15 3-42 3-20 3-38 3-75 3 98 3 74 3 194 3-3 3-91 3-28 3-39 3-8 3 3 3-36 3 61 3-6 3-10 3 15 3 0 3 25 3-25 3 15 3-5 3-12 3 9 3-2 3-10 3 44 3-31 3-15 3 14 3 8 3 7 3-39 3 43 3-27 3 23 3-42 3 3 3 29 3-8 3 45 3-44 3-27 3 48 3-1 3-21 3-8 3 25 3 31 3 14 3-33 3-53 3 10 3 14 3 20 3-46 3 30 3 11 3-107 3 123 3-47 3-53 3 41 3 4 3-17 3-31 3 55 3-34 3-1 3-2 3-39 3 73 3-25 3 9 3-63 3 9 3 20 3-75 3 2 3 61 3 82 3 12 3 51 3-67 3-26 3 28 3 7 3-41 3-6 3-18 3-73 3 103 3-1 3 42 3 2 3-27 3 7 3 24 3-65 3 66 3-43 3 68 3-28 3-39 3 5 3-14 3 35 3 36 3-25 3 8 3 2 3-27 3 17 3-26 3 13 3 13 3-22 3 34 3-20 3 7 3 12 3 8 3-27 3 40 3-28 3 1 3-4 3 1 3 17 3-7 3-10 3 10 3 0 3-20 3 11 3 28 3-35 3 13 3 3 3-10 3-30 3 33 3-21 3-22 3-12 3-26 3-61 3-72 3-25 3 32 3-10 3 98 3 50 3 48 3 3 3 24 3-51 3 21 3-10 3-7 3 4 3-4 3-46 3-6 3-27 3-105 3-54 3-25 3 102 3 98 3 44 3 49 3 16 3-54 3 3 3 16 3 27 3-4 3 4 3 13 3-29 3-11 3 27 3-9 3 2 3-2 3-28 3 40 3-23 3 18 3-15 3-1 3 19 3-27 3 7 3-6 3-2 3 15 3 16 3-33 3 12 3-2 3 26 3-15 3-28 3-1 3 25 3-12 3-7 3 4 3-29 3 4 3 25 3 1 3-13 3 18 3-2 3-2 3 23 3-19 3 2 3 16 3-18 3-23 3 41 3 2 3 6 3-56 3-14 3 20 3 4 3 2 3 37 3 7 3-10 3 9 3 19 3 15 3 13 3-27 3-15 3-10 3 20 3-34 3 2 3-5 3-4 3 13 3-11 3-8 3 4 3-14 3-47 3 13 3 34 3-7 3-23 3 1 3 26 3-2 3 12 3-38 3-42 3-83 3-56 3-48 3-102 3 84 3 146 3 127 3 34 3-26 3 22 3-18 3 46 3-41 3 10 3 5 3 12 3-18 3 5 3 9 3-4 3-6 3-7 3 5 3-9 3 1 3 14 3-9 3-15 3 11 3-1 3-9 3 34 3-23 3 12 3 17 3-35 3 1 3 7 3-8 3 4 3-6 3 31 3-17 3-15 3 42 3-20 3-4 3-5 3-7 3 8 3 28 3-23 3-16 3 27 3-23 3 3 3 2 3-6 3 7 3 20 3-27 3 9 3 8 3-13 3 0 3 18 3 2 3-25 3 11 3-11 3 14 3-27 3 8 3 12 3 3 3-20 3 41 3-25 3-10 3-5 3 33 3-21 3-1 3-6 3 22 3-7 3 3 3-2 3-2 3 0 3-12 3 14 3-6 3-3 3 23 3-28 3 25"/>
<path stroke="#0000ff" d="M3432 1125l3 47 3-29 3-6 3 24 3-39 3 30 3-43 3 6 3 21 3 14 3-63 3 59 3-32 3 6 3-2 3-5 3-22 3 31 3 6 3-24 3-17 3 37 3-22 3 6 3-13 3 21 3-8 3 2 3-13 3-16 3-4 3-37 3 30 3-40 3-53 3 4 3-23 3-32 3 10 3 39 3 157 3 161 3-146 3-51 3-20 3-44 3 29 3-43 3 59 3 24 3-14 3 24 3-15 3-15 3 11 3-17 3 23 3 29 3-29 3 8 3 6 3 14 3-61 3 46 3-6 3-11 3 4 3 12 3 9 3 5 3 2 3 41 3-61 3 14 3 15 3-30 3 5 3-16 3 72 3-35 3 28 3-30 3 0 3 3 3-26 3 63 3-11 3-52 3 8 3 13 3 27 3 6 3 25 3-45 3 7 3-21 3-9 3 35 3-9 3-46 3 6 3 24 3-18 3-5 3 16 3 15 3-31 3-47 3 33 3 56 3-12 3-75 3-38 3-7 3-42 3 15 3 59 3 20 3-3 3 16 3 45 3-56 3 43 3-8 3-65 3 21 3-53 3 3 3 41 3-9 3 37 3-29 3-1 3-9 3 44 3-10 3 14 3-7 3 37 3-13 3-73 3 35 3 39 3-11 3 38 3-15 3-37 3-26 3 37 3 51 3-54 3 43 3 11 3-13 3 50 3-37 3 38 3-22 3-1 3 5 3-10 3 2 3 16 3 4 3-31 3 21 3-17 3 4 3 6 3-15 3 15 3-20 3 22 3-23 3-2 3 11 3-25 3 3 3-7 3-6 3-51 3 6 3-59 3-101 3-6 3 37 3 27 3 43 3 83 3 60 3 1 3-23 3 6 3 10 3-34 3 17 3-15 3-7 3-43 3-36 3-63 3-89 3-55 3 92 3 91 3 121 3 41 3-7 3-15 3-18 3 24 3-4 3-7 3 2 3 34 3-49 3 25 3 7 3-11 3-17 3 14 3 21 3-59 3 33 3 5 3-18 3 20 3-42 3 15 3-3 3-3 3 6 3 10 3-2 3 6 3-16 3-8 3-6 3 47 3-28 3 6 3-23 3-11 3 5 3 10 3-26 3 7 3-5 3 3 3 14 3 14 3-4 3 2 3-18 3 56 3-60 3 31 3 17 3 15 3-26 3-2 3-5 3 0 3-16 3-2 3 4 3-9 3-4 3 35 3-23 3 35 3-25 3 19 3 41 3 29 3 1 3-40 3-28 3-8 3-20 3 6 3 23 3-13 3-22 3 14 3-48 3 49 3-50 3 11 3-19 3 4 3-19 3 3 3 29 3-29 3-21 3-23 3-13 3-64 3-97 3-69 3-93 3 10 3 142 3 220 3 99 3-30 3-13 3 31 3-17 3 29 3 17 3-12 3 12 3-25 3 8 3-22 3 23 3 20 3-11 3-31 3 13 3 5 3-23 3 24 3 4 3-1 3-5 3 1 3 7 3-13 3-29 3 26 3 2 3-2 3-6 3 16 3 5 3-18 3 15 3 2 3-17 3 28 3-42 3 13 3-5 3-7 3 31 3-27 3 30 3-3 3-26 3 5 3-18 3 26 3-11 3 18 3 8 3-28 3-2 3 23 3-7 3 7 3-16 3 4 3-11 3 30 3-26 3 17 3 6 3-18 3 13 3-6 3 5 3-19 3 28 3-4 3 4 3 19 3-31 3-7 3 13 3-1 3-28 3 37 3-17 3-20 3 19 3-15 3 30 3-6 3 6 3-8 3-14 3 11"/>
<path stroke="#008000" d="M3432 1105l3 15 3 5 3 20 3-37 3 57 3-42 3 17 3-2 3-29 3 13 3 18 3-26 3 21 3-14 3 3 3 4 3-7 3 3 3 21 3-4 3-20 3-9 3-33 3 57 3-57 3 62 3-54 3-1 3 28 3-48 3-19 3-8 3-16 3-22 3-1 3-24 3-61 3-1 3 16 3 52 3 233 3 39 3-131 3-51 3-64 3 25 3 1 3-1 3 15 3 38 3-28 3 13 3 22 3-9 3 5 3 14 3-14 3 26 3-31 3 33 3-36 3 68 3-83 3 16 3 29 3 5 3-2 3 22 3-39 3 26 3-8 3-11 3 3 3-9 3 25 3-21 3 29 3-38 3 32 3 6 3-1 3 42 3-41 3-47 3 61 3-33 3-9 3 19 3-21 3-29 3 5 3 47 3-46 3-20 3 4 3 47 3-41 3 46 3 23 3-49 3-15 3-19 3 12 3 50 3-48 3-32 3 68 3-16 3 32 3-76 3-63 3-15 3-8 3 21 3 44 3 42 3-24 3 1 3-26 3 117 3-34 3 42 3-19 3-15 3-64 3 48 3 12 3-1 3 32 3 0 3-36 3-15 3-90 3 44 3 12 3 24 3 29 3-96 3 67 3-9 3-25 3 61 3-2 3-13 3 37 3 35 3-57 3 35 3 1 3 18 3-29 3-15 3 39 3 0 3 3 3-9 3-3 3-14 3 19 3-22 3 21 3 10 3-2 3-34 3 20 3-12 3 44 3-23 3-4 3-12 3 17 3-10 3-3 3 12 3-1 3-34 3 24 3-7 3-26 3 9 3-43 3-60 3-57 3-1 3-1 3-2 3 89 3 38 3 45 3 47 3-33 3-6 3-7 3-1 3-12 3-35 3 25 3-14 3-35 3-86 3-41 3-79 3 21 3 112 3 61 3 56 3 4 3 16 3-11 3 42 3-14 3 13 3 1 3-7 3-9 3-13 3-5 3-7 3 29 3 0 3 9 3-11 3-17 3 5 3-23 3-9 3 42 3-31 3 20 3 25 3-8 3 13 3-54 3 27 3-10 3 1 3 19 3-42 3 40 3 6 3-7 3-8 3-17 3 6 3-19 3-19 3-3 3 34 3-10 3 27 3-33 3 29 3 13 3-29 3 24 3-6 3 21 3-39 3 26 3-2 3 14 3-17 3-4 3 18 3-20 3-23 3 9 3 40 3-16 3-8 3 3 3 2 3 33 3 45 3-25 3-22 3-10 3 3 3 2 3-24 3 21 3-23 3-6 3-23 3-10 3-6 3-27 3 14 3-14 3 17 3 12 3 38 3-46 3-18 3 26 3-29 3-29 3-63 3-27 3-95 3-126 3-52 3 51 3 204 3 190 3 71 3-74 3 6 3-10 3-2 3 25 3-3 3-7 3 17 3 17 3-24 3 16 3 5 3-17 3 24 3-21 3 28 3-29 3 12 3-1 3 2 3 0 3 4 3 6 3-14 3 11 3-54 3 46 3 8 3-46 3 33 3 5 3-40 3 50 3-24 3 16 3-18 3-13 3 16 3 17 3-19 3 30 3-25 3-10 3 9 3 8 3-5 3 8 3-2 3 8 3-6 3 0 3 21 3-45 3 14 3-4 3 21 3-30 3 15 3 9 3-11 3 20 3-21 3 1 3-1 3-4 3 14 3 0 3 8 3-23 3 1 3 20 3 10 3-41 3 15 3-3 3 22 3-27 3 30 3-29 3-13 3 22 3-6 3-7 3 2 3-2 3 3 3-3 3 12 3-5"/>
<path stroke="#ff0000" d="M3432 1097l3 92 3-31 3-25 3-14 3 28 3-17 3 2 3 2 3 8 3-7 3-1 3 2 3-17 3 49 3-53 3 24 3-5 3 1 3-3 3-26 3 42 3-32 3 16 3-5 3-45 3 32 3-8 3 0 3 3 3 8 3-33 3-2 3 12 3-61 3 16 3-32 3-32 3-72 3 110 3 125 3 124 3-86 3-63 3-58 3 27 3-41 3 20 3 46 3-13 3-32 3 49 3 9 3-8 3 16 3-32 3 5 3 23 3-26 3-9 3 44 3-43 3 30 3-45 3 35 3-7 3-11 3 19 3-22 3 7 3-12 3 17 3 0 3 0 3-7 3 33 3-29 3 56 3-36 3-6 3 2 3 6 3-5 3 16 3-8 3-13 3-19 3 33 3-21 3 7 3-4 3 18 3 39 3-124 3 81 3-36 3-10 3 67 3 26 3-101 3 22 3 25 3-20 3-6 3-43 3 12 3 22 3 57 3-73 3 4 3-49 3-12 3 15 3-64 3 55 3-11 3 93 3-60 3 95 3-3 3-12 3-34 3-2 3-31 3 31 3-79 3 5 3 2 3 51 3 44 3 19 3-43 3 52 3-32 3 56 3-85 3 93 3-34 3-58 3-13 3 48 3 5 3 13 3 12 3-21 3-30 3 26 3 26 3 11 3-8 3 19 3-14 3-13 3 16 3-28 3 8 3-8 3 30 3-23 3-7 3 2 3 3 3 8 3-39 3 50 3-3 3-24 3-9 3 36 3-47 3-1 3 24 3 1 3 20 3-45 3 10 3-4 3 14 3 14 3 16 3-85 3-40 3-55 3-18 3 29 3-5 3 39 3 29 3 45 3 37 3 2 3-22 3 9 3-27 3 7 3 15 3-32 3 24 3-44 3-67 3-12 3-74 3 12 3 25 3 90 3 61 3 35 3-10 3-16 3-16 3 17 3 12 3 11 3-19 3 6 3 6 3 0 3 3 3 5 3-29 3 17 3 13 3-21 3-7 3 0 3-4 3 12 3 13 3-41 3 20 3 3 3-6 3-10 3 16 3-18 3 23 3-18 3 15 3-6 3 19 3-13 3 2 3 8 3-12 3-43 3-1 3-8 3 48 3-11 3 17 3-6 3 24 3-17 3-2 3 3 3-14 3 14 3-3 3 22 3-15 3 13 3-36 3 21 3 3 3-31 3 35 3 8 3-8 3 3 3 4 3-21 3 31 3 17 3-2 3 18 3-42 3-19 3 17 3-20 3-2 3 17 3 5 3-9 3-26 3 4 3-3 3 10 3-47 3 26 3-22 3 6 3 12 3-30 3 18 3-22 3 0 3-32 3-30 3-51 3-49 3-89 3-58 3 76 3 125 3 213 3 35 3-56 3 2 3-28 3 5 3 8 3-11 3 14 3 30 3-30 3-32 3 25 3 8 3 2 3-12 3 3 3 11 3 6 3-1 3-32 3 47 3-23 3-2 3-18 3 19 3 8 3-33 3 28 3 9 3-35 3 46 3-7 3-26 3-19 3 26 3 16 3-18 3 24 3-13 3-4 3 19 3-7 3-3 3-1 3-5 3 13 3 10 3-7 3-12 3 0 3-17 3 37 3-18 3-4 3-15 3 5 3 13 3-33 3 19 3 12 3 7 3 5 3-11 3-27 3 24 3-4 3-14 3 4 3 19 3-15 3 10 3-26 3 8 3 22 3-14 3-10 3 1 3 6 3-9 3-1 3-1 3 18 3-33 3 32 3-18 3 5 3 0 3-4 3-12 3 9 3-8"/>
<path stroke="#00bfbf" d="M3432 1155l3 21 3-27 3 23 3 15 3-21 3-19 3 21 3-16 3-13 3 23 3-44 3 38 3 0 3-4 3-26 3 36 3-2 3-12 3-19 3-6 3 27 3 0 3 0 3-33 3-16 3-2 3 22 3-49 3-5 3 43 3-20 3-26 3-28 3-33 3-21 3-4 3-42 3-34 3-34 3 95 3 170 3 92 3-82 3-67 3-35 3 19 3-3 3 6 3 31 3-1 3-32 3 35 3 1 3 9 3-2 3 23 3 5 3-4 3-19 3-6 3 17 3 21 3-9 3-4 3-9 3 22 3-25 3-13 3 10 3-18 3 14 3 8 3-4 3 17 3-6 3 6 3 11 3-32 3 27 3-1 3-9 3 38 3-8 3-19 3-25 3-3 3 41 3-10 3-7 3-31 3 48 3-66 3 50 3-37 3-3 3 52 3-57 3 54 3 40 3-31 3-4 3-66 3 43 3-20 3 19 3-26 3-1 3 16 3-35 3 9 3-17 3-64 3-49 3-31 3 72 3 63 3-9 3 66 3-31 3-5 3 23 3 10 3-8 3 11 3 40 3-2 3-151 3-2 3 83 3-3 3-17 3 20 3 5 3 34 3-68 3 37 3 60 3-69 3 5 3-32 3 89 3 3 3 25 3-118 3 71 3 58 3-17 3-27 3 7 3 36 3-31 3 27 3-15 3 20 3-12 3-6 3 31 3-8 3 1 3-4 3-1 3-9 3 4 3-9 3 11 3-14 3 16 3 31 3-48 3 13 3-11 3 0 3 4 3 15 3-18 3-6 3-19 3-24 3 18 3-19 3-25 3-121 3-6 3-13 3 30 3-5 3 76 3 46 3 35 3 34 3-11 3 1 3-20 3 3 3-1 3 3 3-11 3-23 3-38 3-37 3-50 3-98 3 32 3 62 3 77 3 51 3 19 3 17 3-18 3 36 3-1 3 0 3-29 3 4 3 9 3 19 3-46 3 24 3 4 3-3 3 1 3-6 3-24 3 15 3 14 3 17 3-14 3-12 3-10 3 12 3 10 3-18 3-9 3-15 3 12 3 26 3-34 3 3 3 7 3 16 3 10 3-20 3-18 3-11 3-8 3-17 3 22 3-5 3 23 3-14 3 15 3-6 3 9 3-13 3 13 3-6 3 24 3-26 3 1 3 16 3 10 3-17 3-13 3 14 3-34 3-1 3-6 3 33 3-8 3 31 3-20 3 1 3 17 3 40 3-9 3-15 3-17 3-21 3 17 3-20 3 11 3-20 3-5 3 33 3-52 3-17 3 5 3-5 3 3 3 13 3-17 3-17 3-3 3 20 3-27 3-3 3-20 3-39 3-50 3-89 3-68 3-76 3 99 3 202 3 211 3-1 3-94 3 35 3-31 3 14 3 13 3-19 3 0 3 24 3 2 3-10 3-14 3 0 3 13 3 21 3-24 3 14 3-1 3-10 3-40 3 34 3 27 3-7 3-14 3-6 3-1 3 7 3 1 3 8 3-37 3 9 3 13 3 1 3 9 3-13 3-4 3 5 3 4 3 7 3-2 3-7 3 20 3-20 3 10 3-15 3 14 3 1 3 13 3 14 3-27 3 8 3 6 3-8 3-31 3 14 3 18 3-7 3-12 3 22 3-16 3 12 3 21 3-14 3-22 3 10 3 6 3-10 3 8 3-15 3-1 3-6 3 13 3-17 3 6 3 7 3 10 3 1 3-1 3-20 3 17 3-2 3 15 3-13 3-6 3-5 3 10 3-16 3 34 3-18 3 4"/>
<path stroke="#bf00bf" d="M3432 1141l3-18 3 34 3 7 3-24 3 7 3-3 3-9 3-2 3-13 3 59 3-13 3-22 3-19 3 19 3-11 3 21 3-5 3-20 3 8 3 11 3 2 3-27 3 49 3-90 3 53 3-44 3 6 3 62 3-71 3-10 3 32 3-35 3 12 3-44 3-21 3-10 3-52 3-72 3 66 3 82 3 239 3 11 3-73 3-93 3-47 3 30 3 5 3-20 3-24 3 53 3-23 3 7 3 12 3 0 3-21 3-7 3 52 3 3 3-13 3 16 3-32 3 10 3 13 3-13 3-2 3 21 3-49 3 20 3 34 3-27 3-22 3 23 3 23 3-1 3-3 3-14 3 22 3-1 3-32 3 14 3 16 3-13 3 19 3-6 3 15 3-41 3 7 3-7 3 29 3-20 3 13 3-29 3 80 3-73 3 3 3-12 3 46 3-12 3-1 3 24 3-2 3 3 3-56 3-18 3 43 3-79 3 34 3 71 3-56 3-23 3-1 3-62 3 42 3-27 3-15 3 16 3 41 3 43 3 1 3 15 3 3 3-85 3 81 3 35 3-105 3-20 3-37 3-1 3 71 3-24 3 10 3 29 3-96 3 77 3 45 3 2 3-43 3-3 3 38 3-39 3 25 3 12 3-6 3 74 3-43 3-32 3-11 3-1 3 82 3-49 3 29 3-21 3 40 3-10 3-30 3 41 3-48 3 29 3 3 3 8 3-12 3 1 3-6 3 5 3-2 3 23 3-20 3-1 3 21 3-34 3 12 3-7 3 3 3 5 3 12 3-51 3 22 3-11 3-6 3-27 3-12 3-72 3-64 3 19 3 30 3 19 3-13 3 69 3 56 3 54 3-20 3-6 3-16 3 5 3-3 3-6 3-31 3-8 3 23 3-75 3-68 3-22 3-72 3 90 3 96 3 91 3 42 3-23 3-17 3-12 3 59 3-43 3 10 3 25 3-37 3-14 3 36 3-18 3 0 3 9 3-6 3-8 3 4 3 24 3-10 3-25 3-4 3 24 3 4 3-13 3 11 3-18 3-15 3 5 3 22 3-20 3 2 3 40 3-48 3 3 3-16 3 20 3 3 3 4 3-53 3 11 3-29 3 39 3 10 3 5 3-4 3 7 3 10 3-3 3 4 3 2 3-13 3 0 3-13 3-5 3 33 3 6 3-42 3 20 3-30 3-17 3 5 3-16 3 19 3 28 3 14 3-3 3 32 3-12 3-1 3-6 3-25 3 14 3-36 3-1 3 3 3 6 3-29 3 20 3-19 3 3 3-12 3 18 3-25 3 11 3 8 3-35 3 41 3-37 3-13 3-6 3-33 3-31 3-50 3-66 3-60 3-61 3 54 3 159 3 162 3 10 3-8 3-9 3 12 3 1 3 13 3 5 3-2 3 1 3 12 3-17 3 14 3-6 3-19 3 22 3-23 3 5 3 8 3-18 3 31 3-2 3-23 3 53 3-57 3-3 3 47 3-43 3 27 3-20 3 11 3-20 3 5 3 19 3-5 3 11 3-26 3 21 3-19 3 3 3 3 3-4 3 10 3-23 3 31 3-28 3 2 3 29 3-22 3 6 3 12 3 21 3-18 3-16 3 4 3-1 3-4 3 28 3-34 3 37 3 8 3-27 3 1 3-2 3 8 3-2 3 6 3 10 3-22 3 12 3-3 3 5 3-8 3-4 3 14 3-43 3 33 3 6 3 15 3-27 3-6 3 4 3 8 3-8 3 13 3 7 3-8 3 6 3 8 3-3 3-29"/>
<path stroke="#bfbf00" d="M3432 1172l3-25 3-11 3 29 3 7 3 16 3-19 3-16 3 30 3-19 3-25 3 24 3-18 3-11 3 9 3 14 3-22 3-2 3 6 3 17 3-1 3-18 3 39 3 3 3-18 3-23 3 7 3 22 3-33 3 18 3-21 3-24 3-12 3-15 3 23 3-37 3-38 3-23 3-20 3-29 3-57 3 164 3 168 3 44 3-140 3-47 3-39 3-11 3 21 3-19 3 19 3 29 3-27 3 38 3 3 3-5 3 7 3 13 3-22 3 24 3 15 3-6 3 7 3-25 3-13 3 30 3 2 3-30 3 2 3 22 3-3 3 22 3-32 3-19 3 39 3-18 3-7 3 41 3-18 3-26 3-16 3 20 3 19 3-49 3 4 3 15 3-4 3 2 3 6 3 44 3-36 3-26 3 9 3 44 3-4 3-51 3-11 3-17 3 50 3-8 3 18 3 10 3-35 3 50 3-50 3-23 3 5 3 12 3 24 3-4 3-38 3 3 3-68 3 42 3-32 3 1 3-86 3 44 3 63 3 47 3 28 3 2 3-31 3 6 3 33 3-10 3-35 3-27 3-14 3 10 3 36 3-12 3 27 3 1 3-11 3 11 3-10 3 23 3-20 3-17 3-36 3-9 3 14 3 60 3 22 3-13 3 83 3-66 3-34 3 22 3-19 3 52 3-10 3 27 3-16 3-19 3 58 3-47 3 3 3-2 3 10 3 0 3-10 3-30 3 37 3 17 3-34 3 6 3-6 3 2 3 17 3-12 3 1 3 35 3-14 3-49 3 1 3 16 3 6 3-10 3 15 3-6 3-74 3-27 3-74 3-30 3 37 3 31 3 40 3 29 3 82 3 24 3-21 3-19 3 24 3-34 3 16 3 24 3-13 3-23 3-27 3-67 3-47 3-32 3-41 3 98 3 74 3 87 3 5 3 12 3-28 3 2 3-27 3 8 3 18 3-4 3-9 3-20 3 17 3 18 3-39 3 10 3 4 3 0 3 15 3-3 3 7 3-13 3-7 3-9 3 4 3 33 3-25 3 15 3-17 3-9 3 11 3 13 3 20 3-52 3 32 3-2 3-4 3 3 3-8 3 9 3-9 3-38 3-14 3 45 3 11 3-36 3 41 3 3 3-20 3-10 3 33 3-3 3-22 3-18 3 17 3 44 3-30 3-7 3-10 3-14 3-15 3 36 3-44 3 27 3 10 3 27 3 6 3 8 3 0 3 10 3 0 3-35 3 9 3-10 3 6 3-30 3 0 3 23 3-19 3 16 3-27 3 10 3-13 3 31 3-59 3 7 3 34 3-31 3 19 3-39 3-8 3-2 3-27 3-38 3-39 3-68 3-75 3-77 3-15 3 148 3 162 3 112 3-28 3-3 3 6 3 1 3 7 3 37 3-20 3 14 3-28 3 27 3-7 3-14 3-16 3 29 3 5 3-4 3-27 3 9 3 2 3 14 3 4 3-12 3-15 3 26 3-7 3-12 3-8 3-3 3-11 3 59 3-28 3 3 3-14 3 2 3 19 3-19 3 8 3-6 3-21 3 18 3-13 3 7 3 10 3-1 3-23 3 18 3-3 3-15 3 33 3 4 3-40 3 28 3-20 3 12 3 4 3 13 3-21 3-5 3 37 3-17 3-19 3-5 3 20 3-10 3-7 3 5 3 3 3 17 3-9 3 25 3-19 3-3 3-33 3 42 3-31 3 3 3-6 3 19 3-5 3-27 3 26 3-6 3 6 3 18 3-9 3-16 3 11 3-27"/>
<path stroke="#404040" d="M3432 1173l3-43 3 9 3 20 3-21 3-2 3 10 3 11 3-29 3 10 3 37 3-16 3-21 3 7 3-1 3 2 3 11 3 12 3-32 3-4 3-8 3 41 3-34 3-10 3 6 3 1 3-10 3 20 3-23 3 9 3-13 3-31 3 12 3-16 3-34 3 28 3-28 3-52 3-49 3-76 3 66 3 151 3 216 3-59 3-91 3-66 3-3 3-12 3-9 3 12 3 18 3 10 3 1 3 16 3-30 3 40 3-6 3-5 3 2 3-29 3 65 3-44 3 22 3-2 3-16 3 13 3-2 3 19 3-14 3 1 3-23 3 22 3 25 3-17 3 17 3-25 3-11 3 19 3-3 3-25 3 25 3-3 3 19 3-30 3-3 3-37 3 88 3-54 3 6 3-23 3 63 3 9 3-26 3 20 3-68 3 33 3-40 3 14 3 13 3 7 3-34 3 52 3-33 3 33 3-124 3 29 3 33 3 57 3-11 3-28 3-7 3-22 3 29 3-71 3-18 3-7 3-31 3 29 3 18 3 136 3-11 3-68 3 52 3 39 3-70 3 20 3-52 3-33 3-42 3 44 3-6 3 15 3-12 3 17 3 5 3 13 3-1 3 8 3 50 3-38 3-32 3 41 3-3 3 4 3-12 3 47 3-21 3-30 3 29 3-16 3 5 3 48 3-8 3 42 3-60 3 38 3 13 3-40 3 46 3-43 3 34 3-41 3 23 3-6 3-11 3 17 3-23 3 43 3-7 3 35 3-20 3-47 3 20 3-3 3-44 3 23 3 29 3-18 3 10 3-21 3-38 3-9 3-55 3-91 3-44 3 48 3 34 3 5 3 25 3 74 3 48 3 3 3 16 3-31 3 3 3-34 3 31 3-3 3-22 3-22 3-34 3-24 3-60 3-82 3 24 3 64 3 110 3 101 3-21 3-12 3 13 3 5 3 12 3-12 3 11 3-3 3 6 3-14 3 0 3 11 3-5 3-5 3 12 3-29 3 69 3-29 3-8 3 17 3-40 3 2 3-14 3 20 3-29 3 40 3 15 3-30 3 22 3-32 3-20 3 34 3 8 3-8 3-28 3 49 3-38 3-12 3-1 3-14 3-18 3 15 3-21 3 40 3 6 3-16 3 10 3 0 3 16 3-27 3 27 3 13 3-28 3 39 3-33 3-6 3 17 3-11 3 0 3-25 3 1 3 3 3 16 3-12 3 28 3 31 3 37 3-14 3-22 3-23 3 11 3-12 3-36 3 25 3-15 3 34 3-72 3 21 3 15 3-51 3 7 3-38 3 32 3-19 3 5 3 9 3 26 3-13 3-42 3 5 3-36 3-18 3-74 3-80 3-100 3-33 3 88 3 193 3 230 3-16 3-46 3-24 3 12 3-15 3 30 3-23 3-3 3 7 3 14 3-21 3 36 3 1 3 3 3-12 3 3 3-18 3 6 3-10 3-8 3 24 3-13 3-17 3 19 3 19 3 1 3-15 3-16 3 29 3-9 3-3 3-1 3 18 3-15 3-15 3 0 3 14 3-13 3 1 3 1 3 27 3-36 3 13 3 1 3-3 3 28 3 6 3-15 3-20 3-12 3 23 3-4 3 5 3 0 3 17 3-36 3 14 3-14 3 11 3 18 3-33 3 1 3 47 3-43 3 1 3-3 3-18 3 0 3 36 3-23 3 9 3-12 3 29 3-2 3 10 3-23 3 24 3-12 3-4 3-9 3-1 3-6 3 7 3-15 3 20 3-17 3 18 3-13 3-6"/>
<path stroke="#0000ff" d="M3432 1066l3 54 3-19 3 32 3-28 3 25 3-44 3-12 3 30 3 1 3-39 3-3 3 29 3-16 3 30 3-13 3-20 3 32 3-21 3-37 3 51 3-33 3 32 3-30 3 18 3-3 3 37 3-40 3-19 3-9 3 0 3-23 3-1 3-51 3-22 3 0 3-63 3-77 3-24 3 117 3 176 3 183 3-98 3-130 3-50 3-40 3 74 3 16 3-14 3 16 3-8 3 36 3 24 3-20 3-38 3 38 3 12 3-30 3 53 3-47 3-7 3 23 3 15 3-1 3 25 3-33 3 3 3 2 3 11 3-1 3 8 3-5 3-24 3 42 3-11 3-48 3 1 3 24 3-1 3 35 3-20 3-9 3 10 3-20 3 23 3 22 3-11 3-21 3 34 3-72 3 67 3-37 3-2 3-45 3 58 3-24 3-15 3-22 3 67 3 15 3 9 3 17 3-24 3-97 3 20 3 18 3 43 3-72 3 9 3 7 3-15 3-50 3 10 3-36 3-50 3 131 3 38 3 2 3 4 3 23 3-25 3 33 3-4 3-42 3 11 3-35 3 36 3-59 3 93 3 15 3-50 3-16 3 24 3-88 3 109 3-37 3 36 3-31 3 19 3-88 3 43 3-8 3 86 3-9 3 26 3-35 3-7 3-2 3-1 3 12 3 27 3-26 3-7 3 55 3-6 3-67 3 26 3 23 3-27 3 33 3-23 3 12 3-14 3 64 3-77 3 19 3 20 3 3 3-25 3-21 3 28 3 8 3-8 3-15 3 32 3-26 3 10 3-10 3-34 3 16 3-43 3-40 3-71 3-28 3 71 3-49 3 38 3 76 3 46 3 12 3 7 3 5 3 5 3-13 3-34 3 30 3-9 3-31 3-43 3 0 3-104 3-39 3-24 3 104 3 132 3 69 3 5 3-36 3-3 3-14 3 15 3-26 3 35 3-10 3-4 3 7 3-11 3 21 3-15 3 5 3-15 3 12 3-14 3 12 3-3 3 23 3-54 3 17 3 9 3 13 3-20 3 30 3-15 3-8 3 0 3 10 3-13 3-16 3 1 3 34 3-15 3-34 3-3 3-1 3-40 3 4 3-2 3 10 3 15 3 23 3 10 3-10 3 12 3-34 3 10 3 44 3-5 3-21 3 16 3-24 3-11 3 3 3 13 3 0 3-39 3-10 3-7 3 50 3 3 3-4 3 30 3 1 3 6 3 32 3-8 3-27 3 12 3-26 3 10 3-53 3 19 3-1 3 10 3 3 3-25 3-25 3 18 3 20 3-20 3 6 3 20 3-6 3-6 3-38 3 8 3-6 3-65 3-13 3-45 3-98 3-57 3-82 3 30 3 161 3 222 3 105 3-72 3-22 3 22 3-7 3-23 3 20 3-3 3 11 3 3 3-3 3 10 3 6 3-36 3 30 3 3 3 2 3-17 3-10 3 6 3-5 3 7 3 1 3 3 3-5 3-22 3 15 3-7 3 18 3 27 3-34 3 17 3 0 3-14 3 6 3 27 3-14 3-23 3 31 3 3 3-23 3 13 3-29 3 15 3 9 3-3 3-16 3-6 3-8 3 28 3-3 3-9 3 13 3-21 3-1 3-10 3 15 3-4 3 7 3 12 3-7 3 14 3-18 3 25 3-20 3 8 3 7 3-11 3 35 3-44 3 22 3-17 3-3 3-13 3 17 3 32 3-29 3 0 3-6 3 20 3-32 3 7 3 1 3-2 3 13 3-21 3-1 3-6 3 38 3-2 3-18"/>
<path stroke="#008000" d="M3432 1152l3-16 3 23 3-16 3 11 3 14 3-16 3 4 3 3 3-8 3-22 3 15 3-34 3 52 3-10 3 8 3-19 3 23 3-48 3 27 3-1 3 4 3-54 3 26 3-2 3 1 3-26 3 13 3-2 3 32 3-11 3-36 3 38 3-54 3 12 3-27 3-20 3-18 3-63 3 57 3 140 3 108 3 12 3-140 3-34 3-42 3-11 3 35 3 3 3-18 3 18 3 9 3-3 3 1 3 12 3-8 3 38 3-13 3-21 3 22 3-19 3 37 3-3 3-12 3 6 3-18 3 19 3 20 3-25 3-23 3 52 3-16 3 3 3-14 3 11 3-40 3 37 3-9 3 3 3 27 3-51 3 4 3 36 3-37 3 29 3-25 3 25 3-14 3-15 3 15 3-42 3 31 3-13 3 15 3 21 3-54 3 4 3 57 3 1 3-18 3-29 3-51 3 9 3 37 3-22 3 29 3-53 3 51 3-32 3-41 3 28 3-6 3-43 3-34 3 29 3 13 3 40 3 34 3 8 3 4 3-38 3 57 3-48 3-39 3 55 3-95 3 7 3 8 3 120 3-21 3-37 3 41 3-45 3-43 3-18 3 25 3 23 3 32 3-23 3-9 3 93 3-24 3-12 3-39 3 86 3-60 3 29 3-24 3-13 3 88 3-48 3 27 3-46 3 52 3-12 3-36 3-5 3 60 3-27 3-17 3 37 3-58 3 74 3-24 3-24 3 1 3 20 3 25 3-43 3-25 3 7 3 12 3 6 3-2 3 2 3-31 3 35 3-26 3-4 3 6 3-32 3-9 3-91 3-42 3-18 3 33 3 33 3 66 3 31 3 46 3-5 3-11 3-6 3 9 3-12 3-2 3-14 3 10 3-38 3-14 3-51 3-74 3-69 3 57 3 79 3 65 3 67 3-26 3 40 3-10 3-18 3 32 3-38 3 25 3 19 3-3 3-7 3 3 3-6 3 13 3-1 3-9 3-31 3 15 3 9 3-6 3 17 3-42 3 28 3 4 3 14 3-21 3-11 3 24 3-8 3-13 3 13 3-30 3 34 3 3 3-18 3-5 3 22 3-25 3-4 3-41 3 42 3-14 3-8 3 37 3 3 3 5 3 4 3-5 3-4 3-16 3 28 3 0 3-29 3 37 3-19 3 21 3-21 3-8 3-4 3 15 3-22 3-8 3 22 3 1 3 18 3-6 3 20 3 19 3 7 3-28 3-9 3-3 3 7 3-33 3 28 3-27 3-1 3 11 3-19 3-14 3 27 3-18 3-20 3 31 3-35 3 12 3-33 3 55 3-22 3 3 3-45 3-10 3-35 3-101 3-47 3-77 3-28 3 133 3 186 3 180 3-56 3-46 3-9 3 20 3 12 3-27 3 74 3-35 3-41 3 44 3-30 3 20 3-5 3-21 3-7 3 10 3 5 3-23 3 5 3 3 3 6 3-3 3-2 3-14 3 2 3 20 3 3 3-2 3-4 3-10 3 5 3-12 3-11 3 14 3 2 3 42 3-29 3 24 3-28 3-8 3 34 3-24 3 12 3-22 3 4 3-5 3 38 3-47 3 7 3 6 3 8 3 9 3-6 3-12 3 18 3 26 3-58 3 26 3 1 3-21 3 15 3 3 3-9 3 5 3 4 3-23 3 19 3-10 3-5 3 16 3-23 3 11 3-16 3 16 3-3 3-10 3-4 3 30 3-22 3 5 3 8 3-6 3-15 3 1 3 9 3-15 3 22 3-4 3-7 3 13"/>
<path stroke="#ff0000" d="M3432 1149l3-6 3-25 3-10 3 71 3-17 3-34 3 6 3 26 3-43 3 14 3-5 3 5 3-8 3 15 3-8 3 12 3-37 3 51 3 0 3-23 3-15 3 22 3-8 3-11 3 21 3-45 3 13 3 27 3-17 3 10 3-55 3 50 3-74 3 14 3-13 3-30 3-56 3-39 3-31 3 100 3 149 3 229 3-129 3-112 3-41 3-35 3-21 3 14 3 22 3 10 3 7 3 22 3 15 3-44 3 69 3-35 3 3 3-23 3 41 3-26 3-11 3-4 3 27 3-2 3-28 3 22 3-11 3 14 3 13 3 31 3-53 3 5 3 15 3 19 3-18 3-26 3 33 3-12 3 18 3-40 3-6 3 12 3 11 3-5 3-20 3 23 3 17 3 11 3-25 3-33 3 18 3 40 3-39 3 9 3-12 3-11 3 4 3 57 3-31 3-40 3 37 3-1 3 28 3-104 3 78 3-79 3 60 3-37 3 24 3-40 3-28 3 86 3-110 3-36 3 49 3 7 3 55 3-22 3 28 3 84 3-67 3-26 3 3 3 37 3 54 3-92 3-25 3-13 3 35 3 25 3-6 3 1 3-45 3-28 3-6 3 17 3 95 3-29 3-17 3 25 3-54 3 62 3-28 3 38 3-18 3 8 3-13 3-25 3 30 3 53 3-61 3 55 3-9 3-26 3 35 3 33 3-52 3 21 3-25 3 23 3 29 3-21 3-16 3-33 3 19 3-7 3 5 3 19 3-8 3-1 3 13 3-8 3-1 3-5 3-1 3 9 3-10 3-25 3 14 3-10 3-31 3-25 3-81 3-55 3 38 3 3 3 16 3 41 3 13 3 91 3 15 3-10 3-7 3-19 3 16 3-13 3-20 3 24 3-60 3-5 3-60 3-90 3-22 3 50 3 82 3 88 3 61 3-19 3-19 3 12 3 28 3-60 3 22 3 2 3 34 3-29 3 8 3-19 3 24 3-17 3-9 3-9 3 24 3-2 3-7 3 15 3-12 3-10 3-5 3 8 3 2 3-7 3 18 3-7 3-6 3 10 3-20 3-3 3 24 3-19 3-20 3 10 3-13 3 4 3-8 3-10 3-57 3 48 3 0 3 38 3-35 3 26 3 16 3-7 3 8 3 19 3-24 3-8 3 27 3-17 3 1 3-3 3-22 3-2 3-8 3-5 3-9 3 22 3-3 3 32 3 11 3 10 3 15 3-8 3-7 3 12 3-15 3 9 3-28 3 10 3-18 3 4 3-22 3 3 3 12 3-32 3-14 3-3 3-9 3 22 3-30 3 26 3-31 3 25 3-14 3-29 3-6 3-29 3-70 3-73 3-120 3-70 3 63 3 120 3 207 3 203 3-12 3-52 3-43 3 8 3-1 3 9 3-5 3 5 3 5 3 11 3-36 3 7 3 15 3-11 3-19 3 13 3 14 3-8 3-8 3-4 3 18 3-10 3-16 3-18 3 14 3 8 3 0 3 11 3 2 3-13 3-3 3 21 3 3 3-52 3 21 3 2 3 9 3-6 3 26 3-32 3 12 3 14 3 6 3-27 3 6 3-18 3 15 3-5 3 18 3-14 3 0 3-11 3-1 3 18 3-3 3-23 3 21 3 6 3-11 3 13 3-16 3 6 3-2 3 13 3-4 3-13 3-3 3-8 3 26 3-36 3 6 3-3 3 10 3 16 3-22 3-24 3 30 3-5 3 26 3-12 3-5 3-11 3 2 3 9 3 9 3-8 3 16 3 1 3-28"/>
<path stroke="#00bfbf" d="M3432 1143l3-34 3 29 3-28 3 49 3-13 3-1 3-4 3-6 3-3 3-18 3 35 3-9 3-1 3-7 3 17 3-15 3-46 3 51 3 34 3-19 3 2 3 6 3-40 3 54 3-22 3-2 3-68 3 27 3-10 3-4 3-15 3-14 3 4 3-64 3-9 3-20 3-53 3-25 3 97 3 132 3 142 3-113 3-81 3-4 3-22 3 8 3-18 3 21 3 50 3-36 3 35 3 0 3 13 3-2 3-4 3 11 3 20 3 19 3-45 3 1 3-3 3 21 3-28 3 28 3-13 3-7 3 2 3 10 3 53 3-81 3 31 3 19 3-10 3-1 3-34 3 32 3 18 3-34 3 34 3-23 3 11 3 13 3-39 3-16 3 29 3-19 3 55 3-37 3 35 3-11 3-31 3-2 3 8 3-67 3 65 3 15 3-49 3 20 3-38 3 9 3 51 3-41 3-16 3-29 3-15 3 22 3 66 3 32 3-81 3-13 3-48 3-13 3-50 3 9 3 10 3 65 3-6 3 46 3 28 3 74 3-125 3 68 3-59 3-18 3-33 3 27 3-38 3 10 3 67 3-27 3-11 3 5 3-67 3 101 3 14 3-20 3 26 3-28 3-30 3 42 3-33 3 60 3 25 3 18 3-50 3-16 3-9 3 17 3-8 3 9 3 21 3-19 3 29 3 9 3 6 3 0 3 11 3-7 3 5 3-49 3 16 3 5 3 23 3-5 3 8 3 4 3-3 3-6 3-9 3 11 3-6 3 21 3-1 3-25 3 11 3-8 3 1 3-24 3-11 3-26 3-21 3-78 3-53 3 13 3 26 3 41 3 19 3 84 3 21 3 56 3-11 3-13 3-8 3-14 3 24 3-14 3-23 3-32 3-31 3-33 3-98 3-64 3 33 3 67 3 90 3 81 3 23 3-16 3 5 3-28 3 46 3-1 3 12 3-14 3-3 3 13 3-12 3-2 3-8 3 2 3 22 3-34 3 12 3-19 3 10 3 3 3-1 3 3 3-14 3 15 3-12 3 1 3-6 3 1 3-4 3 0 3-10 3 11 3-19 3 42 3-53 3 13 3 4 3-9 3-12 3-29 3 4 3 28 3 25 3-14 3 31 3-27 3 21 3-14 3 25 3-50 3 29 3-6 3 4 3 1 3-7 3-1 3-14 3-34 3 6 3-22 3 7 3 48 3-19 3 38 3-18 3 38 3-21 3 15 3 11 3 1 3-16 3-9 3-20 3-11 3 8 3-22 3 13 3-14 3-4 3-9 3-61 3 39 3-14 3 15 3-13 3 8 3 25 3-52 3 19 3-24 3-28 3-70 3-76 3-83 3-79 3-4 3 60 3 225 3 195 3 18 3-16 3-27 3 3 3-22 3 34 3-14 3 19 3-4 3 7 3-19 3 14 3-3 3-43 3 30 3-32 3 17 3-17 3 37 3 0 3-7 3 1 3-8 3 29 3-7 3-6 3-8 3 5 3 11 3-19 3 25 3-10 3 14 3-5 3-38 3 6 3 19 3 10 3 7 3-3 3-21 3 5 3 9 3-2 3 4 3-10 3-2 3-28 3 11 3 26 3-6 3 9 3-21 3 18 3-20 3 13 3 8 3-6 3-6 3 21 3-31 3 18 3-33 3 24 3-11 3-3 3 3 3 10 3-14 3-3 3 16 3-10 3 17 3-3 3 9 3-11 3 4 3-9 3 3 3 2 3-39 3 23 3 12 3-8 3 7 3 7 3 4 3-8 3 14 3-19"/>
<path stroke="#bf00bf" d="M3432 1127l3 11 3 17 3-30 3 30 3-43 3 20 3-26 3 24 3 7 3 15 3-4 3-14 3 22 3 16 3-64 3 12 3-4 3 7 3 18 3-34 3 15 3-15 3 3 3 0 3-3 3-21 3-1 3-8 3 20 3-11 3-44 3 12 3-39 3-7 3-36 3-57 3-37 3-120 3 76 3 177 3 230 3-90 3-57 3-41 3-5 3 12 3 20 3-6 3 11 3 25 3-30 3 9 3 15 3 26 3-30 3 37 3-49 3 22 3-1 3-3 3 27 3-1 3-51 3 31 3 18 3-35 3 17 3-28 3 15 3 34 3-37 3 42 3-54 3 12 3 6 3-6 3 0 3 59 3-79 3 22 3 21 3-4 3 14 3-6 3-8 3-11 3 17 3-31 3 12 3 39 3-32 3-25 3 26 3-22 3 46 3-47 3 10 3-50 3 24 3 61 3-27 3-25 3-10 3 47 3-79 3 59 3-22 3-24 3-3 3 51 3-17 3-101 3-30 3 95 3-20 3-39 3 113 3 40 3-43 3 35 3-21 3-60 3-5 3 36 3-37 3 26 3-5 3-54 3 12 3 24 3-7 3-13 3-55 3 70 3 8 3-2 3 83 3-10 3-66 3 8 3-2 3 63 3-23 3 9 3-10 3-16 3-1 3-6 3 40 3-3 3-9 3-1 3 0 3 5 3 48 3-30 3-22 3 2 3 45 3-39 3 4 3 1 3 15 3-4 3-12 3 13 3-25 3 35 3-15 3 19 3-37 3 14 3 13 3-24 3 6 3 8 3-23 3-4 3-5 3-20 3-37 3-52 3-71 3 77 3-8 3 17 3 52 3 55 3 32 3-11 3 0 3-12 3-20 3 23 3-9 3 0 3-40 3 15 3-48 3-28 3-78 3-62 3 62 3 88 3 103 3 23 3 7 3-28 3 20 3 2 3-7 3-5 3 12 3 20 3-36 3 22 3 9 3-13 3-20 3 3 3 22 3-1 3-20 3 14 3 9 3-32 3 5 3-13 3 17 3 0 3-1 3-4 3 22 3-30 3 36 3-35 3 7 3 19 3-17 3 12 3-14 3 15 3-19 3-35 3 19 3-12 3 7 3 3 3 18 3 9 3 12 3-19 3 0 3 0 3 3 3 6 3 2 3-1 3-5 3-12 3 32 3 5 3-18 3-20 3-38 3 47 3 14 3 9 3-9 3 11 3-1 3 37 3-3 3 1 3-3 3-12 3-22 3-27 3 13 3 7 3 8 3-13 3 10 3-30 3 1 3-21 3-7 3-6 3 14 3-2 3-25 3 17 3-6 3-3 3 2 3-36 3 2 3-55 3-59 3-54 3-89 3 8 3 105 3 224 3 74 3-59 3-4 3-1 3-16 3 17 3 14 3-8 3 13 3-9 3-2 3-7 3 3 3 6 3 1 3-14 3 1 3-24 3 20 3 15 3 9 3 0 3 2 3-22 3-2 3 9 3 9 3-15 3 7 3-6 3-2 3-9 3 8 3-19 3 34 3-23 3 14 3-5 3 26 3-6 3-11 3-2 3 4 3 0 3-13 3-9 3-1 3 25 3-8 3-25 3 3 3 18 3 7 3-26 3 12 3 14 3-10 3-12 3 14 3 3 3-12 3-11 3 18 3-4 3 0 3-12 3 34 3-19 3-2 3-4 3-19 3 12 3 16 3-7 3-35 3 34 3 4 3 16 3-37 3 9 3 5 3-4 3-7 3 44 3-4 3-20 3-16 3 7 3-15 3 30 3-14"/>
<path stroke="#bfbf00" d="M3432 1155l3-9 3-17 3 37 3 5 3-24 3 32 3-30 3-9 3 11 3 29 3-25 3 27 3-30 3-16 3-12 3 38 3-14 3-20 3-2 3 0 3-4 3-8 3 29 3-24 3-16 3 17 3 0 3-5 3 2 3-24 3 45 3-28 3-27 3-9 3-58 3 28 3-82 3-49 3-10 3 123 3 191 3 37 3-135 3-16 3-11 3-9 3 17 3 24 3-8 3-38 3 60 3-29 3 41 3-27 3 9 3-40 3 30 3 0 3 10 3-25 3 36 3-19 3 13 3-35 3 36 3 3 3 3 3-3 3-1 3 12 3 3 3-35 3 43 3-19 3 15 3-25 3 22 3-33 3 19 3 1 3 41 3-31 3-13 3 3 3-9 3 60 3-47 3-4 3 16 3 4 3 15 3 2 3-53 3 51 3-20 3-69 3 37 3-44 3 61 3-30 3 32 3-54 3-10 3-44 3-23 3 30 3 33 3-6 3 81 3-96 3 15 3-17 3-44 3-11 3 66 3 44 3-51 3 15 3 70 3-23 3 18 3 28 3-64 3 31 3-40 3-65 3 51 3 36 3-24 3 34 3-60 3-38 3 22 3 19 3 98 3-69 3 68 3-78 3-15 3-127 3 118 3 23 3 11 3 13 3 1 3 11 3-6 3-31 3 15 3 17 3 28 3 7 3-39 3 46 3 17 3-30 3-25 3 21 3-12 3-18 3 26 3 19 3-20 3 12 3 1 3-11 3-15 3 22 3-28 3 25 3-16 3-7 3 7 3 0 3 1 3-9 3 22 3-11 3-4 3-66 3-27 3-18 3-74 3 30 3 22 3 14 3-10 3 68 3 76 3 7 3-9 3 4 3-31 3 13 3-15 3 4 3-4 3-40 3-21 3-31 3-96 3-49 3 28 3 69 3 88 3 76 3-14 3-2 3 40 3-42 3 25 3 13 3-27 3 38 3-40 3-6 3 8 3 8 3-17 3 11 3-7 3 31 3-18 3-12 3 26 3-38 3 36 3-19 3 19 3-30 3-19 3 35 3-13 3-11 3-3 3 3 3 40 3 0 3-7 3 1 3 6 3-38 3-28 3 28 3-7 3 5 3-9 3 3 3-16 3 27 3-10 3-7 3 53 3-20 3 9 3-13 3-3 3 5 3-4 3-3 3-33 3 9 3 17 3-8 3-4 3-26 3 26 3 6 3 13 3 0 3 10 3-14 3-2 3 34 3-9 3-24 3 23 3-48 3 14 3 5 3-6 3-17 3 0 3 11 3-15 3-8 3-6 3-7 3 27 3 7 3-26 3-9 3 11 3-31 3-9 3 1 3-55 3-36 3-59 3-60 3-83 3-58 3 151 3 199 3 135 3-39 3-29 3-5 3-13 3 25 3-1 3 19 3-16 3-4 3 11 3 1 3-7 3 5 3 9 3-3 3-12 3 24 3 16 3-36 3 17 3-28 3 12 3 13 3 9 3-9 3-5 3 12 3-3 3 7 3-14 3 22 3-17 3-21 3 26 3 3 3-12 3 19 3 7 3-19 3-2 3-21 3 23 3-11 3 20 3-3 3-3 3 12 3-26 3 4 3-15 3 19 3-2 3 2 3 13 3-7 3-19 3 22 3-14 3 6 3 12 3-1 3-1 3-24 3 9 3 10 3-12 3 17 3-3 3-24 3 17 3 5 3 13 3-25 3 11 3 8 3-5 3 13 3-25 3-20 3 3 3 18 3-8 3 3 3 19 3 0 3-12 3-14 3 28 3-14 3 3"/>
<path stroke="#404040" d="M3432 1133l3 13 3-8 3 6 3 16 3-12 3-6 3 6 3-33 3 6 3 18 3 4 3 29 3-32 3-18 3-19 3 62 3-37 3 26 3-6 3-14 3-29 3 32 3 3 3 9 3-11 3-28 3 2 3 9 3-11 3-19 3 14 3-28 3 0 3-27 3-39 3-13 3-56 3-4 3 45 3 169 3 82 3-101 3-29 3-81 3 31 3 1 3-37 3 73 3 8 3-30 3 28 3 37 3-39 3 16 3-1 3 17 3 6 3-14 3 58 3-58 3 22 3-9 3 18 3-16 3 37 3-56 3 32 3-4 3-48 3 25 3-30 3 15 3 17 3 16 3-4 3-23 3 20 3 8 3-34 3 47 3-6 3 6 3-32 3 28 3-15 3-27 3 66 3-57 3-27 3 64 3 11 3 15 3-89 3 24 3 5 3-28 3 57 3-79 3 69 3 18 3-32 3-11 3-43 3-8 3 30 3-5 3-7 3 8 3 8 3-5 3-34 3-73 3-65 3 117 3-22 3 57 3-18 3 104 3-86 3 53 3 16 3-31 3-8 3 23 3-29 3-77 3 10 3 82 3-14 3-3 3-67 3-26 3 74 3-12 3 64 3 26 3-55 3 12 3-24 3-40 3 68 3-16 3-27 3 15 3-1 3 27 3-46 3 59 3-3 3-26 3 37 3-10 3 10 3-19 3-5 3 27 3-35 3 26 3-1 3 5 3 10 3-6 3-33 3 15 3-14 3 5 3 17 3-14 3 1 3-3 3 10 3 0 3-1 3-20 3 37 3-9 3-1 3-23 3 14 3-54 3-46 3-58 3-35 3 40 3 13 3 57 3 56 3 16 3 58 3-27 3-2 3-4 3-7 3 0 3-14 3 2 3-19 3-25 3-12 3-15 3-112 3-5 3 3 3 90 3 118 3 14 3-4 3-1 3-12 3 21 3 24 3-8 3-6 3-10 3-3 3 20 3-27 3 4 3-9 3 30 3-2 3-15 3-16 3 32 3-26 3-10 3 32 3-34 3 25 3-9 3-23 3 28 3 0 3-24 3 17 3 2 3-19 3 27 3 6 3-41 3 22 3-5 3-7 3-11 3-30 3-8 3 8 3 24 3 17 3-16 3 9 3-11 3 17 3 7 3-1 3-14 3 10 3-3 3 7 3-33 3 15 3-2 3-10 3 6 3 3 3-16 3 37 3-17 3 16 3 4 3 3 3 20 3 4 3 12 3-11 3-18 3-8 3-29 3-12 3 15 3 16 3-12 3-5 3 2 3-18 3 7 3-20 3-2 3 13 3 5 3-3 3-31 3 25 3-19 3-20 3-39 3 11 3-55 3-72 3-95 3-66 3 38 3 167 3 196 3 77 3-75 3-36 3-6 3 23 3-9 3 9 3 1 3 10 3-2 3 12 3-20 3 25 3-32 3 11 3 7 3-9 3 24 3-10 3-19 3 4 3-6 3 8 3-1 3-10 3 14 3 13 3 23 3-17 3-19 3 7 3-2 3-11 3-16 3-2 3 29 3 0 3-13 3 9 3-5 3 22 3-9 3-11 3-2 3 2 3-2 3-2 3-4 3 18 3-30 3 12 3 0 3 17 3-18 3 19 3 0 3-18 3 1 3-5 3 19 3-11 3-22 3 28 3 0 3-18 3 44 3-19 3-12 3 12 3-16 3 4 3 42 3-53 3 29 3 6 3 4 3-3 3-29 3-11 3 29 3-11 3 17 3 0 3 10 3-20 3-8 3 2 3 25 3-28 3 18 3-4"/>
<path stroke="#0000ff" d="M3432 1124l3 18 3-26 3 42 3-59 3 31 3-7 3-24 3-16 3 47 3-1 3 10 3-26 3 17 3 15 3-25 3 13 3 17 3-27 3 23 3-50 3 18 3-6 3 21 3-48 3 55 3-28 3 10 3 6 3-14 3-6 3-30 3 1 3 4 3-44 3 16 3-41 3-1 3-51 3 2 3-22 3 34 3 145 3 40 3-36 3-30 3-36 3-30 3 15 3-1 3 43 3 11 3-41 3 56 3-7 3 3 3 40 3-61 3 31 3 18 3-53 3 19 3 18 3-22 3 22 3-3 3 26 3-38 3 4 3 9 3 22 3 24 3-52 3-10 3 28 3 9 3-41 3 23 3-8 3 15 3-7 3-4 3 30 3-37 3-17 3 34 3-16 3 8 3 16 3-3 3 10 3-56 3 27 3 18 3-28 3 29 3-56 3 83 3-44 3-19 3-29 3 41 3 45 3-24 3-116 3-31 3 53 3-14 3 81 3-24 3-55 3 94 3-43 3-15 3-54 3-10 3 42 3 5 3-10 3 75 3-1 3 69 3-35 3-40 3 31 3 6 3-13 3 31 3-26 3 15 3-31 3-39 3-2 3-8 3 17 3 30 3 11 3 2 3-55 3 17 3 11 3-42 3 15 3 33 3 31 3-34 3-27 3 97 3-91 3 62 3-36 3-8 3 53 3 15 3-34 3-15 3 31 3-8 3-8 3 22 3-44 3 10 3 48 3-39 3-16 3 28 3-2 3 16 3-17 3-16 3 33 3-25 3-1 3 21 3-11 3-24 3-8 3 38 3-29 3 15 3 4 3-49 3-14 3-45 3-73 3-38 3 29 3 0 3 70 3 33 3 44 3 15 3-24 3 58 3-43 3-4 3 14 3-11 3-11 3-24 3-6 3-38 3-53 3-84 3-1 3 87 3 47 3 93 3 15 3 2 3-6 3 8 3-23 3 10 3 22 3 7 3-5 3-19 3-7 3 5 3-10 3 9 3 7 3-12 3 4 3 23 3-36 3 7 3-21 3 22 3-1 3-6 3-11 3 9 3 2 3 33 3-18 3 4 3-9 3-16 3 5 3 10 3-8 3-12 3 23 3 2 3-16 3 3 3 12 3-11 3 2 3-6 3 6 3 17 3-28 3 27 3-9 3 15 3-21 3-13 3 49 3-32 3 0 3 6 3-4 3-35 3 3 3 9 3 13 3-6 3 15 3-1 3 36 3-4 3 20 3 12 3-10 3-17 3-38 3-1 3-15 3 25 3-13 3-10 3-10 3-2 3 19 3-3 3-42 3 13 3 5 3 4 3-13 3-14 3 19 3 9 3-38 3 34 3-44 3-49 3-23 3-92 3-82 3-52 3 90 3 215 3 161 3 45 3-88 3-13 3-13 3-30 3 33 3-14 3 19 3-22 3 1 3-14 3 3 3 24 3-15 3-25 3 22 3-2 3 12 3 2 3 1 3-20 3 19 3-3 3 3 3-18 3 5 3-11 3 15 3 18 3-31 3 21 3 3 3-15 3-4 3 13 3-5 3-18 3 39 3-11 3-24 3 31 3-12 3-12 3 0 3 17 3-18 3 26 3-17 3 24 3-35 3 22 3-11 3 31 3-35 3 0 3 6 3-10 3 24 3 6 3-30 3 31 3-24 3 12 3-5 3-2 3 17 3-23 3 3 3 17 3-12 3 2 3 13 3-35 3 33 3-8 3 4 3 5 3-11 3 12 3-9 3 0 3 9 3-5 3-12 3 3 3 11 3-29 3 41 3-28"/>
<path stroke="#008000" d="M3432 1135l3 11 3-12 3 32 3-3 3-20 3 1 3-17 3 22 3 17 3-24 3 2 3 8 3-34 3 61 3-26 3-33 3 11 3 44 3-52 3 1 3 10 3 7 3-24 3-30 3 54 3-32 3-11 3 2 3-22 3-17 3 4 3-17 3-3 3-52 3-16 3-35 3-49 3-10 3 28 3 111 3 159 3 76 3-114 3-65 3-13 3-40 3 10 3 16 3 28 3 0 3-9 3 0 3 38 3-27 3 38 3-56 3 32 3 8 3 9 3-7 3-30 3 65 3-44 3-7 3 37 3-37 3 44 3-28 3 22 3 16 3-33 3 6 3-27 3 54 3-22 3 14 3-8 3-21 3 1 3 8 3-5 3 21 3-57 3 27 3 3 3 33 3-58 3 85 3-78 3 10 3 43 3-25 3-41 3-9 3 24 3-10 3 12 3 21 3-30 3 29 3-4 3-110 3 24 3 72 3-97 3 78 3-21 3-2 3 11 3-11 3-41 3-26 3-32 3 3 3 7 3 33 3 68 3-3 3-3 3 47 3 14 3-38 3-24 3-17 3 45 3-54 3-120 3 88 3 42 3 35 3-79 3 49 3-55 3 17 3 78 3 21 3-11 3-4 3-42 3 37 3 0 3-14 3 20 3 46 3-8 3-36 3-25 3 47 3 15 3-9 3-23 3 34 3-27 3 6 3 1 3 8 3 38 3-6 3-6 3 16 3-22 3-31 3 20 3-30 3 29 3-16 3 40 3-42 3 43 3-14 3-33 3 0 3 40 3-8 3-23 3 32 3-23 3 3 3-33 3-15 3-41 3-74 3-84 3 15 3 43 3 9 3 46 3 71 3 38 3 24 3 5 3-15 3 2 3 4 3-38 3 24 3-47 3 22 3-35 3-18 3-116 3-82 3 13 3 85 3 98 3 90 3 39 3-3 3-44 3 7 3-8 3 9 3-5 3 21 3-18 3-4 3 16 3-22 3 39 3-49 3 24 3-7 3 10 3 17 3 18 3-21 3-28 3 5 3 8 3-1 3-22 3-3 3 18 3 20 3 4 3-15 3 6 3-22 3 7 3-14 3 31 3-1 3-28 3-7 3-14 3-18 3 4 3 16 3 4 3 34 3 25 3-13 3-4 3-9 3-33 3 32 3-6 3 14 3-19 3 13 3-12 3 8 3 6 3-25 3 3 3-42 3 31 3 14 3-11 3 10 3 23 3 47 3-17 3 32 3-28 3-11 3-14 3 4 3-34 3 44 3-30 3 10 3-22 3 2 3-1 3-31 3-11 3-8 3-2 3-8 3 22 3 5 3-9 3 9 3-58 3 9 3-33 3-35 3-66 3-67 3-128 3-24 3 121 3 224 3 185 3 4 3-77 3-38 3 5 3 24 3 23 3 10 3-5 3-25 3-23 3 18 3-7 3 8 3 28 3-14 3-15 3 19 3-29 3 13 3-21 3 33 3-23 3 40 3-26 3-13 3 16 3-7 3-11 3 13 3 8 3 4 3-34 3 37 3-17 3 10 3-23 3-3 3 4 3 15 3-7 3 3 3 1 3-10 3-4 3 10 3-1 3-9 3 18 3-6 3-36 3 8 3 15 3 2 3-1 3 11 3 6 3-14 3 8 3-4 3 7 3-7 3 21 3-6 3-12 3 2 3-19 3 13 3-5 3 9 3-4 3-34 3 42 3-27 3 23 3-10 3 8 3 9 3 13 3-18 3 3 3-2 3 3 3 7 3-24 3 23 3-18 3 25 3-41 3 14 3 3"/>
<path stroke="#ff0000" d="M3432 1108l3 27 3-3 3-29 3 10 3 0 3 5 3 15 3-36 3 54 3-28 3-29 3-3 3 63 3-12 3 7 3-40 3 16 3 27 3-25 3-24 3 28 3-7 3-34 3 38 3 1 3-4 3 25 3-27 3-59 3 42 3 3 3-44 3 19 3-24 3 4 3-43 3-4 3-42 3 15 3 141 3 141 3-56 3-122 3-59 3 18 3-30 3 30 3-10 3 27 3 1 3 8 3-2 3-15 3-17 3 40 3-15 3 1 3 46 3-35 3 17 3 29 3-11 3 24 3-46 3 18 3-6 3-16 3 4 3 23 3-6 3 9 3-3 3-8 3-15 3 10 3 16 3-17 3 20 3-29 3 5 3-24 3-6 3 51 3-11 3 21 3-21 3 7 3-7 3-38 3 20 3 9 3-23 3-17 3 18 3-2 3 30 3-48 3 38 3-33 3 2 3-46 3 107 3-70 3-25 3-1 3 16 3 11 3-41 3 109 3-66 3 26 3-103 3-12 3 13 3 11 3 67 3 55 3 6 3-28 3 3 3-35 3 68 3-68 3-7 3 32 3-59 3 26 3 23 3-4 3-25 3 23 3-8 3-1 3-16 3 34 3-10 3 9 3-45 3 12 3 11 3 29 3-22 3-15 3 47 3 29 3 6 3-50 3 5 3-6 3 33 3-5 3 2 3 18 3-9 3 0 3-13 3 10 3-7 3 45 3-4 3-31 3 28 3-24 3 13 3-9 3 0 3 10 3-10 3 12 3-14 3 21 3 15 3-61 3 17 3-3 3 33 3-36 3-6 3-17 3-20 3-28 3-86 3-49 3 31 3 17 3 25 3 27 3 58 3 28 3 25 3 3 3-8 3 5 3-19 3-7 3 9 3-13 3-40 3 19 3-74 3-51 3-57 3 22 3 59 3 114 3 92 3-27 3 3 3-10 3 3 3 4 3-20 3 23 3-37 3 5 3-18 3 26 3-3 3-17 3 14 3 5 3-1 3-1 3 21 3-55 3 23 3-14 3 4 3 36 3-29 3 3 3-18 3 2 3 9 3-25 3 4 3 24 3-31 3 4 3 44 3-12 3-40 3 16 3 4 3-9 3-17 3 41 3-33 3 19 3 12 3 13 3 1 3-17 3-4 3 1 3 13 3-18 3 28 3 9 3-24 3-12 3 11 3-15 3-17 3-15 3 23 3 0 3-4 3 16 3 8 3 33 3-15 3-4 3 3 3 4 3-16 3-10 3 6 3 2 3-7 3-4 3 1 3-7 3 1 3-19 3 12 3-21 3-21 3-12 3-15 3 49 3-29 3 16 3-14 3 0 3-16 3-31 3-39 3-73 3-87 3-76 3 20 3 132 3 160 3 125 3-9 3-3 3-43 3 25 3 17 3-31 3 12 3 27 3-6 3-21 3 7 3 16 3-14 3-5 3 0 3 6 3-17 3 20 3-19 3 3 3 0 3 8 3-4 3-5 3 1 3 2 3 5 3-49 3 38 3-25 3 14 3-13 3 31 3-18 3 16 3-3 3 26 3-38 3-26 3 32 3 11 3 5 3-22 3 4 3 12 3-14 3 11 3-21 3 14 3 5 3 25 3-33 3 21 3-23 3 7 3-15 3 16 3 6 3-3 3 14 3-17 3-24 3 5 3 39 3-11 3-15 3-25 3 17 3 17 3-18 3 15 3-12 3-8 3 23 3-21 3-16 3 33 3-16 3 13 3-13 3-11 3 3 3 18 3-20 3 2 3 6 3 30 3 7 3-26 3 3"/>
<path stroke="#00bfbf" d="M3432 1169l3-9 3-13 3 5 3 72 3-89 3 40 3-7 3-43 3 33 3-30 3 24 3 6 3 5 3 3 3-6 3 15 3-26 3-2 3 38 3-28 3-3 3-11 3 21 3-34 3-24 3 20 3 22 3-20 3-10 3 24 3-55 3-14 3-12 3 21 3-55 3-31 3-28 3-21 3-6 3 32 3 69 3 214 3-92 3-97 3 11 3-42 3-19 3 6 3 13 3 6 3 26 3 0 3 17 3 32 3-29 3 13 3 6 3-38 3 28 3 18 3-33 3 13 3-11 3 2 3 47 3-44 3 1 3 22 3 13 3-34 3 19 3-33 3 34 3-1 3 8 3-44 3 7 3-14 3 40 3 2 3-19 3 3 3 11 3 48 3-39 3-32 3 47 3-34 3 54 3-43 3 13 3-50 3 1 3 8 3 37 3-52 3 42 3-20 3 28 3-16 3 31 3-73 3 17 3 23 3-21 3-43 3 68 3-18 3-37 3 47 3-52 3 2 3-63 3-60 3 95 3 5 3 30 3 19 3 27 3-29 3-18 3 76 3 9 3-16 3-5 3 16 3-34 3-45 3 63 3-4 3 12 3-81 3-25 3-10 3 60 3 32 3 13 3 12 3 32 3-78 3 23 3 59 3-37 3 85 3-66 3 25 3-15 3 15 3-55 3 9 3 27 3 2 3 22 3-20 3 2 3 34 3-67 3 49 3-16 3-14 3 34 3 0 3-35 3 3 3 7 3 15 3-8 3 7 3-13 3 13 3-8 3 30 3-20 3 1 3 7 3 3 3 2 3-59 3-2 3 0 3-7 3-14 3-74 3-42 3-10 3-5 3 41 3 52 3 51 3 46 3 43 3 4 3-26 3-16 3-13 3-11 3-11 3 14 3-22 3-49 3-65 3-10 3-50 3 39 3 75 3 86 3 44 3-11 3-18 3 7 3 12 3-31 3 52 3-23 3-16 3 23 3-8 3-27 3 17 3-10 3-16 3 11 3-9 3-1 3 0 3-13 3 16 3 3 3-5 3 35 3-21 3-33 3 19 3 4 3 0 3 40 3-63 3-2 3 17 3-22 3 9 3 4 3-3 3-15 3 3 3-23 3 11 3-34 3 63 3-16 3-8 3 12 3 36 3-15 3 1 3 6 3-15 3 16 3 14 3-25 3-17 3-2 3-19 3 50 3-27 3-23 3-12 3 4 3 28 3 38 3-8 3 14 3-20 3 9 3 19 3-17 3-11 3 0 3-2 3-5 3-20 3-17 3 32 3-17 3-13 3 26 3-27 3-5 3-3 3 5 3-21 3 16 3-1 3 15 3-32 3-7 3-13 3-39 3-19 3-52 3-92 3-71 3-20 3 72 3 129 3 144 3 11 3-28 3 35 3-17 3 10 3 8 3 2 3 28 3-17 3-8 3-17 3 6 3 17 3-11 3 24 3-20 3 9 3 20 3-22 3 13 3 22 3-36 3-3 3-4 3 11 3-38 3 31 3 18 3 8 3-6 3-11 3 8 3 1 3 1 3-24 3-2 3-8 3 34 3-4 3-17 3 35 3-36 3 15 3 1 3-9 3 2 3 11 3-1 3-22 3 38 3-44 3 25 3-19 3 25 3-10 3 14 3-19 3 17 3 20 3-43 3 20 3 11 3-11 3 4 3-16 3 22 3-12 3-9 3 5 3 14 3-25 3 28 3-15 3 17 3-2 3-7 3 0 3-5 3-4 3 22 3-20 3-7 3-6 3-7 3 15 3 11 3 8 3-14 3 14"/>
<path stroke="#bf00bf" d="M3432 1156l3-15 3-20 3-2 3 29 3-7 3-14 3 29 3-13 3-5 3-4 3-12 3 31 3-28 3-25 3 14 3 21 3-44 3 40 3-13 3 6 3-10 3 3 3 10 3 20 3 19 3-63 3 5 3 10 3-10 3-32 3 0 3 10 3-39 3-24 3 22 3-89 3-7 3-33 3-37 3 28 3 150 3 169 3 24 3-144 3-48 3-5 3 11 3-3 3 39 3-4 3-6 3-13 3 2 3-8 3 10 3 17 3 3 3-31 3 17 3 22 3-50 3 45 3 5 3 12 3-22 3-11 3 16 3 1 3-28 3 29 3 15 3 9 3-50 3 28 3-20 3 52 3-42 3-11 3 28 3-17 3 32 3-40 3 53 3-18 3-19 3 17 3-23 3 54 3-6 3 7 3-30 3-4 3-37 3 30 3-56 3 19 3 34 3-12 3 12 3 2 3-5 3-8 3 23 3-23 3-76 3 57 3-53 3 63 3 17 3 11 3-50 3-2 3-17 3-62 3-61 3 83 3 37 3-23 3-2 3 43 3 36 3-31 3-11 3 66 3-28 3-69 3-13 3 20 3-42 3 98 3-7 3-57 3 21 3-12 3 25 3 18 3 85 3-121 3 16 3 31 3-15 3 24 3 36 3-61 3 18 3 66 3-72 3-25 3-5 3 13 3 12 3 5 3 32 3 3 3-20 3 78 3-69 3 21 3 23 3-10 3-28 3 47 3-24 3-10 3 47 3-15 3-10 3-1 3-36 3 12 3 21 3 14 3-18 3 5 3-31 3 10 3 26 3-41 3-3 3-7 3-20 3-32 3-66 3-40 3 32 3 2 3-39 3 53 3 49 3 40 3 51 3-16 3-5 3-7 3-6 3 1 3-14 3-4 3-1 3-15 3-74 3-46 3-65 3 31 3 90 3 45 3 56 3 4 3 13 3 13 3-2 3 8 3 2 3-14 3-27 3 31 3-8 3 14 3-9 3-12 3-13 3 38 3 11 3-20 3-27 3 11 3 4 3 1 3-4 3 29 3-58 3 12 3 5 3 18 3 2 3-33 3 20 3 19 3-15 3 6 3 6 3-22 3 16 3-4 3-1 3-41 3 15 3 10 3 0 3-7 3 4 3 28 3-3 3 4 3 27 3-39 3 8 3 0 3-20 3 11 3 16 3-11 3-8 3-3 3-3 3-8 3 8 3-21 3 22 3 34 3-22 3-17 3 47 3 20 3 30 3-32 3-25 3 18 3-37 3 1 3-12 3 14 3-3 3-14 3-31 3 19 3-22 3 1 3-15 3 2 3-16 3-3 3 39 3-11 3 11 3-23 3-25 3-19 3-47 3-71 3-95 3-50 3-49 3 110 3 147 3 182 3 17 3-48 3-9 3 2 3-26 3-4 3 27 3 12 3 13 3-11 3-4 3-7 3-5 3 5 3-1 3-6 3-6 3 23 3-3 3 9 3 10 3-31 3 23 3 5 3-3 3 8 3-35 3 30 3-18 3 17 3 3 3 3 3-10 3 0 3 4 3-18 3-8 3 1 3-12 3 24 3-11 3 15 3 4 3 4 3-2 3-25 3 26 3-6 3 7 3-36 3 37 3 15 3-39 3 25 3-12 3 3 3 7 3-4 3-5 3-20 3 19 3-3 3-5 3 14 3 1 3 0 3 14 3-17 3-8 3 37 3-24 3 11 3-8 3 11 3 7 3-14 3-7 3 15 3-4 3-16 3 0 3 26 3-17 3 6 3-14 3 11 3 16 3-10 3-2"/>
<path stroke="#bfbf00" d="M3432 1136l3-1 3-25 3 50 3-13 3 5 3-53 3 23 3 0 3 4 3-17 3 7 3-16 3 6 3 23 3-25 3 27 3-19 3-8 3 17 3-27 3 7 3-22 3 12 3 1 3 14 3 5 3-9 3-9 3 3 3-19 3-11 3-33 3-5 3-10 3-16 3-40 3-24 3-4 3-46 3 44 3 135 3 165 3-56 3-86 3-58 3-28 3 19 3-9 3 52 3-13 3 3 3 38 3-12 3 1 3-38 3 46 3-22 3 38 3-24 3-31 3 57 3-35 3 11 3 9 3-17 3-4 3 7 3-9 3 39 3-34 3 32 3-11 3-12 3-2 3 11 3-3 3 7 3 20 3-32 3-16 3 33 3-40 3 41 3-9 3 11 3-31 3 41 3-17 3 13 3-15 3-14 3 33 3-7 3 39 3-56 3 33 3-17 3 17 3-54 3 77 3-117 3 84 3 11 3-14 3-53 3 16 3-31 3 38 3-30 3-13 3 12 3-14 3-126 3 8 3 81 3-37 3-9 3 109 3-37 3 36 3 77 3-71 3 28 3-16 3 66 3-140 3 22 3 21 3 4 3-26 3 24 3-18 3 19 3-6 3 28 3 75 3-84 3 6 3 29 3-40 3 7 3 33 3 1 3 25 3-16 3 17 3-25 3-47 3 47 3-5 3 35 3-7 3 20 3-56 3 37 3 26 3-21 3 0 3 12 3 1 3-38 3-1 3 32 3 2 3 3 3 3 3-12 3-3 3-13 3 18 3 29 3-47 3 41 3-25 3-13 3-15 3 24 3-1 3-54 3 28 3-29 3-51 3-35 3-74 3 44 3 42 3-17 3 33 3 42 3 41 3 50 3-27 3-1 3-2 3-27 3 3 3-28 3-3 3 0 3-81 3-29 3-94 3-37 3 105 3 86 3 83 3 66 3-5 3-51 3 19 3-24 3 14 3 9 3-17 3-16 3 17 3 3 3 4 3-19 3 18 3-24 3 21 3 10 3-28 3-11 3 28 3-14 3 0 3 12 3 3 3-35 3 54 3-24 3-9 3-20 3 7 3 26 3-3 3-12 3 3 3 0 3 9 3 5 3 5 3-19 3-42 3-11 3 6 3 37 3-1 3 11 3 3 3-11 3 5 3 10 3-14 3 12 3-10 3 10 3-14 3 19 3-13 3 10 3 3 3-42 3 2 3-15 3 37 3 7 3-2 3 29 3 22 3 4 3 36 3-36 3-40 3 15 3-26 3 24 3-32 3 5 3 0 3-7 3-15 3 11 3-38 3-3 3-14 3 14 3 3 3 0 3 0 3 11 3-10 3-11 3-11 3-4 3-56 3-43 3-61 3-94 3-85 3-46 3 120 3 274 3 125 3-85 3-11 3 8 3 9 3 23 3-22 3 33 3-5 3 13 3-22 3 12 3 7 3-38 3 28 3-6 3-18 3 34 3-8 3-12 3-17 3 11 3 11 3 15 3-11 3 23 3-26 3 7 3-10 3-1 3 15 3 36 3-16 3-24 3-11 3 17 3 14 3-45 3 32 3 8 3-4 3-22 3 35 3-28 3-9 3 3 3 25 3-18 3-1 3 24 3 2 3-3 3-9 3 8 3-14 3 14 3 9 3-18 3-3 3 3 3 2 3-12 3 35 3-26 3 13 3-8 3-1 3-2 3-1 3 8 3 1 3-11 3-8 3 19 3-5 3-17 3 25 3 6 3-21 3 17 3-3 3-1 3-17 3 5 3 13 3-12 3 10 3 18 3-15 3-17"/>
<path stroke="#404040" d="M3432 1133l3-9 3-5 3 2 3 15 3 1 3 6 3-11 3-11 3-1 3 11 3 8 3 2 3-25 3 17 3-10 3 21 3 21 3-52 3 3 3 16 3-26 3 42 3-18 3 33 3-29 3 12 3-6 3-40 3-9 3 14 3-20 3 4 3 3 3-49 3 46 3-74 3-42 3-81 3-21 3 89 3 165 3 69 3-60 3-44 3-20 3 3 3-3 3 33 3 5 3 11 3-19 3 27 3-26 3 65 3-43 3 33 3 0 3-2 3 0 3-49 3 23 3 14 3 10 3 0 3-17 3 6 3-14 3 26 3-3 3-5 3 14 3-11 3 8 3 2 3-15 3 1 3-27 3 43 3-40 3 1 3-14 3 40 3 15 3-39 3 61 3-17 3-43 3 52 3-44 3-16 3 40 3 23 3 15 3-50 3 31 3-24 3-20 3-2 3-10 3 12 3 31 3-45 3-8 3-55 3 46 3-26 3-23 3 56 3-50 3 62 3-76 3-35 3-40 3-45 3 108 3 4 3 38 3 54 3-38 3 29 3-40 3 54 3-32 3 4 3 64 3-119 3 15 3-8 3 15 3 5 3 21 3-15 3 31 3 38 3-11 3-80 3 78 3 8 3-84 3-4 3 36 3-12 3 44 3 5 3-28 3-17 3 60 3-31 3 52 3-42 3-15 3 56 3-12 3-12 3 5 3-21 3 47 3-9 3 1 3-21 3-11 3 13 3 12 3-13 3-39 3 44 3-5 3-3 3-12 3 40 3-33 3 0 3-5 3 16 3-5 3-10 3-2 3 7 3-17 3-8 3-18 3-69 3-48 3-25 3 56 3-35 3 67 3 33 3 53 3-2 3-21 3 12 3-8 3 26 3-14 3-6 3-6 3-23 3-43 3 15 3-52 3-64 3-34 3 100 3 64 3 53 3 25 3-10 3 10 3-13 3 6 3-35 3 23 3-9 3 21 3-25 3-11 3 43 3 15 3-32 3 10 3 21 3-50 3 15 3-18 3 51 3-45 3 15 3-20 3 13 3 6 3 1 3 1 3-15 3 0 3 9 3-8 3 29 3-52 3 15 3 4 3 19 3-27 3-10 3-14 3-16 3-2 3 49 3-11 3 11 3 20 3 14 3-29 3 3 3-12 3 8 3-19 3 38 3-17 3 12 3-3 3 17 3-23 3-7 3-17 3-4 3-4 3 9 3 10 3 4 3 30 3-26 3 31 3 1 3 2 3-34 3-8 3 16 3-10 3 3 3-17 3 15 3-22 3 26 3 8 3-44 3 5 3-11 3-40 3 36 3-21 3 29 3 1 3 12 3-14 3-13 3-18 3-46 3-55 3-45 3-70 3-67 3 137 3 221 3 115 3-35 3-71 3-43 3 12 3 16 3 9 3-6 3 11 3 3 3 10 3-22 3 33 3-15 3-38 3 28 3-9 3 3 3-8 3 20 3 13 3-37 3 1 3 13 3-1 3-8 3 3 3-5 3 16 3-12 3 0 3-9 3 38 3-22 3-5 3 8 3 13 3 1 3 9 3-4 3-21 3 16 3-24 3-1 3 28 3-33 3-4 3 7 3-2 3-6 3 21 3-19 3-6 3 32 3-15 3 0 3 5 3 10 3-23 3 27 3-8 3 0 3-3 3-5 3 18 3-8 3-11 3 22 3-17 3 10 3-18 3 2 3 20 3-16 3 17 3-30 3 21 3-1 3 13 3 16 3-50 3 22 3 3 3-33 3 16 3 20 3 0 3 1 3-34 3 59 3-24"/>
<path stroke="#0000ff" d="M3432 1134l3 13 3-7 3-26 3 55 3-3 3-31 3-2 3 0 3 37 3-11 3-18 3-2 3-32 3 51 3-6 3-29 3 5 3 47 3-28 3 9 3-47 3 39 3-26 3-15 3 25 3-53 3 54 3-23 3-24 3 25 3-24 3-36 3-21 3-48 3 12 3-74 3-9 3-27 3 108 3 151 3 124 3-78 3-100 3-49 3-5 3 31 3-6 3 30 3-12 3 13 3-7 3 10 3 9 3-3 3 11 3-7 3 14 3 3 3-8 3 13 3 21 3-31 3 21 3-10 3-11 3 40 3-7 3-38 3 46 3 9 3-34 3 4 3-23 3-3 3 23 3 19 3-6 3-15 3 29 3-59 3 51 3-27 3 9 3 11 3-48 3 47 3 26 3-44 3 4 3-8 3 4 3-5 3-72 3 85 3 14 3-16 3-14 3-57 3 64 3 10 3 6 3-17 3-10 3-69 3 72 3-25 3 38 3-25 3 35 3-49 3-2 3-67 3 38 3-32 3 30 3 21 3 24 3 8 3 60 3-54 3-32 3 37 3-14 3-24 3-64 3 63 3-29 3 4 3 50 3-43 3 2 3 89 3-51 3-60 3 63 3 18 3-5 3 7 3-69 3 14 3 85 3-60 3 14 3 4 3 17 3-22 3 18 3 25 3-36 3 7 3 41 3-13 3-25 3-24 3 71 3-38 3-5 3 39 3-45 3 18 3-42 3 49 3-27 3 30 3-62 3 52 3-25 3 40 3-5 3-28 3 6 3 1 3-2 3-25 3-7 3 33 3 10 3-59 3 42 3-35 3-49 3-64 3-37 3 51 3-12 3 18 3 50 3 76 3 43 3-20 3-10 3-34 3 7 3 19 3-15 3-10 3-19 3-17 3-20 3-40 3-82 3-31 3 82 3 85 3 79 3 4 3-13 3 18 3-15 3 17 3-31 3 12 3 5 3-48 3 24 3 13 3 17 3-31 3 4 3 38 3-10 3 6 3-25 3 14 3 2 3-17 3-8 3-13 3 23 3-3 3-8 3-1 3-7 3 17 3-13 3-19 3 31 3-16 3-10 3 7 3-28 3 0 3 4 3-20 3-19 3 5 3 9 3 38 3-5 3 3 3-8 3-4 3 12 3 6 3 33 3-27 3 20 3-8 3-13 3-1 3-19 3 6 3-16 3 11 3-32 3 8 3 19 3 37 3-23 3 28 3-1 3 12 3 7 3 30 3-22 3-30 3 18 3-16 3 3 3 4 3 2 3-20 3 18 3-8 3-8 3-33 3 20 3-32 3 22 3-33 3 22 3-1 3-17 3 19 3-6 3-16 3-25 3-57 3-88 3-52 3-57 3 70 3 152 3 174 3 133 3-81 3-79 3 30 3-9 3-29 3 26 3 2 3-4 3-10 3 0 3-1 3 6 3-5 3 4 3 6 3-27 3 0 3 22 3-33 3 19 3 26 3-30 3 3 3-20 3 28 3-11 3 9 3-19 3 24 3-7 3-6 3-11 3 11 3 14 3-3 3 6 3-34 3 35 3-17 3-34 3 33 3-35 3 19 3 16 3-17 3 10 3-10 3-5 3 9 3-5 3 22 3-6 3 28 3-35 3 15 3-3 3 15 3-34 3-15 3 21 3 10 3-4 3-1 3-18 3-1 3 16 3 5 3-4 3-12 3 25 3-43 3 45 3 9 3-47 3 22 3-9 3 5 3-20 3 44 3-10 3-10 3 2 3-17 3 8 3-3 3-12 3 13 3-11 3 41 3-51"/>
<path stroke="#008000" d="M3432 1152l3-35 3-1 3-10 3 50 3-24 3 27 3-24 3-18 3 13 3 29 3-12 3-39 3 6 3 24 3-44 3 57 3-62 3 40 3 11 3 0 3 5 3-47 3 26 3 18 3-2 3-10 3-26 3-9 3-8 3 7 3-16 3-4 3-30 3 32 3-4 3-27 3-17 3-47 3 37 3 147 3 106 3-50 3-88 3-63 3 1 3-3 3 49 3-52 3 44 3 2 3-17 3 6 3 2 3 22 3-10 3-8 3-7 3 29 3-2 3-19 3-2 3-9 3 8 3-16 3-8 3 26 3-4 3-3 3 12 3-24 3 16 3 6 3 7 3 6 3 13 3-63 3 56 3 20 3-13 3-42 3 15 3-8 3 17 3-1 3 10 3 17 3 9 3-10 3-22 3-23 3 34 3-30 3-43 3 27 3 62 3-39 3-2 3 2 3 11 3-12 3 30 3-29 3-15 3-24 3 51 3-17 3 6 3 35 3 4 3-80 3-37 3 59 3-115 3 88 3-23 3 58 3-70 3 96 3-39 3-28 3 96 3-42 3-9 3-21 3 32 3-26 3-12 3-7 3 5 3 14 3 15 3-47 3-23 3 61 3 39 3-48 3 46 3-43 3-17 3-30 3 87 3-3 3-31 3 40 3-17 3-47 3 67 3-47 3 53 3 27 3 7 3-28 3 34 3-35 3-4 3-34 3 26 3 22 3-23 3-21 3 26 3 41 3-28 3-3 3-8 3-14 3 2 3 27 3-3 3-3 3 2 3-20 3-3 3-6 3 8 3-9 3 18 3-17 3-36 3-20 3-20 3-47 3-44 3 36 3-11 3 12 3 54 3 40 3 44 3 22 3-10 3-12 3 22 3-26 3-16 3 31 3-41 3-7 3-33 3-42 3-47 3-57 3 28 3 91 3 96 3 63 3 11 3-53 3-7 3 48 3-33 3 5 3-17 3-3 3 23 3-31 3 47 3-25 3-17 3-13 3 21 3 14 3-4 3-9 3 5 3-28 3 18 3-11 3-2 3 12 3-8 3 1 3 19 3 11 3-39 3 29 3-14 3 33 3-57 3 6 3-4 3 46 3-32 3-47 3 24 3 12 3 11 3-37 3 27 3 0 3 8 3-3 3 13 3-13 3-9 3 27 3-20 3-2 3 13 3 25 3-41 3 16 3-13 3-4 3 6 3-41 3 7 3 29 3 19 3 0 3 27 3 15 3 3 3-1 3-38 3 4 3-2 3 18 3-20 3-11 3-6 3-11 3 23 3-20 3 8 3-12 3-6 3 2 3-4 3-19 3 11 3-18 3 24 3-11 3-11 3 13 3-44 3-34 3-36 3-56 3-66 3-42 3 81 3 201 3 102 3-21 3-50 3-14 3 25 3-7 3 1 3 14 3-5 3 11 3-21 3-14 3 17 3 2 3-2 3 4 3 10 3-14 3-8 3-19 3 18 3-17 3 39 3-26 3-1 3 26 3 18 3-22 3-9 3 4 3 17 3-7 3-24 3 38 3-33 3 21 3-39 3 16 3 10 3 20 3-11 3 14 3-7 3-31 3 15 3 3 3 9 3-8 3 20 3-16 3 18 3-7 3 10 3-23 3 10 3-11 3 19 3 7 3 6 3-15 3 18 3-42 3 14 3-13 3 3 3 6 3 7 3 21 3-26 3-4 3 14 3 0 3-15 3-9 3-1 3 26 3-9 3-14 3 1 3 21 3-11 3 15 3 2 3-22 3 3 3 2 3 7 3 10 3-15 3 14 3-11"/>
<path stroke="#ff0000" d="M3432 1132l3-7 3 37 3-1 3-20 3 23 3-6 3-8 3-2 3 18 3-2 3-13 3-27 3 45 3-31 3-24 3 44 3-12 3 5 3 13 3-11 3-7 3 1 3-19 3-11 3 24 3 20 3-26 3-20 3 28 3-67 3 19 3-6 3 5 3-30 3 34 3-38 3-56 3 2 3-58 3 29 3 68 3 177 3-2 3-99 3-30 3 1 3-9 3 7 3 49 3-32 3-3 3 22 3-21 3-11 3 62 3-26 3-42 3 17 3 27 3-55 3 16 3 34 3-7 3-32 3 46 3-29 3-9 3 23 3-27 3 18 3-4 3-19 3 12 3 13 3 2 3 19 3-11 3-11 3 23 3-30 3-16 3 17 3-6 3 59 3-56 3-16 3 45 3 6 3-48 3 55 3-4 3 1 3-5 3 3 3-34 3 35 3-9 3-58 3 42 3 75 3-21 3-46 3 1 3 8 3-20 3-78 3 78 3-3 3-12 3 24 3-21 3 40 3-34 3-109 3 17 3-56 3 112 3 17 3 38 3 18 3-45 3 18 3-13 3 0 3 51 3-93 3 34 3-49 3 19 3 52 3 9 3-57 3 13 3 31 3-69 3 97 3 34 3-10 3-4 3-78 3 32 3 53 3-42 3 0 3 32 3-38 3 30 3-28 3 17 3-39 3 4 3 58 3 11 3-25 3 15 3 3 3 9 3-9 3 8 3 2 3-29 3-12 3-8 3 52 3-6 3-5 3-24 3 6 3-34 3 50 3-31 3 11 3-14 3 14 3-15 3 12 3-13 3 1 3 1 3 33 3-67 3-11 3-37 3-50 3-28 3 11 3-4 3 12 3 82 3 40 3 35 3 7 3-13 3-6 3 17 3-13 3-7 3-5 3-14 3-38 3-62 3-24 3-77 3-43 3 67 3 128 3 62 3 45 3-29 3 50 3-58 3 8 3 29 3-11 3-3 3-1 3 21 3-58 3 41 3-44 3 33 3-49 3 16 3 35 3 5 3 9 3-60 3 39 3-24 3 3 3 41 3-61 3 16 3 13 3 8 3 12 3-14 3-4 3 15 3 3 3-11 3-8 3 16 3-34 3 20 3-42 3 18 3-13 3-14 3 27 3 5 3 31 3-7 3-20 3 10 3 25 3-2 3 2 3-14 3 5 3 24 3-37 3-3 3 0 3-21 3 30 3-6 3-7 3 10 3 8 3-16 3 21 3 6 3-18 3 37 3-15 3-7 3-11 3-12 3-2 3 14 3-6 3-6 3 0 3-21 3 43 3-32 3 6 3 8 3-27 3 27 3-29 3 9 3 12 3-14 3-20 3-21 3-22 3-32 3-36 3-67 3-102 3-36 3 60 3 133 3 122 3 8 3 22 3-9 3 50 3-14 3-11 3 21 3-13 3-12 3 19 3-5 3 3 3 9 3-11 3-31 3 12 3 14 3-21 3 27 3-22 3 4 3 10 3-19 3-1 3 25 3-30 3 42 3-23 3 0 3-5 3 14 3-4 3-11 3-11 3 8 3 11 3 9 3-10 3 6 3 10 3-12 3-8 3 23 3-9 3 1 3 17 3-17 3 14 3-8 3-2 3-12 3 17 3 1 3-24 3-3 3 25 3 12 3-17 3 8 3-33 3 44 3 2 3-34 3 11 3-17 3 18 3 5 3-7 3 10 3-21 3 37 3-24 3 11 3-10 3 4 3 9 3-15 3-12 3 12 3 0 3 13 3-32 3 25 3-14 3 4 3 3 3-5 3-14 3 23"/>
<path stroke="#00bfbf" d="M3432 1092l3 41 3 5 3-6 3-20 3 5 3-30 3 19 3 13 3-26 3 34 3 28 3-62 3 26 3 22 3 6 3-34 3-31 3 55 3-28 3 36 3-19 3-21 3-18 3 7 3 14 3-50 3 17 3 0 3 21 3-33 3-10 3 16 3-37 3-11 3-68 3 18 3-18 3-24 3 58 3 191 3 14 3-32 3-75 3-32 3 7 3-4 3 15 3 23 3-9 3-19 3-18 3 49 3 26 3 1 3-32 3 15 3 32 3 1 3-17 3-26 3 26 3 9 3-26 3 16 3-9 3 1 3-6 3 31 3-20 3-8 3 17 3-35 3 18 3 3 3 8 3-6 3-6 3-10 3 44 3-24 3-8 3-35 3 63 3-13 3-5 3 17 3-20 3 21 3-82 3 9 3 83 3-21 3-42 3 30 3-41 3 53 3-49 3 88 3-55 3-26 3-32 3-13 3-1 3 7 3 33 3 13 3 10 3 40 3-110 3-33 3-30 3 4 3-19 3-20 3 78 3 65 3-7 3-48 3 60 3 35 3-76 3 56 3-55 3 39 3-16 3-101 3 61 3 20 3 53 3-55 3 24 3-34 3-10 3 29 3 44 3-3 3-5 3-85 3-14 3 57 3 59 3-39 3 40 3 32 3-63 3 6 3-25 3 59 3-13 3 26 3-9 3 37 3-25 3-9 3 1 3 23 3-14 3-21 3 27 3-1 3 5 3 1 3 12 3 22 3-38 3-18 3 30 3-10 3 3 3 12 3-22 3 23 3-43 3 22 3 7 3-35 3 22 3 3 3-48 3-7 3-29 3-82 3-67 3 48 3 48 3-31 3 90 3 41 3 77 3-36 3-2 3 6 3-6 3-26 3 29 3-31 3-26 3-31 3-24 3-54 3-110 3-20 3 63 3 103 3 77 3 56 3-18 3-17 3 33 3-17 3 0 3 2 3-21 3 34 3-29 3 23 3-1 3-51 3 42 3 6 3-13 3-4 3-16 3 40 3-1 3-28 3 30 3-22 3-6 3-2 3 22 3-18 3-6 3 15 3-4 3-17 3-8 3 26 3 10 3-18 3 12 3-27 3 25 3-20 3-18 3-13 3 9 3 29 3-16 3 7 3 28 3-1 3-24 3 21 3 2 3-24 3 19 3-14 3 11 3-24 3 11 3-22 3 27 3-12 3-7 3-6 3-7 3 24 3 6 3-2 3 37 3-10 3 47 3-1 3-21 3-35 3 0 3 8 3-46 3 22 3-5 3-28 3-12 3 34 3-21 3-9 3 11 3-4 3-22 3 7 3 2 3 6 3-22 3-22 3 16 3-48 3-57 3-31 3-78 3-86 3-74 3-21 3 183 3 201 3 112 3-14 3-50 3 7 3 11 3 22 3-26 3 0 3 19 3-8 3 27 3-27 3 8 3 16 3-20 3-13 3 17 3-27 3 4 3-5 3 5 3 5 3 24 3-30 3 13 3-3 3 5 3-8 3-12 3 18 3-11 3 8 3-6 3 32 3-31 3 5 3 23 3-2 3-31 3-2 3 38 3-22 3-15 3-5 3 23 3-26 3 30 3 8 3-36 3 2 3 33 3-14 3 16 3 20 3-19 3 33 3-53 3 1 3 26 3-10 3 8 3-5 3 4 3-20 3 12 3-14 3 18 3 2 3 11 3 10 3-27 3-3 3 3 3-19 3 6 3 23 3-18 3-16 3-4 3 37 3-6 3-39 3 44 3-4 3-7 3 43 3-41 3 1 3 2 3-10 3 21"/>
<path stroke="#bf00bf" d="M3432 1126l3-53 3 32 3 25 3-30 3 14 3 11 3-22 3 65 3-53 3-22 3 5 3 44 3-50 3 26 3-24 3 43 3-35 3-20 3 26 3-19 3-15 3 55 3-11 3-56 3 34 3 12 3-15 3-14 3 1 3-58 3 38 3-13 3-22 3-61 3 17 3-62 3 13 3-63 3 28 3 147 3 164 3 10 3-90 3-41 3-81 3 5 3 21 3 22 3 6 3 28 3 0 3-14 3-24 3 46 3 15 3-18 3-11 3-26 3 34 3-13 3-5 3 45 3-21 3-17 3 24 3-43 3 11 3 12 3 22 3 34 3-47 3 20 3 20 3-21 3-4 3 21 3-48 3 39 3-12 3-26 3 13 3-4 3-12 3 60 3-38 3 4 3 24 3 20 3-39 3 16 3-34 3 5 3-13 3 61 3-88 3 29 3 32 3-19 3 2 3 5 3 35 3-53 3-22 3 27 3 23 3 2 3-96 3 79 3-1 3 2 3-101 3 11 3-24 3-97 3 119 3-6 3 79 3 24 3 4 3 33 3-53 3 17 3 62 3-86 3-18 3-79 3 42 3 44 3-54 3 83 3-65 3-43 3 2 3 66 3 33 3-16 3 19 3-32 3-59 3-45 3 212 3-74 3 65 3-64 3-27 3 10 3-2 3-45 3 75 3 39 3-62 3 6 3 8 3 33 3-5 3-5 3 9 3-20 3 0 3 2 3 18 3 18 3-32 3 4 3 7 3 24 3-33 3 1 3 11 3 8 3 1 3-27 3-14 3 2 3-2 3 51 3-53 3 8 3-36 3-3 3-43 3-58 3-59 3 8 3 27 3-12 3 36 3 65 3 41 3 47 3-11 3 4 3 0 3-33 3-40 3 34 3-16 3-22 3-43 3-70 3-80 3-41 3 83 3 92 3 110 3 29 3 13 3 1 3-9 3-2 3 8 3-1 3 18 3-30 3 10 3 18 3 6 3 4 3-23 3-41 3 23 3 4 3 13 3-24 3 6 3-1 3 16 3-15 3-2 3 12 3-23 3 22 3 5 3 4 3-25 3 13 3 10 3-37 3 5 3 9 3 19 3-10 3-7 3 2 3-35 3-3 3 5 3-12 3 14 3 8 3 58 3-20 3-5 3-17 3 42 3-34 3 24 3 17 3-33 3-15 3-30 3 18 3 2 3-11 3-4 3-26 3 31 3 7 3 49 3-27 3-5 3 50 3 2 3 25 3-34 3-11 3-33 3 31 3-15 3-6 3-16 3 13 3-14 3 9 3-38 3-1 3-11 3 12 3-22 3-21 3 30 3 8 3-4 3-8 3 8 3-6 3-59 3-35 3-34 3-63 3-106 3-1 3 96 3 251 3 141 3-83 3-36 3-9 3 4 3 43 3-17 3 19 3-4 3-9 3 31 3-30 3-16 3 14 3 2 3-24 3 20 3 2 3-11 3-7 3 0 3 11 3 12 3-5 3-33 3 24 3-27 3-4 3 16 3 16 3 10 3-25 3 23 3-13 3-17 3 19 3 12 3-21 3 10 3 5 3-20 3 21 3-22 3 6 3 29 3-28 3-1 3-2 3 17 3 1 3-16 3-12 3 23 3-20 3-4 3 41 3-53 3 19 3 12 3-19 3 26 3-18 3 10 3-6 3 12 3-14 3 13 3-1 3-14 3 5 3 25 3-31 3-8 3 22 3-9 3 1 3-25 3 15 3-9 3 10 3-15 3-15 3 42 3-35 3 15 3-6 3 3 3 25 3-13 3-19 3 21"/>
<path stroke="#bfbf00" d="M3432 1133l3 19 3-10 3-32 3 29 3-5 3 12 3-26 3 16 3-5 3 21 3-42 3 47 3-56 3 50 3 8 3-29 3-1 3-32 3 32 3-23 3-41 3 47 3-24 3 33 3-16 3 10 3 19 3-43 3-1 3 0 3 1 3-49 3 31 3-63 3-42 3-29 3-51 3-46 3 106 3 232 3 21 3-128 3-21 3-34 3 10 3-43 3 43 3 8 3 6 3 29 3-14 3 15 3 25 3-13 3-30 3 42 3 21 3 8 3-19 3-10 3 24 3-29 3 8 3 17 3-23 3 7 3 2 3 8 3-32 3 21 3 10 3-27 3 23 3-3 3 14 3-23 3 10 3-4 3 1 3 12 3-26 3-12 3 1 3 30 3-13 3 35 3-13 3-6 3 27 3-38 3 4 3-29 3 13 3-32 3 4 3 38 3-7 3 12 3 22 3 6 3-73 3 70 3-24 3-53 3 61 3-52 3-12 3-38 3 17 3 29 3 7 3-29 3-56 3 11 3 45 3 0 3 58 3 9 3-66 3 126 3-64 3-27 3-6 3-6 3 1 3-86 3 56 3 8 3 9 3 13 3-36 3 15 3 77 3-5 3 12 3 6 3-73 3-3 3 2 3 69 3-2 3-58 3 37 3 21 3-41 3-9 3 17 3 44 3-2 3 10 3-16 3 6 3-23 3 12 3 24 3 0 3-20 3 24 3-19 3-6 3 12 3 0 3 6 3 1 3-23 3-24 3 54 3-43 3 25 3-2 3 12 3-1 3 25 3-8 3-28 3-6 3-2 3-12 3 4 3-42 3-42 3-75 3-46 3 2 3 15 3 79 3 27 3 76 3 21 3 15 3 2 3-4 3-22 3 1 3 7 3-39 3-8 3 18 3-20 3-109 3-50 3-17 3 50 3 106 3 74 3 11 3 1 3 8 3-1 3-16 3 23 3-25 3 26 3-20 3-24 3 6 3 2 3 24 3-4 3-1 3-32 3 30 3-44 3 20 3 3 3 11 3 11 3-5 3 1 3-11 3-4 3 14 3-17 3-8 3 13 3 2 3 15 3-28 3-8 3 26 3-35 3 5 3-16 3-10 3-21 3 24 3 9 3 4 3-2 3 3 3 21 3 11 3-18 3 2 3 29 3-21 3 2 3-11 3-12 3 24 3-7 3 12 3-3 3-15 3-23 3 22 3-10 3 24 3-23 3 30 3 34 3 11 3 21 3-16 3-21 3 4 3-41 3 13 3 7 3 8 3-38 3 1 3-21 3 9 3-17 3-3 3-3 3-12 3 13 3-8 3 15 3 0 3-22 3 0 3-13 3-6 3-38 3-33 3-96 3-51 3-115 3 8 3 137 3 156 3 102 3-42 3 33 3-18 3 27 3 13 3 34 3-8 3-29 3 8 3 21 3-17 3 0 3 8 3-3 3-11 3 1 3 17 3-22 3 20 3 1 3-6 3 13 3-30 3 12 3 17 3-5 3 1 3 9 3 0 3-28 3 14 3 1 3-20 3-5 3 15 3 31 3-34 3 3 3 8 3 6 3-29 3 30 3-22 3 8 3-5 3-6 3 2 3 2 3-2 3-8 3 4 3 22 3 8 3-20 3 16 3-8 3 14 3-6 3-32 3 25 3 3 3 1 3-19 3 5 3-8 3 15 3 6 3-14 3 18 3-21 3 6 3-11 3 12 3 6 3-14 3 7 3 10 3-3 3-10 3 13 3-22 3 8 3 30 3-39 3 19 3 23 3-10 3-21 3 31 3-27"/>
<path stroke="#404040" d="M3432 1148l3 7 3 4 3-8 3 13 3-35 3 35 3 7 3-45 3 9 3 4 3 21 3-13 3-15 3-10 3 28 3-12 3-11 3 6 3 4 3-18 3 13 3 13 3 8 3-39 3-2 3 33 3-26 3-43 3 51 3-20 3 8 3-41 3-22 3-28 3 10 3-52 3-32 3-32 3 73 3 162 3 155 3-120 3-76 3-47 3 16 3-42 3 44 3-9 3 21 3-11 3-11 3 25 3-3 3 35 3-7 3 6 3-12 3-26 3 33 3-27 3 9 3 1 3 18 3-19 3 6 3 2 3-2 3-18 3 10 3-10 3 35 3-12 3 7 3 2 3 9 3-26 3 37 3-4 3-25 3-22 3 46 3-2 3-36 3 7 3 46 3-9 3-43 3 57 3-76 3 62 3 20 3-8 3-47 3-2 3 19 3 2 3-117 3 105 3 34 3-31 3-3 3-96 3 68 3-61 3 29 3 20 3 1 3 66 3-14 3-53 3-17 3 3 3-104 3 6 3 23 3 87 3 26 3 5 3-36 3 29 3 3 3 43 3-95 3 18 3-21 3 115 3-190 3 169 3-28 3-19 3-18 3-63 3-24 3 88 3 15 3 49 3-82 3 46 3-60 3 76 3-75 3 52 3 32 3-40 3 6 3 5 3-30 3 66 3-47 3 41 3 17 3-24 3 6 3 15 3-34 3 13 3 10 3-15 3 39 3-21 3-12 3 2 3 11 3 1 3-15 3 4 3 16 3 5 3-55 3 72 3-50 3-4 3-5 3-5 3 37 3-15 3 15 3-46 3 3 3-4 3-41 3-109 3-57 3 21 3 9 3 38 3 87 3 51 3 33 3 2 3-24 3-10 3-3 3 8 3 8 3-36 3 13 3-19 3-54 3-58 3-85 3-43 3 42 3 145 3 89 3 44 3 4 3-22 3 14 3-26 3 33 3 39 3-35 3 9 3-19 3 16 3-16 3-29 3-2 3 20 3-5 3 14 3 5 3-23 3 20 3-39 3 54 3-64 3 9 3 16 3 35 3 0 3-51 3 39 3-28 3 6 3-20 3 11 3 0 3 10 3 9 3-37 3 16 3-4 3-45 3 13 3-11 3 49 3-10 3-15 3 27 3 15 3-4 3-5 3 6 3-6 3 38 3-38 3-26 3 37 3-46 3 13 3 24 3-51 3 26 3-17 3-1 3 39 3-25 3 36 3 5 3 40 3-9 3 21 3-53 3-26 3 26 3 12 3-10 3-15 3-13 3 1 3 3 3-31 3-15 3 30 3-12 3-27 3-1 3 9 3 20 3-20 3 7 3 4 3-10 3-37 3-39 3-22 3-53 3-102 3-70 3-12 3 110 3 201 3 96 3-34 3-9 3 22 3 13 3 2 3 37 3-27 3 21 3-34 3 17 3-7 3-14 3 15 3 32 3-41 3 5 3-1 3 5 3 4 3-7 3-21 3 61 3-51 3 17 3-18 3 25 3-9 3 2 3-3 3 10 3 10 3-21 3 5 3-13 3 4 3-5 3-9 3 25 3-9 3-6 3-4 3 2 3-5 3 22 3-9 3 29 3-56 3 22 3-4 3 15 3-5 3-9 3-1 3 13 3 8 3-7 3 2 3 7 3-5 3-17 3 29 3-41 3 13 3 4 3 19 3-2 3-23 3-13 3 20 3 15 3-17 3-5 3 19 3 0 3 5 3-8 3 3 3 13 3-4 3-9 3-13 3 10 3-21 3 20 3 16 3-3 3-8 3 1 3-23 3 4"/>
<path stroke="#0000ff" d="M3432 1104l3-16 3 36 3-19 3 1 3 8 3-6 3-22 3 22 3 23 3-18 3-12 3-7 3 20 3-5 3 18 3 1 3-18 3 7 3 17 3-16 3-27 3-9 3 49 3-2 3-33 3 22 3-21 3-6 3-4 3 13 3 5 3-29 3-19 3-4 3 7 3-44 3-19 3-62 3 0 3 59 3 151 3 95 3-129 3-45 3-14 3-41 3 19 3 18 3 27 3 19 3-17 3 22 3-15 3 0 3-8 3 38 3 6 3-14 3 21 3 9 3-12 3 18 3-14 3-30 3 21 3-43 3 26 3 9 3 9 3 14 3-6 3 46 3-35 3-38 3 63 3-76 3 42 3 11 3 4 3-52 3 38 3-10 3 4 3 21 3 22 3-20 3-44 3 65 3-30 3-26 3-11 3 55 3-26 3-12 3-41 3 74 3 13 3-30 3 30 3-20 3-20 3-26 3 64 3 15 3-99 3-15 3 7 3 36 3 28 3-59 3-8 3-34 3-85 3 37 3 35 3 47 3 25 3 43 3-13 3-26 3 24 3-43 3 45 3-46 3-23 3 21 3-19 3-59 3 15 3 45 3 58 3-63 3-29 3 57 3 14 3 12 3-60 3 24 3 9 3-44 3 74 3-21 3 57 3-41 3 31 3 27 3-25 3 23 3-11 3-45 3 36 3 21 3-19 3 11 3 6 3 12 3 12 3-31 3 15 3-19 3 2 3 12 3 7 3-10 3 48 3-38 3-15 3 16 3-15 3 26 3-26 3 17 3 6 3-7 3-2 3-17 3 14 3-25 3-4 3 0 3-70 3-56 3-30 3-21 3 52 3 6 3-35 3 64 3 50 3 43 3 51 3-56 3 40 3-18 3-22 3-5 3-1 3-20 3-28 3-32 3-7 3-116 3-28 3 58 3 97 3 77 3 10 3 17 3-38 3 31 3-2 3 12 3-4 3-12 3-2 3-7 3 6 3 3 3-1 3 23 3-33 3 23 3-4 3-6 3-13 3-5 3 0 3-6 3 24 3-18 3-6 3 7 3-3 3 4 3-1 3-9 3 7 3 8 3-41 3 9 3 7 3 9 3-6 3 1 3-13 3-20 3-32 3 37 3 12 3 11 3 19 3 0 3-29 3 21 3 36 3-32 3 0 3-13 3 25 3 22 3-10 3-3 3-16 3-15 3-15 3 7 3-10 3 13 3 24 3 3 3-4 3 37 3 14 3 14 3-19 3-8 3-42 3 25 3-18 3 8 3-22 3 0 3 4 3-14 3-10 3-30 3 17 3-18 3-10 3 20 3-37 3 28 3 13 3-22 3 21 3-60 3 4 3-35 3-48 3-47 3-91 3-62 3-43 3 166 3 207 3 93 3-29 3-11 3-8 3 9 3-1 3 20 3 1 3 14 3-10 3-20 3 20 3-13 3 22 3-5 3-12 3-10 3 6 3-6 3 11 3 3 3-17 3-9 3 23 3-15 3-11 3-9 3 27 3 11 3-29 3 16 3-42 3 11 3 18 3 6 3 23 3-39 3 29 3-29 3 7 3 5 3-5 3 4 3 9 3-27 3 20 3-10 3 15 3-10 3-2 3 14 3-16 3-18 3 9 3 7 3-12 3 34 3-12 3-1 3 0 3 8 3-14 3 3 3 0 3-20 3 0 3 18 3 10 3-13 3 21 3 11 3-38 3 33 3-9 3-7 3 3 3 16 3-4 3-17 3-9 3 18 3-13 3 7 3-18 3 6 3 17 3-7 3-2 3-10 3 18"/>
<path stroke="#008000" d="M3432 1122l3 19 3-32 3 22 3-15 3 27 3-25 3-19 3 35 3-10 3-11 3 49 3-43 3 4 3-27 3 35 3 0 3-2 3-42 3 31 3-8 3 8 3-8 3 23 3-3 3-38 3 43 3-17 3 8 3 5 3-29 3 4 3-22 3 32 3-20 3-53 3 32 3-12 3-32 3-37 3 9 3 136 3 137 3-27 3-84 3-111 3 17 3 4 3-1 3-2 3 10 3-2 3-46 3 72 3 9 3-25 3 5 3 21 3 2 3 6 3-6 3 13 3 8 3-13 3 4 3 7 3 9 3-16 3-6 3-9 3 40 3-30 3 47 3-29 3-22 3 11 3-20 3 15 3 36 3-20 3-18 3 24 3-13 3 15 3 5 3-1 3 1 3-5 3-7 3 8 3-9 3-30 3 33 3-46 3-12 3 14 3 6 3 51 3-14 3-46 3 79 3-29 3-15 3 44 3-99 3 95 3-72 3 46 3-28 3 31 3-53 3-15 3-17 3-13 3-41 3-92 3 131 3 6 3 50 3 42 3-13 3 45 3-6 3-32 3-1 3-26 3 25 3-10 3-15 3 37 3-16 3-14 3 31 3-55 3-7 3 91 3-46 3 17 3 18 3-56 3-4 3-14 3 47 3 3 3-3 3-80 3 9 3 79 3-51 3 0 3 19 3 39 3-17 3 1 3 38 3-34 3 25 3-26 3-2 3-27 3 39 3-7 3 2 3 3 3-5 3 30 3 0 3-26 3-12 3 22 3 5 3-36 3 16 3-2 3 1 3-5 3-7 3 14 3-5 3 3 3-7 3-28 3-35 3-70 3-37 3 54 3-20 3-17 3 70 3 46 3 24 3 23 3-34 3-7 3 40 3-17 3-33 3 12 3-15 3-19 3-15 3-26 3-57 3-50 3 14 3 54 3 113 3 52 3-10 3-17 3-21 3 38 3-15 3 7 3-9 3-39 3 22 3 17 3-13 3 10 3 1 3 20 3-22 3 4 3 2 3 1 3-28 3-3 3 16 3 10 3-15 3 36 3-21 3 17 3-47 3 48 3-5 3-24 3-3 3 3 3-9 3 5 3 16 3 0 3-28 3 9 3-33 3-18 3 20 3 16 3-5 3 21 3 20 3-25 3 19 3-2 3-6 3 17 3-21 3 29 3-35 3 19 3-7 3 10 3-10 3-16 3-8 3 15 3-35 3 39 3-4 3 24 3 2 3 33 3 6 3 7 3-30 3-7 3-5 3-14 3 8 3-19 3 17 3-52 3 13 3-23 3 23 3-3 3-12 3-23 3 40 3-37 3 2 3-11 3-5 3 37 3-52 3-17 3-13 3-36 3-84 3-36 3-106 3-9 3 104 3 222 3 179 3-69 3-42 3-18 3 24 3-17 3 5 3-11 3 2 3 28 3-42 3 28 3-21 3 32 3-7 3-26 3 27 3-5 3-16 3 9 3-6 3-7 3-13 3 24 3-21 3-5 3 15 3 6 3 24 3-24 3-23 3 31 3 11 3-39 3-2 3-1 3 11 3 14 3-10 3 15 3-2 3-10 3 17 3-19 3 10 3-14 3 6 3-12 3 23 3-12 3-14 3 35 3-2 3 7 3-16 3 2 3 0 3-18 3 9 3 11 3-14 3 44 3-39 3 9 3-18 3 11 3 19 3-16 3 3 3 11 3-8 3-2 3 2 3 19 3-14 3 14 3 6 3-11 3-24 3 19 3 23 3-20 3 5 3-14 3-1 3 25 3-2 3-4 3-22 3-1"/>
<path stroke="#ff0000" d="M3432 1152l3-34 3-7 3 21 3-25 3 21 3 1 3-48 3 23 3-16 3-7 3 82 3-26 3-8 3-12 3 1 3-3 3-3 3-30 3 36 3 8 3-19 3 15 3-27 3 30 3-27 3 5 3 13 3 1 3-7 3-50 3-21 3 13 3 6 3-27 3-35 3-39 3-61 3-57 3-76 3 27 3 182 3 158 3 134 3-138 3-67 3-38 3 23 3-32 3 53 3-28 3 42 3-28 3 26 3 37 3-23 3 16 3-28 3-19 3 37 3 7 3 18 3-41 3 42 3-4 3-21 3 14 3 12 3-5 3 2 3-19 3-8 3 25 3-19 3 13 3-11 3 3 3-16 3 0 3 32 3 15 3-22 3 7 3 8 3-22 3-12 3 13 3-8 3 6 3 31 3 3 3-80 3 19 3 30 3-17 3-38 3 15 3 13 3 35 3-11 3 55 3-80 3 8 3 35 3 9 3 10 3-88 3 44 3-13 3 16 3-77 3 23 3-16 3-47 3-3 3-59 3 72 3 41 3 39 3 27 3 16 3-23 3 39 3-2 3-31 3-29 3-3 3-6 3-38 3 28 3 25 3 6 3 19 3-33 3-33 3 59 3 1 3-22 3 11 3-21 3-58 3 43 3 34 3 42 3 58 3-94 3 66 3-94 3 28 3-11 3 4 3 19 3 15 3 27 3 29 3-34 3-16 3 6 3 21 3-15 3 5 3-18 3 12 3 36 3-31 3 7 3-23 3 23 3-20 3-14 3 14 3 8 3 41 3-28 3 6 3-17 3 0 3-25 3 7 3-4 3-9 3-12 3-31 3-50 3-82 3 24 3 31 3-28 3 13 3 87 3 80 3 7 3 1 3-47 3 42 3-45 3 8 3-1 3-4 3-5 3-48 3-64 3-45 3-71 3 20 3 119 3 63 3 103 3-21 3-31 3 5 3 6 3-4 3 10 3 13 3-23 3 19 3 1 3-8 3-6 3 11 3-16 3-2 3 8 3 1 3 40 3-53 3 25 3-20 3 21 3-19 3 3 3 12 3-5 3 5 3 27 3-12 3-26 3-25 3 27 3-21 3 7 3-33 3 36 3-19 3-1 3 1 3-40 3 20 3 41 3-12 3-21 3 34 3-10 3-2 3-9 3 16 3 14 3 8 3-17 3 0 3 3 3-12 3-31 3 70 3-37 3-21 3-37 3 34 3 10 3 20 3 1 3 3 3 36 3 3 3 35 3-9 3-47 3-32 3 21 3-12 3-9 3-7 3-5 3-1 3-5 3-19 3 16 3-26 3-17 3 14 3-4 3 19 3-34 3 2 3 12 3-22 3-4 3-7 3-66 3-75 3-65 3-110 3-50 3 61 3 189 3 255 3-50 3-10 3-24 3 23 3-18 3 18 3 10 3-6 3-3 3 33 3-28 3-14 3 14 3-6 3 11 3 14 3-25 3 20 3 1 3-31 3 26 3-17 3 21 3 17 3-21 3-23 3 16 3-12 3-23 3 31 3-18 3 11 3-2 3-1 3 9 3-6 3 22 3-13 3 2 3-11 3-8 3-1 3 32 3-12 3 7 3-45 3 46 3 11 3-5 3-22 3-22 3 32 3-7 3-6 3 3 3 15 3-29 3 8 3 38 3-33 3 16 3 13 3 21 3-36 3 10 3-15 3-10 3 19 3 29 3-43 3 6 3-8 3 3 3 10 3-28 3 31 3-10 3 5 3 10 3-10 3 0 3-13 3 20 3-4 3 5 3 11 3-15 3 2 3-4"/>
<path stroke="#00bfbf" d="M3432 1155l3 48 3-41 3-8 3 1 3-3 3-12 3 39 3-36 3 38 3-27 3 35 3-34 3-6 3-1 3 12 3 22 3-13 3 12 3-29 3 16 3-14 3-4 3-13 3-2 3 6 3-7 3 36 3-12 3-2 3-66 3 46 3-24 3 32 3-31 3-10 3-16 3-55 3-28 3-15 3 13 3 205 3 92 3-126 3-52 3-41 3 20 3 5 3-30 3 29 3-6 3 3 3 9 3 11 3 3 3 5 3-28 3 47 3-21 3-8 3-14 3 11 3-12 3 20 3-5 3-1 3-18 3 33 3-18 3 49 3-32 3-11 3-11 3 15 3-24 3-17 3 48 3-24 3 31 3-29 3 55 3-52 3 3 3 57 3-45 3-15 3 50 3-42 3-1 3 46 3-52 3 38 3-45 3 4 3 35 3-2 3-38 3-29 3 47 3 11 3-39 3 45 3-42 3-53 3 36 3-17 3-25 3 55 3 17 3-65 3 34 3 10 3-35 3-33 3-51 3 72 3 38 3 48 3-13 3-46 3 66 3 63 3-148 3 128 3-57 3-31 3-66 3 93 3-55 3 15 3 36 3-62 3 35 3 41 3-84 3 45 3 75 3-66 3 43 3-32 3-53 3 29 3-22 3 70 3-29 3 39 3 0 3-25 3 23 3 4 3 10 3 24 3-27 3 0 3 43 3-36 3 12 3-4 3-1 3-18 3 11 3 32 3-36 3 22 3-36 3 41 3-34 3 20 3 5 3-23 3-3 3-10 3 45 3-45 3-5 3 16 3 2 3 20 3-20 3-9 3-14 3-16 3-28 3-70 3-10 3 4 3 28 3 44 3 35 3 28 3 7 3 13 3 16 3-39 3 37 3-62 3 9 3-8 3-22 3-20 3 1 3-69 3-44 3-18 3 43 3 69 3 89 3 13 3 19 3-3 3-30 3 7 3 11 3 18 3-30 3-22 3 25 3 7 3-26 3 27 3-36 3 9 3 11 3 3 3-26 3 8 3-4 3 0 3 1 3-19 3 25 3-6 3-11 3-9 3 32 3-28 3 13 3-5 3-6 3 20 3 17 3-33 3-16 3 39 3-19 3-42 3 19 3-35 3 23 3 26 3-5 3 3 3 15 3-21 3 52 3-17 3-14 3-1 3-16 3-2 3 9 3 3 3 10 3-1 3-9 3 24 3-2 3-30 3 26 3-13 3-1 3 8 3-1 3 53 3 10 3-28 3-31 3 4 3 24 3-30 3-14 3-5 3 10 3-9 3-28 3 25 3-3 3-34 3-1 3 11 3 18 3-15 3 3 3 1 3 20 3-28 3 9 3-43 3-6 3-35 3-49 3-60 3-54 3 8 3 111 3 160 3 94 3-59 3-27 3 22 3-18 3 14 3 12 3-11 3 4 3-11 3 29 3 6 3-29 3-11 3 10 3-15 3 31 3-15 3-2 3 25 3 10 3-21 3-14 3-1 3 8 3 11 3-35 3 9 3-13 3 18 3 10 3-1 3 10 3-19 3-9 3 19 3-10 3 22 3-41 3 22 3 24 3 14 3-29 3-14 3 1 3 13 3-9 3-7 3 6 3 8 3-9 3 25 3-28 3 3 3-5 3-4 3-4 3 13 3-10 3 3 3-6 3 12 3 16 3-37 3 3 3-8 3 15 3 15 3-7 3-20 3 3 3-10 3-4 3 23 3-2 3-12 3 13 3-7 3 20 3-8 3-13 3 1 3 16 3 25 3-40 3 20 3-2 3-18 3 0 3 11"/>
<path stroke="#bf00bf" d="M3432 1128l3 27 3-2 3-34 3 58 3-26 3-7 3 1 3 23 3-25 3 8 3-29 3 60 3-49 3 4 3 11 3-6 3 15 3-51 3 19 3-16 3 19 3-13 3 16 3-20 3 16 3-23 3-2 3 1 3-10 3-22 3-22 3 7 3-6 3-37 3-7 3-60 3-53 3-72 3-98 3 95 3 264 3 150 3-91 3-59 3-12 3-40 3 22 3 12 3-3 3 19 3 28 3-23 3 24 3-41 3 51 3-6 3-27 3 44 3-22 3 45 3-52 3 30 3-17 3 6 3 26 3-23 3 31 3-30 3 11 3-1 3 11 3-1 3-29 3-5 3 16 3-25 3 29 3 7 3-4 3 17 3-4 3 1 3-38 3 27 3 32 3-41 3-1 3 23 3-4 3 59 3-70 3-6 3-30 3-5 3 6 3-5 3 57 3-53 3-21 3 35 3 48 3-25 3-47 3 9 3-32 3-72 3 147 3-9 3-82 3 42 3-20 3-36 3-49 3 3 3 16 3 34 3 33 3-47 3 63 3-38 3 44 3-13 3 27 3-64 3 56 3-20 3-58 3 29 3 42 3-52 3 58 3-54 3-13 3 35 3-32 3 94 3 24 3-63 3 26 3-98 3 64 3-36 3 42 3 51 3-67 3 10 3-26 3 52 3-10 3-44 3 19 3 27 3 24 3 0 3-16 3 10 3 27 3-22 3-9 3-8 3 24 3-20 3 17 3 12 3-36 3 42 3-45 3 15 3 5 3 7 3-30 3 2 3 3 3-2 3 1 3-13 3 26 3-11 3-31 3 12 3-32 3-43 3-79 3 0 3 67 3-13 3 23 3 44 3 26 3 43 3 11 3-9 3-29 3 47 3-50 3 22 3-27 3-46 3 11 3-22 3-58 3-89 3-43 3 72 3 103 3 77 3 16 3-6 3 5 3-23 3 62 3-20 3-29 3 33 3 1 3 15 3-11 3-13 3-14 3 13 3-15 3-7 3 15 3-9 3 8 3-4 3 29 3 11 3-39 3-15 3 14 3-5 3 7 3-3 3 19 3-15 3 14 3-31 3 40 3-30 3 14 3-7 3-21 3 7 3-25 3-26 3 10 3-17 3 54 3-5 3 23 3-11 3 37 3-22 3 12 3-25 3-4 3 8 3-11 3 14 3 14 3-22 3 5 3-18 3-12 3-2 3 2 3 17 3 12 3 19 3-13 3-3 3 8 3 6 3 32 3-24 3-7 3 1 3-19 3-19 3-6 3-2 3-25 3 35 3-16 3-6 3-22 3-15 3 14 3-12 3 18 3-21 3 11 3-32 3 11 3-27 3-11 3-42 3-64 3-57 3-66 3-68 3 59 3 152 3 219 3 86 3-93 3-6 3-11 3-11 3 36 3-4 3-1 3 33 3-38 3 27 3-21 3-10 3 6 3 16 3-21 3 25 3-6 3-17 3 14 3-8 3 1 3 7 3 4 3-34 3 16 3 4 3-27 3 24 3 6 3 8 3 0 3 2 3 9 3-29 3 23 3 11 3-8 3-31 3 23 3-16 3 5 3 1 3 3 3 17 3-29 3 21 3 13 3-21 3 12 3-23 3-5 3 24 3 4 3-19 3 7 3 18 3-24 3 6 3 6 3 23 3-24 3 9 3-1 3-21 3 11 3-7 3-3 3 0 3-1 3 10 3-4 3 30 3-37 3 13 3-5 3-5 3 17 3-29 3 21 3-19 3 41 3-13 3-20 3 11 3-27 3 30 3-7 3 13 3 4"/>
<path stroke="#bfbf00" d="M3432 1101l3-15 3 26 3 15 3-8 3-22 3 7 3-10 3 10 3 9 3 19 3-36 3 12 3-11 3 13 3 12 3-22 3 13 3-2 3 5 3 17 3-27 3 11 3-41 3 29 3-21 3-13 3 42 3-35 3 13 3-45 3 22 3-33 3 17 3-39 3-28 3-5 3-27 3-27 3-25 3 123 3 136 3 88 3-117 3-48 3-17 3-36 3 37 3-9 3 14 3-35 3 59 3-22 3-15 3 48 3 4 3-3 3 1 3-23 3 36 3-19 3 9 3-11 3-9 3 14 3-1 3 13 3-36 3 32 3-49 3 38 3 0 3-17 3 9 3 34 3-15 3 9 3-57 3 66 3-30 3 25 3 16 3-17 3 3 3-18 3-12 3-12 3 35 3-52 3 67 3 21 3-83 3 15 3 2 3-6 3 32 3-55 3-54 3 111 3-20 3 21 3-44 3 32 3-53 3-48 3 89 3-59 3 28 3-17 3 39 3-3 3-40 3-38 3-59 3 51 3 40 3 75 3-55 3 49 3 58 3-23 3-107 3 57 3-31 3 55 3-37 3-32 3 15 3 27 3 41 3-41 3-17 3 45 3-53 3 49 3 47 3-93 3 94 3-76 3-50 3 12 3-11 3 40 3 66 3-25 3-20 3 30 3-36 3-22 3 33 3 55 3-47 3 15 3-9 3 18 3 25 3-60 3 56 3-3 3-19 3-6 3-34 3 36 3 0 3 37 3-1 3 17 3-43 3 12 3 9 3-27 3 46 3-18 3-13 3-6 3-13 3-6 3 24 3-49 3 55 3-20 3-45 3-25 3-94 3 23 3 5 3 33 3 37 3 43 3 19 3 15 3-8 3-4 3-10 3 5 3-18 3 13 3-6 3-11 3-28 3-4 3-41 3-74 3-21 3 66 3 92 3 61 3-4 3-19 3 16 3 6 3-34 3 16 3-3 3-7 3 6 3-6 3-5 3 14 3-8 3 15 3 10 3-28 3 23 3-13 3-13 3 9 3-19 3 34 3-35 3 25 3-15 3-1 3-29 3 23 3 14 3-11 3 11 3-6 3 11 3-33 3 16 3 21 3-37 3 14 3-16 3-21 3-6 3 10 3-2 3 22 3 7 3-12 3 7 3 21 3 26 3-16 3 6 3-19 3 6 3-26 3 20 3-23 3 14 3 1 3-32 3-5 3-10 3 35 3 12 3 33 3-6 3-20 3 15 3 15 3-19 3-7 3 6 3-5 3-4 3-48 3 29 3-27 3 21 3-7 3-13 3 13 3-40 3 20 3-18 3-18 3 23 3 31 3-32 3 20 3-30 3-21 3-21 3-34 3-43 3-75 3-68 3 0 3 84 3 175 3 177 3 0 3-73 3-5 3-17 3-2 3-24 3 30 3-9 3-28 3 10 3 28 3-10 3-7 3 18 3-35 3 8 3 14 3 7 3-11 3 6 3-10 3 24 3-21 3 4 3 4 3-12 3 5 3-11 3 13 3-6 3-9 3 18 3-2 3-4 3 5 3-15 3 54 3-31 3 10 3 25 3-14 3-10 3 4 3-12 3-6 3-2 3 13 3 13 3-35 3 0 3 28 3-44 3 19 3 15 3 20 3-36 3-5 3 37 3-10 3-16 3 11 3-14 3 24 3-6 3 20 3-16 3-26 3 4 3 29 3-17 3 3 3 21 3-22 3 4 3 17 3-20 3-3 3-2 3 31 3-40 3 13 3-16 3 11 3 10 3-6 3-3 3 35 3-15 3-14 3-9"/>
<path stroke="#404040" d="M3432 1167l3-69 3-2 3 64 3-12 3-4 3-7 3-33 3 20 3-9 3 3 3 1 3 18 3 10 3 30 3-72 3 57 3-50 3 22 3 16 3 20 3-53 3 14 3 4 3 1 3-10 3-1 3-15 3 3 3-10 3 21 3-47 3 29 3-60 3 18 3-23 3-46 3 19 3-86 3 19 3 89 3 155 3 17 3-89 3-30 3 18 3-13 3-16 3-14 3 11 3 21 3 3 3 5 3 14 3 6 3-8 3-4 3-20 3 12 3 7 3 9 3-31 3-8 3 20 3 16 3-14 3 33 3-13 3 9 3-60 3 55 3-29 3 34 3-3 3 1 3-11 3 16 3-21 3-13 3 17 3 9 3-6 3 7 3-2 3 26 3-21 3-38 3 36 3-9 3-17 3 10 3 11 3 13 3-20 3-4 3 15 3 15 3-40 3 7 3 42 3 9 3-66 3-10 3-7 3-14 3-26 3 22 3 34 3-1 3-8 3 5 3-46 3-105 3 23 3-13 3 9 3 103 3 8 3-29 3 61 3-30 3 32 3-38 3 39 3 20 3-72 3 12 3 20 3-77 3 121 3-40 3 0 3-48 3-43 3 63 3 20 3 89 3-94 3-28 3-12 3 27 3-5 3 50 3-45 3 70 3-28 3-10 3 24 3-24 3 58 3-36 3 31 3 3 3-10 3-6 3-3 3 1 3 11 3 0 3-17 3 32 3 12 3-37 3 6 3 23 3-20 3 3 3-11 3 37 3-35 3 20 3-20 3 10 3 11 3-19 3-13 3 30 3-15 3-25 3 3 3-39 3-19 3-26 3-115 3 34 3 36 3 13 3 9 3 92 3 20 3 10 3 22 3 7 3-41 3 10 3 0 3 5 3-20 3-14 3-27 3-27 3-72 3-64 3 33 3 31 3 78 3 80 3 19 3-4 3-8 3-14 3 16 3-4 3 2 3 5 3 2 3-6 3-16 3-3 3 41 3-14 3-3 3-29 3 3 3 20 3 7 3-53 3 38 3 6 3-7 3-14 3 14 3 8 3 7 3-34 3 29 3-20 3-2 3-2 3 13 3-24 3-7 3 7 3 14 3-5 3-12 3-41 3-10 3 22 3-3 3 47 3-12 3 15 3 13 3-48 3 27 3 7 3-36 3 31 3-2 3 15 3-12 3-3 3 13 3 0 3-62 3 9 3 2 3 8 3 23 3-5 3 23 3 7 3 14 3 40 3-27 3-41 3 5 3-1 3-18 3 7 3-10 3 10 3-1 3 7 3-28 3 12 3-41 3 11 3-15 3 18 3-11 3 4 3 12 3-3 3-5 3-14 3-73 3-12 3-24 3-115 3-86 3-69 3 58 3 181 3 199 3 36 3-58 3-13 3 16 3 5 3-9 3 26 3-35 3 47 3-43 3 14 3 27 3-19 3-11 3 24 3-14 3-15 3-5 3-16 3 27 3 11 3-3 3 10 3-10 3-2 3-7 3 23 3-27 3 0 3 4 3 17 3-7 3-5 3 25 3-44 3 16 3 27 3-26 3 13 3-1 3 1 3-15 3-6 3-7 3 4 3 0 3-18 3 52 3-15 3-1 3 0 3-6 3 10 3 0 3-6 3-37 3 36 3-13 3-5 3-16 3 7 3 11 3 9 3-5 3 1 3-5 3 16 3-25 3 16 3 10 3 5 3-27 3 15 3-16 3-1 3-18 3 38 3-23 3 20 3-1 3-3 3-23 3 14 3 2 3 21 3-20 3 2 3 26 3-9 3 9"/>
<path stroke="#0000ff" d="M3432 1110l3-22 3 12 3 43 3-37 3 3 3-10 3 38 3-32 3 29 3-10 3-35 3 86 3-55 3-23 3 51 3-23 3-11 3-31 3-1 3 44 3 2 3-56 3 14 3 12 3 18 3-33 3 31 3-9 3 7 3-57 3 12 3-40 3 45 3-86 3-9 3-38 3-62 3-74 3 8 3 176 3 213 3 5 3-87 3-64 3-17 3-18 3 33 3 34 3-9 3-6 3 6 3-10 3 24 3 9 3 3 3 3 3-9 3-1 3 9 3 36 3-54 3 32 3-5 3-13 3 46 3-12 3-43 3 65 3-23 3-5 3-42 3 30 3-44 3 52 3-11 3 13 3-16 3-24 3-4 3 30 3 3 3 17 3-7 3-67 3 83 3-35 3-50 3 43 3 51 3-43 3 10 3 9 3 69 3-115 3 9 3-33 3 67 3-25 3 32 3 22 3-46 3-1 3-23 3 2 3-1 3 41 3-26 3 64 3-128 3 101 3-68 3-65 3-37 3-12 3-11 3 106 3 8 3 37 3-27 3 108 3-66 3-39 3 52 3-21 3-22 3 1 3-20 3 25 3 36 3-71 3 84 3-28 3-102 3 101 3-18 3 47 3-68 3 40 3-21 3-1 3 46 3 9 3-21 3-18 3 40 3-7 3 27 3-4 3-25 3 31 3-1 3-6 3 1 3 8 3-30 3 19 3 10 3-6 3-23 3 18 3 0 3-8 3 23 3-32 3 34 3-27 3 4 3 17 3-26 3-4 3 16 3 26 3-24 3-13 3 8 3-34 3 21 3 36 3-28 3-38 3-12 3-34 3-11 3-43 3 53 3-12 3-10 3 64 3 18 3 34 3 6 3-33 3 22 3-5 3-51 3 9 3 9 3-9 3-20 3-57 3-30 3-73 3-9 3 49 3 113 3 96 3-35 3-4 3-13 3 4 3 28 3-25 3 39 3-45 3-2 3 18 3 14 3-11 3 12 3-27 3 17 3-4 3 1 3-16 3 11 3 12 3-34 3 3 3 31 3 1 3-25 3-7 3 23 3-9 3 9 3-9 3-28 3 10 3-5 3-3 3 18 3 4 3 9 3-38 3-10 3-4 3-27 3 22 3 45 3-15 3 2 3 4 3 2 3-3 3 18 3-19 3-4 3 15 3 14 3-6 3 5 3-33 3 15 3-11 3-27 3 31 3-35 3 28 3 1 3-22 3 32 3-8 3 49 3 15 3-22 3 0 3-38 3 23 3-12 3-1 3-26 3 20 3-1 3-17 3-4 3-9 3 10 3 0 3-29 3 29 3-30 3 9 3 17 3-34 3 16 3-5 3-19 3-16 3-70 3-35 3-75 3-58 3 65 3 139 3 225 3-7 3-46 3-44 3 13 3-2 3-18 3 24 3-16 3-10 3 34 3-28 3 18 3 8 3 12 3-32 3-17 3 4 3-7 3-9 3 24 3-26 3 9 3 8 3-18 3 21 3 5 3-20 3-16 3 30 3 10 3-31 3 35 3-23 3-1 3 18 3-1 3-16 3 17 3-17 3 9 3-5 3-10 3 5 3 14 3-20 3 10 3 2 3-20 3 19 3-12 3 6 3 10 3-2 3-24 3 10 3 18 3-5 3 2 3-4 3 1 3-11 3 32 3-16 3-8 3 7 3 20 3-20 3 2 3-6 3-11 3 20 3 12 3-13 3-6 3-4 3 10 3 2 3-7 3 23 3-22 3-24 3 41 3-20 3 1 3 2 3 1 3 24 3-2 3-12 3 18"/>
<path stroke="#008000" d="M3432 1111l3-19 3-7 3 28 3-45 3 20 3 38 3-26 3-25 3 72 3 2 3-28 3-11 3-8 3 5 3-11 3-13 3 41 3-38 3-4 3 7 3 9 3-19 3 37 3-15 3 8 3-33 3-27 3 10 3 9 3-22 3 11 3 8 3-66 3-3 3-15 3-69 3 14 3-5 3 79 3 146 3 35 3-56 3-68 3-14 3 14 3-26 3 48 3-25 3 39 3-13 3 13 3 14 3-9 3 9 3 45 3-45 3 18 3-44 3 9 3 31 3-1 3-8 3 4 3 14 3-35 3-17 3 52 3 15 3-7 3-15 3-21 3 1 3 7 3-17 3 17 3-3 3 29 3 4 3-30 3-12 3 8 3-17 3 27 3-19 3 30 3-7 3-3 3-41 3 5 3 19 3-9 3-27 3 35 3-5 3 14 3-40 3 81 3-111 3 100 3-44 3 48 3-14 3-91 3 31 3-8 3 22 3-10 3 12 3-43 3 0 3-16 3-85 3-11 3 45 3 60 3-21 3 145 3-113 3 12 3 47 3-13 3 7 3 25 3-49 3-38 3-19 3 6 3 14 3 27 3 17 3 30 3-42 3 34 3 48 3-79 3 27 3 42 3-47 3-14 3-2 3 55 3-81 3 23 3 34 3-17 3 7 3 4 3 7 3 16 3-62 3 42 3-11 3 49 3 10 3-24 3 5 3 3 3-20 3 55 3-41 3-26 3 41 3 7 3-34 3 33 3-22 3 5 3 2 3 4 3-32 3 29 3-26 3-8 3 19 3 19 3-35 3 3 3-45 3-3 3-27 3-37 3-71 3-44 3 36 3 52 3 20 3 69 3 44 3 34 3-24 3-2 3-20 3 17 3-18 3 24 3-36 3 9 3-3 3-83 3-14 3-109 3-28 3 66 3 82 3 88 3 35 3 1 3-9 3-12 3 17 3-6 3 37 3-24 3-7 3-14 3 17 3-8 3-5 3-10 3-15 3 30 3-33 3 12 3-21 3 33 3-10 3 14 3-36 3 14 3 11 3-14 3 15 3 15 3-33 3-4 3 18 3-17 3-3 3-9 3 14 3 8 3-25 3 1 3-15 3-26 3 36 3-2 3 2 3 7 3 38 3 9 3-17 3 6 3-30 3-7 3 32 3-7 3 14 3-21 3 12 3-23 3 1 3 6 3-8 3-21 3 32 3-24 3-3 3 47 3-9 3 35 3 4 3 17 3-27 3-20 3-16 3 25 3-27 3 14 3-26 3-8 3-3 3-6 3 8 3 23 3-17 3-27 3-3 3 9 3 16 3-10 3 4 3-12 3-16 3-25 3-35 3-26 3-63 3-91 3-70 3-46 3 83 3 150 3 210 3 8 3-21 3-10 3 12 3 0 3-9 3 14 3 9 3 11 3-22 3 5 3-23 3 17 3 8 3-11 3 5 3-23 3 9 3-1 3-11 3 26 3 8 3-36 3 48 3-7 3-28 3-12 3 24 3 17 3-23 3 15 3-4 3 0 3-15 3 10 3 22 3-36 3 28 3-1 3-14 3 28 3-16 3-27 3 39 3-31 3 9 3-13 3 14 3-5 3 26 3-19 3 12 3-13 3-9 3 18 3-4 3-7 3 7 3 15 3-15 3 13 3-12 3-3 3-6 3 15 3-8 3-23 3 24 3 29 3-34 3 8 3-40 3 36 3 3 3 9 3-38 3 19 3 5 3 20 3-12 3-3 3-19 3 8 3 0 3 11 3-8 3 13 3-11 3 6 3 5 3-4"/>
<path stroke="#ff0000" d="M3432 1139l3-1 3-1 3 0 3 3 3 21 3-14 3-21 3 10 3 48 3-21 3-23 3 22 3-20 3 27 3-28 3 10 3-18 3-20 3 15 3 10 3 27 3-58 3 27 3-15 3-3 3 25 3-23 3 3 3 7 3-24 3 19 3-29 3-26 3 23 3-3 3-15 3-49 3-39 3 22 3 15 3 110 3 181 3-90 3-70 3-74 3 37 3-40 3 29 3-48 3 56 3-25 3 32 3-21 3 28 3-14 3 26 3-35 3 15 3-15 3 1 3 6 3-5 3-38 3 23 3 39 3-8 3 6 3-16 3-2 3-5 3 19 3 5 3-5 3 6 3-2 3 18 3-49 3 28 3-31 3 46 3-22 3-6 3 58 3-62 3 17 3 28 3-48 3 23 3 25 3-12 3-68 3 73 3-22 3 27 3-74 3-5 3 74 3-11 3 36 3-54 3-8 3 67 3-61 3-37 3-37 3 17 3 7 3 34 3 37 3-52 3-54 3 35 3-77 3-6 3 32 3 43 3-16 3 74 3-16 3-2 3 49 3-4 3-55 3 33 3-33 3 40 3-8 3-32 3 32 3 19 3 9 3-102 3-44 3 31 3 54 3 21 3-26 3 44 3-31 3-48 3 3 3 24 3 41 3 16 3 3 3-46 3 41 3-78 3 56 3-26 3 39 3 45 3-20 3 12 3 1 3-29 3 24 3-5 3 19 3-45 3-3 3 27 3 15 3-19 3-20 3 22 3-14 3 25 3 18 3 0 3-29 3-5 3-4 3 23 3-7 3 8 3-24 3-21 3 19 3-14 3-4 3-40 3-55 3-33 3 7 3-3 3 4 3 32 3 103 3 0 3 68 3-38 3-2 3-40 3 34 3-11 3-15 3 11 3-17 3-32 3-79 3-53 3-10 3 65 3 46 3 81 3 79 3-62 3 15 3-34 3 1 3-25 3 31 3 1 3-7 3 8 3 11 3-17 3 38 3-43 3 6 3 7 3-1 3-3 3 8 3 11 3-38 3 9 3-7 3 23 3-13 3 7 3-1 3-10 3 2 3-7 3-5 3 40 3-61 3 28 3-37 3 26 3 12 3-14 3 22 3-47 3-27 3 2 3 28 3 11 3-7 3-6 3 22 3 3 3-3 3-13 3 26 3-12 3 12 3-3 3-5 3-1 3-8 3 11 3-25 3 0 3-18 3 43 3-7 3-5 3 21 3-11 3 31 3 2 3-33 3 34 3-30 3-19 3 17 3 4 3-15 3-4 3-1 3 19 3 3 3-42 3-8 3-5 3-15 3 17 3 15 3-18 3 32 3-7 3-29 3 6 3-11 3-25 3-35 3-30 3-73 3-77 3-9 3 94 3 150 3 109 3-4 3-39 3-13 3-1 3 2 3 12 3-1 3 8 3 24 3-10 3-8 3 2 3 23 3-29 3 10 3 15 3-44 3 28 3-24 3 32 3-23 3 18 3-31 3 34 3 0 3-3 3 5 3-3 3-24 3 30 3-9 3-5 3 14 3 5 3-18 3 33 3-32 3-2 3 19 3-14 3-5 3-7 3 15 3 3 3 4 3-15 3-1 3 29 3-20 3 15 3-27 3 21 3-5 3 19 3-24 3 24 3-19 3 1 3-6 3 7 3-10 3-3 3 5 3-4 3 1 3-4 3 17 3-16 3 3 3-17 3 30 3-18 3 2 3 13 3-2 3-6 3-7 3 3 3 2 3 8 3 10 3-17 3-15 3 8 3-3 3-4 3 8 3 9 3 23"/>
<path stroke="#00bfbf" d="M3432 1126l3 39 3-22 3 1 3 29 3-32 3 9 3 8 3-10 3-1 3 10 3-32 3 27 3-13 3-16 3 12 3 46 3-40 3-2 3 13 3 0 3-49 3 19 3 30 3-1 3-30 3-29 3 17 3 12 3-55 3 39 3-12 3 2 3-9 3-40 3-24 3 6 3-82 3-69 3-69 3 29 3 216 3 172 3-14 3-123 3-15 3-26 3-21 3 1 3 33 3 25 3 18 3-20 3 24 3-42 3 78 3 13 3-31 3-2 3-23 3 13 3 4 3 1 3 16 3 0 3-13 3 20 3 10 3-13 3 15 3-9 3 15 3-23 3-11 3-12 3 15 3 13 3 0 3 4 3 22 3-40 3 11 3 22 3 6 3-35 3 33 3 5 3-44 3 38 3-24 3-4 3 0 3 9 3-24 3-12 3-66 3 55 3 10 3-4 3 58 3-46 3-32 3 67 3-52 3-12 3 2 3 0 3 41 3-58 3 72 3-23 3-17 3-59 3 71 3-122 3 26 3 46 3 21 3 40 3-7 3 53 3-16 3 12 3 2 3-5 3-66 3 11 3 0 3-15 3 21 3 31 3-2 3 42 3-62 3-5 3 5 3 20 3-6 3 32 3-92 3 15 3 16 3-25 3 9 3 98 3-76 3 17 3 16 3 31 3-103 3 80 3 20 3-15 3 5 3 38 3-58 3-3 3 42 3 6 3-26 3-17 3-33 3 53 3-14 3-14 3 4 3 13 3 10 3-6 3-19 3 34 3-14 3-8 3 7 3-38 3 31 3 5 3-34 3 49 3-53 3 3 3-17 3-47 3-56 3-30 3 14 3 31 3 14 3 41 3 30 3 33 3 45 3-34 3-25 3-1 3-7 3-9 3-18 3 7 3-54 3-3 3-57 3-89 3-37 3 57 3 111 3 34 3 82 3-2 3 3 3-8 3-6 3-1 3-16 3 16 3 1 3-6 3 12 3-11 3 11 3 12 3-19 3 3 3-1 3 6 3 13 3-29 3-6 3-2 3 40 3-6 3-3 3-12 3 1 3 17 3-25 3 19 3-8 3 22 3-11 3 3 3-20 3 7 3-9 3-26 3 7 3 4 3-24 3-25 3 40 3 29 3-11 3-10 3 22 3-5 3 35 3-35 3 38 3-24 3 5 3-26 3 19 3 5 3-18 3 15 3 14 3-16 3-29 3 18 3 27 3 7 3-10 3 18 3 11 3 4 3-3 3-18 3-13 3 13 3-7 3-15 3-3 3-12 3 2 3-8 3-25 3 17 3-12 3-14 3-1 3-23 3 43 3-5 3 4 3-47 3 24 3-43 3-21 3-6 3-54 3-55 3-75 3-82 3-20 3 134 3 188 3 149 3-4 3-47 3-16 3 2 3 38 3-38 3 22 3-17 3-4 3 8 3 7 3-13 3 2 3-5 3 9 3-17 3 18 3-32 3 0 3 11 3 4 3 23 3-54 3 35 3 2 3-17 3 16 3-9 3 7 3-32 3 25 3-20 3 0 3 10 3-16 3 16 3 17 3-9 3 3 3-18 3-8 3 37 3-19 3-7 3 8 3-20 3 14 3 6 3-8 3 17 3 6 3 18 3-32 3-9 3-10 3 19 3-8 3-3 3 18 3 3 3-14 3 9 3-2 3-6 3-5 3 0 3 5 3 19 3-7 3-21 3 5 3-5 3 5 3 15 3-14 3-6 3 11 3-5 3-4 3 26 3-24 3-1 3-11 3 16 3 15 3-6 3-21 3 24 3 9"/>
<path stroke="#bf00bf" d="M3432 1142l3-1 3 1 3-1 3-25 3 3 3-1 3-7 3-9 3 16 3 10 3-7 3 4 3 15 3-35 3 12 3-14 3-2 3 19 3 23 3-6 3-36 3 12 3 4 3-6 3-9 3 19 3 0 3-19 3-9 3-25 3 19 3-20 3-41 3 3 3-18 3-36 3-80 3-43 3 109 3 155 3 128 3-119 3-75 3 22 3-42 3-14 3-8 3 34 3 4 3 10 3 28 3 22 3-32 3 20 3 6 3-8 3-17 3 10 3 27 3-24 3 17 3-42 3 27 3 18 3-28 3 5 3 9 3 8 3 3 3-54 3 42 3-2 3-21 3 19 3 32 3-8 3-24 3 12 3 23 3-12 3-31 3 41 3 9 3-30 3 18 3 36 3-10 3-34 3-9 3-12 3 1 3 44 3-29 3-24 3 32 3 7 3-4 3 49 3 10 3-94 3 35 3-23 3-4 3 19 3 1 3-19 3 36 3-30 3-40 3-13 3 27 3-30 3 0 3-73 3 28 3 66 3 45 3-53 3 50 3-25 3-3 3 20 3 26 3-86 3 61 3-89 3 22 3 18 3-15 3 35 3 60 3-76 3 1 3 67 3 2 3 2 3-5 3 17 3-83 3 46 3-7 3 28 3 17 3-66 3 4 3 25 3-6 3-13 3 47 3-18 3 38 3-39 3 73 3-35 3-10 3 5 3-33 3 4 3 36 3 34 3-43 3-27 3 24 3 3 3 31 3-50 3 42 3-43 3 1 3-27 3 41 3-5 3-5 3 10 3-15 3 12 3-38 3-6 3-4 3-2 3-70 3-50 3 27 3 3 3 17 3 7 3 38 3 55 3 18 3-6 3 22 3 8 3-8 3-35 3-8 3-2 3 16 3-28 3-41 3-48 3-82 3 1 3 58 3 77 3 64 3 51 3-17 3-10 3-3 3 6 3-2 3-10 3 13 3-3 3-19 3-8 3 0 3 14 3-5 3-21 3 5 3-13 3 8 3-3 3 32 3-12 3-21 3 25 3-19 3 5 3 8 3-9 3 10 3-33 3 41 3-22 3 28 3-6 3-31 3 1 3 12 3-13 3 0 3-29 3 31 3-30 3 29 3-4 3 25 3 0 3-12 3 3 3-9 3 7 3-7 3-12 3 18 3-45 3 48 3-14 3-34 3 13 3 6 3 2 3 2 3-18 3-2 3 34 3 21 3 19 3-15 3 2 3 11 3 7 3 12 3-17 3-11 3-35 3 48 3-46 3 22 3-30 3 11 3-9 3-9 3 3 3-26 3 32 3-34 3 9 3 20 3-50 3 43 3-58 3 27 3-41 3-22 3-60 3-31 3-31 3-76 3-9 3 81 3 165 3 74 3-3 3 4 3 12 3 10 3 6 3 9 3-25 3 20 3 16 3-26 3 15 3 6 3-10 3-9 3 38 3-38 3 20 3-36 3 28 3 29 3-29 3 3 3-11 3 20 3-24 3 11 3 6 3 1 3-18 3-12 3 22 3-16 3 21 3-12 3-20 3 7 3 28 3-15 3 6 3 1 3-3 3 8 3-18 3-3 3 2 3-3 3 1 3 7 3 11 3-13 3 3 3-13 3 15 3 19 3-19 3-18 3 1 3 26 3-13 3-22 3 30 3 2 3 14 3-19 3 11 3-9 3-12 3 26 3-31 3-6 3 20 3-6 3 21 3-13 3 18 3-29 3 14 3 13 3-17 3 17 3-12 3 22 3-31 3-4 3 10 3 30 3-17 3-28 3 15 3-5"/>
<path stroke="#bfbf00" d="M3432 1177l3-59 3 66 3-16 3-19 3-11 3 31 3-28 3 28 3 3 3-31 3 15 3 10 3 25 3-67 3-5 3 42 3-20 3-6 3-11 3-9 3 15 3 0 3 5 3-19 3 9 3-19 3 29 3-4 3-37 3-15 3 1 3-21 3-24 3-2 3-66 3-4 3 25 3-87 3-33 3 112 3 182 3 74 3-115 3-39 3-30 3-7 3 12 3-23 3 3 3 24 3 28 3 9 3 9 3 28 3-27 3 22 3-38 3 9 3 17 3 10 3-37 3 9 3-7 3 4 3 7 3-4 3 1 3-18 3 9 3 42 3-32 3 11 3 4 3 21 3-19 3 36 3-33 3 4 3-4 3 2 3-16 3 47 3-31 3 56 3-76 3 35 3 5 3 16 3 0 3-79 3 29 3 17 3-32 3 27 3 35 3-78 3 35 3 49 3-56 3 49 3-58 3 19 3-17 3-26 3 70 3-107 3 99 3-34 3 24 3 31 3-69 3-90 3-42 3-4 3 90 3 28 3-1 3 0 3 49 3 13 3-5 3-13 3 32 3 22 3 4 3-103 3-42 3-53 3 58 3 41 3 71 3-47 3-27 3-44 3 59 3 57 3 32 3-7 3-82 3-43 3 7 3 66 3 47 3-71 3 68 3-2 3-39 3 0 3-24 3 9 3 66 3-44 3 26 3-25 3 18 3-10 3 21 3-15 3 13 3 0 3-15 3 24 3 0 3 6 3-1 3-22 3-26 3 23 3 0 3 19 3-36 3 38 3-25 3-19 3 10 3-6 3 1 3 15 3 12 3-40 3-39 3-86 3-17 3-26 3 20 3 7 3 18 3 78 3 76 3 6 3 7 3-19 3-1 3 6 3-45 3 21 3-8 3-27 3-18 3-52 3-80 3-55 3 6 3 62 3 107 3 59 3 18 3 23 3-40 3 32 3-16 3 12 3 15 3 13 3 10 3-16 3-40 3 13 3-8 3 28 3 0 3-21 3 19 3-8 3 2 3 12 3-16 3-16 3 2 3-7 3 20 3-51 3 43 3-9 3 6 3-17 3 39 3-9 3 2 3-36 3 32 3-28 3 12 3-29 3 10 3 1 3-30 3 33 3-2 3-6 3 6 3 18 3-15 3 0 3 21 3-11 3-11 3 17 3-6 3 35 3-24 3-2 3-26 3 11 3-7 3-31 3-16 3 63 3-25 3 26 3-12 3 50 3 21 3 11 3-12 3-44 3-7 3-11 3-5 3-6 3 33 3-28 3-6 3 5 3-13 3-1 3-49 3 35 3-38 3 35 3-8 3 21 3-18 3-23 3-9 3 19 3-49 3-21 3-29 3-52 3-99 3-63 3 62 3 188 3 227 3-6 3-42 3-16 3-3 3-9 3 16 3-28 3 3 3 3 3 25 3-12 3-12 3 23 3-13 3 21 3-43 3 6 3-11 3 19 3-10 3 36 3-25 3-9 3 13 3 1 3-6 3-3 3 2 3-5 3 19 3-13 3 8 3-23 3-1 3 16 3-23 3 24 3-1 3-44 3 31 3 14 3 12 3-15 3-5 3 3 3-12 3 13 3 14 3-27 3 23 3 4 3 25 3-70 3 28 3 41 3-37 3-15 3-11 3 25 3-11 3 14 3-12 3 27 3-20 3 1 3 9 3-22 3 5 3-11 3 20 3-25 3 16 3 4 3 5 3 2 3-6 3-12 3-17 3 10 3 31 3-18 3-11 3 21 3-14 3 33 3-38 3 25 3-41 3 36 3-3"/>
<path stroke="#404040" d="M3432 1113l3-22 3 9 3 12 3-3 3-6 3 29 3-20 3-19 3 5 3 26 3-65 3 35 3 38 3-18 3 5 3-1 3-25 3 19 3-21 3-14 3 9 3-8 3 34 3-23 3-5 3 2 3 6 3 15 3-32 3-11 3-1 3 16 3-30 3-28 3-4 3-36 3-27 3 5 3 1 3 68 3 186 3 56 3-158 3-61 3-16 3 8 3-11 3 22 3 0 3 23 3-12 3 10 3 17 3 1 3 17 3-17 3 29 3-14 3-43 3 0 3 58 3-6 3-21 3-11 3 43 3-20 3 9 3 19 3-46 3 14 3-15 3-6 3 28 3-6 3 6 3 11 3-7 3-17 3 9 3-27 3 70 3-9 3-36 3 1 3 27 3-9 3-2 3-2 3 9 3-9 3-37 3 74 3-58 3-31 3 18 3 10 3-1 3-37 3 56 3 31 3-51 3 36 3-52 3 7 3 7 3 10 3 22 3 40 3-71 3-6 3-58 3 8 3-53 3-79 3 22 3 61 3 68 3 44 3 57 3-78 3 3 3-5 3 0 3-20 3 10 3-22 3-42 3 30 3 82 3-29 3-38 3 10 3-48 3 30 3-14 3 86 3-19 3 46 3-72 3 29 3-30 3 112 3-19 3-23 3-34 3-14 3 8 3-1 3 26 3-56 3 28 3 53 3-24 3-6 3 17 3-10 3 4 3-1 3 9 3 24 3-15 3-31 3 24 3 13 3-2 3-7 3-47 3 44 3 11 3-3 3-25 3 14 3 9 3 16 3-27 3 1 3-34 3 56 3-11 3-54 3-25 3-48 3-69 3 30 3 26 3 0 3 7 3 65 3 41 3 29 3 2 3 4 3-41 3 15 3 16 3-31 3-5 3-49 3-2 3-16 3-100 3-70 3 8 3 72 3 95 3 83 3 48 3 11 3-36 3-11 3-10 3-13 3 45 3-20 3-11 3 33 3-40 3 22 3 5 3-7 3 4 3-18 3 23 3-4 3-16 3-11 3 11 3 2 3 6 3-14 3 16 3-37 3 6 3 21 3-10 3-18 3-2 3 30 3-14 3-21 3 35 3-18 3-38 3 24 3-50 3-4 3-20 3 28 3 57 3-8 3-13 3 0 3 17 3-8 3 8 3 32 3-7 3-20 3 13 3-46 3 38 3-18 3-5 3 8 3-3 3-30 3-3 3 14 3 22 3-15 3 2 3 47 3 8 3 34 3-30 3-42 3 3 3 19 3-18 3-25 3-4 3 29 3-23 3-9 3 10 3-45 3 21 3-32 3 37 3-24 3 2 3-17 3 35 3-11 3-35 3 10 3-13 3-35 3-67 3-75 3-69 3-70 3 58 3 233 3 217 3-41 3-4 3-26 3-18 3 30 3-15 3 6 3 20 3 6 3-33 3 3 3-7 3 6 3-27 3 53 3-22 3-28 3 6 3 32 3-32 3-1 3 1 3 0 3-12 3 54 3-35 3 20 3-11 3-16 3 17 3-10 3 10 3-7 3 5 3-29 3 36 3-15 3 6 3-7 3-5 3 21 3-15 3-18 3 12 3 25 3-31 3 12 3 18 3-12 3 7 3-11 3 2 3-4 3-19 3 28 3 11 3-2 3-5 3 2 3-19 3-16 3-8 3 16 3 5 3 14 3-15 3 16 3-6 3-2 3-22 3-1 3 0 3 1 3 3 3 28 3 3 3-29 3-7 3 24 3 0 3-7 3 1 3-4 3 33 3-24 3 10 3 3 3-31 3 21 3-2"/>
</g>
<g stroke="#000" fill="none">
<path stroke-width="2" d="M1716.0 660.3H2308.0"/>
<path stroke-width="1.7" d="M1797.9 660V654.3M1871.8 660V654.3M1945.7 660V654.3M2019.5 660V654.3M2093.4 660V654.3M2167.3 660V654.3M2241.2 660V654.3"/>
</g>
<text class="tk" x="1873.0" y="689.4" text-anchor="middle">4</text>
<text class="tk" x="2020.8" y="689.4" text-anchor="middle">3</text>
<text class="tk" x="2168.5" y="689.4" text-anchor="middle">2</text>
<text class="lb" x="1862.2" y="731.7" textLength="317.4" lengthAdjust="spacingAndGlyphs">Frequency (ppm)</text>
<text class="it" x="1767.5" y="100.7" textLength="320.5" lengthAdjust="spacingAndGlyphs">After removal of</text>
<text class="it" x="1766.2" y="155.2" textLength="343.5" lengthAdjust="spacingAndGlyphs">motion-corrupted</text>
<text class="it" x="1765.5" y="209.7" textLength="187.5" lengthAdjust="spacingAndGlyphs">averages</text>
<path d="M611.0 378.5H728.0" stroke="#000" stroke-width="4.6" fill="none"/>
<path d="M753.0 378.5Q733.0 370.5 717.7 358.8L724.5 378.5L717.7 398.2Q733.0 386.5 753.0 378.5Z" fill="#000"/>
<path d="M1476.0 389.0H1592.6" stroke="#000" stroke-width="4.6" fill="none"/>
<path d="M1617.6 389.0Q1597.6 381.0 1582.3 369.3L1589.1 389.0L1582.3 408.7Q1597.6 397.0 1617.6 389.0Z" fill="#000"/>
<g stroke="#000" fill="none">
<path stroke-width="2" d="M916.3 153V662.6H1374.8"/>
<path stroke-width="1.6" d="M916.8 611.6h4.6M916.8 560.7h4.6M916.8 509.8h4.6M916.8 458.8h4.6M916.8 407.9h4.6M916.8 356.9h4.6M916.8 306.0h4.6M916.8 255.0h4.6M916.8 204.1h4.6M916.8 153.1h4.6M973.5 662.1v-5M1030.7 662.1v-5M1087.9 662.1v-5M1145.1 662.1v-5M1202.3 662.1v-5M1259.5 662.1v-5M1316.7 662.1v-5M1373.9 662.1v-5"/>
</g>
<text class="tk" x="909" y="671.8" text-anchor="end">0</text>
<text class="tk" x="909" y="567.7" text-anchor="end">0.2</text>
<text class="tk" x="909" y="465.8" text-anchor="end">0.4</text>
<text class="tk" x="909" y="363.9" text-anchor="end">0.6</text>
<text class="tk" x="909" y="262.0" text-anchor="end">0.8</text>
<text class="tk" x="909" y="160.0" text-anchor="end">1</text>
<text class="tk" x="917.8" y="692.6" text-anchor="middle">0</text>
<text class="tk" x="1030.7" y="692.6" text-anchor="middle">20</text>
<text class="tk" x="1145.1" y="692.6" text-anchor="middle">40</text>
<text class="tk" x="1259.5" y="692.6" text-anchor="middle">60</text>
<text class="tk" x="1373.9" y="692.6" text-anchor="middle">80</text>
<text class="lb" x="1052.5" y="730" textLength="188" lengthAdjust="spacingAndGlyphs">Average #</text>
<text class="lb" transform="translate(844 585.8) rotate(-90)" textLength="300" lengthAdjust="spacingAndGlyphs">Deviation Metric</text>
<path fill="none" stroke="#ff0000" stroke-width="3.2" stroke-dasharray="9.6 6.9" d="M921.8 470.7L929.5 468.7L937.1 466.7L944.8 464.8L952.5 462.9L960.2 461.1L967.8 459.4L975.5 457.7L983.2 456.1L990.8 454.6L998.5 453.1L1006.2 451.7L1013.9 450.4L1021.5 449.1L1029.2 447.8L1036.9 446.7L1044.5 445.6L1052.2 444.5L1059.9 443.5L1067.6 442.6L1075.2 441.8L1082.9 441.0L1090.6 440.3L1098.2 439.6L1105.9 439.0L1113.6 438.5L1121.3 438.0L1128.9 437.6L1136.6 437.2L1144.3 436.9L1151.9 436.7L1159.6 436.5L1167.3 436.4L1174.9 436.4L1182.6 436.4L1190.3 436.5L1198.0 436.7L1205.6 436.9L1213.3 437.1L1221.0 437.5L1228.6 437.9L1236.3 438.3L1244.0 438.9L1251.7 439.5L1259.3 440.1L1267.0 440.8L1274.7 441.6L1282.3 442.4L1290.0 443.3L1297.7 444.3L1305.4 445.3L1313.0 446.4L1320.7 447.6L1328.4 448.8L1336.0 450.1L1343.7 451.4L1351.4 452.8L1359.1 454.3L1366.7 455.8L1374.4 457.4"/>
<g fill="#0000ff">
<circle cx="922.0" cy="632.6" r="5.1"/>
<circle cx="927.7" cy="633.2" r="5.1"/>
<circle cx="933.5" cy="638.9" r="5.1"/>
<circle cx="939.2" cy="636.8" r="5.1"/>
<circle cx="944.9" cy="633.0" r="5.1"/>
<circle cx="950.6" cy="640.0" r="5.1"/>
<circle cx="956.3" cy="635.7" r="5.1"/>
<circle cx="962.1" cy="647.4" r="5.1"/>
<circle cx="967.8" cy="638.3" r="5.1"/>
<circle cx="973.5" cy="638.3" r="5.1"/>
<circle cx="979.2" cy="641.7" r="5.1"/>
<circle cx="984.9" cy="645.3" r="5.1"/>
<circle cx="990.7" cy="641.7" r="5.1"/>
<circle cx="996.4" cy="636.8" r="5.1"/>
<circle cx="1002.1" cy="635.3" r="5.1"/>
<circle cx="1007.8" cy="638.9" r="5.1"/>
<circle cx="1013.5" cy="635.7" r="5.1"/>
<circle cx="1019.3" cy="567.7" r="5.1"/>
<circle cx="1025.0" cy="635.3" r="5.1"/>
<circle cx="1030.7" cy="644.3" r="5.1"/>
<circle cx="1036.4" cy="644.3" r="5.1"/>
<circle cx="1042.1" cy="639.6" r="5.1"/>
<circle cx="1047.9" cy="641.1" r="5.1"/>
<circle cx="1053.6" cy="643.8" r="5.1"/>
<circle cx="1059.3" cy="642.6" r="5.1"/>
<circle cx="1065.0" cy="643.6" r="5.1"/>
<circle cx="1070.7" cy="634.0" r="5.1"/>
<circle cx="1076.5" cy="640.0" r="5.1"/>
<circle cx="1082.2" cy="642.1" r="5.1"/>
<circle cx="1087.9" cy="642.8" r="5.1"/>
<circle cx="1093.6" cy="644.9" r="5.1"/>
<circle cx="1099.3" cy="604.5" r="5.1"/>
<circle cx="1105.1" cy="612.3" r="5.1"/>
<circle cx="1110.8" cy="600.2" r="5.1"/>
<circle cx="1116.5" cy="625.5" r="5.1"/>
<circle cx="1122.2" cy="614.5" r="5.1"/>
<circle cx="1127.9" cy="607.0" r="5.1"/>
<circle cx="1133.7" cy="592.1" r="5.1"/>
<circle cx="1139.4" cy="610.2" r="5.1"/>
<circle cx="1145.1" cy="631.9" r="5.1"/>
<circle cx="1150.8" cy="616.2" r="5.1"/>
<circle cx="1156.5" cy="631.1" r="5.1"/>
<circle cx="1162.3" cy="620.9" r="5.1"/>
<circle cx="1168.0" cy="159.3" r="5.1"/>
<circle cx="1173.7" cy="638.9" r="5.1"/>
<circle cx="1179.4" cy="641.7" r="5.1"/>
<circle cx="1185.1" cy="644.3" r="5.1"/>
<circle cx="1190.9" cy="645.7" r="5.1"/>
<circle cx="1196.6" cy="645.7" r="5.1"/>
<circle cx="1202.3" cy="599.1" r="5.1"/>
<circle cx="1208.0" cy="642.6" r="5.1"/>
<circle cx="1213.7" cy="640.0" r="5.1"/>
<circle cx="1219.5" cy="639.4" r="5.1"/>
<circle cx="1225.2" cy="562.3" r="5.1"/>
<circle cx="1230.9" cy="646.0" r="5.1"/>
<circle cx="1236.6" cy="647.0" r="5.1"/>
<circle cx="1242.3" cy="641.1" r="5.1"/>
<circle cx="1248.1" cy="637.9" r="5.1"/>
<circle cx="1253.8" cy="645.3" r="5.1"/>
<circle cx="1259.5" cy="648.5" r="5.1"/>
<circle cx="1265.2" cy="641.5" r="5.1"/>
<circle cx="1270.9" cy="598.5" r="5.1"/>
<circle cx="1276.7" cy="624.0" r="5.1"/>
<circle cx="1282.4" cy="602.3" r="5.1"/>
<circle cx="1288.1" cy="601.1" r="5.1"/>
<circle cx="1293.8" cy="635.3" r="5.1"/>
<circle cx="1299.5" cy="633.6" r="5.1"/>
<circle cx="1305.3" cy="636.4" r="5.1"/>
<circle cx="1311.0" cy="628.3" r="5.1"/>
<circle cx="1316.7" cy="643.2" r="5.1"/>
<circle cx="1322.4" cy="641.7" r="5.1"/>
<circle cx="1328.1" cy="633.6" r="5.1"/>
<circle cx="1333.9" cy="590.6" r="5.1"/>
<circle cx="1339.6" cy="633.2" r="5.1"/>
<circle cx="1345.3" cy="643.6" r="5.1"/>
<circle cx="1351.0" cy="615.1" r="5.1"/>
<circle cx="1356.7" cy="623.4" r="5.1"/>
<circle cx="1362.5" cy="639.6" r="5.1"/>
<circle cx="1368.2" cy="640.0" r="5.1"/>
<circle cx="1373.9" cy="609.8" r="5.1"/>
</g>
<path fill="none" stroke="#0a860a" stroke-width="3.4" d="M921.8 648.9L929.5 646.9L937.1 644.9L944.8 643.0L952.5 641.2L960.2 639.4L967.8 637.7L975.5 636.0L983.2 634.5L990.8 632.9L998.5 631.5L1006.2 630.1L1013.9 628.7L1021.5 627.4L1029.2 626.2L1036.9 625.1L1044.5 624.0L1052.2 622.9L1059.9 622.0L1067.6 621.1L1075.2 620.2L1082.9 619.4L1090.6 618.7L1098.2 618.1L1105.9 617.5L1113.6 616.9L1121.3 616.5L1128.9 616.1L1136.6 615.7L1144.3 615.4L1151.9 615.2L1159.6 615.0L1167.3 614.9L1174.9 614.9L1182.6 614.9L1190.3 615.0L1198.0 615.2L1205.6 615.4L1213.3 615.6L1221.0 616.0L1228.6 616.4L1236.3 616.8L1244.0 617.4L1251.7 617.9L1259.3 618.6L1267.0 619.3L1274.7 620.1L1282.3 620.9L1290.0 621.8L1297.7 622.7L1305.4 623.7L1313.0 624.8L1320.7 626.0L1328.4 627.2L1336.0 628.4L1343.7 629.8L1351.4 631.1L1359.1 632.6L1366.7 634.1L1374.4 635.7"/>
<path d="M1237.2 251.8H1295.4" stroke="#ff0000" stroke-width="3.4" stroke-dasharray="9.5 7.2" fill="none"/>
<path d="M1237.2 343H1295.4" stroke="#0a860a" stroke-width="2" fill="none"/>
<text class="lg" x="1310.6" y="238.0" textLength="148.5" lengthAdjust="spacingAndGlyphs">3.2 std dev</text>
<text class="lg" x="1310.6" y="277.8" textLength="134.0" lengthAdjust="spacingAndGlyphs">threshold</text>
<text class="lg" x="1310.6" y="334.4" textLength="78.5" lengthAdjust="spacingAndGlyphs">Mean</text>
<text class="lg" x="1310.6" y="374.3" textLength="131.0" lengthAdjust="spacingAndGlyphs">deviation</text>
</svg></body></html>
